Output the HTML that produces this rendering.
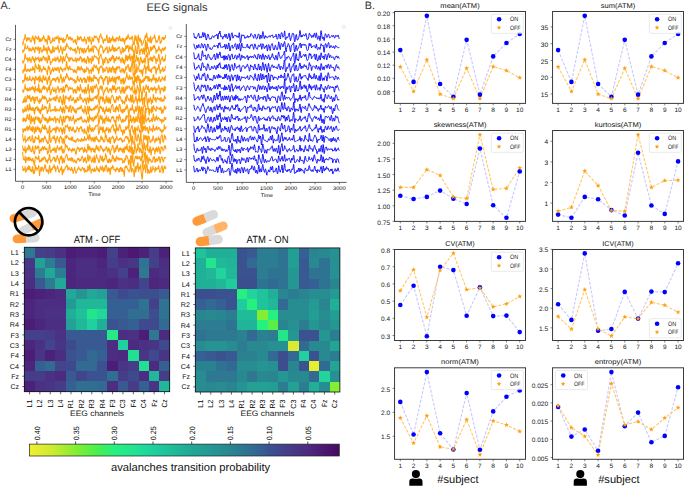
<!DOCTYPE html>
<html><head><meta charset="utf-8"><style>
html,body{margin:0;padding:0;background:#fff;width:685px;height:487px;overflow:hidden}
svg{display:block} text{font-family:"Liberation Sans",sans-serif;text-rendering:geometricPrecision}
</style></head><body>
<svg width="685" height="487" viewBox="0 0 685 487" font-family="Liberation Sans, sans-serif">
<rect width="685" height="487" fill="#fff"/>
<text x="0.6" y="8.9" font-size="10.8" text-anchor="start" fill="#333" >A.</text>
<text x="364.8" y="8.8" font-size="10.8" text-anchor="start" fill="#333" >B.</text>
<text x="177" y="10.9" font-size="11.1" text-anchor="middle" fill="#333" >EEG signals</text>
<line x1="15.5" y1="24.9" x2="15.5" y2="181.3" stroke="#333" stroke-width="0.8"/>
<line x1="15.5" y1="181.3" x2="172.9" y2="181.3" stroke="#333" stroke-width="0.8"/>
<line x1="13.5" y1="39.3" x2="15.5" y2="39.3" stroke="#333" stroke-width="0.6"/>
<text x="11.5" y="41.2" font-size="5.2" text-anchor="end" fill="#000"  textLength="6.11" lengthAdjust="spacingAndGlyphs">Cz</text>
<line x1="13.5" y1="49.3" x2="15.5" y2="49.3" stroke="#333" stroke-width="0.6"/>
<text x="11.5" y="51.2" font-size="5.2" text-anchor="end" fill="#000"  textLength="5.49" lengthAdjust="spacingAndGlyphs">Fz</text>
<line x1="13.5" y1="59.3" x2="15.5" y2="59.3" stroke="#333" stroke-width="0.6"/>
<text x="11.5" y="61.2" font-size="5.2" text-anchor="end" fill="#000"  textLength="6.67" lengthAdjust="spacingAndGlyphs">C4</text>
<line x1="13.5" y1="69.3" x2="15.5" y2="69.3" stroke="#333" stroke-width="0.6"/>
<text x="11.5" y="71.2" font-size="5.2" text-anchor="end" fill="#000"  textLength="6.06" lengthAdjust="spacingAndGlyphs">F4</text>
<line x1="13.5" y1="79.3" x2="15.5" y2="79.3" stroke="#333" stroke-width="0.6"/>
<text x="11.5" y="81.2" font-size="5.2" text-anchor="end" fill="#000"  textLength="6.67" lengthAdjust="spacingAndGlyphs">C3</text>
<line x1="13.5" y1="89.3" x2="15.5" y2="89.3" stroke="#333" stroke-width="0.6"/>
<text x="11.5" y="91.2" font-size="5.2" text-anchor="end" fill="#000"  textLength="6.06" lengthAdjust="spacingAndGlyphs">F3</text>
<line x1="13.5" y1="99.3" x2="15.5" y2="99.3" stroke="#333" stroke-width="0.6"/>
<text x="11.5" y="101.2" font-size="5.2" text-anchor="end" fill="#000"  textLength="6.66" lengthAdjust="spacingAndGlyphs">R4</text>
<line x1="13.5" y1="109.3" x2="15.5" y2="109.3" stroke="#333" stroke-width="0.6"/>
<text x="11.5" y="111.2" font-size="5.2" text-anchor="end" fill="#000"  textLength="6.66" lengthAdjust="spacingAndGlyphs">R3</text>
<line x1="13.5" y1="119.3" x2="15.5" y2="119.3" stroke="#333" stroke-width="0.6"/>
<text x="11.5" y="121.2" font-size="5.2" text-anchor="end" fill="#000"  textLength="6.66" lengthAdjust="spacingAndGlyphs">R2</text>
<line x1="13.5" y1="129.3" x2="15.5" y2="129.3" stroke="#333" stroke-width="0.6"/>
<text x="11.5" y="131.2" font-size="5.2" text-anchor="end" fill="#000"  textLength="6.66" lengthAdjust="spacingAndGlyphs">R1</text>
<line x1="13.5" y1="139.3" x2="15.5" y2="139.3" stroke="#333" stroke-width="0.6"/>
<text x="11.5" y="141.2" font-size="5.2" text-anchor="end" fill="#000"  textLength="5.97" lengthAdjust="spacingAndGlyphs">L4</text>
<line x1="13.5" y1="149.3" x2="15.5" y2="149.3" stroke="#333" stroke-width="0.6"/>
<text x="11.5" y="151.2" font-size="5.2" text-anchor="end" fill="#000"  textLength="5.97" lengthAdjust="spacingAndGlyphs">L3</text>
<line x1="13.5" y1="159.3" x2="15.5" y2="159.3" stroke="#333" stroke-width="0.6"/>
<text x="11.5" y="161.2" font-size="5.2" text-anchor="end" fill="#000"  textLength="5.97" lengthAdjust="spacingAndGlyphs">L2</text>
<line x1="13.5" y1="169.3" x2="15.5" y2="169.3" stroke="#333" stroke-width="0.6"/>
<text x="11.5" y="171.2" font-size="5.2" text-anchor="end" fill="#000"  textLength="5.97" lengthAdjust="spacingAndGlyphs">L1</text>
<line x1="22.6" y1="181.3" x2="22.6" y2="183.3" stroke="#333" stroke-width="0.6"/>
<text x="22.6" y="188.9" font-size="5.2" text-anchor="middle" fill="#000"  textLength="3.18" lengthAdjust="spacingAndGlyphs">0</text>
<line x1="46.5" y1="181.3" x2="46.5" y2="183.3" stroke="#333" stroke-width="0.6"/>
<text x="46.5" y="188.9" font-size="5.2" text-anchor="middle" fill="#000"  textLength="9.54" lengthAdjust="spacingAndGlyphs">500</text>
<line x1="70.4" y1="181.3" x2="70.4" y2="183.3" stroke="#333" stroke-width="0.6"/>
<text x="70.4" y="188.9" font-size="5.2" text-anchor="middle" fill="#000"  textLength="12.72" lengthAdjust="spacingAndGlyphs">1000</text>
<line x1="94.3" y1="181.3" x2="94.3" y2="183.3" stroke="#333" stroke-width="0.6"/>
<text x="94.3" y="188.9" font-size="5.2" text-anchor="middle" fill="#000"  textLength="12.72" lengthAdjust="spacingAndGlyphs">1500</text>
<line x1="118.2" y1="181.3" x2="118.2" y2="183.3" stroke="#333" stroke-width="0.6"/>
<text x="118.2" y="188.9" font-size="5.2" text-anchor="middle" fill="#000"  textLength="12.72" lengthAdjust="spacingAndGlyphs">2000</text>
<line x1="142.1" y1="181.3" x2="142.1" y2="183.3" stroke="#333" stroke-width="0.6"/>
<text x="142.1" y="188.9" font-size="5.2" text-anchor="middle" fill="#000"  textLength="12.72" lengthAdjust="spacingAndGlyphs">2500</text>
<line x1="166" y1="181.3" x2="166" y2="183.3" stroke="#333" stroke-width="0.6"/>
<text x="166" y="188.9" font-size="5.2" text-anchor="middle" fill="#000"  textLength="12.72" lengthAdjust="spacingAndGlyphs">3000</text>
<text x="94.5" y="195.7" font-size="5.1" text-anchor="middle" fill="#000"  textLength="11.99" lengthAdjust="spacingAndGlyphs">Time</text>
<polyline points="22.6,42.3 22.9,45.1 23.2,43.3 23.4,42.1 23.7,40.7 24.0,38.9 24.3,39.5 24.5,38.8 24.8,37.1 25.1,34.2 25.4,35.9 25.6,37.4 25.9,38.2 26.2,38.4 26.5,40.6 26.7,41.4 27.0,39.4 27.3,37.9 27.6,37.6 27.8,40.1 28.1,39.0 28.4,37.9 28.7,38.0 29.0,39.0 29.2,39.7 29.5,38.5 29.8,38.1 30.1,41.1 30.3,41.1 30.6,41.2 30.9,42.2 31.2,41.5 31.4,40.2 31.7,40.2 32.0,38.0 32.3,37.1 32.5,37.7 32.8,35.8 33.1,38.2 33.4,40.1 33.7,38.8 33.9,38.0 34.2,40.2 34.5,43.2 34.8,43.9 35.0,39.8 35.3,36.1 35.6,36.1 35.9,37.0 36.1,37.2 36.4,38.3 36.7,37.4 37.0,37.3 37.2,37.9 37.5,39.5 37.8,39.0 38.1,38.9 38.3,38.5 38.6,36.1 38.9,38.9 39.2,41.8 39.5,41.2 39.7,40.0 40.0,38.4 40.3,40.3 40.6,41.4 40.8,39.2 41.1,38.8 41.4,41.0 41.7,40.2 41.9,40.7 42.2,40.4 42.5,37.6 42.8,38.0 43.0,37.5 43.3,38.6 43.6,35.5 43.9,36.4 44.2,37.9 44.4,39.1 44.7,39.2 45.0,41.3 45.3,41.6 45.5,40.1 45.8,39.3 46.1,39.0 46.4,40.1 46.6,41.3 46.9,41.9 47.2,44.5 47.5,42.7 47.7,39.6 48.0,36.4 48.3,35.4 48.6,37.4 48.8,39.5 49.1,39.6 49.4,36.7 49.7,36.8 50.0,39.6 50.2,41.8 50.5,43.2 50.8,43.3 51.1,42.1 51.3,42.6 51.6,41.5 51.9,40.6 52.2,41.6 52.4,40.9 52.7,37.7 53.0,38.5 53.3,38.7 53.5,40.5 53.8,40.4 54.1,41.2 54.4,41.1 54.7,40.6 54.9,37.2 55.2,38.1 55.5,38.0 55.8,38.1 56.0,38.9 56.3,36.8 56.6,37.3 56.9,37.3 57.1,38.9 57.4,37.2 57.7,37.1 58.0,35.9 58.2,37.8 58.5,39.0 58.8,42.4 59.1,43.3 59.3,40.1 59.6,37.6 59.9,39.0 60.2,39.7 60.5,38.6 60.7,38.4 61.0,39.4 61.3,39.4 61.6,38.1 61.8,38.6 62.1,40.6 62.4,41.1 62.7,42.0 62.9,40.9 63.2,37.8 63.5,39.3 63.8,42.2 64.0,42.7 64.3,40.5 64.6,39.5 64.9,40.7 65.2,40.8 65.4,39.2 65.7,39.3 66.0,39.1 66.3,37.5 66.5,36.7 66.8,35.5 67.1,34.5 67.4,34.6 67.6,36.3 67.9,37.1 68.2,37.0 68.5,38.7 68.7,39.4 69.0,39.1 69.3,38.7 69.6,37.9 69.8,36.7 70.1,38.0 70.4,39.1 70.7,37.2 71.0,38.7 71.2,40.1 71.5,39.7 71.8,39.4 72.1,38.2 72.3,38.8 72.6,38.8 72.9,39.7 73.2,42.0 73.4,42.5 73.7,42.0 74.0,41.1 74.3,40.7 74.5,41.5 74.8,39.9 75.1,39.6 75.4,39.6 75.6,42.7 75.9,43.4 76.2,43.4 76.5,44.5 76.8,42.5 77.0,40.0 77.3,38.7 77.6,36.1 77.9,36.4 78.1,40.0 78.4,39.2 78.7,38.3 79.0,38.9 79.2,37.6 79.5,39.7 79.8,38.9 80.1,38.7 80.3,36.5 80.6,36.9 80.9,37.8 81.2,37.2 81.5,38.9 81.7,40.3 82.0,40.8 82.3,41.1 82.6,39.9 82.8,39.5 83.1,39.5 83.4,39.5 83.7,40.8 83.9,41.7 84.2,38.4 84.5,36.7 84.8,40.0 85.0,39.2 85.3,39.1 85.6,40.3 85.9,41.2 86.1,44.1 86.4,43.0 86.7,40.6 87.0,38.9 87.3,38.4 87.5,37.7 87.8,37.0 88.1,37.4 88.4,38.3 88.6,40.1 88.9,41.8 89.2,41.4 89.5,36.7 89.7,36.6 90.0,38.3 90.3,40.4 90.6,40.6 90.8,40.8 91.1,43.4 91.4,44.3 91.7,42.8 92.0,39.9 92.2,37.3 92.5,39.3 92.8,39.8 93.1,41.0 93.3,41.2 93.6,41.1 93.9,37.8 94.2,37.3 94.4,36.1 94.7,35.7 95.0,37.5 95.3,37.7 95.5,36.4 95.8,36.8 96.1,37.0 96.4,36.2 96.6,37.1 96.9,37.8 97.2,38.0 97.5,39.8 97.8,39.5 98.0,38.6 98.3,41.0 98.6,42.7 98.9,42.6 99.1,40.2 99.4,37.5 99.7,36.0 100.0,35.7 100.2,35.3 100.5,35.3 100.8,33.6 101.1,35.6 101.3,37.9 101.6,37.7 101.9,36.9 102.2,37.8 102.5,39.7 102.7,40.3 103.0,42.8 103.3,42.9 103.6,43.2 103.8,40.7 104.1,39.1 104.4,39.0 104.7,39.3 104.9,40.5 105.2,40.2 105.5,40.0 105.8,40.5 106.0,40.3 106.3,37.8 106.6,35.4 106.9,34.9 107.1,36.7 107.4,38.7 107.7,42.4 108.0,42.2 108.3,41.8 108.5,42.7 108.8,41.3 109.1,38.5 109.4,37.2 109.6,39.3 109.9,42.7 110.2,42.8 110.5,41.3 110.7,41.0 111.0,38.3 111.3,38.8 111.6,40.7 111.8,40.9 112.1,38.8 112.4,38.2 112.7,36.1 113.0,38.2 113.2,40.5 113.5,38.6 113.8,40.1 114.1,42.0 114.3,41.0 114.6,39.4 114.9,39.2 115.2,38.6 115.4,40.5 115.7,41.5 116.0,40.7 116.3,40.1 116.5,37.5 116.8,38.1 117.1,38.3 117.4,37.5 117.6,38.5 117.9,38.9 118.2,39.6 118.5,40.8 118.8,39.2 119.0,37.6 119.3,36.3 119.6,36.1 119.9,38.4 120.1,40.5 120.4,38.9 120.7,40.7 121.0,41.2 121.2,39.3 121.5,40.0 121.8,40.6 122.1,39.1 122.3,38.5 122.6,38.3 122.9,40.6 123.2,41.5 123.4,39.9 123.7,38.5 124.0,39.8 124.3,41.7 124.6,44.2 124.8,42.1 125.1,41.0 125.4,40.0 125.7,38.1 125.9,38.6 126.2,39.8 126.5,39.6 126.8,36.8 127.0,36.5 127.3,38.7 127.6,38.3 127.9,36.5 128.1,34.3 128.4,35.7 128.7,36.8 129.0,37.9 129.3,38.3 129.5,39.1 129.8,39.1 130.1,38.9 130.4,38.2 130.6,38.9 130.9,38.2 131.2,37.1 131.5,39.1 131.7,37.1 132.0,37.5 132.3,36.3 132.6,37.0 132.8,38.7 133.1,43.1 133.4,44.5 133.7,42.4 133.9,42.4 134.2,44.9 134.5,42.2 134.8,36.4 135.1,35.2 135.3,37.5 135.6,39.4 135.9,40.3 136.2,36.6 136.4,38.7 136.7,42.0 137.0,44.1 137.3,44.2 137.5,43.5 137.8,38.7 138.1,35.0 138.4,35.7 138.6,38.0 138.9,40.1 139.2,41.4 139.5,41.2 139.8,38.4 140.0,38.1 140.3,38.4 140.6,40.9 140.9,42.8 141.1,42.8 141.4,40.6 141.7,43.2 142.0,45.7 142.2,43.8 142.5,43.6 142.8,43.2 143.1,43.4 143.3,42.2 143.6,41.6 143.9,40.6 144.2,40.1 144.4,39.5 144.7,38.8 145.0,36.8 145.3,35.6 145.6,36.9 145.8,38.0 146.1,36.8 146.4,33.6 146.7,33.1 146.9,34.6 147.2,36.6 147.5,39.3 147.8,41.1 148.0,41.4 148.3,41.0 148.6,40.9 148.9,38.8 149.1,37.9 149.4,38.6 149.7,41.1 150.0,42.9 150.3,39.1 150.5,36.2 150.8,37.2 151.1,39.6 151.4,42.9 151.6,41.9 151.9,39.9 152.2,39.9 152.5,38.6 152.7,38.8 153.0,37.7 153.3,37.4 153.6,37.4 153.8,37.1 154.1,38.1 154.4,35.8 154.7,34.9 154.9,36.5 155.2,38.0 155.5,38.3 155.8,41.7 156.1,42.6 156.3,41.3 156.6,40.7 156.9,41.6 157.2,42.1 157.4,41.9 157.7,41.0 158.0,39.8 158.3,39.8 158.5,38.1 158.8,36.0 159.1,35.5 159.4,36.9 159.6,37.8 159.9,40.7 160.2,43.6 160.5,43.0 160.8,41.3 161.0,41.3 161.3,42.3 161.6,40.3 161.9,40.0 162.1,37.3 162.4,38.6 162.7,38.2 163.0,37.2 163.2,38.7 163.5,39.5 163.8,39.6 164.1,39.6 164.3,37.3 164.6,37.6 164.9,38.4 165.2,38.3 165.4,36.3 165.7,35.3 166.0,35.4" fill="none" stroke="#ff9d0a" stroke-width="1.05" stroke-linejoin="round"/>
<polyline points="22.6,49.7 22.9,52.7 23.2,51.6 23.4,50.9 23.7,51.5 24.0,49.6 24.3,50.4 24.5,48.9 24.8,46.5 25.1,43.6 25.4,46.5 25.6,48.0 25.9,48.6 26.2,48.7 26.5,48.8 26.7,48.8 27.0,48.4 27.3,46.6 27.6,45.8 27.8,47.6 28.1,48.1 28.4,49.1 28.7,49.1 29.0,50.5 29.2,51.2 29.5,49.3 29.8,47.9 30.1,49.9 30.3,49.4 30.6,48.7 30.9,50.5 31.2,50.9 31.4,50.8 31.7,51.0 32.0,49.1 32.3,48.5 32.5,49.4 32.8,47.1 33.1,47.7 33.4,49.3 33.7,48.3 33.9,48.9 34.2,50.4 34.5,51.4 34.8,52.6 35.0,50.9 35.3,47.1 35.6,47.4 35.9,48.8 36.1,48.3 36.4,48.7 36.7,47.9 37.0,47.3 37.2,49.2 37.5,50.3 37.8,48.8 38.1,48.9 38.3,48.6 38.6,46.7 38.9,49.1 39.2,53.5 39.5,52.2 39.7,49.9 40.0,47.7 40.3,48.7 40.6,48.7 40.8,47.5 41.1,49.8 41.4,52.3 41.7,50.7 41.9,51.6 42.2,51.9 42.5,50.3 42.8,49.6 43.0,49.4 43.3,50.8 43.6,45.8 43.9,45.4 44.2,48.0 44.4,50.0 44.7,49.0 45.0,50.5 45.3,50.7 45.5,49.1 45.8,47.8 46.1,47.5 46.4,49.1 46.6,50.7 46.9,51.9 47.2,54.1 47.5,51.8 47.7,49.4 48.0,47.7 48.3,46.3 48.6,47.9 48.8,50.0 49.1,50.3 49.4,47.9 49.7,49.7 50.0,51.6 50.2,51.7 50.5,52.9 50.8,52.5 51.1,50.0 51.3,51.3 51.6,52.7 51.9,53.2 52.2,52.9 52.4,50.7 52.7,46.2 53.0,46.2 53.3,48.2 53.5,51.8 53.8,51.2 54.1,52.0 54.4,51.5 54.7,50.5 54.9,47.5 55.2,48.0 55.5,48.8 55.8,48.4 56.0,49.2 56.3,48.0 56.6,48.5 56.9,47.6 57.1,49.4 57.4,47.2 57.7,46.4 58.0,45.4 58.2,47.5 58.5,48.5 58.8,50.7 59.1,52.6 59.3,52.5 59.6,50.3 59.9,50.2 60.2,50.1 60.5,47.9 60.7,45.9 61.0,47.5 61.3,48.3 61.6,48.9 61.8,50.3 62.1,52.9 62.4,54.2 62.7,53.3 62.9,49.8 63.2,47.4 63.5,49.6 63.8,50.1 64.0,49.9 64.3,49.4 64.6,50.0 64.9,50.7 65.2,49.3 65.4,46.1 65.7,47.1 66.0,48.6 66.3,46.5 66.5,44.9 66.8,43.3 67.1,44.6 67.4,45.1 67.6,46.3 67.9,46.0 68.2,46.5 68.5,48.0 68.7,47.8 69.0,48.2 69.3,48.1 69.6,48.8 69.8,48.2 70.1,49.6 70.4,50.1 70.7,47.3 71.0,47.6 71.2,48.0 71.5,48.6 71.8,49.3 72.1,48.8 72.3,50.2 72.6,50.3 72.9,49.9 73.2,50.3 73.4,49.9 73.7,50.3 74.0,49.4 74.3,49.2 74.5,51.1 74.8,50.3 75.1,49.8 75.4,48.2 75.6,51.5 75.9,53.6 76.2,52.6 76.5,52.2 76.8,51.7 77.0,50.3 77.3,49.8 77.6,46.9 77.9,46.2 78.1,48.6 78.4,48.6 78.7,47.9 79.0,48.8 79.2,50.3 79.5,53.4 79.8,49.9 80.1,49.3 80.3,47.8 80.6,48.3 80.9,48.8 81.2,48.6 81.5,49.2 81.7,50.9 82.0,52.7 82.3,51.6 82.6,48.9 82.8,48.2 83.1,49.8 83.4,51.7 83.7,53.4 83.9,53.2 84.2,50.8 84.5,48.2 84.8,50.2 85.0,50.1 85.3,50.9 85.6,52.6 85.9,50.5 86.1,51.2 86.4,51.1 86.7,48.7 87.0,48.4 87.3,48.7 87.5,48.9 87.8,48.0 88.1,46.4 88.4,45.6 88.6,48.5 88.9,52.2 89.2,52.2 89.5,49.2 89.7,49.3 90.0,49.9 90.3,51.2 90.6,49.7 90.8,48.3 91.1,50.3 91.4,51.2 91.7,49.0 92.0,47.4 92.2,46.1 92.5,49.7 92.8,50.5 93.1,51.3 93.3,52.4 93.6,50.0 93.9,45.6 94.2,45.8 94.4,45.7 94.7,46.1 95.0,47.1 95.3,46.6 95.5,47.0 95.8,47.8 96.1,47.9 96.4,47.2 96.6,48.5 96.9,49.7 97.2,49.7 97.5,50.0 97.8,49.7 98.0,50.4 98.3,52.9 98.6,55.2 98.9,53.2 99.1,51.1 99.4,48.5 99.7,47.8 100.0,47.7 100.2,46.2 100.5,46.1 100.8,45.0 101.1,45.8 101.3,47.1 101.6,46.7 101.9,46.5 102.2,46.9 102.5,46.9 102.7,49.3 103.0,52.3 103.3,51.3 103.6,53.1 103.8,50.9 104.1,50.3 104.4,50.5 104.7,51.0 104.9,51.0 105.2,49.4 105.5,48.0 105.8,49.5 106.0,49.2 106.3,48.1 106.6,47.1 106.9,46.9 107.1,47.0 107.4,49.3 107.7,52.9 108.0,53.0 108.3,52.6 108.5,52.4 108.8,51.2 109.1,47.6 109.4,46.9 109.6,48.0 109.9,50.1 110.2,51.5 110.5,51.0 110.7,50.9 111.0,49.4 111.3,50.2 111.6,50.2 111.8,49.1 112.1,46.5 112.4,45.8 112.7,45.0 113.0,49.4 113.2,50.5 113.5,47.5 113.8,48.9 114.1,51.8 114.3,50.8 114.6,48.1 114.9,47.7 115.2,47.8 115.4,49.8 115.7,51.1 116.0,50.7 116.3,50.3 116.5,49.1 116.8,49.2 117.1,50.4 117.4,48.1 117.6,48.6 117.9,48.3 118.2,48.2 118.5,48.5 118.8,47.2 119.0,46.6 119.3,47.0 119.6,47.9 119.9,48.5 120.1,50.2 120.4,51.4 120.7,52.9 121.0,54.2 121.2,52.7 121.5,52.4 121.8,51.8 122.1,48.9 122.3,47.4 122.6,48.3 122.9,51.4 123.2,52.8 123.4,50.3 123.7,48.4 124.0,49.4 124.3,49.7 124.6,51.3 124.8,50.2 125.1,50.9 125.4,49.9 125.7,46.2 125.9,45.5 126.2,47.6 126.5,48.5 126.8,46.0 127.0,45.8 127.3,47.6 127.6,47.3 127.9,45.1 128.1,45.2 128.4,50.0 128.7,52.1 129.0,50.6 129.3,49.0 129.5,47.6 129.8,45.9 130.1,46.3 130.4,47.9 130.6,49.0 130.9,48.9 131.2,47.9 131.5,49.9 131.7,48.7 132.0,47.3 132.3,44.3 132.6,48.4 132.8,51.1 133.1,51.6 133.4,50.1 133.7,50.5 133.9,54.2 134.2,59.3 134.5,57.0 134.8,52.2 135.1,50.0 135.3,47.2 135.6,45.7 135.9,48.3 136.2,50.0 136.4,53.8 136.7,53.1 137.0,51.4 137.3,51.9 137.5,53.6 137.8,46.8 138.1,42.3 138.4,43.6 138.6,44.6 138.9,46.6 139.2,50.0 139.5,52.4 139.8,54.8 140.0,54.4 140.3,51.1 140.6,49.9 140.9,50.5 141.1,50.6 141.4,48.7 141.7,49.0 142.0,49.0 142.2,51.0 142.5,54.0 142.8,53.2 143.1,51.4 143.3,49.7 143.6,47.9 143.9,48.4 144.2,52.7 144.4,54.4 144.7,53.6 145.0,48.9 145.3,42.9 145.6,40.3 145.8,44.4 146.1,50.6 146.4,52.0 146.7,47.9 146.9,42.0 147.2,42.7 147.5,46.4 147.8,48.7 148.0,47.4 148.3,47.2 148.6,50.9 148.9,54.3 149.1,55.0 149.4,52.8 149.7,51.7 150.0,51.7 150.3,49.0 150.5,46.8 150.8,47.7 151.1,49.3 151.4,50.8 151.6,48.7 151.9,47.3 152.2,48.7 152.5,49.3 152.7,49.3 153.0,46.6 153.3,46.1 153.6,46.0 153.8,45.4 154.1,48.0 154.4,46.3 154.7,45.6 154.9,47.5 155.2,48.1 155.5,48.1 155.8,50.5 156.1,53.4 156.3,51.8 156.6,50.9 156.9,50.1 157.2,49.8 157.4,50.5 157.7,51.4 158.0,50.1 158.3,49.6 158.5,47.6 158.8,46.4 159.1,47.9 159.4,49.7 159.6,49.8 159.9,49.4 160.2,50.6 160.5,50.7 160.8,49.7 161.0,51.1 161.3,53.5 161.6,51.6 161.9,51.0 162.1,48.9 162.4,48.9 162.7,48.0 163.0,48.5 163.2,49.9 163.5,49.9 163.8,50.7 164.1,49.6 164.3,47.7 164.6,49.1 164.9,49.5 165.2,48.5 165.4,47.1 165.7,48.1 166.0,48.6" fill="none" stroke="#ff9d0a" stroke-width="1.05" stroke-linejoin="round"/>
<polyline points="22.6,60.2 22.9,63.3 23.2,62.0 23.4,61.6 23.7,62.4 24.0,61.0 24.3,60.1 24.5,58.6 24.8,56.3 25.1,53.8 25.4,55.0 25.6,56.7 25.9,58.0 26.2,58.7 26.5,59.3 26.7,58.6 27.0,58.7 27.3,58.2 27.6,57.8 27.8,62.0 28.1,61.3 28.4,58.6 28.7,59.1 29.0,60.2 29.2,60.4 29.5,58.9 29.8,57.3 30.1,59.6 30.3,60.6 30.6,61.0 30.9,62.5 31.2,61.7 31.4,59.3 31.7,59.7 32.0,58.0 32.3,57.1 32.5,58.8 32.8,56.4 33.1,58.3 33.4,60.6 33.7,60.1 33.9,58.8 34.2,60.2 34.5,62.5 34.8,62.8 35.0,60.4 35.3,58.1 35.6,57.2 35.9,58.4 36.1,59.8 36.4,59.9 36.7,59.0 37.0,58.1 37.2,58.1 37.5,58.0 37.8,57.9 38.1,59.5 38.3,59.2 38.6,57.1 38.9,58.6 39.2,62.0 39.5,61.7 39.7,60.0 40.0,59.0 40.3,60.4 40.6,60.3 40.8,57.8 41.1,58.0 41.4,61.3 41.7,59.7 41.9,58.8 42.2,60.1 42.5,59.5 42.8,58.7 43.0,56.5 43.3,57.7 43.6,56.1 43.9,56.5 44.2,57.7 44.4,58.7 44.7,57.8 45.0,60.4 45.3,60.7 45.5,58.8 45.8,58.4 46.1,57.5 46.4,58.2 46.6,59.3 46.9,60.4 47.2,63.1 47.5,62.3 47.7,60.8 48.0,57.5 48.3,55.0 48.6,58.3 48.8,59.7 49.1,57.7 49.4,56.0 49.7,58.2 50.0,61.6 50.2,62.7 50.5,64.7 50.8,64.4 51.1,61.8 51.3,61.9 51.6,61.8 51.9,61.9 52.2,61.4 52.4,61.0 52.7,58.8 53.0,58.9 53.3,59.0 53.5,60.2 53.8,59.3 54.1,60.2 54.4,60.5 54.7,59.3 54.9,57.1 55.2,58.2 55.5,61.1 55.8,61.3 56.0,61.3 56.3,59.0 56.6,58.8 56.9,57.9 57.1,59.9 57.4,57.3 57.7,57.3 58.0,56.7 58.2,58.7 58.5,59.3 58.8,61.4 59.1,62.2 59.3,61.4 59.6,59.6 59.9,60.3 60.2,61.1 60.5,58.4 60.7,55.7 61.0,56.7 61.3,58.2 61.6,58.1 61.8,58.3 62.1,61.2 62.4,62.2 62.7,63.2 62.9,60.2 63.2,56.6 63.5,56.8 63.8,58.8 64.0,60.1 64.3,59.3 64.6,60.7 64.9,61.4 65.2,58.9 65.4,57.3 65.7,56.7 66.0,56.5 66.3,53.4 66.5,53.4 66.8,54.3 67.1,56.4 67.4,56.9 67.6,57.9 67.9,58.0 68.2,57.4 68.5,59.3 68.7,59.4 69.0,61.5 69.3,61.6 69.6,58.6 69.8,57.4 70.1,59.0 70.4,60.0 70.7,58.4 71.0,58.6 71.2,57.9 71.5,57.9 71.8,57.7 72.1,58.0 72.3,60.1 72.6,60.4 72.9,59.3 73.2,60.8 73.4,61.3 73.7,60.7 74.0,60.7 74.3,60.0 74.5,60.6 74.8,60.2 75.1,59.4 75.4,57.7 75.6,59.1 75.9,61.3 76.2,62.0 76.5,62.1 76.8,60.3 77.0,58.0 77.3,59.4 77.6,58.8 77.9,58.5 78.1,60.8 78.4,60.3 78.7,60.1 79.0,59.8 79.2,57.9 79.5,60.3 79.8,58.4 80.1,58.0 80.3,56.2 80.6,57.8 80.9,58.1 81.2,57.4 81.5,59.1 81.7,61.0 82.0,61.8 82.3,62.2 82.6,60.9 82.8,59.0 83.1,58.6 83.4,59.8 83.7,60.9 83.9,61.2 84.2,58.6 84.5,58.3 84.8,62.6 85.0,62.1 85.3,61.6 85.6,61.3 85.9,59.9 86.1,62.1 86.4,63.6 86.7,61.8 87.0,59.6 87.3,58.0 87.5,56.6 87.8,56.7 88.1,57.2 88.4,58.9 88.6,61.4 88.9,62.9 89.2,62.4 89.5,58.6 89.7,58.6 90.0,58.3 90.3,58.6 90.6,59.1 90.8,59.7 91.1,62.8 91.4,63.4 91.7,60.6 92.0,57.9 92.2,56.1 92.5,59.6 92.8,60.9 93.1,60.4 93.3,59.9 93.6,59.1 93.9,56.2 94.2,56.7 94.4,55.4 94.7,55.9 95.0,56.9 95.3,56.6 95.5,56.9 95.8,57.3 96.1,57.3 96.4,56.8 96.6,57.7 96.9,58.4 97.2,58.2 97.5,59.1 97.8,58.3 98.0,57.7 98.3,60.1 98.6,63.4 98.9,63.9 99.1,60.3 99.4,57.3 99.7,56.1 100.0,56.1 100.2,55.5 100.5,55.6 100.8,54.1 101.1,54.3 101.3,57.9 101.6,58.0 101.9,58.1 102.2,59.5 102.5,60.3 102.7,62.1 103.0,65.3 103.3,64.9 103.6,63.8 103.8,59.4 104.1,59.0 104.4,61.8 104.7,62.7 104.9,62.8 105.2,59.5 105.5,57.2 105.8,57.5 106.0,58.0 106.3,58.3 106.6,58.5 106.9,59.9 107.1,59.4 107.4,59.7 107.7,63.1 108.0,63.3 108.3,61.9 108.5,62.7 108.8,62.2 109.1,59.3 109.4,58.2 109.6,58.8 109.9,59.7 110.2,60.6 110.5,61.2 110.7,59.8 111.0,57.2 111.3,58.0 111.6,59.9 111.8,59.2 112.1,56.9 112.4,55.8 112.7,55.2 113.0,57.6 113.2,58.9 113.5,56.2 113.8,58.4 114.1,62.7 114.3,62.6 114.6,60.0 114.9,58.7 115.2,58.2 115.4,60.5 115.7,60.7 116.0,58.8 116.3,58.3 116.5,56.6 116.8,56.7 117.1,58.6 117.4,57.9 117.6,58.1 117.9,58.7 118.2,59.4 118.5,58.5 118.8,57.2 119.0,57.8 119.3,56.7 119.6,57.6 119.9,59.5 120.1,60.7 120.4,59.0 120.7,61.0 121.0,63.0 121.2,61.5 121.5,61.1 121.8,59.8 122.1,57.2 122.3,57.9 122.6,60.0 122.9,61.6 123.2,62.9 123.4,60.9 123.7,59.1 124.0,60.9 124.3,63.0 124.6,64.3 124.8,62.1 125.1,61.9 125.4,59.0 125.7,55.0 125.9,56.9 126.2,59.7 126.5,59.2 126.8,55.7 127.0,57.4 127.3,60.9 127.6,60.5 127.9,59.1 128.1,56.0 128.4,56.3 128.7,56.7 129.0,59.0 129.3,57.5 129.5,54.7 129.8,53.9 130.1,58.1 130.4,60.4 130.6,60.7 130.9,59.6 131.2,56.9 131.5,58.1 131.7,56.1 132.0,56.2 132.3,56.3 132.6,61.0 132.8,63.1 133.1,59.9 133.4,54.3 133.7,54.4 133.9,62.7 134.2,69.2 134.5,66.9 134.8,63.0 135.1,61.6 135.3,60.0 135.6,60.3 135.9,61.4 136.2,55.3 136.4,55.8 136.7,58.2 137.0,58.6 137.3,58.1 137.5,60.9 137.8,59.0 138.1,57.2 138.4,58.0 138.6,58.3 138.9,62.8 139.2,66.3 139.5,64.9 139.8,64.0 140.0,62.4 140.3,59.3 140.6,57.4 140.9,57.0 141.1,58.7 141.4,59.3 141.7,61.9 142.0,61.6 142.2,63.0 142.5,63.1 142.8,60.2 143.1,60.6 143.3,61.2 143.6,62.4 143.9,61.4 144.2,58.3 144.4,58.5 144.7,61.8 145.0,63.4 145.3,62.3 145.6,59.9 145.8,57.1 146.1,54.9 146.4,55.6 146.7,56.8 146.9,54.4 147.2,52.4 147.5,53.8 147.8,58.0 148.0,63.6 148.3,65.7 148.6,63.7 148.9,59.5 149.1,58.8 149.4,59.6 149.7,59.0 150.0,59.2 150.3,57.0 150.5,57.5 150.8,60.1 151.1,60.8 151.4,60.3 151.6,58.1 151.9,57.2 152.2,59.8 152.5,60.9 152.7,61.5 153.0,58.1 153.3,57.1 153.6,57.4 153.8,55.7 154.1,56.7 154.4,56.3 154.7,56.5 154.9,58.7 155.2,58.7 155.5,58.2 155.8,61.8 156.1,63.8 156.3,60.3 156.6,58.8 156.9,59.7 157.2,60.8 157.4,61.2 157.7,61.1 158.0,58.8 158.3,56.7 158.5,54.6 158.8,54.4 159.1,55.3 159.4,58.1 159.6,59.6 159.9,61.9 160.2,64.5 160.5,63.6 160.8,60.7 161.0,59.1 161.3,59.3 161.6,58.6 161.9,59.2 162.1,56.6 162.4,57.1 162.7,58.5 163.0,59.0 163.2,61.0 163.5,61.0 163.8,61.2 164.1,61.0 164.3,58.9 164.6,60.0 164.9,60.8 165.2,60.0 165.4,56.6 165.7,54.8 166.0,54.7" fill="none" stroke="#ff9d0a" stroke-width="1.05" stroke-linejoin="round"/>
<polyline points="22.6,70.2 22.9,73.2 23.2,72.0 23.4,70.2 23.7,70.5 24.0,68.9 24.3,70.6 24.5,71.1 24.8,67.9 25.1,63.7 25.4,65.5 25.6,68.4 25.9,70.3 26.2,71.3 26.5,71.6 26.7,70.7 27.0,70.0 27.3,69.5 27.6,69.1 27.8,70.9 28.1,70.3 28.4,69.6 28.7,69.4 29.0,70.6 29.2,71.7 29.5,71.1 29.8,69.8 30.1,71.1 30.3,70.2 30.6,68.6 30.9,69.3 31.2,69.6 31.4,69.4 31.7,70.4 32.0,69.8 32.3,69.6 32.5,70.2 32.8,66.4 33.1,67.3 33.4,69.4 33.7,69.0 33.9,68.4 34.2,69.0 34.5,72.4 34.8,72.7 35.0,67.2 35.3,63.6 35.6,65.0 35.9,65.4 36.1,65.9 36.4,67.9 36.7,67.5 37.0,68.1 37.2,68.7 37.5,69.2 37.8,68.1 38.1,68.3 38.3,67.1 38.6,64.0 38.9,66.4 39.2,70.9 39.5,71.5 39.7,69.2 40.0,65.6 40.3,67.8 40.6,69.7 40.8,68.3 41.1,69.3 41.4,72.2 41.7,70.8 41.9,70.8 42.2,70.9 42.5,69.2 42.8,69.5 43.0,68.4 43.3,69.0 43.6,66.5 43.9,67.2 44.2,68.3 44.4,69.6 44.7,68.2 45.0,69.2 45.3,69.1 45.5,68.2 45.8,69.8 46.1,70.7 46.4,70.8 46.6,70.8 46.9,71.6 47.2,75.0 47.5,73.8 47.7,71.8 48.0,68.3 48.3,65.7 48.6,67.7 48.8,69.3 49.1,69.0 49.4,67.1 49.7,67.4 50.0,71.5 50.2,73.2 50.5,74.4 50.8,74.0 51.1,71.7 51.3,72.2 51.6,69.9 51.9,69.9 52.2,70.7 52.4,69.4 52.7,67.4 53.0,69.4 53.3,70.2 53.5,71.8 53.8,69.2 54.1,69.7 54.4,69.9 54.7,69.7 54.9,67.4 55.2,68.4 55.5,69.5 55.8,69.9 56.0,70.5 56.3,68.3 56.6,68.0 56.9,68.4 57.1,70.8 57.4,68.4 57.7,68.3 58.0,66.9 58.2,68.3 58.5,68.1 58.8,69.7 59.1,72.3 59.3,72.7 59.6,70.1 59.9,69.2 60.2,68.2 60.5,67.0 60.7,68.2 61.0,69.1 61.3,69.5 61.6,68.1 61.8,68.9 62.1,70.8 62.4,70.4 62.7,71.7 62.9,70.7 63.2,69.1 63.5,68.9 63.8,68.8 64.0,68.8 64.3,68.1 64.6,68.5 64.9,70.2 65.2,69.6 65.4,68.4 65.7,69.6 66.0,68.2 66.3,63.4 66.5,61.4 66.8,62.5 67.1,65.2 67.4,67.3 67.6,69.0 67.9,67.9 68.2,67.3 68.5,70.3 68.7,69.7 69.0,68.4 69.3,67.6 69.6,66.5 69.8,65.9 70.1,68.6 70.4,69.7 70.7,68.6 71.0,69.6 71.2,69.3 71.5,69.3 71.8,69.5 72.1,69.4 72.3,69.7 72.6,69.6 72.9,70.1 73.2,70.7 73.4,71.9 73.7,72.5 74.0,70.8 74.3,69.6 74.5,71.5 74.8,71.4 75.1,71.8 75.4,70.3 75.6,72.0 75.9,72.7 76.2,72.6 76.5,73.0 76.8,71.0 77.0,68.9 77.3,69.1 77.6,67.7 77.9,66.4 78.1,70.0 78.4,69.3 78.7,67.1 79.0,68.0 79.2,66.9 79.5,69.5 79.8,69.1 80.1,70.7 80.3,68.2 80.6,68.6 80.9,68.4 81.2,66.2 81.5,67.3 81.7,68.9 82.0,69.7 82.3,69.6 82.6,68.5 82.8,69.2 83.1,71.0 83.4,71.7 83.7,72.1 83.9,71.9 84.2,69.4 84.5,69.2 84.8,73.1 85.0,71.4 85.3,70.1 85.6,71.4 85.9,70.2 86.1,71.4 86.4,69.9 86.7,66.9 87.0,68.1 87.3,69.3 87.5,69.3 87.8,68.7 88.1,68.2 88.4,68.7 88.6,70.1 88.9,72.4 89.2,73.6 89.5,70.9 89.7,70.5 90.0,70.4 90.3,70.1 90.6,69.6 90.8,69.5 91.1,72.6 91.4,73.4 91.7,71.4 92.0,69.1 92.2,67.3 92.5,69.0 92.8,70.2 93.1,71.2 93.3,70.8 93.6,68.8 93.9,64.8 94.2,65.6 94.4,66.0 94.7,65.3 95.0,67.1 95.3,67.8 95.5,67.7 95.8,67.6 96.1,66.2 96.4,65.4 96.6,66.4 96.9,68.1 97.2,69.0 97.5,70.1 97.8,69.3 98.0,68.1 98.3,70.6 98.6,73.5 98.9,72.8 99.1,71.5 99.4,68.3 99.7,67.2 100.0,68.2 100.2,66.8 100.5,67.1 100.8,66.0 101.1,65.7 101.3,67.3 101.6,66.7 101.9,66.3 102.2,67.0 102.5,67.5 102.7,70.0 103.0,72.8 103.3,71.5 103.6,71.1 103.8,68.4 104.1,68.6 104.4,70.1 104.7,71.0 104.9,71.5 105.2,70.6 105.5,70.1 105.8,70.1 106.0,68.4 106.3,67.1 106.6,67.4 106.9,67.7 107.1,68.0 107.4,69.0 107.7,71.5 108.0,72.7 108.3,72.8 108.5,72.1 108.8,70.6 109.1,68.1 109.4,67.2 109.6,67.9 109.9,70.4 110.2,72.1 110.5,70.7 110.7,70.5 111.0,67.9 111.3,69.2 111.6,72.1 111.8,72.1 112.1,68.7 112.4,67.3 112.7,66.1 113.0,68.5 113.2,69.1 113.5,67.7 113.8,70.2 114.1,72.8 114.3,72.3 114.6,68.6 114.9,69.3 115.2,68.4 115.4,71.9 115.7,73.4 116.0,70.4 116.3,68.2 116.5,66.8 116.8,67.7 117.1,70.0 117.4,67.6 117.6,66.8 117.9,67.1 118.2,66.9 118.5,68.1 118.8,67.2 119.0,67.4 119.3,66.7 119.6,66.7 119.9,69.7 120.1,71.6 120.4,70.2 120.7,71.4 121.0,72.6 121.2,71.3 121.5,70.2 121.8,69.8 122.1,68.4 122.3,68.7 122.6,70.3 122.9,71.8 123.2,72.1 123.4,69.4 123.7,69.0 124.0,71.7 124.3,73.2 124.6,72.7 124.8,70.2 125.1,70.5 125.4,70.9 125.7,67.4 125.9,66.3 126.2,68.0 126.5,69.4 126.8,67.4 127.0,67.2 127.3,67.0 127.6,65.6 127.9,65.0 128.1,64.2 128.4,66.2 128.7,67.3 129.0,70.1 129.3,71.5 129.5,71.5 129.8,69.7 130.1,67.3 130.4,67.0 130.6,71.5 130.9,71.9 131.2,67.0 131.5,66.2 131.7,64.3 132.0,62.7 132.3,59.8 132.6,63.8 132.8,68.3 133.1,73.2 133.4,75.7 133.7,73.3 133.9,73.9 134.2,78.3 134.5,74.8 134.8,69.8 135.1,72.4 135.3,74.2 135.6,71.6 135.9,68.1 136.2,64.2 136.4,69.4 136.7,72.8 137.0,71.8 137.3,69.2 137.5,69.4 137.8,66.8 138.1,66.6 138.4,67.8 138.6,68.1 138.9,68.8 139.2,70.8 139.5,71.8 139.8,71.2 140.0,70.4 140.3,70.1 140.6,70.3 140.9,71.5 141.1,73.5 141.4,71.3 141.7,70.3 142.0,69.9 142.2,72.7 142.5,76.3 142.8,73.7 143.1,71.0 143.3,69.3 143.6,69.2 143.9,68.5 144.2,68.2 144.4,65.5 144.7,64.7 145.0,65.7 145.3,67.5 145.6,70.8 145.8,74.0 146.1,72.2 146.4,67.6 146.7,67.4 146.9,68.7 147.2,67.5 147.5,66.1 147.8,66.4 148.0,69.0 148.3,70.5 148.6,68.6 148.9,65.6 149.1,67.8 149.4,70.8 149.7,69.9 150.0,71.6 150.3,70.5 150.5,69.6 150.8,69.5 151.1,69.5 151.4,72.5 151.6,72.0 151.9,68.2 152.2,67.7 152.5,68.3 152.7,68.2 153.0,67.7 153.3,68.0 153.6,67.6 153.8,66.8 154.1,68.7 154.4,67.3 154.7,66.2 154.9,66.9 155.2,67.0 155.5,67.9 155.8,73.2 156.1,74.2 156.3,72.5 156.6,70.5 156.9,68.5 157.2,68.0 157.4,69.5 157.7,69.9 158.0,68.3 158.3,68.0 158.5,65.7 158.8,64.4 159.1,65.3 159.4,68.2 159.6,69.2 159.9,70.6 160.2,73.3 160.5,72.4 160.8,70.5 161.0,70.1 161.3,71.0 161.6,70.4 161.9,70.4 162.1,68.6 162.4,68.5 162.7,67.5 163.0,68.4 163.2,71.6 163.5,71.3 163.8,71.1 164.1,70.4 164.3,69.0 164.6,70.5 164.9,69.9 165.2,67.7 165.4,66.2 165.7,66.2 166.0,66.2" fill="none" stroke="#ff9d0a" stroke-width="1.05" stroke-linejoin="round"/>
<polyline points="22.6,80.0 22.9,82.9 23.2,81.9 23.4,80.3 23.7,81.2 24.0,81.0 24.3,81.3 24.5,79.7 24.8,76.9 25.1,73.8 25.4,75.1 25.6,77.6 25.9,80.0 26.2,80.3 26.5,79.7 26.7,78.3 27.0,77.6 27.3,77.2 27.6,77.8 27.8,80.7 28.1,80.0 28.4,79.5 28.7,79.2 29.0,80.3 29.2,80.0 29.5,77.5 29.8,76.1 30.1,78.1 30.3,79.6 30.6,79.6 30.9,80.2 31.2,80.8 31.4,80.4 31.7,80.9 32.0,79.3 32.3,78.7 32.5,79.5 32.8,77.0 33.1,78.0 33.4,79.3 33.7,78.7 33.9,78.3 34.2,80.4 34.5,82.9 34.8,84.3 35.0,81.5 35.3,77.0 35.6,76.2 35.9,77.3 36.1,76.5 36.4,78.5 36.7,80.0 37.0,79.1 37.2,78.8 37.5,80.0 37.8,78.3 38.1,78.1 38.3,79.0 38.6,76.7 38.9,78.9 39.2,82.3 39.5,80.6 39.7,77.9 40.0,75.5 40.3,78.8 40.6,80.9 40.8,78.7 41.1,78.0 41.4,80.8 41.7,80.4 41.9,81.7 42.2,82.8 42.5,81.0 42.8,78.7 43.0,75.6 43.3,76.1 43.6,76.3 43.9,79.2 44.2,80.0 44.4,80.1 44.7,78.3 45.0,79.9 45.3,79.4 45.5,78.4 45.8,76.6 46.1,78.3 46.4,80.6 46.6,81.1 46.9,80.7 47.2,84.4 47.5,83.5 47.7,82.0 48.0,79.1 48.3,77.1 48.6,78.5 48.8,79.9 49.1,77.8 49.4,75.8 49.7,77.8 50.0,80.7 50.2,82.8 50.5,85.3 50.8,85.1 51.1,82.3 51.3,81.8 51.6,80.5 51.9,80.2 52.2,80.5 52.4,80.5 52.7,78.5 53.0,78.7 53.3,78.6 53.5,80.0 53.8,78.4 54.1,79.6 54.4,79.6 54.7,80.3 54.9,78.6 55.2,80.0 55.5,81.7 55.8,81.2 56.0,80.8 56.3,79.0 56.6,78.8 56.9,77.5 57.1,79.5 57.4,77.0 57.7,77.9 58.0,77.3 58.2,78.1 58.5,79.7 58.8,82.4 59.1,82.4 59.3,81.6 59.6,79.7 59.9,79.0 60.2,78.6 60.5,76.3 60.7,74.1 61.0,75.4 61.3,77.7 61.6,78.3 61.8,80.3 62.1,83.0 62.4,82.0 62.7,81.3 62.9,79.0 63.2,77.0 63.5,78.8 63.8,80.2 64.0,81.9 64.3,81.5 64.6,80.5 64.9,79.5 65.2,77.6 65.4,76.6 65.7,77.2 66.0,78.1 66.3,75.6 66.5,73.7 66.8,73.6 67.1,74.5 67.4,75.2 67.6,77.2 67.9,77.2 68.2,76.7 68.5,79.1 68.7,79.6 69.0,79.7 69.3,80.5 69.6,79.2 69.8,78.1 70.1,78.4 70.4,79.5 70.7,77.5 71.0,78.1 71.2,79.3 71.5,79.5 71.8,78.5 72.1,78.1 72.3,78.8 72.6,79.4 72.9,79.8 73.2,80.8 73.4,80.6 73.7,79.9 74.0,79.7 74.3,79.3 74.5,81.3 74.8,82.6 75.1,83.4 75.4,80.6 75.6,81.3 75.9,81.5 76.2,81.8 76.5,82.3 76.8,80.8 77.0,78.6 77.3,77.1 77.6,76.0 77.9,77.1 78.1,80.0 78.4,80.4 78.7,79.6 79.0,80.0 79.2,80.2 79.5,81.6 79.8,79.6 80.1,79.6 80.3,77.5 80.6,78.8 80.9,79.2 81.2,78.5 81.5,79.7 81.7,81.9 82.0,82.6 82.3,81.9 82.6,80.1 82.8,79.3 83.1,79.5 83.4,78.5 83.7,78.3 83.9,79.1 84.2,77.7 84.5,78.1 84.8,82.5 85.0,81.0 85.3,79.3 85.6,78.7 85.9,79.2 86.1,82.6 86.4,82.7 86.7,80.4 87.0,80.2 87.3,79.6 87.5,77.4 87.8,76.2 88.1,76.9 88.4,78.1 88.6,79.9 88.9,81.7 89.2,81.9 89.5,77.0 89.7,75.7 90.0,78.4 90.3,80.0 90.6,78.7 90.8,77.5 91.1,80.9 91.4,82.3 91.7,80.2 92.0,78.3 92.2,77.8 92.5,80.7 92.8,80.7 93.1,80.6 93.3,81.3 93.6,79.9 93.9,75.0 94.2,75.3 94.4,75.6 94.7,77.6 95.0,78.5 95.3,76.9 95.5,78.2 95.8,78.4 96.1,77.9 96.4,77.5 96.6,77.8 96.9,78.5 97.2,79.9 97.5,80.8 97.8,79.7 98.0,79.2 98.3,81.6 98.6,84.2 98.9,81.8 99.1,79.0 99.4,77.9 99.7,77.3 100.0,77.3 100.2,77.2 100.5,77.3 100.8,75.8 101.1,75.6 101.3,78.6 101.6,78.8 101.9,77.8 102.2,78.3 102.5,77.7 102.7,79.1 103.0,82.4 103.3,82.9 103.6,84.6 103.8,81.4 104.1,79.1 104.4,78.8 104.7,78.5 104.9,80.2 105.2,78.3 105.5,76.3 105.8,78.2 106.0,77.1 106.3,76.5 106.6,77.6 106.9,77.5 107.1,76.8 107.4,79.1 107.7,84.0 108.0,84.7 108.3,83.3 108.5,82.6 108.8,80.6 109.1,77.7 109.4,76.9 109.6,78.5 109.9,81.0 110.2,82.2 110.5,81.1 110.7,81.3 111.0,78.4 111.3,78.0 111.6,80.6 111.8,80.8 112.1,78.1 112.4,77.2 112.7,76.5 113.0,79.1 113.2,81.4 113.5,79.1 113.8,81.0 114.1,82.5 114.3,80.0 114.6,77.3 114.9,77.0 115.2,77.5 115.4,82.1 115.7,84.2 116.0,81.4 116.3,79.1 116.5,77.4 116.8,77.9 117.1,78.7 117.4,77.2 117.6,76.6 117.9,77.0 118.2,78.0 118.5,79.9 118.8,78.5 119.0,76.3 119.3,76.2 119.6,77.7 119.9,78.5 120.1,80.1 120.4,79.8 120.7,81.4 121.0,84.0 121.2,82.7 121.5,80.9 121.8,79.3 122.1,78.3 122.3,79.4 122.6,81.1 122.9,82.5 123.2,84.3 123.4,80.8 123.7,78.1 124.0,80.0 124.3,82.6 124.6,83.5 124.8,81.2 125.1,81.6 125.4,80.3 125.7,77.5 125.9,77.3 126.2,77.7 126.5,76.9 126.8,72.5 127.0,74.2 127.3,76.6 127.6,77.0 127.9,78.6 128.1,79.4 128.4,79.6 128.7,78.7 129.0,77.1 129.3,75.3 129.5,76.0 129.8,79.0 130.1,79.3 130.4,77.0 130.6,78.0 130.9,79.2 131.2,78.8 131.5,78.7 131.7,76.9 132.0,77.6 132.3,77.2 132.6,79.1 132.8,82.6 133.1,84.8 133.4,83.0 133.7,81.1 133.9,83.2 134.2,86.9 134.5,81.4 134.8,75.8 135.1,76.7 135.3,80.6 135.6,81.5 135.9,79.8 136.2,76.8 136.4,81.1 136.7,83.1 137.0,80.1 137.3,76.6 137.5,75.7 137.8,75.2 138.1,78.0 138.4,80.6 138.6,77.8 138.9,76.2 139.2,79.2 139.5,83.3 139.8,85.6 140.0,82.1 140.3,79.0 140.6,80.9 140.9,82.6 141.1,82.4 141.4,80.9 141.7,83.1 142.0,81.9 142.2,80.4 142.5,80.3 142.8,79.8 143.1,82.2 143.3,82.2 143.6,80.4 143.9,78.1 144.2,79.8 144.4,80.6 144.7,80.3 145.0,78.2 145.3,76.6 145.6,76.4 145.8,77.4 146.1,78.5 146.4,78.2 146.7,77.2 146.9,76.0 147.2,76.1 147.5,77.2 147.8,78.8 148.0,81.1 148.3,80.5 148.6,77.1 148.9,76.6 149.1,80.1 149.4,81.5 149.7,78.4 150.0,79.2 150.3,79.8 150.5,79.5 150.8,80.3 151.1,79.2 151.4,81.9 151.6,81.4 151.9,78.9 152.2,79.0 152.5,79.4 152.7,80.0 153.0,76.4 153.3,74.6 153.6,75.0 153.8,76.0 154.1,80.3 154.4,79.5 154.7,78.6 154.9,79.1 155.2,78.3 155.5,78.9 155.8,82.7 156.1,82.6 156.3,79.2 156.6,78.1 156.9,80.0 157.2,80.1 157.4,80.4 157.7,81.8 158.0,81.2 158.3,80.4 158.5,79.1 158.8,77.3 159.1,76.8 159.4,78.5 159.6,79.1 159.9,79.6 160.2,81.6 160.5,81.7 160.8,81.2 161.0,79.5 161.3,80.5 161.6,79.4 161.9,79.1 162.1,76.8 162.4,77.4 162.7,78.7 163.0,79.0 163.2,78.9 163.5,78.9 163.8,80.1 164.1,79.9 164.3,77.4 164.6,79.0 164.9,80.8 165.2,79.3 165.4,75.8 165.7,76.8 166.0,76.8" fill="none" stroke="#ff9d0a" stroke-width="1.05" stroke-linejoin="round"/>
<polyline points="22.6,89.5 22.9,92.2 23.2,92.0 23.4,92.3 23.7,91.8 24.0,89.9 24.3,88.5 24.5,88.2 24.8,87.3 25.1,84.3 25.4,86.4 25.6,89.1 25.9,89.3 26.2,88.7 26.5,89.9 26.7,90.3 27.0,89.5 27.3,88.4 27.6,88.1 27.8,91.1 28.1,89.8 28.4,89.1 28.7,89.8 29.0,90.9 29.2,89.5 29.5,88.0 29.8,87.5 30.1,89.8 30.3,90.3 30.6,89.2 30.9,90.0 31.2,89.7 31.4,87.6 31.7,89.0 32.0,89.1 32.3,86.6 32.5,89.0 32.8,86.7 33.1,87.7 33.4,90.2 33.7,89.4 33.9,88.1 34.2,90.7 34.5,91.5 34.8,92.5 35.0,89.8 35.3,86.2 35.6,87.3 35.9,89.7 36.1,90.5 36.4,89.7 36.7,89.2 37.0,89.4 37.2,88.5 37.5,90.7 37.8,91.4 38.1,90.9 38.3,88.1 38.6,83.9 38.9,86.4 39.2,91.5 39.5,92.6 39.7,90.6 40.0,88.8 40.3,90.9 40.6,92.3 40.8,90.7 41.1,91.5 41.4,92.7 41.7,89.7 41.9,89.1 42.2,90.0 42.5,87.7 42.8,87.3 43.0,87.8 43.3,88.6 43.6,85.8 43.9,87.1 44.2,87.7 44.4,89.7 44.7,86.3 45.0,87.3 45.3,88.3 45.5,87.9 45.8,88.1 46.1,87.9 46.4,88.3 46.6,90.2 46.9,90.3 47.2,92.1 47.5,90.4 47.7,89.6 48.0,87.6 48.3,86.9 48.6,88.0 48.8,89.9 49.1,88.1 49.4,85.0 49.7,87.3 50.0,91.0 50.2,92.6 50.5,94.4 50.8,94.7 51.1,92.5 51.3,92.4 51.6,90.0 51.9,89.5 52.2,89.7 52.4,89.1 52.7,87.5 53.0,88.9 53.3,89.5 53.5,91.8 53.8,90.9 54.1,91.3 54.4,90.5 54.7,90.4 54.9,87.7 55.2,90.2 55.5,92.0 55.8,92.3 56.0,93.4 56.3,89.5 56.6,89.1 56.9,89.0 57.1,89.3 57.4,87.1 57.7,88.0 58.0,86.2 58.2,87.4 58.5,88.1 58.8,90.7 59.1,92.7 59.3,91.2 59.6,89.2 59.9,89.2 60.2,90.0 60.5,89.3 60.7,88.2 61.0,88.3 61.3,89.3 61.6,88.3 61.8,88.7 62.1,92.2 62.4,92.6 62.7,91.9 62.9,89.2 63.2,86.5 63.5,87.4 63.8,89.7 64.0,91.8 64.3,92.0 64.6,91.9 64.9,89.6 65.2,86.8 65.4,85.2 65.7,85.4 66.0,87.4 66.3,85.8 66.5,84.4 66.8,84.7 67.1,85.7 67.4,85.3 67.6,86.8 67.9,87.0 68.2,87.6 68.5,91.0 68.7,89.6 69.0,88.9 69.3,88.5 69.6,88.2 69.8,87.1 70.1,87.7 70.4,89.1 70.7,88.0 71.0,89.0 71.2,89.3 71.5,88.6 71.8,88.3 72.1,87.8 72.3,88.0 72.6,88.8 72.9,90.4 73.2,92.2 73.4,93.0 73.7,92.4 74.0,90.2 74.3,89.3 74.5,90.6 74.8,90.9 75.1,91.0 75.4,89.4 75.6,92.7 75.9,93.1 76.2,92.0 76.5,92.9 76.8,91.3 77.0,88.0 77.3,87.1 77.6,86.3 77.9,87.1 78.1,90.3 78.4,90.2 78.7,87.6 79.0,88.0 79.2,88.1 79.5,91.0 79.8,90.4 80.1,88.7 80.3,84.4 80.6,86.8 80.9,87.3 81.2,88.0 81.5,90.0 81.7,90.1 82.0,90.8 82.3,92.4 82.6,91.1 82.8,89.6 83.1,89.8 83.4,91.8 83.7,92.3 83.9,92.2 84.2,89.8 84.5,89.6 84.8,93.9 85.0,91.4 85.3,87.6 85.6,87.3 85.9,88.4 86.1,92.0 86.4,93.3 86.7,91.5 87.0,90.1 87.3,90.4 87.5,89.4 87.8,86.6 88.1,84.3 88.4,85.0 88.6,88.0 88.9,92.1 89.2,93.9 89.5,89.7 89.7,89.4 90.0,89.1 90.3,88.9 90.6,88.1 90.8,86.6 91.1,90.6 91.4,92.1 91.7,90.2 92.0,87.5 92.2,86.1 92.5,90.6 92.8,93.1 93.1,92.2 93.3,91.2 93.6,89.7 93.9,86.1 94.2,86.5 94.4,86.0 94.7,86.5 95.0,88.3 95.3,88.4 95.5,86.8 95.8,86.1 96.1,85.1 96.4,84.4 96.6,85.1 96.9,87.1 97.2,87.9 97.5,88.3 97.8,88.6 98.0,90.5 98.3,93.6 98.6,95.2 98.9,92.8 99.1,89.3 99.4,88.0 99.7,88.3 100.0,88.3 100.2,86.3 100.5,86.6 100.8,86.1 101.1,87.9 101.3,90.0 101.6,87.8 101.9,85.7 102.2,86.6 102.5,87.8 102.7,89.2 103.0,92.4 103.3,93.7 103.6,95.4 103.8,94.1 104.1,92.9 104.4,91.4 104.7,90.3 104.9,91.3 105.2,90.4 105.5,89.2 105.8,89.9 106.0,87.7 106.3,87.9 106.6,88.4 106.9,88.7 107.1,87.3 107.4,88.2 107.7,91.5 108.0,91.7 108.3,91.8 108.5,92.7 108.8,91.7 109.1,89.9 109.4,88.8 109.6,89.0 109.9,90.4 110.2,90.6 110.5,88.7 110.7,89.6 111.0,89.4 111.3,90.3 111.6,92.7 111.8,91.3 112.1,88.4 112.4,87.3 112.7,85.3 113.0,88.1 113.2,89.5 113.5,86.3 113.8,88.1 114.1,89.6 114.3,87.8 114.6,85.8 114.9,87.4 115.2,88.3 115.4,91.1 115.7,92.5 116.0,91.2 116.3,89.4 116.5,88.8 116.8,89.4 117.1,89.8 117.4,87.2 117.6,87.6 117.9,88.2 118.2,88.6 118.5,88.4 118.8,87.9 119.0,87.2 119.3,86.7 119.6,87.3 119.9,90.2 120.1,91.7 120.4,90.7 120.7,92.6 121.0,93.7 121.2,92.0 121.5,91.3 121.8,88.5 122.1,86.7 122.3,87.9 122.6,89.3 122.9,92.1 123.2,92.9 123.4,89.6 123.7,87.1 124.0,88.1 124.3,91.2 124.6,93.4 124.8,91.4 125.1,91.6 125.4,90.2 125.7,87.0 125.9,88.8 126.2,90.0 126.5,89.1 126.8,85.9 127.0,86.0 127.3,88.5 127.6,88.1 127.9,88.1 128.1,86.4 128.4,86.8 128.7,86.7 129.0,86.9 129.3,86.2 129.5,88.0 129.8,88.3 130.1,88.4 130.4,88.2 130.6,89.3 130.9,90.7 131.2,89.5 131.5,89.6 131.7,87.1 132.0,86.8 132.3,86.1 132.6,88.1 132.8,90.1 133.1,92.0 133.4,92.2 133.7,91.6 133.9,91.6 134.2,94.0 134.5,90.7 134.8,87.5 135.1,88.7 135.3,90.7 135.6,93.6 135.9,94.8 136.2,90.0 136.4,91.7 136.7,93.1 137.0,89.0 137.3,85.0 137.5,87.8 137.8,86.7 138.1,87.4 138.4,89.2 138.6,89.7 138.9,91.1 139.2,93.3 139.5,93.6 139.8,89.9 140.0,86.6 140.3,84.8 140.6,87.5 140.9,90.6 141.1,92.0 141.4,92.1 141.7,95.8 142.0,95.7 142.2,94.6 142.5,92.9 142.8,89.6 143.1,88.8 143.3,87.2 143.6,86.3 143.9,88.6 144.2,92.5 144.4,90.6 144.7,89.4 145.0,89.5 145.3,89.3 145.6,88.1 145.8,86.5 146.1,84.9 146.4,85.0 146.7,86.9 146.9,87.2 147.2,89.3 147.5,89.7 147.8,88.0 148.0,86.3 148.3,86.0 148.6,89.6 148.9,91.4 149.1,92.6 149.4,91.3 149.7,89.5 150.0,90.4 150.3,88.5 150.5,87.9 150.8,88.9 151.1,88.9 151.4,89.5 151.6,88.3 151.9,87.3 152.2,89.2 152.5,90.3 152.7,90.9 153.0,88.7 153.3,88.0 153.6,89.3 153.8,89.0 154.1,89.7 154.4,88.5 154.7,86.5 154.9,87.6 155.2,87.9 155.5,89.0 155.8,93.3 156.1,92.8 156.3,90.2 156.6,88.6 156.9,89.0 157.2,89.2 157.4,90.0 157.7,89.4 158.0,89.3 158.3,87.8 158.5,85.4 158.8,85.7 159.1,86.8 159.4,87.9 159.6,89.0 159.9,91.0 160.2,94.0 160.5,92.5 160.8,90.0 161.0,88.3 161.3,89.0 161.6,88.3 161.9,89.1 162.1,87.7 162.4,89.3 162.7,89.2 163.0,88.6 163.2,90.4 163.5,91.5 163.8,90.7 164.1,88.8 164.3,86.2 164.6,89.7 164.9,91.0 165.2,89.6 165.4,87.0 165.7,87.6 166.0,88.0" fill="none" stroke="#ff9d0a" stroke-width="1.05" stroke-linejoin="round"/>
<polyline points="22.6,100.8 22.9,102.8 23.2,102.5 23.4,101.8 23.7,99.1 24.0,99.2 24.3,102.1 24.5,101.3 24.8,99.1 25.1,96.4 25.4,99.4 25.6,102.2 25.9,101.8 26.2,101.8 26.5,101.7 26.7,99.2 27.0,97.0 27.3,95.1 27.6,95.4 27.8,98.1 28.1,96.7 28.4,96.1 28.7,98.3 29.0,98.7 29.2,97.4 29.5,95.9 29.8,95.4 30.1,98.7 30.3,100.0 30.6,100.1 30.9,101.6 31.2,101.5 31.4,97.7 31.7,97.9 32.0,98.6 32.3,98.8 32.5,98.7 32.8,96.4 33.1,100.4 33.4,100.2 33.7,97.1 33.9,98.6 34.2,102.9 34.5,103.4 34.8,102.6 35.0,100.9 35.3,97.2 35.6,97.4 35.9,100.1 36.1,98.7 36.4,97.5 36.7,97.4 37.0,97.8 37.2,96.7 37.5,98.5 37.8,100.6 38.1,101.5 38.3,101.5 38.6,100.9 38.9,101.8 39.2,103.7 39.5,101.2 39.7,99.1 40.0,98.7 40.3,102.0 40.6,102.1 40.8,100.8 41.1,99.6 41.4,100.3 41.7,99.2 41.9,97.9 42.2,98.3 42.5,95.4 42.8,98.1 43.0,98.8 43.3,97.7 43.6,96.6 43.9,97.5 44.2,98.5 44.4,99.1 44.7,96.4 45.0,96.2 45.3,97.5 45.5,98.7 45.8,98.5 46.1,97.9 46.4,98.6 46.6,99.8 46.9,100.7 47.2,103.2 47.5,103.2 47.7,100.8 48.0,100.5 48.3,100.8 48.6,101.4 48.8,100.8 49.1,100.1 49.4,98.5 49.7,97.7 50.0,99.4 50.2,101.2 50.5,99.6 50.8,99.8 51.1,99.0 51.3,99.7 51.6,100.1 51.9,99.2 52.2,99.2 52.4,98.5 52.7,98.8 53.0,98.8 53.3,97.4 53.5,98.8 53.8,99.0 54.1,100.4 54.4,99.2 54.7,98.9 54.9,96.8 55.2,96.8 55.5,100.6 55.8,101.0 56.0,99.8 56.3,98.8 56.6,96.5 56.9,95.2 57.1,97.3 57.4,97.9 57.7,97.4 58.0,97.4 58.2,99.8 58.5,101.3 58.8,101.7 59.1,101.8 59.3,102.5 59.6,99.5 59.9,97.4 60.2,96.2 60.5,96.9 60.7,97.5 61.0,98.4 61.3,101.2 61.6,102.8 61.8,100.4 62.1,103.0 62.4,105.0 62.7,103.9 62.9,100.7 63.2,95.9 63.5,94.7 63.8,97.0 64.0,101.5 64.3,104.5 64.6,103.9 64.9,103.3 65.2,99.2 65.4,96.4 65.7,96.0 66.0,96.2 66.3,97.3 66.5,98.0 66.8,98.3 67.1,98.9 67.4,98.4 67.6,98.2 67.9,97.9 68.2,97.7 68.5,99.1 68.7,98.0 69.0,101.3 69.3,100.8 69.6,98.0 69.8,96.6 70.1,98.0 70.4,98.0 70.7,95.3 71.0,97.9 71.2,100.3 71.5,100.7 71.8,100.0 72.1,99.9 72.3,100.5 72.6,100.2 72.9,98.2 73.2,97.3 73.4,98.5 73.7,99.2 74.0,100.5 74.3,101.4 74.5,103.1 74.8,102.2 75.1,102.0 75.4,100.0 75.6,99.8 75.9,101.3 76.2,102.6 76.5,101.1 76.8,99.6 77.0,98.2 77.3,97.4 77.6,99.4 77.9,100.3 78.1,99.2 78.4,99.8 78.7,100.7 79.0,99.9 79.2,96.9 79.5,97.2 79.8,96.4 80.1,94.7 80.3,94.1 80.6,97.8 80.9,99.4 81.2,98.4 81.5,98.3 81.7,97.5 82.0,98.9 82.3,99.8 82.6,100.9 82.8,101.2 83.1,102.2 83.4,102.2 83.7,100.7 83.9,100.3 84.2,99.0 84.5,98.9 84.8,100.2 85.0,97.9 85.3,98.9 85.6,101.2 85.9,101.5 86.1,103.7 86.4,104.4 86.7,100.2 87.0,98.4 87.3,99.7 87.5,99.3 87.8,97.5 88.1,98.8 88.4,103.0 88.6,102.9 88.9,102.3 89.2,98.8 89.5,94.9 89.7,97.4 90.0,100.5 90.3,100.6 90.6,99.9 90.8,98.4 91.1,100.5 91.4,101.1 91.7,99.7 92.0,99.1 92.2,98.0 92.5,99.9 92.8,100.5 93.1,100.7 93.3,100.1 93.6,99.4 93.9,97.8 94.2,97.0 94.4,97.1 94.7,97.8 95.0,98.2 95.3,97.1 95.5,96.2 95.8,96.2 96.1,97.9 96.4,99.1 96.6,98.7 96.9,96.3 97.2,94.8 97.5,94.8 97.8,94.9 98.0,96.8 98.3,100.1 98.6,102.1 98.9,102.2 99.1,103.2 99.4,104.7 99.7,100.9 100.0,97.1 100.2,96.1 100.5,99.9 100.8,98.5 101.1,97.5 101.3,98.6 101.6,97.4 101.9,96.7 102.2,96.9 102.5,98.4 102.7,101.7 103.0,100.5 103.3,96.9 103.6,99.6 103.8,98.6 104.1,99.4 104.4,101.8 104.7,103.7 104.9,103.7 105.2,100.8 105.5,100.7 105.8,100.0 106.0,97.9 106.3,95.7 106.6,98.4 106.9,102.2 107.1,102.5 107.4,100.5 107.7,99.7 108.0,97.1 108.3,98.5 108.5,102.2 108.8,103.0 109.1,101.5 109.4,99.5 109.6,98.1 109.9,99.6 110.2,103.0 110.5,103.7 110.7,99.8 111.0,98.8 111.3,96.9 111.6,96.5 111.8,95.8 112.1,95.6 112.4,95.2 112.7,96.5 113.0,96.4 113.2,97.5 113.5,97.7 113.8,100.2 114.1,100.5 114.3,102.4 114.6,101.8 114.9,101.3 115.2,99.7 115.4,101.9 115.7,102.5 116.0,100.5 116.3,99.0 116.5,96.4 116.8,97.9 117.1,99.3 117.4,97.6 117.6,97.0 117.9,97.4 118.2,98.9 118.5,100.5 118.8,98.7 119.0,96.5 119.3,95.7 119.6,97.5 119.9,96.3 120.1,97.5 120.4,96.8 120.7,98.9 121.0,99.2 121.2,100.2 121.5,101.5 121.8,100.2 122.1,99.8 122.3,100.4 122.6,103.7 122.9,102.3 123.2,102.4 123.4,102.4 123.7,101.2 124.0,101.9 124.3,103.3 124.6,104.1 124.8,103.4 125.1,100.1 125.4,98.7 125.7,96.9 125.9,98.5 126.2,101.3 126.5,100.8 126.8,95.0 127.0,94.8 127.3,95.8 127.6,97.3 127.9,97.8 128.1,97.9 128.4,99.3 128.7,100.1 129.0,100.5 129.3,99.1 129.5,99.8 129.8,100.3 130.1,102.0 130.4,98.0 130.6,95.1 130.9,95.0 131.2,98.1 131.5,101.5 131.7,102.4 132.0,101.9 132.3,96.3 132.6,94.7 132.8,95.5 133.1,99.7 133.4,102.4 133.7,103.2 133.9,103.0 134.2,101.6 134.5,100.1 134.8,99.7 135.1,100.8 135.3,98.8 135.6,97.1 135.9,95.8 136.2,97.3 136.4,98.8 136.7,100.0 137.0,102.2 137.3,103.2 137.5,104.2 137.8,99.6 138.1,98.6 138.4,100.7 138.6,99.8 138.9,95.1 139.2,93.5 139.5,99.6 139.8,102.2 140.0,100.4 140.3,99.2 140.6,101.1 140.9,100.7 141.1,100.3 141.4,98.0 141.7,95.7 142.0,95.4 142.2,98.3 142.5,103.0 142.8,104.8 143.1,99.9 143.3,98.2 143.6,99.9 143.9,98.5 144.2,97.5 144.4,97.2 144.7,102.3 145.0,100.5 145.3,95.6 145.6,94.4 145.8,93.6 146.1,91.4 146.4,92.0 146.7,97.1 146.9,100.5 147.2,103.1 147.5,106.4 147.8,104.3 148.0,101.1 148.3,98.5 148.6,99.8 148.9,102.1 149.1,102.1 149.4,101.3 149.7,99.4 150.0,98.4 150.3,97.1 150.5,97.9 150.8,100.0 151.1,101.6 151.4,104.1 151.6,101.7 151.9,99.7 152.2,100.8 152.5,101.6 152.7,102.6 153.0,98.3 153.3,94.4 153.6,96.1 153.8,97.0 154.1,98.5 154.4,98.8 154.7,98.8 154.9,100.4 155.2,98.5 155.5,97.6 155.8,100.8 156.1,102.3 156.3,100.1 156.6,98.9 156.9,99.5 157.2,98.2 157.4,97.4 157.7,98.9 158.0,98.8 158.3,99.3 158.5,98.0 158.8,98.8 159.1,98.7 159.4,98.5 159.6,99.7 159.9,100.3 160.2,101.1 160.5,98.9 160.8,98.0 161.0,97.6 161.3,98.4 161.6,99.9 161.9,101.5 162.1,100.3 162.4,101.4 162.7,101.2 163.0,99.2 163.2,101.0 163.5,100.3 163.8,101.0 164.1,100.5 164.3,95.8 164.6,95.9 164.9,98.0 165.2,97.7 165.4,97.5 165.7,98.6 166.0,97.8" fill="none" stroke="#ff9d0a" stroke-width="1.05" stroke-linejoin="round"/>
<polyline points="22.6,108.5 22.9,112.1 23.2,112.9 23.4,111.5 23.7,109.8 24.0,110.0 24.3,111.6 24.5,111.6 24.8,109.6 25.1,106.9 25.4,109.0 25.6,110.9 25.9,110.9 26.2,111.1 26.5,111.2 26.7,108.7 27.0,107.4 27.3,105.0 27.6,105.0 27.8,109.7 28.1,109.4 28.4,109.0 28.7,111.0 29.0,109.1 29.2,105.4 29.5,103.7 29.8,105.2 30.1,109.6 30.3,109.1 30.6,107.3 30.9,109.7 31.2,110.5 31.4,108.2 31.7,109.1 32.0,110.0 32.3,109.5 32.5,110.3 32.8,107.3 33.1,110.3 33.4,110.6 33.7,108.1 33.9,109.5 34.2,112.9 34.5,114.1 34.8,112.4 35.0,110.7 35.3,107.6 35.6,107.6 35.9,109.3 36.1,108.1 36.4,107.7 36.7,107.3 37.0,106.4 37.2,106.4 37.5,109.9 37.8,110.5 38.1,110.1 38.3,110.4 38.6,107.8 38.9,109.3 39.2,112.4 39.5,111.4 39.7,109.6 40.0,109.9 40.3,114.0 40.6,113.2 40.8,110.1 41.1,109.0 41.4,111.1 41.7,110.3 41.9,107.3 42.2,106.9 42.5,104.6 42.8,107.0 43.0,109.8 43.3,109.3 43.6,108.6 43.9,109.2 44.2,108.6 44.4,108.5 44.7,106.4 45.0,107.1 45.3,106.5 45.5,108.2 45.8,108.1 46.1,107.8 46.4,107.0 46.6,107.3 46.9,110.0 47.2,113.5 47.5,112.6 47.7,110.6 48.0,111.0 48.3,110.5 48.6,111.3 48.8,109.0 49.1,107.2 49.4,105.1 49.7,103.3 50.0,104.7 50.2,109.6 50.5,111.0 50.8,111.8 51.1,110.7 51.3,110.5 51.6,110.1 51.9,110.4 52.2,110.6 52.4,110.5 52.7,109.5 53.0,109.6 53.3,109.7 53.5,110.1 53.8,109.5 54.1,111.0 54.4,109.8 54.7,109.1 54.9,106.7 55.2,106.2 55.5,109.8 55.8,111.6 56.0,110.7 56.3,110.8 56.6,110.2 56.9,108.4 57.1,109.4 57.4,110.7 57.7,110.7 58.0,109.7 58.2,110.5 58.5,110.5 58.8,110.4 59.1,111.0 59.3,111.1 59.6,109.1 59.9,109.1 60.2,107.5 60.5,106.5 60.7,106.9 61.0,109.3 61.3,110.3 61.6,111.5 61.8,108.4 62.1,111.4 62.4,113.1 62.7,111.5 62.9,109.9 63.2,107.0 63.5,107.7 63.8,109.2 64.0,111.5 64.3,112.9 64.6,113.0 64.9,111.4 65.2,107.1 65.4,105.3 65.7,106.7 66.0,105.6 66.3,106.0 66.5,107.5 66.8,108.7 67.1,108.4 67.4,107.7 67.6,107.9 67.9,107.0 68.2,107.8 68.5,112.0 68.7,110.6 69.0,111.1 69.3,111.8 69.6,108.0 69.8,106.1 70.1,107.3 70.4,107.2 70.7,105.2 71.0,108.4 71.2,112.4 71.5,111.9 71.8,110.3 72.1,110.0 72.3,108.8 72.6,106.8 72.9,106.9 73.2,107.2 73.4,107.9 73.7,109.1 74.0,111.1 74.3,111.5 74.5,111.9 74.8,108.8 75.1,109.5 75.4,110.6 75.6,112.9 75.9,112.7 76.2,113.1 76.5,111.9 76.8,110.1 77.0,108.3 77.3,108.4 77.6,109.1 77.9,109.4 78.1,107.8 78.4,108.5 78.7,108.8 79.0,109.0 79.2,107.5 79.5,108.0 79.8,108.9 80.1,107.1 80.3,107.4 80.6,108.1 80.9,108.1 81.2,105.4 81.5,106.9 81.7,107.7 82.0,108.4 82.3,110.9 82.6,111.6 82.8,109.8 83.1,109.3 83.4,111.4 83.7,112.1 83.9,113.5 84.2,111.7 84.5,109.9 84.8,109.5 85.0,105.8 85.3,107.9 85.6,111.7 85.9,112.0 86.1,113.5 86.4,115.0 86.7,113.5 87.0,110.3 87.3,108.4 87.5,107.3 87.8,105.8 88.1,108.1 88.4,114.1 88.6,113.2 88.9,111.1 89.2,109.4 89.5,106.3 89.7,107.9 90.0,110.3 90.3,109.5 90.6,108.9 90.8,108.4 91.1,109.7 91.4,110.6 91.7,110.0 92.0,109.9 92.2,109.2 92.5,109.4 92.8,110.1 93.1,109.3 93.3,108.9 93.6,109.7 93.9,107.6 94.2,107.4 94.4,108.3 94.7,109.9 95.0,109.1 95.3,107.9 95.5,105.9 95.8,106.7 96.1,108.2 96.4,108.2 96.6,107.3 96.9,106.0 97.2,104.9 97.5,104.9 97.8,105.3 98.0,106.7 98.3,110.2 98.6,113.3 98.9,113.1 99.1,111.5 99.4,110.8 99.7,107.7 100.0,106.4 100.2,105.7 100.5,107.8 100.8,107.4 101.1,106.9 101.3,108.5 101.6,107.1 101.9,108.5 102.2,109.8 102.5,109.9 102.7,111.8 103.0,110.1 103.3,107.6 103.6,111.0 103.8,110.8 104.1,111.3 104.4,113.0 104.7,114.1 104.9,113.2 105.2,109.5 105.5,109.8 105.8,111.2 106.0,109.7 106.3,106.8 106.6,108.0 106.9,110.1 107.1,110.8 107.4,111.5 107.7,111.4 108.0,109.2 108.3,109.0 108.5,111.4 108.8,110.7 109.1,108.1 109.4,108.4 109.6,109.3 109.9,111.4 110.2,112.7 110.5,112.5 110.7,109.3 111.0,109.2 111.3,107.0 111.6,106.1 111.8,105.3 112.1,105.4 112.4,104.3 112.7,105.0 113.0,106.7 113.2,109.6 113.5,111.0 113.8,111.5 114.1,110.7 114.3,111.1 114.6,111.2 114.9,110.6 115.2,107.4 115.4,109.9 115.7,112.2 116.0,109.8 116.3,108.2 116.5,105.9 116.8,108.6 117.1,109.6 117.4,107.2 117.6,107.5 117.9,109.1 118.2,110.1 118.5,111.8 118.8,110.4 119.0,107.2 119.3,104.6 119.6,105.5 119.9,104.5 120.1,106.1 120.4,107.1 120.7,110.2 121.0,111.3 121.2,112.1 121.5,111.8 121.8,110.0 122.1,109.2 122.3,109.6 122.6,113.2 122.9,112.9 123.2,112.4 123.4,111.5 123.7,109.2 124.0,109.3 124.3,111.2 124.6,111.5 124.8,109.8 125.1,108.7 125.4,109.9 125.7,108.0 125.9,106.5 126.2,107.7 126.5,108.8 126.8,104.5 127.0,105.0 127.3,105.8 127.6,107.5 127.9,108.8 128.1,110.0 128.4,113.4 128.7,116.7 129.0,117.4 129.3,112.2 129.5,109.6 129.8,109.4 130.1,110.3 130.4,108.1 130.6,109.1 130.9,109.9 131.2,108.7 131.5,108.7 131.7,110.0 132.0,108.6 132.3,104.6 132.6,107.1 132.8,108.7 133.1,110.6 133.4,110.0 133.7,110.1 133.9,112.4 134.2,113.6 134.5,111.7 134.8,110.2 135.1,111.5 135.3,110.4 135.6,107.5 135.9,106.3 136.2,109.1 136.4,111.0 136.7,111.1 137.0,109.2 137.3,107.5 137.5,107.4 137.8,105.0 138.1,106.5 138.4,110.8 138.6,114.0 138.9,113.2 139.2,110.1 139.5,107.5 139.8,106.4 140.0,109.7 140.3,112.8 140.6,114.5 140.9,113.1 141.1,110.2 141.4,107.1 141.7,106.7 142.0,107.4 142.2,109.9 142.5,113.7 142.8,114.8 143.1,111.4 143.3,107.8 143.6,107.0 143.9,106.2 144.2,103.1 144.4,100.4 144.7,104.6 145.0,106.4 145.3,106.1 145.6,109.8 145.8,112.9 146.1,111.8 146.4,108.3 146.7,108.3 146.9,109.6 147.2,109.0 147.5,108.6 147.8,108.1 148.0,108.5 148.3,106.7 148.6,109.7 148.9,113.4 149.1,115.1 149.4,113.9 149.7,108.7 150.0,109.3 150.3,109.8 150.5,109.9 150.8,110.6 151.1,112.7 151.4,113.0 151.6,107.9 151.9,106.5 152.2,109.3 152.5,111.2 152.7,112.0 153.0,108.4 153.3,105.5 153.6,106.9 153.8,106.5 154.1,107.9 154.4,108.9 154.7,108.6 154.9,109.5 155.2,109.8 155.5,109.5 155.8,111.1 156.1,111.2 156.3,108.0 156.6,106.5 156.9,107.3 157.2,107.2 157.4,108.2 157.7,108.8 158.0,108.7 158.3,109.1 158.5,109.0 158.8,108.4 159.1,107.7 159.4,108.7 159.6,109.4 159.9,109.1 160.2,109.9 160.5,107.8 160.8,107.3 161.0,107.2 161.3,110.0 161.6,112.5 161.9,113.8 162.1,111.2 162.4,110.1 162.7,109.8 163.0,110.4 163.2,112.7 163.5,109.9 163.8,110.1 164.1,109.8 164.3,105.9 164.6,107.1 164.9,108.1 165.2,108.7 165.4,109.1 165.7,108.7 166.0,106.5" fill="none" stroke="#ff9d0a" stroke-width="1.05" stroke-linejoin="round"/>
<polyline points="22.6,118.4 22.9,121.4 23.2,121.5 23.4,120.6 23.7,117.8 24.0,118.4 24.3,120.6 24.5,120.5 24.8,119.3 25.1,118.3 25.4,121.4 25.6,121.7 25.9,120.5 26.2,120.4 26.5,120.4 26.7,118.1 27.0,116.1 27.3,114.7 27.6,114.6 27.8,118.3 28.1,118.2 28.4,118.3 28.7,119.8 29.0,119.0 29.2,115.8 29.5,114.0 29.8,114.9 30.1,119.6 30.3,121.9 30.6,122.9 30.9,123.9 31.2,121.5 31.4,116.1 31.7,117.3 32.0,119.4 32.3,120.6 32.5,121.4 32.8,118.7 33.1,120.6 33.4,120.4 33.7,117.6 33.9,119.1 34.2,122.6 34.5,124.0 34.8,122.9 35.0,119.6 35.3,116.6 35.6,118.0 35.9,119.4 36.1,118.8 36.4,118.6 36.7,118.3 37.0,116.8 37.2,116.9 37.5,119.3 37.8,119.6 38.1,120.6 38.3,120.4 38.6,117.4 38.9,120.0 39.2,122.5 39.5,119.8 39.7,117.9 40.0,119.6 40.3,123.8 40.6,123.2 40.8,121.2 41.1,120.8 41.4,122.2 41.7,120.9 41.9,118.7 42.2,117.4 42.5,114.3 42.8,115.0 43.0,116.5 43.3,117.2 43.6,117.9 43.9,118.7 44.2,118.6 44.4,120.1 44.7,117.7 45.0,118.4 45.3,117.7 45.5,120.2 45.8,120.6 46.1,119.6 46.4,118.2 46.6,118.5 46.9,121.0 47.2,123.1 47.5,121.7 47.7,121.0 48.0,119.1 48.3,118.9 48.6,122.3 48.8,121.9 49.1,119.9 49.4,117.3 49.7,116.4 50.0,118.2 50.2,120.7 50.5,119.4 50.8,119.7 51.1,118.3 51.3,118.9 51.6,120.3 51.9,119.7 52.2,119.8 52.4,119.5 52.7,118.2 53.0,119.4 53.3,119.9 53.5,121.2 53.8,119.5 54.1,119.3 54.4,117.0 54.7,117.3 54.9,116.7 55.2,116.9 55.5,121.1 55.8,122.9 56.0,121.9 56.3,120.6 56.6,119.0 56.9,118.7 57.1,119.8 57.4,119.1 57.7,118.3 58.0,118.4 58.2,120.3 58.5,120.3 58.8,120.9 59.1,121.5 59.3,123.3 59.6,120.0 59.9,118.1 60.2,116.1 60.5,116.6 60.7,116.0 61.0,117.1 61.3,119.2 61.6,121.2 61.8,119.5 62.1,123.4 62.4,125.3 62.7,123.9 62.9,121.0 63.2,117.2 63.5,116.3 63.8,117.6 64.0,120.9 64.3,122.3 64.6,121.5 64.9,121.7 65.2,118.6 65.4,116.1 65.7,117.3 66.0,118.7 66.3,118.2 66.5,116.9 66.8,116.3 67.1,117.4 67.4,116.6 67.6,116.0 67.9,116.5 68.2,116.4 68.5,118.1 68.7,116.7 69.0,119.9 69.3,121.2 69.6,118.7 69.8,117.4 70.1,118.9 70.4,118.5 70.7,116.2 71.0,119.0 71.2,120.6 71.5,120.4 71.8,120.6 72.1,120.6 72.3,119.0 72.6,117.9 72.9,118.4 73.2,117.1 73.4,115.5 73.7,118.2 74.0,120.4 74.3,121.0 74.5,123.9 74.8,121.9 75.1,120.1 75.4,119.6 75.6,120.9 75.9,120.7 76.2,122.0 76.5,120.7 76.8,119.8 77.0,118.9 77.3,118.4 77.6,119.2 77.9,120.1 78.1,118.5 78.4,119.3 78.7,119.9 79.0,120.0 79.2,118.2 79.5,118.1 79.8,119.2 80.1,118.4 80.3,116.9 80.6,117.5 80.9,118.9 81.2,117.0 81.5,116.8 81.7,117.5 82.0,119.7 82.3,121.5 82.6,121.8 82.8,121.1 83.1,121.1 83.4,122.0 83.7,121.2 83.9,121.8 84.2,120.8 84.5,119.5 84.8,121.3 85.0,119.9 85.3,120.7 85.6,122.0 85.9,120.6 86.1,121.5 86.4,122.7 86.7,121.5 87.0,121.1 87.3,120.2 87.5,118.8 87.8,116.6 88.1,118.0 88.4,122.4 88.6,122.2 88.9,121.9 89.2,120.0 89.5,114.8 89.7,116.5 90.0,118.8 90.3,119.0 90.6,118.6 90.8,117.5 91.1,118.9 91.4,120.1 91.7,120.2 92.0,119.2 92.2,117.3 92.5,119.2 92.8,120.9 93.1,121.0 93.3,121.6 93.6,120.7 93.9,117.8 94.2,116.9 94.4,118.2 94.7,119.5 95.0,119.1 95.3,117.2 95.5,115.8 95.8,116.1 96.1,118.2 96.4,117.6 96.6,116.5 96.9,115.7 97.2,114.9 97.5,113.1 97.8,113.2 98.0,115.1 98.3,119.6 98.6,124.6 98.9,124.2 99.1,122.7 99.4,121.7 99.7,119.0 100.0,115.9 100.2,115.0 100.5,117.8 100.8,118.5 101.1,118.9 101.3,119.4 101.6,116.7 101.9,116.0 102.2,117.6 102.5,119.4 102.7,123.6 103.0,122.5 103.3,119.8 103.6,122.0 103.8,119.3 104.1,118.7 104.4,119.9 104.7,122.5 104.9,123.7 105.2,119.7 105.5,118.1 105.8,118.8 106.0,117.7 106.3,115.5 106.6,118.4 106.9,121.2 107.1,119.8 107.4,119.5 107.7,120.4 108.0,117.9 108.3,117.1 108.5,119.7 108.8,121.8 109.1,121.1 109.4,120.5 109.6,119.4 109.9,121.2 110.2,121.3 110.5,122.1 110.7,120.3 111.0,119.9 111.3,118.9 111.6,118.5 111.8,117.1 112.1,116.6 112.4,116.4 112.7,117.5 113.0,118.2 113.2,118.2 113.5,116.8 113.8,119.3 114.1,120.3 114.3,121.3 114.6,122.0 114.9,121.4 115.2,120.2 115.4,124.5 115.7,125.9 116.0,123.5 116.3,120.4 116.5,116.6 116.8,118.2 117.1,118.2 117.4,116.7 117.6,117.2 117.9,118.0 118.2,119.0 118.5,120.8 118.8,119.4 119.0,116.3 119.3,114.5 119.6,116.5 119.9,116.6 120.1,118.3 120.4,117.6 120.7,120.0 121.0,120.5 121.2,120.6 121.5,122.5 121.8,121.7 122.1,120.8 122.3,119.1 122.6,121.7 122.9,122.0 123.2,122.1 123.4,122.0 123.7,119.6 124.0,119.9 124.3,121.1 124.6,120.2 124.8,120.3 125.1,121.2 125.4,121.0 125.7,117.3 125.9,116.6 126.2,117.8 126.5,119.2 126.8,115.3 127.0,116.1 127.3,116.6 127.6,116.8 127.9,116.0 128.1,116.4 128.4,119.7 128.7,124.5 129.0,127.5 129.3,124.5 129.5,120.7 129.8,119.1 130.1,120.8 130.4,116.4 130.6,115.2 130.9,117.5 131.2,121.2 131.5,121.9 131.7,122.5 132.0,121.8 132.3,118.9 132.6,120.4 132.8,120.2 133.1,118.2 133.4,116.9 133.7,117.1 133.9,121.0 134.2,123.0 134.5,119.9 134.8,118.6 135.1,120.5 135.3,122.3 135.6,120.2 135.9,117.0 136.2,116.6 136.4,119.1 136.7,120.3 137.0,121.5 137.3,121.5 137.5,121.7 137.8,114.9 138.1,113.3 138.4,117.3 138.6,118.2 138.9,118.7 139.2,119.9 139.5,122.8 139.8,120.3 140.0,114.4 140.3,115.6 140.6,123.1 140.9,127.5 141.1,122.7 141.4,117.0 141.7,115.3 142.0,113.4 142.2,115.8 142.5,122.3 142.8,124.5 143.1,119.3 143.3,114.9 143.6,117.6 143.9,121.7 144.2,124.2 144.4,119.8 144.7,116.5 145.0,111.5 145.3,109.2 145.6,114.1 145.8,120.8 146.1,122.5 146.4,120.5 146.7,120.3 146.9,120.1 147.2,119.1 147.5,119.1 147.8,118.6 148.0,120.1 148.3,118.6 148.6,117.4 148.9,119.3 149.1,121.1 149.4,121.9 149.7,121.4 150.0,121.8 150.3,120.3 150.5,120.6 150.8,120.8 151.1,120.3 151.4,120.3 151.6,118.2 151.9,119.3 152.2,121.7 152.5,121.3 152.7,120.4 153.0,117.0 153.3,113.9 153.6,115.4 153.8,116.3 154.1,118.9 154.4,120.4 154.7,120.9 154.9,121.2 155.2,119.0 155.5,117.0 155.8,118.0 156.1,119.5 156.3,117.2 156.6,115.6 156.9,118.1 157.2,118.9 157.4,119.4 157.7,120.2 158.0,118.7 158.3,117.6 158.5,117.5 158.8,118.0 159.1,118.6 159.4,118.6 159.6,118.9 159.9,119.7 160.2,120.9 160.5,119.6 160.8,120.3 161.0,119.6 161.3,120.0 161.6,122.4 161.9,123.2 162.1,120.3 162.4,119.6 162.7,120.0 163.0,120.2 163.2,121.5 163.5,121.0 163.8,121.2 164.1,120.5 164.3,117.3 164.6,117.7 164.9,118.0 165.2,119.1 165.4,119.5 165.7,119.5 166.0,117.3" fill="none" stroke="#ff9d0a" stroke-width="1.05" stroke-linejoin="round"/>
<polyline points="22.6,128.6 22.9,131.5 23.2,132.3 23.4,132.7 23.7,130.3 24.0,128.9 24.3,129.9 24.5,130.4 24.8,130.6 25.1,128.2 25.4,129.7 25.6,130.9 25.9,129.4 26.2,129.7 26.5,129.4 26.7,126.9 27.0,126.7 27.3,126.2 27.6,127.6 27.8,130.9 28.1,128.0 28.4,127.3 28.7,129.4 29.0,128.7 29.2,127.1 29.5,125.4 29.8,125.9 30.1,128.4 30.3,129.7 30.6,130.1 30.9,130.4 31.2,130.3 31.4,127.4 31.7,128.1 32.0,130.2 32.3,131.1 32.5,131.6 32.8,126.2 33.1,126.6 33.4,128.6 33.7,127.7 33.9,128.8 34.2,132.1 34.5,133.5 34.8,131.2 35.0,130.3 35.3,126.9 35.6,128.3 35.9,131.9 36.1,131.7 36.4,130.2 36.7,128.9 37.0,127.5 37.2,126.2 37.5,128.6 37.8,129.8 38.1,129.5 38.3,129.2 38.6,127.4 38.9,128.7 39.2,131.6 39.5,129.8 39.7,128.2 40.0,129.0 40.3,133.0 40.6,133.1 40.8,131.6 41.1,130.5 41.4,131.5 41.7,129.6 41.9,127.3 42.2,127.7 42.5,124.7 42.8,126.4 43.0,128.0 43.3,128.4 43.6,127.5 43.9,128.7 44.2,129.1 44.4,129.4 44.7,125.0 45.0,125.5 45.3,125.6 45.5,128.3 45.8,128.9 46.1,129.2 46.4,128.5 46.6,128.0 46.9,129.9 47.2,132.8 47.5,133.2 47.7,132.7 48.0,131.1 48.3,131.2 48.6,133.0 48.8,131.1 49.1,128.4 49.4,126.5 49.7,125.9 50.0,128.6 50.2,132.1 50.5,132.1 50.8,132.2 51.1,130.9 51.3,131.4 51.6,131.9 51.9,130.5 52.2,130.3 52.4,130.1 52.7,128.9 53.0,129.3 53.3,129.1 53.5,129.1 53.8,128.3 54.1,130.3 54.4,128.5 54.7,129.4 54.9,128.1 55.2,127.5 55.5,131.1 55.8,132.8 56.0,132.0 56.3,130.2 56.6,127.9 56.9,126.3 57.1,127.9 57.4,129.0 57.7,128.4 58.0,127.6 58.2,128.8 58.5,129.6 58.8,130.3 59.1,130.5 59.3,131.8 59.6,130.7 59.9,129.3 60.2,127.7 60.5,127.9 60.7,128.4 61.0,128.0 61.3,130.3 61.6,131.8 61.8,129.2 62.1,133.2 62.4,134.2 62.7,132.1 62.9,130.7 63.2,128.3 63.5,127.6 63.8,128.4 64.0,130.6 64.3,132.5 64.6,133.7 64.9,131.1 65.2,126.8 65.4,125.5 65.7,127.0 66.0,126.2 66.3,126.5 66.5,126.7 66.8,126.7 67.1,125.8 67.4,124.7 67.6,125.8 67.9,127.8 68.2,127.3 68.5,129.3 68.7,127.4 69.0,129.5 69.3,131.5 69.6,129.0 69.8,126.8 70.1,127.5 70.4,128.1 70.7,126.9 71.0,129.5 71.2,130.7 71.5,129.5 71.8,130.2 72.1,130.9 72.3,130.7 72.6,128.7 72.9,127.1 73.2,127.1 73.4,127.8 73.7,129.3 74.0,130.8 74.3,131.4 74.5,132.3 74.8,130.5 75.1,130.6 75.4,130.7 75.6,132.2 75.9,131.4 76.2,130.9 76.5,129.4 76.8,129.0 77.0,126.9 77.3,127.0 77.6,128.5 77.9,128.5 78.1,128.3 78.4,129.1 78.7,131.4 79.0,131.7 79.2,128.6 79.5,128.5 79.8,128.5 80.1,128.1 80.3,127.2 80.6,126.8 80.9,128.1 81.2,127.1 81.5,126.7 81.7,128.2 82.0,130.7 82.3,131.6 82.6,130.7 82.8,129.4 83.1,129.9 83.4,131.0 83.7,131.3 83.9,133.7 84.2,131.7 84.5,128.8 84.8,129.9 85.0,130.3 85.3,132.1 85.6,132.6 85.9,132.3 86.1,134.0 86.4,134.2 86.7,133.2 87.0,131.0 87.3,129.4 87.5,127.7 87.8,126.3 88.1,128.2 88.4,132.4 88.6,132.4 88.9,130.9 89.2,128.2 89.5,124.7 89.7,125.1 90.0,127.7 90.3,128.6 90.6,129.6 90.8,128.7 91.1,130.7 91.4,131.6 91.7,130.3 92.0,128.0 92.2,127.5 92.5,129.9 92.8,130.7 93.1,131.6 93.3,131.3 93.6,130.7 93.9,128.1 94.2,127.9 94.4,129.6 94.7,129.2 95.0,128.3 95.3,126.9 95.5,126.2 95.8,125.5 96.1,126.2 96.4,126.1 96.6,125.9 96.9,125.5 97.2,125.0 97.5,125.0 97.8,125.2 98.0,125.9 98.3,130.2 98.6,134.2 98.9,133.8 99.1,132.8 99.4,132.2 99.7,128.8 100.0,126.8 100.2,126.5 100.5,129.4 100.8,128.0 101.1,129.0 101.3,129.9 101.6,127.6 101.9,127.3 102.2,129.0 102.5,129.6 102.7,132.5 103.0,129.9 103.3,126.7 103.6,131.4 103.8,130.6 104.1,130.5 104.4,132.2 104.7,132.9 104.9,133.6 105.2,130.4 105.5,129.8 105.8,130.8 106.0,129.6 106.3,127.5 106.6,128.7 106.9,130.6 107.1,129.3 107.4,128.8 107.7,128.5 108.0,127.8 108.3,129.1 108.5,132.2 108.8,132.8 109.1,131.2 109.4,130.5 109.6,128.8 109.9,130.0 110.2,131.1 110.5,132.1 110.7,129.3 111.0,128.9 111.3,127.7 111.6,127.8 111.8,126.6 112.1,126.1 112.4,126.1 112.7,125.8 113.0,124.4 113.2,126.0 113.5,127.1 113.8,130.1 114.1,131.2 114.3,131.3 114.6,129.1 114.9,128.9 115.2,128.9 115.4,132.4 115.7,134.1 116.0,132.1 116.3,129.1 116.5,125.1 116.8,127.8 117.1,130.4 117.4,128.3 117.6,128.0 117.9,128.2 118.2,129.3 118.5,130.8 118.8,128.9 119.0,127.0 119.3,125.4 119.6,124.8 119.9,124.6 120.1,127.2 120.4,126.6 120.7,128.5 121.0,130.0 121.2,131.5 121.5,131.5 121.8,129.6 122.1,130.5 122.3,131.0 122.6,135.1 122.9,134.2 123.2,132.3 123.4,130.7 123.7,129.7 124.0,130.9 124.3,133.2 124.6,132.9 124.8,130.9 125.1,129.7 125.4,129.5 125.7,126.9 125.9,126.4 126.2,127.4 126.5,129.7 126.8,128.2 127.0,128.2 127.3,127.3 127.6,128.0 127.9,126.4 128.1,125.3 128.4,126.4 128.7,128.2 129.0,130.6 129.3,129.9 129.5,131.6 129.8,134.4 130.1,136.0 130.4,132.6 130.6,129.1 130.9,128.9 131.2,128.2 131.5,126.6 131.7,126.8 132.0,126.9 132.3,125.4 132.6,128.5 132.8,131.0 133.1,132.0 133.4,130.1 133.7,131.6 133.9,134.6 134.2,133.9 134.5,128.8 134.8,126.9 135.1,129.8 135.3,132.3 135.6,131.2 135.9,127.9 136.2,127.8 136.4,129.8 136.7,129.6 137.0,129.8 137.3,129.8 137.5,130.8 137.8,127.9 138.1,125.7 138.4,127.4 138.6,127.8 138.9,128.2 139.2,129.8 139.5,132.2 139.8,132.1 140.0,130.1 140.3,131.3 140.6,135.2 140.9,136.9 141.1,133.3 141.4,126.1 141.7,122.6 142.0,122.2 142.2,127.1 142.5,132.0 142.8,131.1 143.1,126.2 143.3,126.3 143.6,129.4 143.9,129.6 144.2,130.1 144.4,126.7 144.7,128.0 145.0,126.9 145.3,125.8 145.6,128.8 145.8,130.8 146.1,130.0 146.4,128.1 146.7,128.1 146.9,127.5 147.2,127.2 147.5,129.1 147.8,131.1 148.0,132.4 148.3,132.4 148.6,133.7 148.9,131.7 149.1,128.5 149.4,127.6 149.7,126.3 150.0,128.7 150.3,129.8 150.5,130.2 150.8,130.2 151.1,129.2 151.4,129.5 151.6,128.7 151.9,128.8 152.2,131.5 152.5,131.8 152.7,131.8 153.0,127.8 153.3,124.7 153.6,127.8 153.8,128.5 154.1,128.8 154.4,130.1 154.7,130.1 154.9,130.5 155.2,128.7 155.5,127.9 155.8,128.2 156.1,129.7 156.3,127.5 156.6,126.2 156.9,128.2 157.2,128.6 157.4,129.1 157.7,129.9 158.0,129.3 158.3,128.3 158.5,127.4 158.8,127.6 159.1,127.8 159.4,128.7 159.6,128.1 159.9,129.0 160.2,130.9 160.5,129.5 160.8,129.7 161.0,130.0 161.3,131.6 161.6,132.4 161.9,133.1 162.1,130.9 162.4,129.8 162.7,130.4 163.0,130.6 163.2,131.5 163.5,130.5 163.8,130.1 164.1,128.3 164.3,124.9 164.6,127.2 164.9,128.7 165.2,129.1 165.4,128.8 165.7,128.1 166.0,126.4" fill="none" stroke="#ff9d0a" stroke-width="1.05" stroke-linejoin="round"/>
<polyline points="22.6,133.8 22.9,137.5 23.2,138.4 23.4,141.1 23.7,140.5 24.0,140.2 24.3,139.9 24.5,138.7 24.8,138.8 25.1,135.8 25.4,140.7 25.6,142.8 25.9,142.1 26.2,140.3 26.5,140.3 26.7,140.2 27.0,140.1 27.3,139.0 27.6,138.0 27.8,140.4 28.1,140.6 28.4,137.5 28.7,137.9 29.0,138.1 29.2,138.1 29.5,136.6 29.8,136.3 30.1,139.6 30.3,140.0 30.6,139.9 30.9,141.5 31.2,139.8 31.4,139.2 31.7,139.1 32.0,136.8 32.3,135.4 32.5,138.0 32.8,137.9 33.1,142.4 33.4,142.8 33.7,139.6 33.9,140.1 34.2,142.5 34.5,142.2 34.8,140.9 35.0,138.6 35.3,136.3 35.6,137.3 35.9,138.1 36.1,138.0 36.4,137.8 36.7,138.3 37.0,138.6 37.2,138.1 37.5,138.7 37.8,139.4 38.1,138.9 38.3,138.3 38.6,135.4 38.9,136.4 39.2,141.7 39.5,143.0 39.7,141.6 40.0,139.8 40.3,141.9 40.6,141.6 40.8,139.7 41.1,139.7 41.4,141.7 41.7,138.4 41.9,138.3 42.2,140.0 42.5,138.5 42.8,138.8 43.0,139.9 43.3,142.2 43.6,140.1 43.9,137.7 44.2,138.7 44.4,137.5 44.7,136.0 45.0,138.3 45.3,137.9 45.5,137.2 45.8,139.8 46.1,139.5 46.4,141.1 46.6,142.2 46.9,140.4 47.2,141.6 47.5,142.8 47.7,143.8 48.0,142.7 48.3,142.3 48.6,143.3 48.8,142.3 49.1,137.5 49.4,133.1 49.7,133.1 50.0,137.1 50.2,140.3 50.5,141.1 50.8,142.7 51.1,141.1 51.3,140.6 51.6,140.4 51.9,138.6 52.2,137.9 52.4,137.9 52.7,136.9 53.0,137.1 53.3,137.8 53.5,138.7 53.8,137.5 54.1,135.5 54.4,137.2 54.7,140.3 54.9,138.1 55.2,138.5 55.5,142.7 55.8,143.1 56.0,141.7 56.3,140.6 56.6,139.4 56.9,137.2 57.1,136.8 57.4,136.4 57.7,137.8 58.0,138.7 58.2,140.3 58.5,140.4 58.8,141.6 59.1,141.8 59.3,143.0 59.6,140.0 59.9,137.2 60.2,136.9 60.5,136.1 60.7,136.3 61.0,138.0 61.3,138.2 61.6,137.4 61.8,139.0 62.1,142.1 62.4,143.2 62.7,140.4 62.9,139.3 63.2,138.4 63.5,139.5 63.8,142.4 64.0,144.1 64.3,144.0 64.6,142.4 64.9,138.8 65.2,135.9 65.4,136.0 65.7,137.1 66.0,137.8 66.3,138.4 66.5,137.2 66.8,135.2 67.1,136.1 67.4,136.5 67.6,136.5 67.9,137.2 68.2,137.1 68.5,138.6 68.7,139.2 69.0,138.4 69.3,139.4 69.6,138.3 69.8,138.2 70.1,139.5 70.4,140.1 70.7,138.4 71.0,139.6 71.2,139.4 71.5,137.1 71.8,140.7 72.1,139.6 72.3,138.7 72.6,137.0 72.9,140.1 73.2,141.2 73.4,140.6 73.7,140.8 74.0,140.9 74.3,141.6 74.5,141.2 74.8,140.3 75.1,142.0 75.4,140.8 75.6,140.7 75.9,142.4 76.2,141.7 76.5,139.9 76.8,139.5 77.0,139.6 77.3,139.6 77.6,138.4 77.9,138.7 78.1,139.8 78.4,141.5 78.7,140.5 79.0,140.8 79.2,139.8 79.5,140.3 79.8,140.2 80.1,140.4 80.3,140.0 80.6,140.8 80.9,141.7 81.2,141.0 81.5,138.4 81.7,138.6 82.0,139.7 82.3,140.3 82.6,141.0 82.8,140.5 83.1,139.3 83.4,140.4 83.7,140.0 83.9,141.0 84.2,138.9 84.5,136.6 84.8,138.8 85.0,139.7 85.3,139.4 85.6,139.0 85.9,139.8 86.1,140.5 86.4,139.5 86.7,139.4 87.0,138.2 87.3,138.1 87.5,138.5 87.8,134.3 88.1,135.0 88.4,138.1 88.6,140.0 88.9,140.1 89.2,138.2 89.5,136.2 89.7,134.0 90.0,136.0 90.3,138.3 90.6,138.5 90.8,137.5 91.1,141.1 91.4,140.0 91.7,139.7 92.0,140.2 92.2,137.5 92.5,138.1 92.8,139.2 93.1,139.5 93.3,141.5 93.6,141.4 93.9,137.9 94.2,137.1 94.4,138.0 94.7,140.2 95.0,141.9 95.3,139.4 95.5,137.2 95.8,138.8 96.1,137.8 96.4,136.3 96.6,137.0 96.9,139.4 97.2,138.5 97.5,139.3 97.8,140.6 98.0,139.8 98.3,139.7 98.6,141.7 98.9,141.8 99.1,141.0 99.4,140.7 99.7,141.4 100.0,141.7 100.2,139.4 100.5,139.2 100.8,136.0 101.1,136.1 101.3,137.5 101.6,138.1 101.9,139.7 102.2,138.7 102.5,137.4 102.7,139.7 103.0,140.7 103.3,139.5 103.6,142.0 103.8,140.8 104.1,141.3 104.4,141.7 104.7,141.7 104.9,140.3 105.2,136.3 105.5,134.0 105.8,137.1 106.0,137.0 106.3,135.4 106.6,137.4 106.9,139.9 107.1,139.4 107.4,140.3 107.7,141.9 108.0,140.4 108.3,139.2 108.5,140.3 108.8,142.0 109.1,141.1 109.4,137.2 109.6,138.3 109.9,141.9 110.2,143.6 110.5,143.1 110.7,140.7 111.0,138.5 111.3,137.8 111.6,138.1 111.8,138.2 112.1,137.2 112.4,136.2 112.7,136.1 113.0,137.1 113.2,138.4 113.5,138.0 113.8,140.2 114.1,142.7 114.3,143.1 114.6,141.8 114.9,140.3 115.2,138.5 115.4,141.2 115.7,141.1 116.0,138.9 116.3,138.4 116.5,135.9 116.8,136.2 117.1,138.2 117.4,138.5 117.6,139.5 117.9,139.6 118.2,139.5 118.5,140.6 118.8,139.7 119.0,139.9 119.3,138.9 119.6,138.3 119.9,139.4 120.1,139.0 120.4,137.8 120.7,138.8 121.0,139.0 121.2,138.3 121.5,140.3 121.8,141.2 122.1,140.2 122.3,139.9 122.6,142.5 122.9,140.6 123.2,141.0 123.4,140.8 123.7,140.6 124.0,141.3 124.3,141.2 124.6,139.5 124.8,138.5 125.1,138.1 125.4,137.1 125.7,136.6 125.9,136.9 126.2,136.2 126.5,137.7 126.8,136.6 127.0,137.1 127.3,139.1 127.6,137.6 127.9,136.9 128.1,137.2 128.4,139.6 128.7,142.2 129.0,143.5 129.3,141.1 129.5,140.1 129.8,141.3 130.1,141.3 130.4,136.4 130.6,133.4 130.9,134.6 131.2,135.7 131.5,141.0 131.7,144.9 132.0,144.0 132.3,138.5 132.6,136.0 132.8,138.9 133.1,142.2 133.4,142.1 133.7,142.6 133.9,143.8 134.2,144.6 134.5,143.1 134.8,140.2 135.1,135.5 135.3,132.3 135.6,131.8 135.9,135.8 136.2,139.0 136.4,139.5 136.7,140.2 137.0,141.4 137.3,139.5 137.5,138.4 137.8,136.0 138.1,134.1 138.4,135.2 138.6,136.4 138.9,137.0 139.2,139.8 139.5,142.4 139.8,145.0 140.0,142.8 140.3,139.1 140.6,135.8 140.9,136.3 141.1,139.6 141.4,139.5 141.7,141.8 142.0,145.8 142.2,147.5 142.5,148.9 142.8,147.6 143.1,144.3 143.3,140.6 143.6,137.8 143.9,134.7 144.2,135.6 144.4,136.7 144.7,139.2 145.0,139.6 145.3,136.9 145.6,135.8 145.8,135.6 146.1,136.6 146.4,139.8 146.7,139.8 146.9,136.0 147.2,136.9 147.5,144.6 147.8,147.2 148.0,143.4 148.3,137.9 148.6,135.9 148.9,136.1 149.1,136.7 149.4,137.7 149.7,139.3 150.0,141.9 150.3,142.3 150.5,141.9 150.8,142.6 151.1,140.8 151.4,140.4 151.6,139.9 151.9,139.6 152.2,140.7 152.5,140.5 152.7,138.6 153.0,135.9 153.3,137.0 153.6,138.7 153.8,138.9 154.1,140.4 154.4,140.9 154.7,141.2 154.9,142.9 155.2,141.1 155.5,138.7 155.8,139.7 156.1,141.1 156.3,138.1 156.6,137.8 156.9,139.3 157.2,140.1 157.4,139.9 157.7,140.1 158.0,140.0 158.3,138.7 158.5,136.8 158.8,138.1 159.1,139.8 159.4,138.5 159.6,140.2 159.9,143.1 160.2,144.0 160.5,141.6 160.8,139.1 161.0,136.5 161.3,136.2 161.6,135.7 161.9,134.7 162.1,134.9 162.4,136.6 162.7,139.6 163.0,142.4 163.2,142.3 163.5,140.9 163.8,140.8 164.1,138.5 164.3,134.8 164.6,135.4 164.9,137.4 165.2,137.4 165.4,136.6 165.7,138.5 166.0,139.9" fill="none" stroke="#ff9d0a" stroke-width="1.05" stroke-linejoin="round"/>
<polyline points="22.6,145.5 22.9,148.6 23.2,150.4 23.4,149.7 23.7,148.9 24.0,149.8 24.3,150.9 24.5,150.2 24.8,149.6 25.1,146.2 25.4,150.8 25.6,152.8 25.9,152.9 26.2,151.7 26.5,149.9 26.7,148.8 27.0,148.6 27.3,148.0 27.6,147.9 27.8,150.3 28.1,149.8 28.4,146.0 28.7,145.1 29.0,146.7 29.2,148.6 29.5,147.0 29.8,146.3 30.1,149.9 30.3,150.3 30.6,149.0 30.9,151.5 31.2,151.5 31.4,151.7 31.7,151.7 32.0,150.6 32.3,148.0 32.5,147.2 32.8,146.0 33.1,149.2 33.4,152.0 33.7,151.8 33.9,152.8 34.2,154.1 34.5,153.6 34.8,152.5 35.0,149.3 35.3,145.6 35.6,146.4 35.9,148.4 36.1,148.5 36.4,148.3 36.7,149.1 37.0,148.8 37.2,146.6 37.5,146.5 37.8,147.8 38.1,147.5 38.3,147.6 38.6,146.1 38.9,148.2 39.2,153.3 39.5,153.4 39.7,152.5 40.0,150.0 40.3,150.6 40.6,150.3 40.8,148.9 41.1,149.2 41.4,150.7 41.7,148.0 41.9,148.2 42.2,148.8 42.5,146.5 42.8,147.5 43.0,147.7 43.3,150.1 43.6,148.3 43.9,147.3 44.2,147.8 44.4,147.0 44.7,146.4 45.0,149.8 45.3,148.8 45.5,148.0 45.8,149.1 46.1,148.5 46.4,149.2 46.6,149.6 46.9,148.3 47.2,151.0 47.5,153.8 47.7,153.9 48.0,152.1 48.3,151.2 48.6,152.7 48.8,150.5 49.1,147.3 49.4,145.1 49.7,144.5 50.0,147.5 50.2,150.1 50.5,152.1 50.8,152.7 51.1,151.5 51.3,151.8 51.6,151.1 51.9,149.5 52.2,149.9 52.4,150.4 52.7,148.9 53.0,149.0 53.3,149.5 53.5,150.4 53.8,149.2 54.1,147.6 54.4,148.6 54.7,151.3 54.9,148.1 55.2,148.4 55.5,151.0 55.8,152.6 56.0,152.8 56.3,151.1 56.6,148.5 56.9,147.9 57.1,147.6 57.4,145.6 57.7,146.7 58.0,148.3 58.2,149.2 58.5,148.7 58.8,150.1 59.1,149.4 59.3,150.1 59.6,147.4 59.9,147.4 60.2,148.4 60.5,147.0 60.7,147.3 61.0,149.8 61.3,148.8 61.6,145.7 61.8,146.4 62.1,150.7 62.4,152.9 62.7,150.3 62.9,149.5 63.2,149.2 63.5,151.8 63.8,153.1 64.0,152.6 64.3,152.0 64.6,151.1 64.9,149.7 65.2,146.9 65.4,144.0 65.7,145.3 66.0,146.3 66.3,147.2 66.5,146.4 66.8,145.5 67.1,146.1 67.4,147.2 67.6,147.6 67.9,148.8 68.2,149.5 68.5,150.9 68.7,150.3 69.0,148.8 69.3,148.6 69.6,148.0 69.8,148.8 70.1,149.7 70.4,150.3 70.7,150.6 71.0,150.5 71.2,149.7 71.5,149.7 71.8,152.2 72.1,150.0 72.3,149.3 72.6,148.4 72.9,150.0 73.2,150.7 73.4,150.0 73.7,149.1 74.0,150.3 74.3,149.6 74.5,148.9 74.8,148.7 75.1,151.5 75.4,152.2 75.6,153.7 75.9,154.3 76.2,154.3 76.5,151.6 76.8,149.6 77.0,148.6 77.3,148.1 77.6,147.0 77.9,147.3 78.1,148.9 78.4,148.8 78.7,148.0 79.0,148.4 79.2,149.4 79.5,151.4 79.8,149.5 80.1,149.9 80.3,148.3 80.6,148.5 80.9,150.0 81.2,148.6 81.5,148.1 81.7,148.3 82.0,147.6 82.3,147.7 82.6,149.1 82.8,149.5 83.1,149.8 83.4,152.0 83.7,152.4 83.9,152.1 84.2,148.5 84.5,147.3 84.8,151.5 85.0,151.2 85.3,149.1 85.6,149.4 85.9,149.5 86.1,150.6 86.4,151.5 86.7,152.7 87.0,151.5 87.3,148.7 87.5,148.4 87.8,144.2 88.1,144.3 88.4,147.6 88.6,149.4 88.9,150.2 89.2,149.1 89.5,147.1 89.7,146.2 90.0,148.1 90.3,149.7 90.6,148.3 90.8,148.2 91.1,152.2 91.4,150.7 91.7,149.6 92.0,149.6 92.2,148.1 92.5,148.3 92.8,148.6 93.1,148.3 93.3,150.5 93.6,151.6 93.9,149.6 94.2,148.9 94.4,149.3 94.7,151.9 95.0,152.7 95.3,150.3 95.5,148.0 95.8,148.3 96.1,146.6 96.4,145.2 96.6,145.8 96.9,148.9 97.2,149.6 97.5,149.3 97.8,148.1 98.0,146.5 98.3,148.4 98.6,150.4 98.9,151.1 99.1,151.0 99.4,150.9 99.7,150.8 100.0,148.6 100.2,145.6 100.5,147.1 100.8,146.0 101.1,146.0 101.3,148.1 101.6,147.7 101.9,148.5 102.2,149.0 102.5,148.9 102.7,151.0 103.0,150.6 103.3,149.4 103.6,152.0 103.8,150.0 104.1,149.5 104.4,149.7 104.7,149.8 104.9,150.6 105.2,149.2 105.5,148.1 105.8,148.5 106.0,147.7 106.3,146.4 106.6,147.4 106.9,148.7 107.1,149.9 107.4,151.8 107.7,152.3 108.0,150.2 108.3,148.0 108.5,147.7 108.8,150.7 109.1,150.5 109.4,149.1 109.6,151.4 109.9,153.6 110.2,154.9 110.5,154.2 110.7,151.1 111.0,149.6 111.3,149.8 111.6,149.8 111.8,149.4 112.1,146.9 112.4,145.5 112.7,145.3 113.0,146.6 113.2,147.4 113.5,147.6 113.8,150.0 114.1,152.9 114.3,152.7 114.6,151.2 114.9,150.4 115.2,147.8 115.4,150.0 115.7,151.4 116.0,149.8 116.3,149.0 116.5,146.0 116.8,147.2 117.1,148.1 117.4,145.1 117.6,147.2 117.9,149.0 118.2,149.0 118.5,150.9 118.8,151.8 119.0,151.1 119.3,149.1 119.6,148.1 119.9,150.0 120.1,149.9 120.4,147.7 120.7,148.6 121.0,149.2 121.2,148.5 121.5,150.9 121.8,151.1 122.1,149.1 122.3,149.2 122.6,152.5 122.9,150.1 123.2,148.9 123.4,147.9 123.7,150.3 124.0,152.9 124.3,152.6 124.6,149.5 124.8,146.7 125.1,146.9 125.4,149.2 125.7,149.2 125.9,146.6 126.2,147.4 126.5,149.2 126.8,146.2 127.0,144.1 127.3,146.7 127.6,149.3 127.9,150.5 128.1,150.2 128.4,150.7 128.7,151.7 129.0,151.1 129.3,146.0 129.5,145.8 129.8,150.6 130.1,152.8 130.4,149.7 130.6,147.6 130.9,147.4 131.2,145.5 131.5,148.9 131.7,153.7 132.0,153.9 132.3,150.3 132.6,147.4 132.8,150.4 133.1,154.9 133.4,153.0 133.7,150.2 133.9,153.4 134.2,153.6 134.5,146.5 134.8,143.4 135.1,144.5 135.3,146.4 135.6,147.0 135.9,149.7 136.2,153.1 136.4,152.2 136.7,149.2 137.0,149.2 137.3,150.4 137.5,149.1 137.8,144.6 138.1,143.5 138.4,146.9 138.6,147.4 138.9,148.5 139.2,151.5 139.5,152.2 139.8,149.8 140.0,147.9 140.3,147.9 140.6,149.1 140.9,150.6 141.1,152.6 141.4,150.1 141.7,149.9 142.0,152.0 142.2,154.4 142.5,157.3 142.8,156.3 143.1,152.4 143.3,149.5 143.6,148.8 143.9,145.9 144.2,144.6 144.4,143.1 144.7,145.6 145.0,149.7 145.3,149.9 145.6,150.6 145.8,148.6 146.1,146.0 146.4,145.2 146.7,145.4 146.9,144.7 147.2,146.0 147.5,149.1 147.8,150.3 148.0,150.9 148.3,149.1 148.6,149.4 148.9,150.8 149.1,152.6 149.4,152.2 149.7,148.9 150.0,146.4 150.3,146.7 150.5,149.4 150.8,153.9 151.1,155.1 151.4,153.1 151.6,150.9 151.9,149.1 152.2,149.5 152.5,150.0 152.7,150.3 153.0,147.6 153.3,147.7 153.6,149.5 153.8,149.2 154.1,149.8 154.4,150.3 154.7,152.1 154.9,154.2 155.2,151.9 155.5,148.2 155.8,150.2 156.1,151.3 156.3,148.6 156.6,147.5 156.9,148.2 157.2,149.2 157.4,150.8 157.7,151.9 158.0,150.9 158.3,148.4 158.5,146.8 158.8,147.3 159.1,149.1 159.4,148.6 159.6,150.7 159.9,153.3 160.2,153.9 160.5,152.4 160.8,151.0 161.0,147.0 161.3,146.6 161.6,147.1 161.9,148.0 162.1,147.5 162.4,147.5 162.7,149.1 163.0,150.9 163.2,149.5 163.5,149.3 163.8,149.7 164.1,148.4 164.3,145.9 164.6,145.7 164.9,146.9 165.2,146.6 165.4,145.9 165.7,147.9 166.0,149.3" fill="none" stroke="#ff9d0a" stroke-width="1.05" stroke-linejoin="round"/>
<polyline points="22.6,151.7 22.9,155.2 23.2,158.0 23.4,159.4 23.7,158.9 24.0,159.3 24.3,160.3 24.5,159.2 24.8,158.9 25.1,156.0 25.4,159.2 25.6,162.8 25.9,162.5 26.2,160.5 26.5,159.3 26.7,157.3 27.0,157.4 27.3,158.2 27.6,158.9 27.8,160.5 28.1,160.1 28.4,157.3 28.7,157.1 29.0,158.9 29.2,160.5 29.5,159.3 29.8,157.5 30.1,159.9 30.3,159.3 30.6,158.4 30.9,159.3 31.2,160.1 31.4,160.3 31.7,161.0 32.0,160.5 32.3,158.5 32.5,159.4 32.8,158.2 33.1,160.8 33.4,162.0 33.7,160.6 33.9,162.8 34.2,165.4 34.5,164.4 34.8,162.5 35.0,159.6 35.3,156.4 35.6,157.3 35.9,157.8 36.1,157.1 36.4,157.4 36.7,157.8 37.0,159.1 37.2,158.8 37.5,158.4 37.8,159.4 38.1,158.3 38.3,157.8 38.6,155.8 38.9,156.7 39.2,160.6 39.5,161.5 39.7,162.1 40.0,160.1 40.3,160.8 40.6,161.7 40.8,160.9 41.1,160.4 41.4,161.3 41.7,158.2 41.9,158.9 42.2,160.4 42.5,158.0 42.8,159.5 43.0,159.0 43.3,159.9 43.6,159.1 43.9,156.8 44.2,158.0 44.4,158.0 44.7,156.9 45.0,158.9 45.3,158.0 45.5,158.2 45.8,161.5 46.1,161.7 46.4,161.5 46.6,160.9 46.9,159.9 47.2,161.9 47.5,163.2 47.7,162.0 48.0,160.2 48.3,159.0 48.6,159.5 48.8,160.1 49.1,157.4 49.4,154.6 49.7,154.3 50.0,157.6 50.2,159.7 50.5,160.9 50.8,162.7 51.1,160.8 51.3,160.3 51.6,160.5 51.9,160.0 52.2,160.3 52.4,160.2 52.7,159.1 53.0,158.5 53.3,157.3 53.5,158.1 53.8,157.8 54.1,156.9 54.4,158.1 54.7,161.0 54.9,158.0 55.2,158.3 55.5,161.7 55.8,161.6 56.0,160.6 56.3,160.1 56.6,158.8 56.9,157.6 57.1,155.9 57.4,155.4 57.7,157.9 58.0,157.9 58.2,158.3 58.5,159.4 58.8,160.8 59.1,161.5 59.3,163.9 59.6,161.2 59.9,159.2 60.2,158.3 60.5,156.6 60.7,156.6 61.0,158.9 61.3,158.3 61.6,155.8 61.8,156.1 62.1,160.3 62.4,163.3 62.7,162.2 62.9,160.5 63.2,158.0 63.5,159.8 63.8,161.2 64.0,162.4 64.3,162.8 64.6,161.2 64.9,158.7 65.2,157.8 65.4,156.2 65.7,155.8 66.0,155.8 66.3,155.6 66.5,155.3 66.8,154.1 67.1,155.9 67.4,157.3 67.6,158.1 67.9,160.2 68.2,159.4 68.5,160.0 68.7,160.3 69.0,158.6 69.3,159.0 69.6,158.5 69.8,158.9 70.1,159.9 70.4,160.8 70.7,158.3 71.0,158.4 71.2,157.8 71.5,157.6 71.8,161.1 72.1,160.7 72.3,161.0 72.6,158.0 72.9,159.1 73.2,161.2 73.4,161.2 73.7,162.0 74.0,162.0 74.3,161.0 74.5,160.4 74.8,159.7 75.1,161.2 75.4,161.1 75.6,162.4 75.9,163.0 76.2,163.2 76.5,161.5 76.8,161.3 77.0,160.4 77.3,159.9 77.6,158.5 77.9,158.4 78.1,159.7 78.4,159.2 78.7,158.3 79.0,158.9 79.2,159.3 79.5,161.4 79.8,160.5 80.1,160.6 80.3,159.6 80.6,159.8 80.9,160.4 81.2,158.9 81.5,158.0 81.7,157.7 82.0,156.3 82.3,156.0 82.6,157.6 82.8,157.9 83.1,159.0 83.4,162.3 83.7,161.8 83.9,161.1 84.2,158.9 84.5,159.2 84.8,160.4 85.0,157.8 85.3,157.6 85.6,159.3 85.9,161.6 86.1,163.0 86.4,162.2 86.7,162.0 87.0,161.2 87.3,158.8 87.5,157.4 87.8,154.5 88.1,155.4 88.4,159.0 88.6,161.1 88.9,160.3 89.2,159.6 89.5,157.3 89.7,155.7 90.0,157.1 90.3,157.0 90.6,157.6 90.8,158.0 91.1,160.8 91.4,161.4 91.7,162.3 92.0,161.9 92.2,160.2 92.5,159.4 92.8,157.9 93.1,158.6 93.3,161.0 93.6,162.4 93.9,158.9 94.2,155.7 94.4,156.9 94.7,161.0 95.0,162.9 95.3,161.4 95.5,159.2 95.8,158.3 96.1,156.9 96.4,154.8 96.6,154.7 96.9,156.9 97.2,157.7 97.5,158.8 97.8,158.8 98.0,158.7 98.3,160.1 98.6,161.7 98.9,162.6 99.1,162.7 99.4,161.6 99.7,160.0 100.0,157.7 100.2,155.4 100.5,156.8 100.8,156.2 101.1,157.4 101.3,160.1 101.6,160.0 101.9,160.5 102.2,159.2 102.5,156.4 102.7,159.7 103.0,161.6 103.3,160.3 103.6,161.6 103.8,159.3 104.1,158.6 104.4,158.4 104.7,159.5 104.9,159.9 105.2,156.4 105.5,153.6 105.8,156.0 106.0,156.2 106.3,155.5 106.6,157.5 106.9,159.9 107.1,160.2 107.4,160.6 107.7,162.7 108.0,160.9 108.3,159.6 108.5,160.4 108.8,162.8 109.1,161.5 109.4,158.5 109.6,159.5 109.9,160.6 110.2,161.8 110.5,162.4 110.7,160.5 111.0,159.9 111.3,160.8 111.6,161.3 111.8,161.1 112.1,157.9 112.4,155.2 112.7,155.1 113.0,156.3 113.2,158.6 113.5,157.2 113.8,158.5 114.1,161.1 114.3,161.2 114.6,159.7 114.9,159.5 115.2,158.3 115.4,160.4 115.7,161.5 116.0,160.2 116.3,159.2 116.5,156.1 116.8,157.0 117.1,158.2 117.4,157.6 117.6,159.3 117.9,159.0 118.2,157.8 118.5,158.3 118.8,158.9 119.0,160.2 119.3,159.1 119.6,158.3 119.9,158.9 120.1,159.9 120.4,158.9 120.7,159.0 121.0,158.5 121.2,158.9 121.5,159.6 121.8,159.8 122.1,158.6 122.3,160.0 122.6,163.0 122.9,160.9 123.2,160.9 123.4,160.7 123.7,162.2 124.0,162.6 124.3,162.4 124.6,161.5 124.8,158.4 125.1,158.8 125.4,160.2 125.7,159.0 125.9,156.3 126.2,155.3 126.5,156.3 126.8,155.8 127.0,155.8 127.3,157.5 127.6,158.6 127.9,158.7 128.1,159.2 128.4,162.7 128.7,164.8 129.0,164.7 129.3,160.0 129.5,160.0 129.8,162.1 130.1,162.8 130.4,158.7 130.6,156.0 130.9,156.0 131.2,155.3 131.5,159.3 131.7,162.8 132.0,161.8 132.3,158.4 132.6,154.9 132.8,155.8 133.1,161.5 133.4,165.6 133.7,166.2 133.9,165.0 134.2,162.8 134.5,159.9 134.8,158.6 135.1,157.8 135.3,156.1 135.6,156.9 135.9,158.0 136.2,158.0 136.4,158.7 136.7,156.7 137.0,156.1 137.3,156.8 137.5,158.9 137.8,157.5 138.1,156.4 138.4,158.1 138.6,158.4 138.9,158.6 139.2,158.7 139.5,157.8 139.8,156.6 140.0,157.8 140.3,159.7 140.6,160.2 140.9,160.6 141.1,160.5 141.4,156.8 141.7,156.3 142.0,158.6 142.2,161.5 142.5,166.1 142.8,168.1 143.1,164.6 143.3,161.1 143.6,162.5 143.9,161.3 144.2,159.3 144.4,154.6 144.7,152.3 145.0,151.9 145.3,152.2 145.6,160.7 145.8,165.6 146.1,162.0 146.4,157.9 146.7,155.5 146.9,154.9 147.2,155.3 147.5,158.5 147.8,162.2 148.0,164.0 148.3,162.9 148.6,160.1 148.9,157.6 149.1,157.9 149.4,159.9 149.7,160.2 150.0,161.1 150.3,160.2 150.5,159.2 150.8,160.3 151.1,160.7 151.4,161.5 151.6,162.3 151.9,162.3 152.2,161.6 152.5,161.0 152.7,161.8 153.0,157.7 153.3,158.0 153.6,158.7 153.8,156.6 154.1,156.7 154.4,156.7 154.7,159.2 154.9,162.5 155.2,161.6 155.5,159.0 155.8,160.7 156.1,161.8 156.3,159.4 156.6,158.8 156.9,159.2 157.2,159.6 157.4,160.2 157.7,161.0 158.0,160.4 158.3,158.1 158.5,156.9 158.8,158.0 159.1,158.6 159.4,157.1 159.6,159.0 159.9,161.7 160.2,162.9 160.5,161.0 160.8,159.8 161.0,157.8 161.3,157.1 161.6,157.3 161.9,156.8 162.1,156.8 162.4,158.4 162.7,159.9 163.0,160.8 163.2,162.1 163.5,161.5 163.8,160.6 164.1,158.4 164.3,157.6 164.6,157.7 164.9,157.8 165.2,158.3 165.4,157.7 165.7,157.4 166.0,157.1" fill="none" stroke="#ff9d0a" stroke-width="1.05" stroke-linejoin="round"/>
<polyline points="22.6,166.0 22.9,169.9 23.2,170.8 23.4,170.5 23.7,168.8 24.0,168.8 24.3,170.1 24.5,169.7 24.8,169.7 25.1,166.4 25.4,170.5 25.6,172.3 25.9,172.0 26.2,170.6 26.5,171.0 26.7,169.1 27.0,168.3 27.3,167.6 27.6,168.2 27.8,169.8 28.1,169.8 28.4,167.1 28.7,165.8 29.0,168.0 29.2,169.6 29.5,168.4 29.8,166.4 30.1,170.0 30.3,170.2 30.6,169.5 30.9,171.2 31.2,171.5 31.4,171.8 31.7,171.6 32.0,169.7 32.3,166.8 32.5,167.4 32.8,166.6 33.1,172.5 33.4,173.7 33.7,170.1 33.9,171.8 34.2,173.6 34.5,172.3 34.8,171.6 35.0,168.7 35.3,164.9 35.6,166.6 35.9,169.1 36.1,168.1 36.4,167.5 36.7,168.8 37.0,170.5 37.2,169.2 37.5,168.2 37.8,168.7 38.1,167.7 38.3,167.3 38.6,165.3 38.9,166.3 39.2,172.4 39.5,175.7 39.7,174.5 40.0,170.5 40.3,171.3 40.6,170.2 40.8,167.5 41.1,167.9 41.4,170.9 41.7,167.4 41.9,166.9 42.2,169.0 42.5,167.5 42.8,168.8 43.0,170.0 43.3,171.5 43.6,169.7 43.9,169.1 44.2,169.0 44.4,167.6 44.7,164.8 45.0,167.1 45.3,166.1 45.5,165.2 45.8,169.0 46.1,170.5 46.4,171.2 46.6,170.3 46.9,169.4 47.2,171.3 47.5,171.9 47.7,171.8 48.0,170.3 48.3,170.5 48.6,173.8 48.8,172.3 49.1,168.6 49.4,166.6 49.7,165.4 50.0,168.4 50.2,171.4 50.5,172.2 50.8,172.7 51.1,170.8 51.3,168.5 51.6,169.8 51.9,169.6 52.2,169.6 52.4,169.0 52.7,167.1 53.0,166.9 53.3,167.1 53.5,167.3 53.8,166.0 54.1,164.7 54.4,165.8 54.7,168.6 54.9,166.4 55.2,166.8 55.5,170.5 55.8,171.9 56.0,169.8 56.3,169.2 56.6,168.9 56.9,168.8 57.1,168.4 57.4,165.9 57.7,166.9 58.0,167.3 58.2,168.5 58.5,169.9 58.8,171.9 59.1,172.1 59.3,172.5 59.6,170.4 59.9,170.2 60.2,170.3 60.5,169.2 60.7,168.1 61.0,170.0 61.3,168.6 61.6,166.3 61.8,168.2 62.1,173.6 62.4,174.8 62.7,172.8 62.9,172.4 63.2,169.4 63.5,170.7 63.8,172.0 64.0,169.9 64.3,169.2 64.6,169.8 64.9,169.6 65.2,167.4 65.4,166.7 65.7,166.9 66.0,167.0 66.3,166.4 66.5,166.8 66.8,164.7 67.1,165.6 67.4,166.2 67.6,168.1 67.9,170.3 68.2,169.3 68.5,169.4 68.7,167.8 69.0,167.2 69.3,168.8 69.6,168.6 69.8,168.8 70.1,169.6 70.4,170.6 70.7,169.5 71.0,169.7 71.2,168.8 71.5,167.3 71.8,169.9 72.1,168.0 72.3,170.0 72.6,169.4 72.9,172.6 73.2,173.4 73.4,171.4 73.7,170.7 74.0,170.4 74.3,169.4 74.5,167.7 74.8,167.1 75.1,170.3 75.4,170.5 75.6,171.5 75.9,173.5 76.2,172.6 76.5,171.5 76.8,171.3 77.0,171.0 77.3,170.1 77.6,168.7 77.9,168.8 78.1,168.0 78.4,167.5 78.7,166.8 79.0,168.8 79.2,168.7 79.5,169.7 79.8,169.0 80.1,169.7 80.3,169.1 80.6,170.4 80.9,171.1 81.2,169.7 81.5,169.4 81.7,169.8 82.0,168.4 82.3,167.2 82.6,167.3 82.8,167.9 83.1,168.4 83.4,168.9 83.7,169.6 83.9,170.7 84.2,168.3 84.5,168.4 84.8,172.6 85.0,172.0 85.3,170.4 85.6,170.1 85.9,170.8 86.1,171.1 86.4,170.4 86.7,170.9 87.0,171.8 87.3,170.6 87.5,170.3 87.8,166.4 88.1,166.0 88.4,167.2 88.6,168.6 88.9,170.8 89.2,170.8 89.5,166.5 89.7,164.6 90.0,165.9 90.3,168.0 90.6,168.9 90.8,169.3 91.1,173.1 91.4,171.4 91.7,170.2 92.0,170.2 92.2,168.9 92.5,169.2 92.8,170.2 93.1,169.8 93.3,170.8 93.6,171.6 93.9,169.8 94.2,168.6 94.4,168.0 94.7,169.8 95.0,171.4 95.3,170.6 95.5,170.1 95.8,170.9 96.1,170.0 96.4,167.1 96.6,166.1 96.9,168.2 97.2,167.6 97.5,168.8 97.8,170.3 98.0,168.6 98.3,168.9 98.6,171.3 98.9,170.1 99.1,169.9 99.4,171.9 99.7,170.3 100.0,168.4 100.2,166.1 100.5,168.3 100.8,167.8 101.1,167.8 101.3,170.2 101.6,168.4 101.9,167.3 102.2,167.6 102.5,166.1 102.7,169.3 103.0,170.8 103.3,171.3 103.6,171.8 103.8,168.0 104.1,167.8 104.4,168.6 104.7,170.0 104.9,171.0 105.2,167.2 105.5,165.4 105.8,166.8 106.0,166.5 106.3,165.2 106.6,166.8 106.9,169.2 107.1,170.5 107.4,171.2 107.7,171.8 108.0,169.6 108.3,167.7 108.5,167.9 108.8,170.9 109.1,169.7 109.4,168.4 109.6,169.0 109.9,172.5 110.2,174.7 110.5,172.6 110.7,168.5 111.0,167.7 111.3,167.3 111.6,168.4 111.8,169.1 112.1,168.7 112.4,166.8 112.7,165.4 113.0,166.5 113.2,167.7 113.5,167.3 113.8,168.3 114.1,170.1 114.3,169.5 114.6,169.4 114.9,170.0 115.2,169.5 115.4,171.1 115.7,171.8 116.0,169.1 116.3,169.6 116.5,168.0 116.8,169.6 117.1,169.6 117.4,167.7 117.6,168.7 117.9,169.4 118.2,169.1 118.5,170.8 118.8,171.5 119.0,172.2 119.3,170.1 119.6,168.5 119.9,171.5 120.1,170.6 120.4,167.4 120.7,167.8 121.0,167.9 121.2,167.7 121.5,170.3 121.8,171.5 122.1,169.0 122.3,168.1 122.6,170.7 122.9,170.0 123.2,171.8 123.4,170.3 123.7,172.3 124.0,174.5 124.3,176.5 124.6,172.5 124.8,167.7 125.1,166.8 125.4,166.2 125.7,166.4 125.9,167.7 126.2,167.5 126.5,167.6 126.8,165.8 127.0,167.4 127.3,168.0 127.6,168.3 127.9,170.1 128.1,170.5 128.4,170.3 128.7,170.0 129.0,172.0 129.3,171.3 129.5,171.3 129.8,170.9 130.1,169.1 130.4,164.7 130.6,162.0 130.9,164.6 131.2,167.2 131.5,172.0 131.7,172.3 132.0,169.4 132.3,168.5 132.6,169.8 132.8,169.1 133.1,169.6 133.4,171.0 133.7,171.9 133.9,174.4 134.2,176.8 134.5,173.6 134.8,169.4 135.1,166.2 135.3,166.7 135.6,169.6 135.9,172.2 136.2,170.5 136.4,168.0 136.7,166.0 137.0,168.5 137.3,166.8 137.5,164.3 137.8,162.5 138.1,164.5 138.4,169.7 138.6,171.6 138.9,168.4 139.2,166.9 139.5,167.8 139.8,169.0 140.0,167.7 140.3,166.3 140.6,164.8 140.9,166.6 141.1,171.8 141.4,174.0 141.7,176.7 142.0,179.3 142.2,179.3 142.5,176.1 142.8,171.6 143.1,168.3 143.3,168.5 143.6,170.1 143.9,167.8 144.2,166.5 144.4,164.7 144.7,166.2 145.0,168.4 145.3,168.2 145.6,172.8 145.8,172.1 146.1,166.7 146.4,164.5 146.7,167.1 146.9,166.2 147.2,165.1 147.5,169.5 147.8,173.5 148.0,172.8 148.3,169.6 148.6,169.8 148.9,171.2 149.1,172.1 149.4,173.1 149.7,173.0 150.0,172.7 150.3,170.8 150.5,167.2 150.8,166.8 151.1,168.4 151.4,171.7 151.6,172.2 151.9,171.7 152.2,170.4 152.5,170.0 152.7,168.9 153.0,166.1 153.3,167.6 153.6,169.3 153.8,168.4 154.1,168.8 154.4,169.1 154.7,169.7 154.9,172.2 155.2,170.6 155.5,167.2 155.8,168.0 156.1,170.2 156.3,169.9 156.6,168.6 156.9,168.9 157.2,168.9 157.4,167.9 157.7,167.9 158.0,168.8 158.3,167.4 158.5,165.7 158.8,166.5 159.1,169.5 159.4,170.6 159.6,172.3 159.9,172.1 160.2,172.1 160.5,172.0 160.8,172.0 161.0,168.5 161.3,167.8 161.6,167.6 161.9,166.0 162.1,165.6 162.4,167.7 162.7,170.3 163.0,173.1 163.2,172.6 163.5,170.3 163.8,168.7 164.1,167.4 164.3,165.9 164.6,167.1 164.9,168.2 165.2,168.8 165.4,166.7 165.7,167.4 166.0,168.6" fill="none" stroke="#ff9d0a" stroke-width="1.05" stroke-linejoin="round"/>
<line x1="186.3" y1="24" x2="186.3" y2="182.4" stroke="#333" stroke-width="0.8"/>
<line x1="186.3" y1="182.4" x2="346.7" y2="182.4" stroke="#333" stroke-width="0.8"/>
<line x1="184.3" y1="36.3" x2="186.3" y2="36.3" stroke="#333" stroke-width="0.6"/>
<text x="182.3" y="38.2" font-size="5.2" text-anchor="end" fill="#000"  textLength="6.11" lengthAdjust="spacingAndGlyphs">Cz</text>
<line x1="184.3" y1="46.58" x2="186.3" y2="46.58" stroke="#333" stroke-width="0.6"/>
<text x="182.3" y="48.48" font-size="5.2" text-anchor="end" fill="#000"  textLength="5.49" lengthAdjust="spacingAndGlyphs">Fz</text>
<line x1="184.3" y1="56.86" x2="186.3" y2="56.86" stroke="#333" stroke-width="0.6"/>
<text x="182.3" y="58.76" font-size="5.2" text-anchor="end" fill="#000"  textLength="6.67" lengthAdjust="spacingAndGlyphs">C4</text>
<line x1="184.3" y1="67.14" x2="186.3" y2="67.14" stroke="#333" stroke-width="0.6"/>
<text x="182.3" y="69.04" font-size="5.2" text-anchor="end" fill="#000"  textLength="6.06" lengthAdjust="spacingAndGlyphs">F4</text>
<line x1="184.3" y1="77.42" x2="186.3" y2="77.42" stroke="#333" stroke-width="0.6"/>
<text x="182.3" y="79.32" font-size="5.2" text-anchor="end" fill="#000"  textLength="6.67" lengthAdjust="spacingAndGlyphs">C3</text>
<line x1="184.3" y1="87.7" x2="186.3" y2="87.7" stroke="#333" stroke-width="0.6"/>
<text x="182.3" y="89.6" font-size="5.2" text-anchor="end" fill="#000"  textLength="6.06" lengthAdjust="spacingAndGlyphs">F3</text>
<line x1="184.3" y1="97.98" x2="186.3" y2="97.98" stroke="#333" stroke-width="0.6"/>
<text x="182.3" y="99.88" font-size="5.2" text-anchor="end" fill="#000"  textLength="6.66" lengthAdjust="spacingAndGlyphs">R4</text>
<line x1="184.3" y1="108.26" x2="186.3" y2="108.26" stroke="#333" stroke-width="0.6"/>
<text x="182.3" y="110.16" font-size="5.2" text-anchor="end" fill="#000"  textLength="6.66" lengthAdjust="spacingAndGlyphs">R3</text>
<line x1="184.3" y1="118.54" x2="186.3" y2="118.54" stroke="#333" stroke-width="0.6"/>
<text x="182.3" y="120.44" font-size="5.2" text-anchor="end" fill="#000"  textLength="6.66" lengthAdjust="spacingAndGlyphs">R2</text>
<line x1="184.3" y1="128.82" x2="186.3" y2="128.82" stroke="#333" stroke-width="0.6"/>
<text x="182.3" y="130.72" font-size="5.2" text-anchor="end" fill="#000"  textLength="6.66" lengthAdjust="spacingAndGlyphs">R1</text>
<line x1="184.3" y1="139.1" x2="186.3" y2="139.1" stroke="#333" stroke-width="0.6"/>
<text x="182.3" y="141" font-size="5.2" text-anchor="end" fill="#000"  textLength="5.97" lengthAdjust="spacingAndGlyphs">L4</text>
<line x1="184.3" y1="149.38" x2="186.3" y2="149.38" stroke="#333" stroke-width="0.6"/>
<text x="182.3" y="151.28" font-size="5.2" text-anchor="end" fill="#000"  textLength="5.97" lengthAdjust="spacingAndGlyphs">L3</text>
<line x1="184.3" y1="159.66" x2="186.3" y2="159.66" stroke="#333" stroke-width="0.6"/>
<text x="182.3" y="161.56" font-size="5.2" text-anchor="end" fill="#000"  textLength="5.97" lengthAdjust="spacingAndGlyphs">L2</text>
<line x1="184.3" y1="169.94" x2="186.3" y2="169.94" stroke="#333" stroke-width="0.6"/>
<text x="182.3" y="171.84" font-size="5.2" text-anchor="end" fill="#000"  textLength="5.97" lengthAdjust="spacingAndGlyphs">L1</text>
<line x1="193.5" y1="182.4" x2="193.5" y2="184.4" stroke="#333" stroke-width="0.6"/>
<text x="193.5" y="190" font-size="5.2" text-anchor="middle" fill="#000"  textLength="3.18" lengthAdjust="spacingAndGlyphs">0</text>
<line x1="217.81" y1="182.4" x2="217.81" y2="184.4" stroke="#333" stroke-width="0.6"/>
<text x="217.81" y="190" font-size="5.2" text-anchor="middle" fill="#000"  textLength="9.54" lengthAdjust="spacingAndGlyphs">500</text>
<line x1="242.13" y1="182.4" x2="242.13" y2="184.4" stroke="#333" stroke-width="0.6"/>
<text x="242.13" y="190" font-size="5.2" text-anchor="middle" fill="#000"  textLength="12.72" lengthAdjust="spacingAndGlyphs">1000</text>
<line x1="266.44" y1="182.4" x2="266.44" y2="184.4" stroke="#333" stroke-width="0.6"/>
<text x="266.44" y="190" font-size="5.2" text-anchor="middle" fill="#000"  textLength="12.72" lengthAdjust="spacingAndGlyphs">1500</text>
<line x1="290.76" y1="182.4" x2="290.76" y2="184.4" stroke="#333" stroke-width="0.6"/>
<text x="290.76" y="190" font-size="5.2" text-anchor="middle" fill="#000"  textLength="12.72" lengthAdjust="spacingAndGlyphs">2000</text>
<line x1="315.07" y1="182.4" x2="315.07" y2="184.4" stroke="#333" stroke-width="0.6"/>
<text x="315.07" y="190" font-size="5.2" text-anchor="middle" fill="#000"  textLength="12.72" lengthAdjust="spacingAndGlyphs">2500</text>
<line x1="339.39" y1="182.4" x2="339.39" y2="184.4" stroke="#333" stroke-width="0.6"/>
<text x="339.39" y="190" font-size="5.2" text-anchor="middle" fill="#000"  textLength="12.72" lengthAdjust="spacingAndGlyphs">3000</text>
<text x="266.8" y="196.8" font-size="5.1" text-anchor="middle" fill="#000"  textLength="11.99" lengthAdjust="spacingAndGlyphs">Time</text>
<polyline points="193.5,32.9 193.8,33.5 194.1,35.3 194.3,37.1 194.6,38.0 194.9,37.7 195.2,37.1 195.5,37.2 195.7,38.1 196.0,38.8 196.3,38.6 196.6,37.7 196.9,36.9 197.2,36.6 197.4,36.3 197.7,35.8 198.0,34.9 198.3,33.8 198.6,33.1 198.8,33.6 199.1,35.3 199.4,37.0 199.7,37.9 200.0,38.1 200.2,37.7 200.5,36.9 200.8,36.4 201.1,36.8 201.4,37.5 201.7,37.7 201.9,37.1 202.2,35.7 202.5,33.7 202.8,32.3 203.1,32.7 203.3,34.8 203.6,36.9 203.9,37.1 204.2,35.5 204.5,33.6 204.7,32.8 205.0,33.3 205.3,34.9 205.6,36.9 205.9,38.7 206.1,39.9 206.4,40.0 206.7,39.0 207.0,37.4 207.3,35.7 207.6,34.6 207.8,34.1 208.1,34.3 208.4,35.0 208.7,36.4 209.0,37.6 209.2,38.4 209.5,39.0 209.8,39.4 210.1,39.0 210.4,38.4 210.6,38.6 210.9,39.1 211.2,38.9 211.5,37.8 211.8,37.0 212.1,36.4 212.3,35.9 212.6,35.7 212.9,36.0 213.2,36.5 213.5,37.2 213.7,37.7 214.0,37.3 214.3,36.5 214.6,36.0 214.9,35.6 215.1,35.2 215.4,35.5 215.7,36.0 216.0,35.9 216.3,35.2 216.6,34.4 216.8,34.0 217.1,34.4 217.4,36.2 217.7,38.5 218.0,39.1 218.2,37.1 218.5,34.2 218.8,33.0 219.1,33.6 219.4,33.5 219.6,32.0 219.9,31.0 220.2,32.3 220.5,34.9 220.8,36.7 221.0,36.8 221.3,36.2 221.6,35.9 221.9,36.1 222.2,37.2 222.5,38.6 222.7,39.2 223.0,38.4 223.3,36.9 223.6,36.2 223.9,36.6 224.1,36.8 224.4,35.7 224.7,34.3 225.0,34.7 225.3,36.4 225.5,37.4 225.8,36.5 226.1,34.6 226.4,34.1 226.7,35.7 227.0,37.8 227.2,38.8 227.5,38.6 227.8,37.9 228.1,36.9 228.4,35.7 228.6,34.2 228.9,33.3 229.2,33.8 229.5,36.0 229.8,38.9 230.0,40.6 230.3,40.0 230.6,38.1 230.9,36.2 231.2,34.8 231.4,33.8 231.7,33.0 232.0,32.7 232.3,33.8 232.6,36.2 232.9,38.1 233.1,38.2 233.4,37.3 233.7,36.5 234.0,36.0 234.3,35.6 234.5,35.2 234.8,35.2 235.1,35.5 235.4,35.7 235.7,35.3 235.9,35.1 236.2,35.8 236.5,36.9 236.8,37.2 237.1,36.5 237.4,35.9 237.6,36.0 237.9,36.9 238.2,37.6 238.5,37.4 238.8,35.8 239.0,33.6 239.3,32.7 239.6,34.4 239.9,37.9 240.2,41.0 240.4,42.6 240.7,42.7 241.0,41.1 241.3,38.5 241.6,36.1 241.8,34.8 242.1,34.7 242.4,35.1 242.7,35.7 243.0,36.0 243.3,35.7 243.5,35.1 243.8,34.9 244.1,35.6 244.4,36.9 244.7,38.0 244.9,38.4 245.2,38.4 245.5,37.9 245.8,37.2 246.1,36.9 246.3,37.3 246.6,37.6 246.9,37.2 247.2,36.1 247.5,35.6 247.8,36.5 248.0,37.6 248.3,37.5 248.6,36.6 248.9,36.1 249.2,36.4 249.4,36.8 249.7,37.1 250.0,37.0 250.3,36.2 250.6,34.8 250.8,33.7 251.1,33.5 251.4,34.0 251.7,34.6 252.0,34.9 252.2,35.5 252.5,36.1 252.8,36.2 253.1,36.4 253.4,37.5 253.7,38.3 253.9,37.4 254.2,35.6 254.5,34.7 254.8,34.3 255.1,34.2 255.3,34.8 255.6,36.1 255.9,37.6 256.2,38.6 256.5,38.9 256.7,38.9 257.0,38.8 257.3,38.3 257.6,36.9 257.9,35.4 258.2,34.4 258.4,34.0 258.7,33.9 259.0,34.6 259.3,36.3 259.6,38.3 259.8,39.2 260.1,38.5 260.4,36.8 260.7,35.2 261.0,34.9 261.2,36.2 261.5,37.8 261.8,38.3 262.1,37.0 262.4,34.6 262.7,32.2 262.9,31.5 263.2,32.4 263.5,34.3 263.8,36.4 264.1,38.1 264.3,38.7 264.6,38.1 264.9,36.6 265.2,35.6 265.5,35.9 265.7,37.0 266.0,37.4 266.3,37.0 266.6,36.6 266.9,36.9 267.1,37.5 267.4,37.9 267.7,37.7 268.0,37.2 268.3,36.6 268.6,36.2 268.8,35.9 269.1,35.8 269.4,35.8 269.7,36.5 270.0,37.2 270.2,37.1 270.5,36.3 270.8,35.6 271.1,35.5 271.4,35.8 271.6,35.9 271.9,35.3 272.2,34.8 272.5,35.1 272.8,36.0 273.1,37.1 273.3,37.8 273.6,37.6 273.9,37.0 274.2,36.5 274.5,36.4 274.7,36.7 275.0,36.9 275.3,36.5 275.6,35.5 275.9,34.5 276.1,34.2 276.4,35.3 276.7,37.4 277.0,39.0 277.3,39.3 277.5,39.1 277.8,38.6 278.1,37.2 278.4,35.2 278.7,34.0 279.0,34.1 279.2,34.4 279.5,35.0 279.8,36.6 280.1,38.6 280.4,39.0 280.6,37.5 280.9,34.9 281.2,33.2 281.5,32.7 281.8,32.6 282.0,33.0 282.3,34.4 282.6,36.4 282.9,37.3 283.2,37.0 283.5,36.5 283.7,36.3 284.0,35.2 284.3,32.7 284.6,30.9 284.9,32.6 285.1,36.6 285.4,39.4 285.7,39.8 286.0,39.1 286.3,38.2 286.5,37.3 286.8,36.8 287.1,37.3 287.4,37.8 287.7,37.7 287.9,37.0 288.2,36.2 288.5,35.3 288.8,34.1 289.1,33.0 289.4,33.2 289.6,34.9 289.9,37.5 290.2,39.7 290.5,40.7 290.8,39.9 291.0,38.1 291.3,37.1 291.6,37.0 291.9,36.1 292.2,34.3 292.4,33.2 292.7,33.5 293.0,33.9 293.3,33.8 293.6,33.8 293.9,35.2 294.1,38.1 294.4,40.8 294.7,41.9 295.0,41.2 295.3,39.5 295.5,37.7 295.8,36.1 296.1,34.7 296.4,34.5 296.7,36.0 296.9,38.5 297.2,40.0 297.5,40.0 297.8,39.8 298.1,39.6 298.3,38.9 298.6,38.0 298.9,37.2 299.2,35.9 299.5,33.4 299.8,31.0 300.0,30.4 300.3,31.7 300.6,34.3 300.9,36.7 301.2,37.2 301.4,36.0 301.7,35.3 302.0,35.9 302.3,36.7 302.6,36.3 302.8,35.1 303.1,34.6 303.4,34.8 303.7,34.8 304.0,34.7 304.3,35.2 304.5,36.0 304.8,36.1 305.1,35.5 305.4,34.6 305.7,33.7 305.9,33.4 306.2,34.3 306.5,35.9 306.8,37.7 307.1,39.1 307.3,39.8 307.6,39.7 307.9,39.3 308.2,38.8 308.5,38.0 308.8,36.6 309.0,34.6 309.3,33.2 309.6,33.3 309.9,34.5 310.2,35.2 310.4,35.0 310.7,34.8 311.0,35.5 311.3,36.8 311.6,37.5 311.8,36.7 312.1,35.5 312.4,35.6 312.7,36.5 313.0,37.3 313.2,37.2 313.5,36.1 313.8,34.5 314.1,33.4 314.4,33.2 314.7,33.8 314.9,35.1 315.2,36.7 315.5,37.5 315.8,36.4 316.1,34.1 316.3,32.8 316.6,33.7 316.9,36.1 317.2,38.2 317.5,39.2 317.7,39.4 318.0,38.9 318.3,37.7 318.6,36.4 318.9,35.8 319.2,36.2 319.4,37.8 319.7,39.8 320.0,40.7 320.3,39.0 320.6,35.4 320.8,31.7 321.1,30.6 321.4,32.2 321.7,34.8 322.0,36.9 322.2,38.3 322.5,38.7 322.8,37.9 323.1,36.9 323.4,37.1 323.6,38.7 323.9,40.4 324.2,40.6 324.5,39.0 324.8,36.6 325.1,34.7 325.3,33.7 325.6,33.9 325.9,34.6 326.2,35.4 326.5,36.4 326.7,37.3 327.0,37.6 327.3,37.1 327.6,36.2 327.9,35.3 328.1,34.7 328.4,34.2 328.7,34.2 329.0,35.4 329.3,36.9 329.6,37.7 329.8,37.8 330.1,37.7 330.4,37.5 330.7,37.1 331.0,36.7 331.2,36.3 331.5,35.7 331.8,35.4 332.1,35.5 332.4,36.1 332.6,36.8 332.9,36.6 333.2,35.7 333.5,35.3 333.8,35.8 334.0,36.6 334.3,37.4 334.6,38.1 334.9,37.9 335.2,36.7 335.5,35.5 335.7,35.4 336.0,36.0 336.3,36.3 336.6,35.8 336.9,35.5 337.1,36.1 337.4,36.5 337.7,36.0 338.0,35.3 338.3,35.3 338.5,36.1 338.8,37.3 339.1,38.5 339.4,39.0" fill="none" stroke="#0000ff" stroke-width="0.9" stroke-linejoin="round"/>
<polyline points="193.5,43.8 193.8,44.0 194.1,44.9 194.3,46.3 194.6,47.4 194.9,48.1 195.2,48.6 195.5,49.0 195.7,49.3 196.0,48.7 196.3,47.2 196.6,45.6 196.9,45.0 197.2,45.6 197.4,46.9 197.7,47.9 198.0,48.0 198.3,46.7 198.6,45.0 198.8,44.5 199.1,45.4 199.4,46.5 199.7,47.1 200.0,47.5 200.2,48.0 200.5,48.1 200.8,47.4 201.1,45.8 201.4,44.1 201.7,43.5 201.9,44.0 202.2,44.3 202.5,44.5 202.8,45.9 203.1,47.8 203.3,48.1 203.6,47.0 203.9,46.1 204.2,45.2 204.5,44.2 204.7,43.9 205.0,44.6 205.3,45.6 205.6,46.8 205.9,48.5 206.1,50.2 206.4,50.8 206.7,49.8 207.0,47.8 207.3,45.6 207.6,44.2 207.8,43.9 208.1,44.3 208.4,45.3 208.7,46.5 209.0,47.6 209.2,48.3 209.5,48.6 209.8,48.4 210.1,47.9 210.4,47.8 210.6,48.7 210.9,49.7 211.2,49.7 211.5,49.3 211.8,49.2 212.1,49.1 212.3,48.5 212.6,47.7 212.9,47.0 213.2,46.5 213.5,46.3 213.7,46.1 214.0,45.4 214.3,45.2 214.6,46.1 214.9,46.9 215.1,46.7 215.4,46.3 215.7,46.2 216.0,46.0 216.3,45.9 216.6,45.8 216.8,45.5 217.1,45.1 217.4,45.6 217.7,47.2 218.0,48.2 218.2,46.8 218.5,44.2 218.8,43.1 219.1,44.1 219.4,44.5 219.6,43.4 219.9,42.7 220.2,44.2 220.5,46.3 220.8,47.4 221.0,47.6 221.3,47.4 221.6,47.0 221.9,46.7 222.2,46.9 222.5,47.4 222.7,47.4 223.0,46.8 223.3,46.3 223.6,46.5 223.9,47.2 224.1,47.0 224.4,45.5 224.7,44.2 225.0,44.9 225.3,47.2 225.5,49.1 225.8,48.5 226.1,46.2 226.4,44.5 226.7,44.9 227.0,46.4 227.2,47.9 227.5,48.8 227.8,48.7 228.1,46.9 228.4,44.4 228.6,42.9 228.9,43.2 229.2,44.9 229.5,47.4 229.8,49.9 230.0,51.0 230.3,50.1 230.6,48.3 230.9,47.0 231.2,46.4 231.4,46.1 231.7,45.8 232.0,45.1 232.3,45.2 232.6,46.7 232.9,48.3 233.1,48.4 233.4,47.6 233.7,47.1 234.0,47.1 234.3,46.7 234.5,45.6 234.8,44.4 235.1,43.6 235.4,43.4 235.7,43.7 235.9,45.3 236.2,47.9 236.5,49.7 236.8,49.3 237.1,47.2 237.4,45.2 237.6,44.4 237.9,45.4 238.2,47.5 238.5,48.8 238.8,48.0 239.0,45.8 239.3,43.6 239.6,43.4 239.9,45.7 240.2,49.0 240.4,51.1 240.7,51.0 241.0,49.0 241.3,46.1 241.6,43.7 241.8,43.1 242.1,44.2 242.4,45.7 242.7,46.9 243.0,47.8 243.3,47.9 243.5,47.4 243.8,47.0 244.1,47.1 244.4,47.3 244.7,47.3 244.9,47.5 245.2,47.9 245.5,47.9 245.8,47.6 246.1,47.4 246.3,47.2 246.6,46.4 246.9,45.2 247.2,44.1 247.5,44.3 247.8,46.0 248.0,47.7 248.3,48.0 248.6,47.2 248.9,46.6 249.2,47.3 249.4,48.5 249.7,48.8 250.0,47.7 250.3,46.1 250.6,45.0 250.8,44.8 251.1,45.2 251.4,45.4 251.7,44.8 252.0,44.2 252.2,44.5 252.5,45.6 252.8,46.4 253.1,47.1 253.4,48.3 253.7,49.4 253.9,48.7 254.2,46.6 254.5,44.7 254.8,43.9 255.1,43.9 255.3,44.7 255.6,46.2 255.9,47.6 256.2,48.4 256.5,48.3 256.7,48.3 257.0,49.0 257.3,49.4 257.6,48.6 257.9,47.1 258.2,46.0 258.4,45.3 258.7,45.1 259.0,45.3 259.3,46.2 259.6,46.8 259.8,46.5 260.1,45.7 260.4,44.8 260.7,43.8 261.0,43.6 261.2,45.6 261.5,48.3 261.8,49.3 262.1,47.9 262.4,45.6 262.7,44.1 262.9,43.7 263.2,44.2 263.5,45.2 263.8,46.6 264.1,48.0 264.3,48.7 264.6,48.4 264.9,47.3 265.2,46.3 265.5,46.5 265.7,47.3 266.0,46.8 266.3,45.2 266.6,44.8 266.9,46.7 267.1,49.6 267.4,51.1 267.7,50.1 268.0,47.7 268.3,45.6 268.6,44.6 268.8,44.7 269.1,45.5 269.4,46.8 269.7,48.7 270.0,50.4 270.2,50.4 270.5,48.7 270.8,46.6 271.1,45.5 271.4,45.2 271.6,44.7 271.9,43.7 272.2,43.5 272.5,44.6 272.8,46.3 273.1,47.8 273.3,49.0 273.6,49.7 273.9,50.0 274.2,49.9 274.5,49.1 274.7,47.7 275.0,46.2 275.3,45.2 275.6,45.3 275.9,46.6 276.1,47.8 276.4,48.5 276.7,49.2 277.0,49.9 277.3,49.8 277.5,49.1 277.8,48.0 278.1,46.3 278.4,43.8 278.7,41.9 279.0,42.2 279.2,44.1 279.5,46.1 279.8,48.1 280.1,49.6 280.4,49.4 280.6,47.2 280.9,44.6 281.2,43.3 281.5,43.5 281.8,43.8 282.0,44.1 282.3,45.2 282.6,46.5 282.9,47.0 283.2,46.5 283.5,45.2 283.7,44.0 284.0,43.2 284.3,42.2 284.6,41.5 284.9,42.6 285.1,45.0 285.4,47.6 285.7,50.0 286.0,51.7 286.3,51.5 286.5,49.4 286.8,47.3 287.1,46.7 287.4,47.0 287.7,46.2 287.9,44.5 288.2,43.4 288.5,43.7 288.8,44.5 289.1,45.1 289.4,45.9 289.6,47.2 289.9,49.0 290.2,50.9 290.5,51.9 290.8,50.8 291.0,48.0 291.3,45.8 291.6,45.1 291.9,45.0 292.2,44.7 292.4,44.7 292.7,44.8 293.0,44.0 293.3,42.8 293.6,42.8 293.9,45.1 294.1,48.6 294.4,51.3 294.7,52.0 295.0,51.2 295.3,49.7 295.5,47.9 295.8,46.3 296.1,45.2 296.4,45.4 296.7,47.3 296.9,49.8 297.2,50.6 297.5,49.6 297.8,48.7 298.1,48.7 298.3,48.6 298.6,47.8 298.9,46.7 299.2,45.7 299.5,44.6 299.8,43.6 300.0,43.0 300.3,43.0 300.6,44.6 300.9,47.0 301.2,48.0 301.4,46.5 301.7,44.5 302.0,44.1 302.3,45.0 302.6,45.3 302.8,44.9 303.1,44.9 303.4,45.1 303.7,44.5 304.0,43.9 304.3,44.2 304.5,45.1 304.8,45.5 305.1,45.2 305.4,44.8 305.7,44.6 305.9,45.1 306.2,46.5 306.5,48.2 306.8,49.5 307.1,50.3 307.3,50.5 307.6,50.4 307.9,50.3 308.2,49.9 308.5,48.3 308.8,45.8 309.0,43.6 309.3,43.3 309.6,44.7 309.9,45.9 310.2,45.5 310.4,44.2 310.7,43.7 311.0,44.9 311.3,46.9 311.6,48.0 311.8,47.4 312.1,46.4 312.4,46.4 312.7,46.6 313.0,46.2 313.2,45.9 313.5,45.9 313.8,45.7 314.1,45.5 314.4,45.6 314.7,46.0 314.9,46.9 315.2,47.8 315.5,48.1 315.8,47.0 316.1,45.1 316.3,44.1 316.6,45.0 316.9,47.1 317.2,48.8 317.5,49.5 317.7,49.7 318.0,49.4 318.3,48.5 318.6,47.5 318.9,47.1 319.2,47.5 319.4,48.3 319.7,49.2 320.0,49.5 320.3,48.5 320.6,46.4 320.8,44.3 321.1,43.7 321.4,44.2 321.7,45.1 322.0,45.7 322.2,46.1 322.5,46.0 322.8,45.5 323.1,45.2 323.4,46.3 323.6,49.1 323.9,51.9 324.2,52.3 324.5,50.0 324.8,46.9 325.1,44.9 325.3,43.9 325.6,43.5 325.9,43.9 326.2,44.9 326.5,46.4 326.7,47.5 327.0,47.4 327.3,46.3 327.6,45.3 327.9,44.4 328.1,43.5 328.4,42.7 328.7,42.6 329.0,44.4 329.3,46.8 329.6,48.0 329.8,47.9 330.1,47.6 330.4,47.0 330.7,46.0 331.0,45.4 331.2,45.6 331.5,46.4 331.8,47.1 332.1,47.4 332.4,47.7 332.6,48.0 332.9,47.7 333.2,46.7 333.5,45.9 333.8,46.2 334.0,47.1 334.3,48.1 334.6,48.6 334.9,48.1 335.2,46.8 335.5,45.6 335.7,45.4 336.0,46.0 336.3,46.5 336.6,46.5 336.9,46.6 337.1,47.2 337.4,47.4 337.7,47.1 338.0,47.0 338.3,47.4 338.5,47.8 338.8,47.8 339.1,47.6 339.4,47.4" fill="none" stroke="#0000ff" stroke-width="0.9" stroke-linejoin="round"/>
<polyline points="193.5,52.5 193.8,53.0 194.1,54.8 194.3,57.3 194.6,58.9 194.9,59.0 195.2,58.5 195.5,58.5 195.7,59.1 196.0,59.3 196.3,58.5 196.6,57.8 196.9,57.7 197.2,57.9 197.4,57.6 197.7,57.0 198.0,56.0 198.3,54.6 198.6,53.7 198.8,54.8 199.1,57.7 199.4,59.8 199.7,59.8 200.0,59.1 200.2,59.3 200.5,60.1 200.8,60.5 201.1,60.0 201.4,58.5 201.7,56.5 201.9,53.9 202.2,51.5 202.5,50.7 202.8,52.3 203.1,55.0 203.3,56.4 203.6,56.3 203.9,55.9 204.2,55.9 204.5,55.8 204.7,55.3 205.0,54.9 205.3,55.0 205.6,56.1 205.9,57.8 206.1,59.4 206.4,60.0 206.7,59.6 207.0,58.2 207.3,56.6 207.6,55.4 207.8,54.8 208.1,54.3 208.4,54.2 208.7,54.8 209.0,56.1 209.2,57.1 209.5,57.9 209.8,58.2 210.1,57.9 210.4,57.8 210.6,58.6 210.9,59.8 211.2,59.9 211.5,59.2 211.8,59.0 212.1,59.0 212.3,58.6 212.6,57.8 212.9,57.0 213.2,56.5 213.5,56.3 213.7,55.8 214.0,54.7 214.3,54.1 214.6,55.2 214.9,57.4 215.1,59.2 215.4,60.0 215.7,59.4 216.0,57.6 216.3,55.6 216.6,54.2 216.8,53.3 217.1,53.5 217.4,55.1 217.7,57.3 218.0,58.5 218.2,57.5 218.5,55.3 218.8,54.2 219.1,54.8 219.4,54.8 219.6,53.3 219.9,51.9 220.2,52.6 220.5,54.9 220.8,56.9 221.0,57.6 221.3,57.7 221.6,57.2 221.9,56.8 222.2,56.9 222.5,57.7 222.7,57.8 223.0,56.7 223.3,55.7 223.6,56.9 223.9,59.4 224.1,60.3 224.4,58.3 224.7,55.7 225.0,55.4 225.3,57.4 225.5,59.3 225.8,59.0 226.1,57.2 226.4,56.1 226.7,57.2 227.0,59.1 227.2,59.8 227.5,59.1 227.8,57.4 228.1,55.6 228.4,54.5 228.6,54.5 228.9,55.1 229.2,55.6 229.5,56.7 229.8,58.8 230.0,60.3 230.3,59.6 230.6,57.5 230.9,55.8 231.2,55.0 231.4,54.7 231.7,54.3 232.0,53.9 232.3,54.9 232.6,57.2 232.9,58.9 233.1,58.8 233.4,58.5 233.7,58.7 234.0,58.7 234.3,58.1 234.5,56.9 234.8,55.8 235.1,55.2 235.4,55.0 235.7,55.2 235.9,55.9 236.2,57.3 236.5,58.9 236.8,59.4 237.1,58.3 237.4,56.6 237.6,55.6 237.9,55.9 238.2,56.7 238.5,57.4 238.8,57.0 239.0,55.4 239.3,53.6 239.6,53.9 239.9,56.4 240.2,59.2 240.4,60.4 240.7,60.1 241.0,59.1 241.3,57.7 241.6,56.1 241.8,55.1 242.1,55.3 242.4,56.5 242.7,57.6 243.0,57.9 243.3,57.2 243.5,56.3 243.8,56.0 244.1,56.4 244.4,57.3 244.7,58.2 244.9,58.6 245.2,58.5 245.5,57.9 245.8,57.3 246.1,57.2 246.3,57.2 246.6,56.8 246.9,55.9 247.2,55.4 247.5,55.8 247.8,57.7 248.0,59.8 248.3,60.0 248.6,58.2 248.9,56.7 249.2,56.8 249.4,57.6 249.7,57.7 250.0,57.0 250.3,56.2 250.6,56.0 250.8,56.4 251.1,57.2 251.4,57.8 251.7,57.4 252.0,56.4 252.2,56.0 252.5,56.6 252.8,57.1 253.1,57.4 253.4,57.8 253.7,57.8 253.9,56.5 254.2,55.0 254.5,54.6 254.8,54.8 255.1,55.1 255.3,55.9 255.6,57.1 255.9,58.1 256.2,58.1 256.5,57.8 256.7,58.3 257.0,59.3 257.3,59.2 257.6,57.5 257.9,55.2 258.2,54.0 258.4,53.9 258.7,54.2 259.0,55.2 259.3,57.2 259.6,58.6 259.8,58.1 260.1,56.6 260.4,55.5 260.7,55.0 261.0,55.1 261.2,56.5 261.5,58.7 261.8,59.6 262.1,58.2 262.4,55.8 262.7,54.1 262.9,53.7 263.2,54.5 263.5,56.0 263.8,57.8 264.1,59.2 264.3,59.6 264.6,58.8 264.9,57.0 265.2,55.4 265.5,55.2 265.7,56.3 266.0,56.8 266.3,56.4 266.6,56.5 266.9,57.5 267.1,58.7 267.4,59.0 267.7,58.3 268.0,56.8 268.3,55.4 268.6,54.8 268.8,55.2 269.1,56.5 269.4,57.9 269.7,59.2 270.0,60.0 270.2,59.7 270.5,58.3 270.8,57.2 271.1,57.1 271.4,57.4 271.6,57.0 271.9,55.3 272.2,53.8 272.5,53.7 272.8,55.0 273.1,56.7 273.3,57.9 273.6,57.9 273.9,57.7 274.2,58.3 274.5,59.3 274.7,59.8 275.0,59.1 275.3,57.4 275.6,55.7 275.9,55.2 276.1,55.6 276.4,56.4 276.7,58.0 277.0,59.6 277.3,60.1 277.5,59.2 277.8,57.2 278.1,54.7 278.4,52.6 278.7,51.9 279.0,53.1 279.2,54.7 279.5,55.5 279.8,56.2 280.1,57.5 280.4,58.5 280.6,58.3 280.9,57.7 281.2,57.8 281.5,58.1 281.8,57.5 282.0,56.2 282.3,55.5 282.6,55.4 282.9,55.4 283.2,55.2 283.5,54.7 283.7,53.9 284.0,52.5 284.3,51.0 284.6,51.5 284.9,55.0 285.1,58.9 285.4,60.4 285.7,60.0 286.0,59.4 286.3,58.7 286.5,57.6 286.8,57.0 287.1,57.6 287.4,58.3 287.7,57.9 287.9,56.8 288.2,56.1 288.5,56.2 288.8,56.6 289.1,56.9 289.4,57.3 289.6,57.7 289.9,58.3 290.2,59.4 290.5,60.6 290.8,60.7 291.0,59.3 291.3,57.9 291.6,57.2 291.9,56.7 292.2,56.3 292.4,56.1 292.7,55.7 293.0,54.5 293.3,53.0 293.6,52.9 293.9,55.0 294.1,58.8 294.4,62.2 294.7,63.5 295.0,62.7 295.3,60.6 295.5,57.9 295.8,55.1 296.1,53.5 296.4,54.1 296.7,56.7 296.9,59.4 297.2,60.1 297.5,59.3 297.8,59.2 298.1,60.2 298.3,61.0 298.6,60.4 298.9,58.6 299.2,56.1 299.5,53.2 299.8,51.2 300.0,51.1 300.3,52.6 300.6,54.9 300.9,57.1 301.2,58.0 301.4,57.3 301.7,56.4 302.0,56.1 302.3,56.4 302.6,56.2 302.8,55.7 303.1,55.3 303.4,55.1 303.7,54.5 304.0,54.3 304.3,55.0 304.5,56.2 304.8,56.6 305.1,56.0 305.4,55.0 305.7,54.2 305.9,54.5 306.2,56.2 306.5,58.4 306.8,59.8 307.1,60.5 307.3,60.6 307.6,60.2 307.9,59.6 308.2,59.3 308.5,58.6 308.8,57.0 309.0,54.8 309.3,53.4 309.6,53.9 309.9,55.2 310.2,55.5 310.4,54.5 310.7,53.8 311.0,55.0 311.3,57.4 311.6,58.7 311.8,58.0 312.1,56.9 312.4,56.7 312.7,56.8 313.0,56.6 313.2,56.2 313.5,56.0 313.8,55.5 314.1,54.6 314.4,53.9 314.7,54.5 314.9,57.0 315.2,59.5 315.5,59.6 315.8,57.3 316.1,54.7 316.3,54.1 316.6,55.7 316.9,58.2 317.2,60.1 317.5,61.0 317.7,61.0 318.0,60.5 318.3,59.2 318.6,57.7 318.9,56.3 319.2,55.5 319.4,56.1 319.7,58.1 320.0,60.0 320.3,59.9 320.6,57.3 320.8,54.1 321.1,52.8 321.4,53.5 321.7,55.3 322.0,56.8 322.2,57.7 322.5,57.6 322.8,56.8 323.1,56.0 323.4,56.0 323.6,57.4 323.9,59.1 324.2,59.4 324.5,57.8 324.8,55.7 325.1,54.4 325.3,54.0 325.6,54.3 325.9,55.2 326.2,56.8 326.5,58.7 326.7,59.9 327.0,59.3 327.3,57.5 327.6,55.9 327.9,54.8 328.1,54.1 328.4,53.4 328.7,53.4 329.0,55.0 329.3,57.2 329.6,57.9 329.8,56.9 330.1,55.6 330.4,55.1 330.7,55.3 331.0,55.8 331.2,56.6 331.5,57.5 331.8,57.9 332.1,57.5 332.4,57.1 332.6,56.9 332.9,56.8 333.2,56.8 333.5,57.3 333.8,58.2 334.0,59.0 334.3,59.6 334.6,59.7 334.9,58.9 335.2,57.5 335.5,56.7 335.7,56.8 336.0,57.1 336.3,56.8 336.6,56.0 336.9,55.8 337.1,56.8 337.4,58.0 337.7,58.1 338.0,57.1 338.3,56.5 338.5,56.9 338.8,57.8 339.1,58.5 339.4,58.7" fill="none" stroke="#0000ff" stroke-width="0.9" stroke-linejoin="round"/>
<polyline points="193.5,62.6 193.8,62.8 194.1,63.9 194.3,66.0 194.6,68.2 194.9,69.3 195.2,69.6 195.5,69.7 195.7,69.8 196.0,69.2 196.3,68.0 196.6,67.3 196.9,67.6 197.2,68.2 197.4,68.0 197.7,67.4 198.0,66.6 198.3,65.7 198.6,65.0 198.8,65.2 199.1,66.5 199.4,67.7 199.7,67.9 200.0,67.7 200.2,68.2 200.5,69.5 200.8,70.8 201.1,70.5 201.4,68.4 201.7,65.9 201.9,64.2 202.2,63.1 202.5,62.6 202.8,63.0 203.1,64.4 203.3,66.3 203.6,67.5 203.9,67.4 204.2,66.5 204.5,66.1 204.7,66.3 205.0,66.8 205.3,67.4 205.6,68.0 205.9,68.9 206.1,70.0 206.4,70.5 206.7,69.8 207.0,67.9 207.3,65.6 207.6,64.1 207.8,63.7 208.1,64.0 208.4,64.7 208.7,66.1 209.0,67.6 209.2,68.7 209.5,69.5 209.8,70.1 210.1,70.0 210.4,69.5 210.6,69.3 210.9,69.1 211.2,68.0 211.5,66.6 211.8,66.1 212.1,66.6 212.3,67.4 212.6,68.2 212.9,68.6 213.2,68.6 213.5,68.6 213.7,68.3 214.0,67.1 214.3,65.8 214.6,65.6 214.9,66.3 215.1,67.1 215.4,68.2 215.7,69.2 216.0,69.6 216.3,69.1 216.6,67.8 216.8,66.2 217.1,65.1 217.4,65.8 217.7,67.4 218.0,68.1 218.2,66.5 218.5,64.2 218.8,63.9 219.1,64.9 219.4,64.7 219.6,63.1 219.9,62.7 220.2,64.7 220.5,67.1 220.8,68.0 221.0,68.0 221.3,68.0 221.6,68.0 221.9,67.7 222.2,67.9 222.5,68.6 222.7,69.0 223.0,68.4 223.3,67.2 223.6,67.1 223.9,68.5 224.1,69.2 224.4,67.5 224.7,65.1 225.0,64.7 225.3,66.3 225.5,67.7 225.8,67.0 226.1,65.1 226.4,64.5 226.7,66.3 227.0,68.8 227.2,69.8 227.5,69.1 227.8,67.6 228.1,66.1 228.4,64.8 228.6,64.2 228.9,64.3 229.2,65.2 229.5,67.3 229.8,70.0 230.0,71.5 230.3,70.5 230.6,68.4 230.9,66.6 231.2,65.7 231.4,65.4 231.7,64.9 232.0,64.5 232.3,65.3 232.6,67.3 232.9,69.1 233.1,70.0 233.4,70.3 233.7,70.3 234.0,69.0 234.3,66.3 234.5,63.7 234.8,63.2 235.1,64.5 235.4,65.9 235.7,66.4 235.9,66.7 236.2,67.5 236.5,68.4 236.8,68.4 237.1,67.4 237.4,66.6 237.6,66.3 237.9,66.6 238.2,67.0 238.5,67.1 238.8,66.6 239.0,65.6 239.3,64.8 239.6,65.3 239.9,67.3 240.2,69.6 240.4,71.1 240.7,71.8 241.0,71.4 241.3,70.0 241.6,68.3 241.8,67.2 242.1,66.7 242.4,66.1 242.7,65.6 243.0,65.6 243.3,65.7 243.5,65.7 243.8,65.9 244.1,66.5 244.4,67.5 244.7,68.4 244.9,68.7 245.2,68.4 245.5,67.4 245.8,66.7 246.1,66.7 246.3,67.1 246.6,66.9 246.9,65.7 247.2,64.4 247.5,64.2 247.8,65.2 248.0,66.4 248.3,66.8 248.6,67.0 248.9,68.0 249.2,69.9 249.4,71.2 249.7,70.8 250.0,69.0 250.3,66.6 250.6,64.9 250.8,64.8 251.1,65.9 251.4,66.9 251.7,66.8 252.0,66.2 252.2,66.0 252.5,66.4 252.8,66.9 253.1,67.7 253.4,69.2 253.7,70.0 253.9,68.6 254.2,66.3 254.5,64.7 254.8,64.1 255.1,64.4 255.3,65.6 255.6,67.4 255.9,68.9 256.2,69.2 256.5,68.5 256.7,68.2 257.0,69.2 257.3,70.2 257.6,69.7 257.9,67.7 258.2,65.4 258.4,64.0 258.7,64.0 259.0,65.6 259.3,68.3 259.6,70.0 259.8,69.0 260.1,67.1 260.4,66.1 260.7,66.5 261.0,67.9 261.2,69.8 261.5,70.8 261.8,69.9 262.1,67.2 262.4,64.3 262.7,62.5 262.9,62.3 263.2,63.5 263.5,65.7 263.8,68.4 264.1,70.0 264.3,70.3 264.6,69.2 264.9,67.0 265.2,64.6 265.5,63.9 265.7,64.9 266.0,66.1 266.3,67.2 266.6,69.1 266.9,71.3 267.1,72.4 267.4,71.5 267.7,69.0 268.0,66.2 268.3,64.0 268.6,63.4 268.8,64.6 269.1,66.8 269.4,68.7 269.7,70.3 270.0,71.3 270.2,70.9 270.5,69.5 270.8,67.9 271.1,67.0 271.4,66.5 271.6,65.9 271.9,65.1 272.2,64.7 272.5,65.3 272.8,66.3 273.1,67.3 273.3,67.9 273.6,67.3 273.9,66.2 274.2,65.9 274.5,66.5 274.7,67.3 275.0,67.7 275.3,67.7 275.6,67.6 275.9,67.3 276.1,66.9 276.4,66.9 276.7,67.6 277.0,68.6 277.3,69.0 277.5,68.7 277.8,67.6 278.1,66.1 278.4,64.5 278.7,63.9 279.0,64.4 279.2,65.4 279.5,66.3 279.8,67.9 280.1,69.5 280.4,69.8 280.6,68.2 280.9,66.4 281.2,66.0 281.5,66.5 281.8,66.9 282.0,67.1 282.3,67.7 282.6,68.8 282.9,69.3 283.2,68.4 283.5,66.5 283.7,64.4 284.0,62.4 284.3,60.4 284.6,60.0 284.9,63.0 285.1,67.7 285.4,70.9 285.7,71.9 286.0,71.7 286.3,70.4 286.5,68.5 286.8,67.2 287.1,67.5 287.4,68.4 287.7,68.5 287.9,67.6 288.2,66.7 288.5,65.8 288.8,64.6 289.1,63.4 289.4,63.4 289.6,65.0 289.9,67.7 290.2,70.5 290.5,72.3 290.8,72.0 291.0,70.3 291.3,68.8 291.6,68.1 291.9,67.2 292.2,66.1 292.4,65.9 292.7,66.2 293.0,65.5 293.3,63.9 293.6,63.4 293.9,65.0 294.1,67.9 294.4,70.3 294.7,71.1 295.0,70.4 295.3,68.9 295.5,67.2 295.8,65.7 296.1,64.9 296.4,65.4 296.7,67.4 296.9,69.7 297.2,70.8 297.5,70.6 297.8,70.3 298.1,70.3 298.3,69.9 298.6,68.8 298.9,67.4 299.2,65.7 299.5,64.0 299.8,63.0 300.0,63.1 300.3,64.2 300.6,66.2 300.9,68.2 301.2,68.8 301.4,67.5 301.7,66.1 302.0,65.9 302.3,67.0 302.6,67.9 302.8,68.1 303.1,67.9 303.4,67.4 303.7,66.2 304.0,64.9 304.3,64.5 304.5,65.3 304.8,66.2 305.1,66.9 305.4,66.9 305.7,66.2 305.9,65.5 306.2,65.7 306.5,66.8 306.8,68.2 307.1,69.2 307.3,69.5 307.6,69.4 307.9,69.6 308.2,69.7 308.5,68.8 308.8,66.5 309.0,63.8 309.3,62.6 309.6,63.4 309.9,65.0 310.2,65.5 310.4,64.9 310.7,64.9 311.0,66.5 311.3,69.1 311.6,70.6 311.8,69.9 312.1,68.0 312.4,66.7 312.7,66.4 313.0,66.4 313.2,66.4 313.5,66.2 313.8,66.0 314.1,66.1 314.4,66.4 314.7,66.7 314.9,67.4 315.2,68.3 315.5,68.6 315.8,67.6 316.1,65.9 316.3,65.1 316.6,65.9 316.9,67.4 317.2,68.5 317.5,69.0 317.7,69.4 318.0,69.1 318.3,67.8 318.6,66.6 318.9,66.5 319.2,67.0 319.4,67.8 319.7,69.1 320.0,70.4 320.3,70.3 320.6,68.1 320.8,65.2 321.1,63.5 321.4,63.8 321.7,65.3 322.0,67.3 322.2,69.1 322.5,69.6 322.8,68.5 323.1,67.0 323.4,66.8 323.6,68.1 323.9,69.6 324.2,69.8 324.5,68.5 324.8,66.9 325.1,66.0 325.3,65.7 325.6,65.5 325.9,65.1 326.2,65.2 326.5,66.4 326.7,67.9 327.0,68.3 327.3,67.3 327.6,66.0 327.9,64.9 328.1,64.2 328.4,64.1 328.7,64.8 329.0,66.3 329.3,68.1 329.6,68.8 329.8,68.2 330.1,66.7 330.4,65.2 330.7,64.7 331.0,65.5 331.2,66.8 331.5,67.4 331.8,67.4 332.1,67.1 332.4,67.2 332.6,67.7 332.9,68.0 333.2,67.6 333.5,67.3 333.8,68.0 334.0,69.5 334.3,70.9 334.6,71.2 334.9,70.3 335.2,68.7 335.5,67.3 335.7,66.4 336.0,65.6 336.3,64.8 336.6,64.5 336.9,65.4 337.1,67.1 337.4,68.0 337.7,67.9 338.0,67.3 338.3,66.7 338.5,66.8 338.8,67.6 339.1,68.8 339.4,69.4" fill="none" stroke="#0000ff" stroke-width="0.9" stroke-linejoin="round"/>
<polyline points="193.5,74.9 193.8,75.0 194.1,75.7 194.3,76.7 194.6,77.6 194.9,78.2 195.2,79.0 195.5,80.0 195.7,80.7 196.0,80.1 196.3,78.0 196.6,76.3 196.9,76.6 197.2,78.0 197.4,78.7 197.7,78.2 198.0,76.8 198.3,75.0 198.6,73.6 198.8,74.2 199.1,76.6 199.4,78.7 199.7,79.4 200.0,79.5 200.2,79.2 200.5,78.7 200.8,78.7 201.1,79.4 201.4,79.6 201.7,78.4 201.9,76.7 202.2,75.3 202.5,74.5 202.8,75.0 203.1,76.1 203.3,76.2 203.6,74.9 203.9,73.8 204.2,73.3 204.5,72.9 204.7,73.6 205.0,75.7 205.3,78.2 205.6,80.0 205.9,80.9 206.1,80.9 206.4,80.7 206.7,80.0 207.0,78.3 207.3,76.0 207.6,74.4 207.8,74.4 208.1,75.5 208.4,76.7 208.7,77.7 209.0,78.2 209.2,78.6 209.5,79.5 209.8,80.2 210.1,79.6 210.4,78.7 210.6,79.0 210.9,80.0 211.2,80.0 211.5,79.4 211.8,79.3 212.1,80.1 212.3,80.7 212.6,80.6 212.9,79.7 213.2,78.0 213.5,76.5 213.7,75.5 214.0,75.0 214.3,75.3 214.6,76.8 214.9,78.4 215.1,79.0 215.4,78.8 215.7,78.0 216.0,76.8 216.3,76.0 216.6,75.8 216.8,75.5 217.1,75.4 217.4,76.4 217.7,78.1 218.0,78.4 218.2,76.4 218.5,74.1 218.8,74.4 219.1,76.7 219.4,77.6 219.6,76.3 219.9,75.3 220.2,76.1 220.5,77.3 220.8,77.5 221.0,77.1 221.3,76.8 221.6,76.7 221.9,76.8 222.2,77.4 222.5,78.3 222.7,79.0 223.0,78.7 223.3,77.5 223.6,77.2 223.9,78.2 224.1,78.7 224.4,76.9 224.7,74.5 225.0,74.1 225.3,76.1 225.5,77.9 225.8,77.2 226.1,74.8 226.4,73.9 226.7,75.2 227.0,77.3 227.2,78.9 227.5,79.7 227.8,79.3 228.1,77.8 228.4,76.2 228.6,75.6 228.9,75.6 229.2,75.9 229.5,77.2 229.8,79.6 230.0,81.4 230.3,81.1 230.6,79.2 230.9,77.3 231.2,75.6 231.4,74.7 231.7,74.8 232.0,75.5 232.3,76.9 232.6,79.0 232.9,80.4 233.1,80.1 233.4,78.9 233.7,77.8 234.0,76.9 234.3,76.0 234.5,75.4 234.8,75.5 235.1,75.9 235.4,75.5 235.7,74.9 235.9,75.8 236.2,78.5 236.5,81.1 236.8,81.2 237.1,78.8 237.4,75.9 237.6,74.7 237.9,76.0 238.2,78.4 238.5,79.8 238.8,79.2 239.0,77.4 239.3,75.9 239.6,76.5 239.9,78.9 240.2,80.8 240.4,81.1 240.7,80.2 241.0,79.3 241.3,78.4 241.6,77.2 241.8,76.6 242.1,76.9 242.4,77.5 242.7,78.0 243.0,78.2 243.3,78.0 243.5,77.4 243.8,77.0 244.1,76.9 244.4,77.1 244.7,77.6 244.9,78.2 245.2,78.7 245.5,78.5 245.8,77.7 246.1,77.3 246.3,77.6 246.6,77.7 246.9,77.1 247.2,75.9 247.5,75.7 247.8,77.0 248.0,78.6 248.3,79.4 248.6,79.3 248.9,79.2 249.2,79.5 249.4,79.3 249.7,78.1 250.0,76.5 250.3,75.4 250.6,75.0 250.8,75.3 251.1,76.0 251.4,76.5 251.7,76.6 252.0,76.5 252.2,77.0 252.5,77.8 252.8,78.1 253.1,78.4 253.4,79.5 253.7,80.3 253.9,79.3 254.2,77.3 254.5,75.7 254.8,74.4 255.1,73.6 255.3,74.3 255.6,76.5 255.9,78.5 256.2,79.1 256.5,78.7 256.7,79.0 257.0,80.2 257.3,80.9 257.6,79.8 257.9,77.3 258.2,74.9 258.4,74.1 258.7,74.8 259.0,76.6 259.3,79.0 259.6,80.5 259.8,79.5 260.1,77.0 260.4,74.7 260.7,73.5 261.0,73.9 261.2,76.1 261.5,78.8 261.8,80.0 262.1,78.8 262.4,76.3 262.7,74.4 262.9,74.1 263.2,75.5 263.5,77.5 263.8,79.0 264.1,79.2 264.3,78.7 264.6,77.7 264.9,76.3 265.2,75.6 265.5,76.4 265.7,77.2 266.0,76.3 266.3,75.0 266.6,76.0 266.9,79.2 267.1,82.1 267.4,82.7 267.7,80.7 268.0,77.3 268.3,74.2 268.6,73.1 268.8,74.5 269.1,77.4 269.4,79.9 269.7,81.4 270.0,81.8 270.2,80.8 270.5,78.4 270.8,75.9 271.1,74.8 271.4,75.4 271.6,75.9 271.9,75.5 272.2,75.1 272.5,75.6 272.8,77.1 273.1,78.9 273.3,80.0 273.6,79.5 273.9,77.8 274.2,76.8 274.5,76.9 274.7,77.4 275.0,77.5 275.3,77.0 275.6,77.1 275.9,77.8 276.1,78.1 276.4,77.8 276.7,77.8 277.0,78.4 277.3,79.2 277.5,79.7 277.8,79.6 278.1,78.5 278.4,76.9 278.7,76.0 279.0,76.0 279.2,76.4 279.5,76.9 279.8,77.5 280.1,78.0 280.4,77.7 280.6,76.3 280.9,74.9 281.2,74.8 281.5,76.2 281.8,77.5 282.0,77.6 282.3,77.0 282.6,76.4 282.9,76.3 283.2,76.9 283.5,77.8 283.7,78.2 284.0,77.1 284.3,74.6 284.6,73.1 284.9,74.6 285.1,77.9 285.4,80.0 285.7,80.5 286.0,80.3 286.3,79.9 286.5,79.3 286.8,78.4 287.1,77.5 287.4,76.3 287.7,74.7 287.9,73.3 288.2,73.5 288.5,75.1 288.8,76.8 289.1,77.4 289.4,77.7 289.6,78.6 289.9,80.1 290.2,81.9 290.5,82.7 290.8,81.6 291.0,79.2 291.3,77.4 291.6,76.9 291.9,76.3 292.2,75.2 292.4,74.7 292.7,74.9 293.0,74.8 293.3,74.1 293.6,73.7 293.9,75.0 294.1,77.8 294.4,80.6 294.7,81.8 295.0,81.5 295.3,80.5 295.5,79.1 295.8,77.5 296.1,76.6 296.4,77.2 296.7,79.3 296.9,81.4 297.2,82.1 297.5,81.7 297.8,81.2 298.1,81.0 298.3,80.3 298.6,78.8 298.9,77.3 299.2,76.2 299.5,74.9 299.8,73.8 300.0,73.4 300.3,74.1 300.6,76.1 300.9,78.5 301.2,79.3 301.4,78.0 301.7,76.8 302.0,77.2 302.3,78.1 302.6,77.9 302.8,76.7 303.1,76.0 303.4,76.1 303.7,76.0 304.0,75.7 304.3,75.7 304.5,76.1 304.8,76.1 305.1,75.7 305.4,75.4 305.7,75.5 305.9,76.3 306.2,77.5 306.5,78.2 306.8,78.3 307.1,78.1 307.3,78.2 307.6,79.1 307.9,80.3 308.2,80.4 308.5,78.7 308.8,76.2 309.0,74.1 309.3,73.5 309.6,74.9 309.9,76.9 310.2,77.6 310.4,76.6 310.7,75.5 311.0,76.1 311.3,77.9 311.6,79.1 311.8,78.5 312.1,77.4 312.4,77.3 312.7,77.9 313.0,78.5 313.2,78.4 313.5,77.2 313.8,75.2 314.1,73.7 314.4,73.6 314.7,74.9 314.9,77.0 315.2,78.8 315.5,79.0 315.8,77.6 316.1,75.7 316.3,75.3 316.6,76.8 316.9,78.4 317.2,78.8 317.5,78.7 317.7,79.4 318.0,80.3 318.3,79.9 318.6,78.5 318.9,76.7 319.2,75.6 319.4,76.5 319.7,79.0 320.0,81.0 320.3,80.3 320.6,77.1 320.8,73.8 321.1,72.8 321.4,74.1 321.7,76.1 322.0,78.1 322.2,79.8 322.5,80.4 322.8,79.3 323.1,78.0 323.4,77.9 323.6,79.1 323.9,80.3 324.2,80.3 324.5,78.9 324.8,77.3 325.1,76.5 325.3,76.0 325.6,75.7 325.9,75.6 326.2,76.3 326.5,78.3 326.7,80.5 327.0,81.1 327.3,79.3 327.6,76.4 327.9,73.8 328.1,72.7 328.4,72.8 328.7,73.8 329.0,75.6 329.3,77.4 329.6,78.3 329.8,78.2 330.1,77.8 330.4,77.3 330.7,77.0 331.0,77.0 331.2,77.0 331.5,77.1 331.8,77.3 332.1,77.2 332.4,77.1 332.6,77.0 332.9,76.9 333.2,76.9 333.5,77.5 333.8,78.5 334.0,79.4 334.3,79.9 334.6,79.9 334.9,79.0 335.2,77.3 335.5,75.9 335.7,75.8 336.0,76.5 336.3,76.8 336.6,76.6 336.9,77.3 337.1,78.8 337.4,79.4 337.7,78.5 338.0,77.4 338.3,77.2 338.5,77.7 338.8,78.5 339.1,79.1 339.4,79.3" fill="none" stroke="#0000ff" stroke-width="0.9" stroke-linejoin="round"/>
<polyline points="193.5,82.4 193.8,82.9 194.1,84.5 194.3,86.8 194.6,88.7 194.9,89.6 195.2,89.9 195.5,90.4 195.7,91.1 196.0,90.9 196.3,89.6 196.6,88.3 196.9,88.2 197.2,88.5 197.4,88.0 197.7,86.7 198.0,85.6 198.3,85.3 198.6,86.1 198.8,87.6 199.1,89.1 199.4,89.8 199.7,89.9 200.0,90.5 200.2,91.5 200.5,91.8 200.8,90.5 201.1,88.0 201.4,85.6 201.7,84.8 201.9,85.7 202.2,86.4 202.5,86.0 202.8,85.2 203.1,85.6 203.3,86.8 203.6,87.5 203.9,87.4 204.2,86.8 204.5,85.9 204.7,85.1 205.0,84.8 205.3,85.8 205.6,87.8 205.9,89.9 206.1,91.1 206.4,91.1 206.7,90.3 207.0,88.7 207.3,86.8 207.6,85.3 207.8,84.9 208.1,85.7 208.4,86.8 208.7,87.8 209.0,88.8 209.2,89.7 209.5,90.3 209.8,89.8 210.1,88.3 210.4,87.3 210.6,88.1 210.9,89.8 211.2,90.5 211.5,89.9 211.8,88.9 212.1,88.5 212.3,88.5 212.6,88.7 212.9,88.6 213.2,88.4 213.5,88.1 213.7,87.2 214.0,85.8 214.3,85.3 214.6,86.4 214.9,88.1 215.1,88.9 215.4,88.3 215.7,86.9 216.0,85.4 216.3,84.7 216.6,84.7 216.8,84.9 217.1,85.8 217.4,87.5 217.7,89.1 218.0,89.0 218.2,86.7 218.5,84.3 218.8,84.2 219.1,86.1 219.4,86.7 219.6,85.2 219.9,84.0 220.2,84.8 220.5,86.5 220.8,87.5 221.0,88.1 221.3,88.6 221.6,88.7 221.9,88.2 222.2,87.8 222.5,88.1 222.7,88.4 223.0,88.0 223.3,87.7 223.6,88.7 223.9,90.3 224.1,90.2 224.4,87.6 224.7,85.4 225.0,86.0 225.3,88.4 225.5,89.8 225.8,88.8 226.1,87.0 226.4,86.9 226.7,88.4 227.0,89.8 227.2,90.0 227.5,89.6 227.8,88.9 228.1,87.7 228.4,86.3 228.6,85.2 228.9,85.2 229.2,86.2 229.5,88.3 229.8,90.7 230.0,91.8 230.3,90.9 230.6,88.9 230.9,86.8 231.2,85.1 231.4,84.1 231.7,83.7 232.0,84.1 232.3,85.9 232.6,88.8 232.9,91.1 233.1,91.2 233.4,90.0 233.7,89.1 234.0,88.7 234.3,88.2 234.5,87.7 234.8,87.6 235.1,87.4 235.4,86.5 235.7,85.4 235.9,85.5 236.2,87.0 236.5,88.7 236.8,89.1 237.1,88.0 237.4,86.9 237.6,86.6 237.9,87.4 238.2,88.3 238.5,88.2 238.8,87.1 239.0,86.0 239.3,85.9 239.6,87.3 239.9,89.4 240.2,90.4 240.4,90.5 240.7,90.3 241.0,90.0 241.3,89.2 241.6,88.1 241.8,87.4 242.1,87.5 242.4,87.7 242.7,87.3 243.0,86.5 243.3,86.0 243.5,85.7 243.8,85.9 244.1,86.4 244.4,87.0 244.7,87.5 244.9,88.5 245.2,90.0 245.5,91.0 245.8,90.5 246.1,89.4 246.3,88.4 246.6,87.6 246.9,86.8 247.2,86.0 247.5,85.6 247.8,86.2 248.0,87.2 248.3,87.8 248.6,87.8 248.9,88.3 249.2,89.5 249.4,90.1 249.7,89.2 250.0,87.7 250.3,86.6 250.6,86.3 250.8,86.2 251.1,86.4 251.4,86.7 251.7,86.8 252.0,86.6 252.2,86.6 252.5,86.6 252.8,86.5 253.1,86.5 253.4,87.8 253.7,89.2 253.9,89.0 254.2,87.9 254.5,87.0 254.8,86.7 255.1,87.0 255.3,87.8 255.6,88.7 255.9,89.5 256.2,90.4 256.5,91.1 256.7,91.7 257.0,91.8 257.3,91.0 257.6,89.2 257.9,87.1 258.2,85.6 258.4,84.8 258.7,84.7 259.0,85.8 259.3,88.0 259.6,89.7 259.8,89.5 260.1,88.2 260.4,86.9 260.7,86.1 261.0,86.3 261.2,87.6 261.5,89.1 261.8,89.6 262.1,89.1 262.4,87.8 262.7,86.4 262.9,85.7 263.2,85.8 263.5,85.9 263.8,86.3 264.1,87.7 264.3,89.5 264.6,89.9 264.9,88.3 265.2,86.5 265.5,86.4 265.7,87.4 266.0,87.7 266.3,87.8 266.6,89.1 266.9,91.0 267.1,92.0 267.4,91.4 267.7,89.6 268.0,87.3 268.3,84.9 268.6,83.1 268.8,83.3 269.1,85.3 269.4,87.9 269.7,89.8 270.0,90.1 270.2,89.0 270.5,87.3 270.8,86.5 271.1,86.9 271.4,88.0 271.6,88.5 271.9,87.6 272.2,86.4 272.5,86.2 272.8,87.1 273.1,88.3 273.3,89.0 273.6,88.4 273.9,87.3 274.2,87.2 274.5,87.9 274.7,88.7 275.0,89.2 275.3,89.0 275.6,88.3 275.9,87.2 276.1,86.3 276.4,86.7 276.7,88.6 277.0,90.4 277.3,90.9 277.5,90.1 277.8,88.4 278.1,86.5 278.4,85.3 278.7,85.5 279.0,86.7 279.2,87.3 279.5,87.4 279.8,87.8 280.1,88.8 280.4,89.1 280.6,87.9 280.9,86.5 281.2,86.6 281.5,87.6 281.8,87.8 282.0,86.9 282.3,86.2 282.6,86.0 282.9,86.5 283.2,87.4 283.5,88.5 283.7,88.6 284.0,86.2 284.3,81.7 284.6,79.0 284.9,81.5 285.1,87.4 285.4,92.0 285.7,93.6 286.0,92.9 286.3,90.7 286.5,88.1 286.8,86.8 287.1,87.4 287.4,88.9 287.7,89.4 287.9,88.5 288.2,87.6 288.5,87.2 288.8,86.8 289.1,86.0 289.4,85.7 289.6,86.3 289.9,87.9 290.2,90.3 290.5,92.1 290.8,91.4 291.0,88.5 291.3,86.3 291.6,86.3 291.9,87.1 292.2,87.4 292.4,87.6 292.7,87.7 293.0,86.8 293.3,84.9 293.6,83.5 293.9,84.2 294.1,86.9 294.4,89.9 294.7,91.7 295.0,92.0 295.3,91.4 295.5,90.0 295.8,88.0 296.1,85.9 296.4,85.2 296.7,86.7 296.9,89.4 297.2,91.0 297.5,91.0 297.8,90.7 298.1,91.0 298.3,90.9 298.6,90.0 298.9,88.9 299.2,87.7 299.5,85.7 299.8,83.1 300.0,81.1 300.3,81.1 300.6,83.8 300.9,87.6 301.2,89.5 301.4,88.4 301.7,86.5 302.0,86.6 302.3,88.0 302.6,88.6 302.8,87.9 303.1,86.9 303.4,86.3 303.7,85.5 304.0,84.8 304.3,84.9 304.5,86.0 304.8,87.5 305.1,88.5 305.4,88.3 305.7,86.8 305.9,85.6 306.2,86.0 306.5,87.8 306.8,90.0 307.1,91.5 307.3,91.8 307.6,90.9 307.9,89.7 308.2,88.7 308.5,87.5 308.8,85.7 309.0,84.1 309.3,84.1 309.6,86.0 309.9,88.1 310.2,88.4 310.4,86.8 310.7,85.6 311.0,86.7 311.3,89.1 311.6,90.1 311.8,88.8 312.1,87.0 312.4,86.7 312.7,87.3 313.0,87.8 313.2,87.7 313.5,87.0 313.8,86.0 314.1,85.4 314.4,85.3 314.7,85.5 314.9,86.9 315.2,89.1 315.5,90.2 315.8,88.8 316.1,86.2 316.3,84.7 316.6,85.4 316.9,87.0 317.2,88.5 317.5,89.4 317.7,89.8 318.0,89.6 318.3,88.9 318.6,88.3 318.9,87.8 319.2,87.4 319.4,88.0 319.7,89.5 320.0,90.5 320.3,89.6 320.6,87.1 320.8,84.9 321.1,84.1 321.4,85.0 321.7,86.5 322.0,87.7 322.2,88.5 322.5,88.8 322.8,88.7 323.1,88.3 323.4,88.8 323.6,90.4 323.9,92.0 324.2,92.3 324.5,90.7 324.8,88.6 325.1,87.2 325.3,86.4 325.6,86.4 325.9,87.2 326.2,88.2 326.5,89.1 326.7,89.6 327.0,89.1 327.3,87.8 327.6,86.5 327.9,85.7 328.1,85.3 328.4,85.1 328.7,85.3 329.0,86.7 329.3,88.4 329.6,88.9 329.8,88.3 330.1,87.3 330.4,86.6 330.7,86.5 331.0,87.0 331.2,87.5 331.5,87.6 331.8,87.2 332.1,86.6 332.4,86.8 332.6,87.6 332.9,88.0 333.2,87.3 333.5,87.1 333.8,88.4 334.0,90.5 334.3,92.1 334.6,92.1 334.9,90.4 335.2,87.8 335.5,86.1 335.7,86.3 336.0,87.5 336.3,87.8 336.6,86.9 336.9,85.8 337.1,85.2 337.4,85.5 337.7,86.4 338.0,87.4 338.3,88.2 338.5,88.7 338.8,89.5 339.1,90.4 339.4,90.8" fill="none" stroke="#0000ff" stroke-width="0.9" stroke-linejoin="round"/>
<polyline points="193.5,94.0 193.8,94.5 194.1,96.3 194.3,98.8 194.6,100.2 194.9,100.3 195.2,100.0 195.5,99.6 195.7,98.9 196.0,98.4 196.3,98.1 196.6,98.2 196.9,98.3 197.2,98.1 197.4,97.5 197.7,96.7 198.0,96.3 198.3,96.5 198.6,97.2 198.8,98.2 199.1,99.4 199.4,100.2 199.7,99.8 200.0,98.5 200.2,97.4 200.5,96.9 200.8,96.9 201.1,97.0 201.4,96.5 201.7,95.4 201.9,95.1 202.2,96.6 202.5,98.5 202.8,99.2 203.1,98.4 203.3,96.7 203.6,95.1 203.9,94.7 204.2,95.4 204.5,96.6 204.7,97.3 205.0,97.8 205.3,99.0 205.6,100.7 205.9,101.6 206.1,101.2 206.4,100.5 206.7,100.0 207.0,99.5 207.3,98.5 207.6,97.0 207.8,96.0 208.1,96.3 208.4,97.5 208.7,98.8 209.0,99.3 209.2,99.4 209.5,100.1 209.8,100.7 210.1,100.1 210.4,98.6 210.6,97.4 210.9,97.3 211.2,97.8 211.5,98.7 211.8,100.2 212.1,101.7 212.3,102.5 212.6,102.8 212.9,102.3 213.2,101.0 213.5,99.1 213.7,97.3 214.0,95.7 214.3,95.0 214.6,96.2 214.9,98.7 215.1,100.2 215.4,100.0 215.7,98.8 216.0,97.5 216.3,95.9 216.6,94.1 216.8,93.1 217.1,93.8 217.4,96.4 217.7,99.0 218.0,99.5 218.2,97.6 218.5,95.2 218.8,95.0 219.1,96.3 219.4,95.8 219.6,93.0 219.9,91.0 220.2,92.1 220.5,95.1 220.8,97.7 221.0,99.7 221.3,100.8 221.6,100.4 221.9,98.4 222.2,96.5 222.5,96.2 222.7,97.4 223.0,99.0 223.3,100.2 223.6,100.4 223.9,99.5 224.1,97.9 224.4,96.4 224.7,95.8 225.0,96.6 225.3,98.4 225.5,99.5 225.8,98.6 226.1,96.7 226.4,96.0 226.7,97.0 227.0,98.8 227.2,99.9 227.5,99.7 227.8,98.6 228.1,97.0 228.4,95.8 228.6,95.8 228.9,97.1 229.2,99.1 229.5,101.1 229.8,102.1 230.0,101.8 230.3,100.2 230.6,98.1 230.9,96.5 231.2,96.0 231.4,95.8 231.7,95.5 232.0,95.5 232.3,96.4 232.6,97.9 232.9,99.3 233.1,100.1 233.4,100.0 233.7,98.8 234.0,97.1 234.3,96.5 234.5,97.5 234.8,99.5 235.1,100.4 235.4,98.8 235.7,96.0 235.9,94.9 236.2,96.4 236.5,98.4 236.8,98.8 237.1,97.6 237.4,96.3 237.6,96.0 237.9,97.2 238.2,99.2 238.5,100.4 238.8,99.9 239.0,98.8 239.3,98.4 239.6,99.2 239.9,100.4 240.2,100.7 240.4,99.9 240.7,99.0 241.0,98.6 241.3,98.8 241.6,99.2 241.8,99.7 242.1,99.9 242.4,99.9 242.7,99.6 243.0,99.4 243.3,99.1 243.5,98.7 243.8,98.2 244.1,97.7 244.4,97.4 244.7,96.8 244.9,96.2 245.2,96.2 245.5,97.0 245.8,98.3 246.1,100.0 246.3,102.0 246.6,102.8 246.9,101.4 247.2,98.4 247.5,95.9 247.8,95.0 248.0,95.3 248.3,95.9 248.6,96.7 248.9,97.4 249.2,98.0 249.4,97.9 249.7,97.2 250.0,96.5 250.3,96.0 250.6,95.7 250.8,95.2 251.1,95.0 251.4,95.6 251.7,96.8 252.0,97.7 252.2,97.8 252.5,97.7 252.8,98.2 253.1,99.1 253.4,99.5 253.7,98.7 253.9,96.9 254.2,95.2 254.5,94.9 254.8,95.1 255.1,95.6 255.3,96.8 255.6,98.6 255.9,100.3 256.2,101.2 256.5,101.1 256.7,100.6 257.0,100.8 257.3,101.3 257.6,101.0 257.9,98.9 258.2,96.3 258.4,95.2 258.7,95.9 259.0,97.6 259.3,99.1 259.6,99.6 259.8,99.1 260.1,98.6 260.4,98.1 260.7,97.5 261.0,97.1 261.2,97.5 261.5,98.0 261.8,97.9 262.1,97.3 262.4,97.0 262.7,97.7 262.9,99.0 263.2,99.7 263.5,98.8 263.8,97.0 264.1,96.1 264.3,96.7 264.6,97.3 264.9,96.9 265.2,96.4 265.5,97.2 265.7,99.3 266.0,101.1 266.3,101.5 266.6,100.7 266.9,99.2 267.1,97.1 267.4,95.1 267.7,94.3 268.0,95.2 268.3,97.1 268.6,98.5 268.8,98.8 269.1,98.1 269.4,97.7 269.7,98.7 270.0,100.6 270.2,100.9 270.5,99.4 270.8,98.1 271.1,97.9 271.4,97.8 271.6,97.2 271.9,96.7 272.2,96.8 272.5,96.8 272.8,96.4 273.1,96.6 273.3,97.4 273.6,98.0 273.9,97.7 274.2,97.5 274.5,97.4 274.7,97.0 275.0,96.8 275.3,97.5 275.6,99.1 275.9,100.5 276.1,101.0 276.4,101.0 276.7,101.8 277.0,102.9 277.3,102.7 277.5,100.6 277.8,98.0 278.1,96.5 278.4,95.9 278.7,95.9 279.0,96.6 279.2,97.4 279.5,98.3 279.8,99.4 280.1,100.6 280.4,100.9 280.6,99.4 280.9,96.9 281.2,94.5 281.5,92.9 281.8,91.9 282.0,91.7 282.3,92.8 282.6,95.0 282.9,97.5 283.2,99.5 283.5,100.4 283.7,99.7 284.0,97.6 284.3,95.2 284.6,95.0 284.9,97.0 285.1,99.0 285.4,99.4 285.7,98.7 286.0,97.8 286.3,97.2 286.5,97.1 286.8,97.7 287.1,98.2 287.4,98.4 287.7,98.2 287.9,97.6 288.2,97.2 288.5,97.3 288.8,97.6 289.1,97.6 289.4,97.7 289.6,98.4 289.9,99.3 290.2,100.1 290.5,100.5 290.8,100.2 291.0,99.3 291.3,98.6 291.6,98.3 291.9,98.0 292.2,97.9 292.4,98.0 292.7,97.5 293.0,96.2 293.3,94.4 293.6,93.0 293.9,93.6 294.1,96.6 294.4,100.7 294.7,102.9 295.0,102.4 295.3,100.5 295.5,98.9 295.8,98.5 296.1,99.4 296.4,100.1 296.7,99.7 296.9,98.8 297.2,99.1 297.5,100.5 297.8,101.4 298.1,100.9 298.3,99.3 298.6,98.2 298.9,98.6 299.2,99.2 299.5,98.1 299.8,95.8 300.0,94.8 300.3,96.0 300.6,98.1 300.9,99.9 301.2,100.5 301.4,100.0 301.7,98.4 302.0,97.1 302.3,97.1 302.6,98.0 302.8,98.3 303.1,97.8 303.4,97.2 303.7,96.8 304.0,97.1 304.3,97.8 304.5,97.8 304.8,96.6 305.1,95.3 305.4,95.5 305.7,97.2 305.9,99.0 306.2,100.0 306.5,100.3 306.8,100.2 307.1,100.1 307.3,99.9 307.6,99.6 307.9,98.7 308.2,97.0 308.5,94.8 308.8,92.9 309.0,92.0 309.3,92.5 309.6,94.4 309.9,96.5 310.2,97.6 310.4,97.6 310.7,97.4 311.0,97.6 311.3,97.9 311.6,98.2 311.8,98.7 312.1,99.5 312.4,99.7 312.7,99.2 313.0,98.5 313.2,98.1 313.5,97.8 313.8,97.1 314.1,96.5 314.4,96.3 314.7,96.5 314.9,97.0 315.2,97.6 315.5,98.0 315.8,97.7 316.1,97.4 316.3,97.8 316.6,98.5 316.9,98.6 317.2,98.1 317.5,97.9 317.7,98.3 318.0,98.9 318.3,98.8 318.6,98.1 318.9,97.7 319.2,98.1 319.4,98.7 319.7,99.0 320.0,99.3 320.3,98.7 320.6,96.8 320.8,94.6 321.1,94.3 321.4,96.3 321.7,98.8 322.0,100.5 322.2,101.1 322.5,100.8 322.8,99.9 323.1,98.8 323.4,98.7 323.6,100.2 323.9,102.2 324.2,102.2 324.5,99.9 324.8,96.9 325.1,94.9 325.3,94.0 325.6,94.8 325.9,96.7 326.2,97.9 326.5,98.2 326.7,98.4 327.0,98.8 327.3,98.7 327.6,97.8 327.9,96.5 328.1,95.3 328.4,94.8 328.7,95.2 329.0,96.2 329.3,96.9 329.6,97.2 329.8,97.6 330.1,98.4 330.4,99.0 330.7,98.5 331.0,97.4 331.2,96.4 331.5,96.3 331.8,97.3 332.1,99.0 332.4,100.9 332.6,101.9 332.9,101.4 333.2,99.6 333.5,98.1 333.8,97.6 334.0,98.5 334.3,100.0 334.6,100.9 334.9,99.8 335.2,97.5 335.5,95.6 335.7,94.8 336.0,94.5 336.3,94.8 336.6,95.6 336.9,96.5 337.1,97.5 337.4,98.7 337.7,99.8 338.0,100.3 338.3,100.0 338.5,99.5 338.8,99.3 339.1,99.8 339.4,100.2" fill="none" stroke="#0000ff" stroke-width="0.9" stroke-linejoin="round"/>
<polyline points="193.5,105.0 193.8,105.0 194.1,105.9 194.3,107.8 194.6,109.4 194.9,110.0 195.2,110.2 195.5,110.3 195.7,110.2 196.0,109.9 196.3,109.4 196.6,108.8 196.9,108.2 197.2,107.6 197.4,106.9 197.7,106.3 198.0,106.5 198.3,107.3 198.6,108.0 198.8,108.3 199.1,108.5 199.4,108.9 199.7,109.5 200.0,110.6 200.2,111.5 200.5,111.1 200.8,109.4 201.1,108.0 201.4,107.2 201.7,106.4 201.9,105.8 202.2,105.7 202.5,105.0 202.8,103.6 203.1,103.4 203.3,104.7 203.6,106.0 203.9,106.7 204.2,107.3 204.5,108.0 204.7,108.9 205.0,110.2 205.3,111.6 205.6,112.5 205.9,112.7 206.1,112.0 206.4,110.6 206.7,109.2 207.0,108.6 207.3,108.5 207.6,108.0 207.8,107.2 208.1,106.5 208.4,106.5 208.7,107.5 209.0,108.7 209.2,109.5 209.5,110.3 209.8,111.0 210.1,110.7 210.4,109.2 210.6,107.6 210.9,107.0 211.2,107.6 211.5,109.1 211.8,111.0 212.1,112.2 212.3,112.3 212.6,111.6 212.9,110.3 213.2,108.8 213.5,107.8 213.7,107.4 214.0,106.8 214.3,106.6 214.6,107.9 214.9,109.8 215.1,110.5 215.4,109.7 215.7,108.5 216.0,107.4 216.3,106.3 216.6,105.3 216.8,104.7 217.1,105.6 217.4,107.8 217.7,109.8 218.0,110.0 218.2,108.3 218.5,106.2 218.8,105.9 219.1,107.2 219.4,107.2 219.6,105.3 219.9,103.9 220.2,104.8 220.5,106.8 220.8,108.4 221.0,109.2 221.3,109.6 221.6,109.0 221.9,107.8 222.2,107.0 222.5,107.1 222.7,107.6 223.0,108.5 223.3,109.9 223.6,111.5 223.9,112.2 224.1,111.0 224.4,108.5 224.7,106.3 225.0,105.8 225.3,107.1 225.5,108.7 225.8,108.8 226.1,107.7 226.4,107.2 226.7,107.9 227.0,109.0 227.2,109.3 227.5,108.8 227.8,107.9 228.1,107.2 228.4,107.1 228.6,107.7 228.9,108.9 229.2,110.1 229.5,110.7 229.8,110.9 230.0,110.8 230.3,110.2 230.6,109.1 230.9,108.0 231.2,107.2 231.4,106.6 231.7,105.9 232.0,105.4 232.3,105.8 232.6,107.0 232.9,108.0 233.1,108.8 233.4,109.3 233.7,109.4 234.0,108.7 234.3,108.1 234.5,108.4 234.8,109.5 235.1,109.9 235.4,108.4 235.7,106.0 235.9,104.8 236.2,105.6 236.5,106.8 236.8,106.5 237.1,105.2 237.4,104.4 237.6,104.7 237.9,106.6 238.2,109.3 238.5,111.0 238.8,110.5 239.0,108.9 239.3,108.1 239.6,109.0 239.9,110.8 240.2,112.0 240.4,111.8 240.7,110.9 241.0,110.1 241.3,109.5 241.6,109.4 241.8,109.4 242.1,109.4 242.4,109.2 242.7,108.9 243.0,108.4 243.3,107.9 243.5,107.5 243.8,107.3 244.1,107.2 244.4,107.0 244.7,106.3 244.9,105.9 245.2,106.2 245.5,107.0 245.8,108.3 246.1,110.2 246.3,112.2 246.6,112.8 246.9,111.3 247.2,108.8 247.5,107.1 247.8,106.9 248.0,107.7 248.3,108.2 248.6,108.0 248.9,107.6 249.2,107.1 249.4,106.5 249.7,106.3 250.0,106.8 250.3,107.3 250.6,106.8 250.8,105.5 251.1,104.7 251.4,105.2 251.7,106.7 252.0,108.0 252.2,108.4 252.5,108.8 252.8,109.5 253.1,110.4 253.4,111.0 253.7,110.4 253.9,108.4 254.2,106.9 254.5,107.3 254.8,108.4 255.1,108.4 255.3,107.7 255.6,107.8 255.9,109.3 256.2,111.0 256.5,111.8 256.7,111.7 257.0,111.6 257.3,111.6 257.6,111.1 257.9,109.1 258.2,106.1 258.4,104.1 258.7,104.1 259.0,105.7 259.3,108.0 259.6,109.8 259.8,109.9 260.1,109.2 260.4,108.4 260.7,107.8 261.0,108.0 261.2,109.3 261.5,110.6 261.8,111.0 262.1,110.6 262.4,108.9 262.7,106.7 262.9,105.8 263.2,105.8 263.5,105.9 263.8,106.5 264.1,108.0 264.3,109.1 264.6,108.9 264.9,108.3 265.2,108.3 265.5,109.0 265.7,109.4 266.0,109.1 266.3,108.6 266.6,108.9 266.9,109.2 267.1,108.4 267.4,107.1 267.7,106.7 268.0,107.2 268.3,107.5 268.6,107.1 268.8,106.7 269.1,106.7 269.4,107.8 269.7,110.1 270.0,112.1 270.2,111.8 270.5,109.7 270.8,108.4 271.1,108.7 271.4,109.2 271.6,108.6 271.9,107.3 272.2,106.6 272.5,106.5 272.8,106.8 273.1,107.5 273.3,108.1 273.6,107.9 273.9,107.2 274.2,107.0 274.5,107.3 274.7,107.1 275.0,106.5 275.3,106.5 275.6,107.7 275.9,109.2 276.1,109.8 276.4,109.9 276.7,110.6 277.0,111.7 277.3,111.7 277.5,110.0 277.8,108.0 278.1,106.8 278.4,106.1 278.7,106.0 279.0,106.6 279.2,107.5 279.5,108.4 279.8,109.5 280.1,111.0 280.4,112.1 280.6,111.5 280.9,109.2 281.2,106.3 281.5,103.9 281.8,102.4 282.0,102.8 282.3,105.3 282.6,108.1 282.9,109.4 283.2,109.4 283.5,109.4 283.7,109.1 284.0,107.1 284.3,103.9 284.6,102.6 284.9,104.7 285.1,107.8 285.4,109.1 285.7,108.4 286.0,107.7 286.3,108.4 286.5,109.8 286.8,110.8 287.1,110.8 287.4,109.9 287.7,108.5 287.9,107.1 288.2,106.4 288.5,106.5 288.8,107.0 289.1,107.9 289.4,109.5 289.6,111.1 289.9,111.9 290.2,111.7 290.5,110.9 290.8,109.4 291.0,108.1 291.3,107.9 291.6,108.5 291.9,109.1 292.2,109.5 292.4,110.1 292.7,110.1 293.0,108.3 293.3,105.0 293.6,102.4 293.9,102.3 294.1,105.1 294.4,108.9 294.7,111.5 295.0,111.9 295.3,110.8 295.5,109.4 295.8,108.7 296.1,109.3 296.4,110.2 296.7,110.2 296.9,109.4 297.2,109.0 297.5,109.6 297.8,110.6 298.1,111.2 298.3,110.9 298.6,110.1 298.9,109.2 299.2,108.1 299.5,106.3 299.8,104.4 300.0,104.0 300.3,105.9 300.6,109.0 300.9,111.6 301.2,112.5 301.4,111.4 301.7,109.1 302.0,107.3 302.3,106.7 302.6,106.8 302.8,106.7 303.1,106.8 303.4,107.4 303.7,108.1 304.0,108.5 304.3,108.6 304.5,108.4 304.8,107.4 305.1,106.3 305.4,106.2 305.7,107.4 305.9,109.1 306.2,110.0 306.5,110.4 306.8,110.8 307.1,110.9 307.3,110.4 307.6,109.3 307.9,107.9 308.2,106.5 308.5,105.1 308.8,103.9 309.0,103.5 309.3,104.0 309.6,104.9 309.9,106.0 310.2,107.1 310.4,107.6 310.7,107.7 311.0,107.6 311.3,107.8 311.6,108.2 311.8,108.8 312.1,109.8 312.4,110.7 312.7,110.7 313.0,110.1 313.2,109.7 313.5,109.5 313.8,108.8 314.1,107.4 314.4,105.9 314.7,105.2 314.9,105.7 315.2,107.2 315.5,108.2 315.8,107.9 316.1,106.8 316.3,106.7 316.6,107.9 316.9,108.9 317.2,108.8 317.5,108.5 317.7,109.2 318.0,110.7 318.3,111.3 318.6,110.4 318.9,109.0 319.2,108.6 319.4,109.2 319.7,109.6 320.0,109.0 320.3,107.7 320.6,106.0 320.8,105.1 321.1,105.7 321.4,107.6 321.7,109.2 322.0,110.0 322.2,110.1 322.5,109.8 322.8,108.9 323.1,108.1 323.4,108.5 323.6,110.3 323.9,112.3 324.2,112.5 324.5,110.8 324.8,108.7 325.1,107.1 325.3,106.2 325.6,106.5 325.9,107.7 326.2,108.1 326.5,107.8 326.7,107.7 327.0,107.9 327.3,107.9 327.6,107.5 327.9,106.7 328.1,106.0 328.4,105.6 328.7,105.7 329.0,106.3 329.3,107.0 329.6,107.7 329.8,108.4 330.1,109.0 330.4,108.9 330.7,108.0 331.0,106.9 331.2,106.4 331.5,107.2 331.8,109.0 332.1,111.1 332.4,112.8 332.6,113.7 332.9,113.0 333.2,110.9 333.5,108.8 333.8,108.1 334.0,108.9 334.3,110.4 334.6,111.0 334.9,109.6 335.2,107.1 335.5,105.4 335.7,104.9 336.0,104.6 336.3,104.4 336.6,104.5 336.9,105.1 337.1,106.1 337.4,107.3 337.7,108.4 338.0,109.3 338.3,109.9 338.5,110.1 338.8,110.0 339.1,110.2 339.4,110.4" fill="none" stroke="#0000ff" stroke-width="0.9" stroke-linejoin="round"/>
<polyline points="193.5,117.2 193.8,117.1 194.1,117.9 194.3,119.8 194.6,121.1 194.9,120.7 195.2,120.0 195.5,120.0 195.7,120.2 196.0,119.9 196.3,119.2 196.6,118.9 196.9,119.0 197.2,118.8 197.4,117.9 197.7,116.8 198.0,116.4 198.3,116.7 198.6,117.4 198.8,118.4 199.1,119.4 199.4,120.1 199.7,120.2 200.0,120.0 200.2,119.9 200.5,119.3 200.8,118.2 201.1,117.6 201.4,117.7 201.7,117.5 201.9,116.9 202.2,116.3 202.5,115.5 202.8,115.0 203.1,115.1 203.3,115.1 203.6,114.6 203.9,114.1 204.2,114.7 204.5,116.5 204.7,118.6 205.0,120.2 205.3,121.3 205.6,122.2 205.9,122.8 206.1,123.0 206.4,122.5 206.7,121.5 207.0,120.2 207.3,118.8 207.6,117.7 207.8,117.2 208.1,117.0 208.4,116.9 208.7,117.6 209.0,118.6 209.2,119.7 209.5,120.9 209.8,121.7 210.1,120.9 210.4,119.0 210.6,117.5 210.9,116.9 211.2,117.3 211.5,118.5 211.8,120.1 212.1,121.4 212.3,122.0 212.6,122.3 212.9,122.2 213.2,121.4 213.5,119.9 213.7,118.5 214.0,117.4 214.3,117.0 214.6,118.0 214.9,119.8 215.1,120.8 215.4,120.7 215.7,120.0 216.0,118.8 216.3,117.2 216.6,115.5 216.8,114.7 217.1,115.7 217.4,118.1 217.7,120.0 218.0,119.9 218.2,117.8 218.5,115.5 218.8,115.4 219.1,116.7 219.4,116.6 219.6,114.4 219.9,112.8 220.2,114.0 220.5,116.9 220.8,119.6 221.0,121.4 221.3,122.0 221.6,121.1 221.9,119.2 222.2,117.7 222.5,117.6 222.7,118.1 223.0,118.7 223.3,119.3 223.6,119.8 223.9,119.8 224.1,118.9 224.4,117.5 224.7,116.7 225.0,117.3 225.3,118.8 225.5,119.7 225.8,118.8 226.1,117.4 226.4,117.6 226.7,119.8 227.0,121.9 227.2,121.9 227.5,120.0 227.8,117.9 228.1,116.9 228.4,116.6 228.6,116.6 228.9,117.1 229.2,118.3 229.5,119.9 229.8,121.3 230.0,122.1 230.3,122.0 230.6,120.9 230.9,119.0 231.2,116.7 231.4,114.8 231.7,114.2 232.0,115.0 232.3,116.7 232.6,118.2 232.9,118.7 233.1,118.6 233.4,118.7 233.7,119.2 234.0,119.0 234.3,118.3 234.5,118.1 234.8,118.9 235.1,119.8 235.4,119.4 235.7,117.9 235.9,116.6 236.2,116.5 236.5,117.3 236.8,117.7 237.1,117.3 237.4,116.4 237.6,116.0 237.9,117.1 238.2,119.4 238.5,120.9 238.8,120.4 239.0,119.0 239.3,118.1 239.6,118.4 239.9,119.6 240.2,120.4 240.4,120.4 240.7,119.9 241.0,119.6 241.3,119.5 241.6,119.4 241.8,119.4 242.1,119.5 242.4,119.4 242.7,119.0 243.0,118.4 243.3,118.1 243.5,118.0 243.8,118.0 244.1,118.2 244.4,118.6 244.7,118.1 244.9,117.0 245.2,116.4 245.5,117.2 245.8,119.0 246.1,121.1 246.3,122.6 246.6,122.4 246.9,120.3 247.2,117.9 247.5,116.7 247.8,116.8 248.0,117.5 248.3,118.1 248.6,118.4 248.9,118.5 249.2,118.6 249.4,118.5 249.7,118.1 250.0,117.9 250.3,117.7 250.6,117.2 250.8,116.2 251.1,114.8 251.4,114.4 251.7,115.3 252.0,116.7 252.2,117.6 252.5,118.5 252.8,119.5 253.1,120.4 253.4,120.6 253.7,119.6 253.9,117.6 254.2,116.3 254.5,116.7 254.8,117.3 255.1,117.0 255.3,116.2 255.6,116.4 255.9,117.9 256.2,119.9 256.5,121.3 256.7,122.1 257.0,122.8 257.3,123.5 257.6,123.4 257.9,121.6 258.2,118.9 258.4,116.8 258.7,116.3 259.0,117.4 259.3,119.3 259.6,120.6 259.8,120.5 260.1,119.7 260.4,118.8 260.7,118.4 261.0,118.5 261.2,119.1 261.5,119.4 261.8,119.2 262.1,119.1 262.4,118.8 262.7,118.1 262.9,117.8 263.2,117.7 263.5,117.4 263.8,117.1 264.1,117.8 264.3,119.3 264.6,119.9 264.9,119.3 265.2,118.8 265.5,119.6 265.7,120.4 266.0,120.0 266.3,118.9 266.6,119.0 266.9,120.2 267.1,120.8 267.4,120.0 267.7,118.2 268.0,117.0 268.3,116.7 268.6,116.9 268.8,116.8 269.1,116.7 269.4,117.4 269.7,119.4 270.0,121.2 270.2,121.1 270.5,119.4 270.8,117.9 271.1,117.8 271.4,118.0 271.6,117.5 271.9,116.8 272.2,116.3 272.5,115.8 272.8,115.7 273.1,116.9 273.3,118.7 273.6,119.2 273.9,118.5 274.2,118.0 274.5,118.1 274.7,118.0 275.0,118.0 275.3,118.6 275.6,119.9 275.9,120.7 276.1,120.5 276.4,119.8 276.7,120.0 277.0,121.0 277.3,121.0 277.5,119.5 277.8,117.6 278.1,116.7 278.4,116.5 278.7,116.8 279.0,117.7 279.2,119.0 279.5,120.0 279.8,120.5 280.1,120.6 280.4,120.4 280.6,120.0 280.9,119.1 281.2,117.6 281.5,116.0 281.8,115.3 282.0,115.9 282.3,117.0 282.6,116.8 282.9,115.7 283.2,115.4 283.5,116.7 283.7,118.2 284.0,117.9 284.3,116.4 284.6,115.8 284.9,117.4 285.1,120.0 285.4,121.3 285.7,120.4 286.0,118.2 286.3,117.0 286.5,118.0 286.8,119.6 287.1,120.4 287.4,120.0 287.7,118.6 287.9,116.7 288.2,115.3 288.5,115.2 288.8,116.2 289.1,117.8 289.4,119.7 289.6,121.3 289.9,121.8 290.2,121.3 290.5,120.7 290.8,119.9 291.0,119.3 291.3,119.5 291.6,120.3 291.9,120.7 292.2,120.7 292.4,120.6 292.7,119.5 293.0,117.0 293.3,113.9 293.6,112.2 293.9,113.3 294.1,117.0 294.4,121.0 294.7,122.8 295.0,122.0 295.3,120.1 295.5,118.8 295.8,118.6 296.1,119.0 296.4,119.4 296.7,119.5 296.9,119.6 297.2,119.8 297.5,120.3 297.8,120.9 298.1,121.1 298.3,120.3 298.6,119.3 298.9,119.3 299.2,119.7 299.5,119.0 299.8,117.0 300.0,115.8 300.3,116.5 300.6,118.4 300.9,120.3 301.2,121.2 301.4,120.8 301.7,119.8 302.0,119.3 302.3,119.5 302.6,119.4 302.8,118.5 303.1,117.8 303.4,117.8 303.7,118.1 304.0,118.4 304.3,118.5 304.5,117.9 304.8,116.9 305.1,116.4 305.4,117.1 305.7,118.5 305.9,119.7 306.2,120.3 306.5,121.0 306.8,121.9 307.1,122.1 307.3,121.0 307.6,119.2 307.9,117.4 308.2,116.0 308.5,114.8 308.8,113.6 309.0,113.0 309.3,113.4 309.6,114.5 309.9,116.1 310.2,117.5 310.4,118.1 310.7,117.9 311.0,117.9 311.3,118.5 311.6,119.2 311.8,120.3 312.1,121.3 312.4,121.6 312.7,120.7 313.0,119.3 313.2,118.4 313.5,118.2 313.8,117.8 314.1,117.3 314.4,116.6 314.7,116.0 314.9,116.2 315.2,117.4 315.5,118.5 315.8,118.1 316.1,116.9 316.3,116.9 316.6,118.0 316.9,118.8 317.2,118.9 317.5,119.0 317.7,119.4 318.0,119.5 318.3,118.8 318.6,117.9 318.9,117.8 319.2,119.0 319.4,120.4 319.7,120.9 320.0,120.1 320.3,118.2 320.6,115.8 320.8,114.4 321.1,115.5 321.4,118.5 321.7,121.5 322.0,122.9 322.2,122.7 322.5,121.2 322.8,119.6 323.1,118.9 323.4,119.7 323.6,121.8 323.9,123.8 324.2,123.8 324.5,121.8 324.8,119.4 325.1,117.6 325.3,116.3 325.6,116.0 325.9,116.5 326.2,116.6 326.5,116.5 326.7,116.9 327.0,117.6 327.3,117.8 327.6,117.3 327.9,116.8 328.1,116.5 328.4,116.4 328.7,116.4 329.0,116.8 329.3,117.6 329.6,118.7 329.8,119.9 330.1,120.5 330.4,119.9 330.7,118.4 331.0,116.5 331.2,115.3 331.5,115.4 331.8,117.1 332.1,119.4 332.4,120.9 332.6,121.3 332.9,120.6 333.2,119.3 333.5,118.2 333.8,118.1 334.0,119.1 334.3,120.6 334.6,121.2 334.9,120.1 335.2,117.7 335.5,116.0 335.7,115.7 336.0,116.2 336.3,116.9 336.6,117.6 336.9,117.9 337.1,117.3 337.4,116.7 337.7,116.9 338.0,118.1 338.3,119.5 338.5,120.5 338.8,121.5 339.1,122.7 339.4,123.3" fill="none" stroke="#0000ff" stroke-width="0.9" stroke-linejoin="round"/>
<polyline points="193.5,125.8 193.8,126.4 194.1,128.1 194.3,130.4 194.6,131.9 194.9,132.5 195.2,132.6 195.5,132.2 195.7,131.0 196.0,129.4 196.3,128.5 196.6,128.6 196.9,129.0 197.2,128.9 197.4,128.1 197.7,126.9 198.0,126.2 198.3,126.4 198.6,127.8 198.8,130.1 199.1,132.0 199.4,131.9 199.7,130.3 200.0,129.1 200.2,128.9 200.5,129.0 200.8,128.9 201.1,128.6 201.4,127.7 201.7,126.2 201.9,125.5 202.2,126.0 202.5,126.5 202.8,126.7 203.1,127.1 203.3,128.0 203.6,128.4 203.9,128.1 204.2,127.7 204.5,127.7 204.7,128.2 205.0,128.9 205.3,129.9 205.6,131.1 205.9,132.1 206.1,132.6 206.4,132.4 206.7,131.4 207.0,129.5 207.3,126.9 207.6,124.6 207.8,123.6 208.1,124.2 208.4,126.0 208.7,128.4 209.0,130.4 209.2,131.5 209.5,132.1 209.8,132.1 210.1,130.7 210.4,128.4 210.6,126.8 210.9,126.4 211.2,126.5 211.5,126.9 211.8,128.1 212.1,130.1 212.3,131.9 212.6,132.6 212.9,132.1 213.2,130.8 213.5,129.6 213.7,128.7 214.0,127.9 214.3,127.5 214.6,128.9 214.9,131.1 215.1,131.9 215.4,130.8 215.7,129.7 216.0,129.2 216.3,128.5 216.6,126.9 216.8,125.3 217.1,125.4 217.4,127.3 217.7,129.3 218.0,129.4 218.2,127.5 218.5,125.9 218.8,126.8 219.1,128.6 219.4,127.8 219.6,124.6 219.9,122.6 220.2,123.5 220.5,126.0 220.8,128.5 221.0,130.9 221.3,132.4 221.6,132.0 221.9,129.9 222.2,128.4 222.5,128.4 222.7,129.3 223.0,130.1 223.3,130.3 223.6,130.5 223.9,130.5 224.1,129.8 224.4,128.0 224.7,126.4 225.0,126.4 225.3,128.0 225.5,129.4 225.8,129.1 226.1,128.0 226.4,128.0 226.7,129.4 227.0,130.8 227.2,131.5 227.5,131.7 227.8,131.0 228.1,129.2 228.4,127.3 228.6,126.9 228.9,128.6 229.2,131.1 229.5,132.8 229.8,132.7 230.0,131.4 230.3,129.8 230.6,128.3 230.9,126.9 231.2,125.7 231.4,125.2 231.7,125.6 232.0,126.6 232.3,128.1 232.6,129.3 232.9,129.8 233.1,129.6 233.4,129.4 233.7,129.2 234.0,129.0 234.3,128.9 234.5,129.4 234.8,130.4 235.1,131.0 235.4,130.5 235.7,128.8 235.9,127.7 236.2,127.8 236.5,128.4 236.8,128.3 237.1,127.5 237.4,126.8 237.6,126.9 237.9,128.0 238.2,129.6 238.5,130.1 238.8,129.2 239.0,128.0 239.3,128.0 239.6,129.4 239.9,131.2 240.2,131.9 240.4,130.5 240.7,128.2 241.0,126.3 241.3,125.8 241.6,127.0 241.8,129.2 242.1,131.0 242.4,131.7 242.7,131.4 243.0,130.4 243.3,129.7 243.5,129.5 243.8,129.4 244.1,129.1 244.4,128.7 244.7,128.5 244.9,128.1 245.2,127.7 245.5,127.4 245.8,127.2 246.1,127.9 246.3,129.7 246.6,131.5 246.9,131.8 247.2,130.6 247.5,129.0 247.8,128.0 248.0,127.9 248.3,127.9 248.6,127.6 248.9,127.1 249.2,126.8 249.4,126.9 249.7,127.3 250.0,127.6 250.3,127.3 250.6,126.7 250.8,126.2 251.1,126.0 251.4,126.6 251.7,127.8 252.0,129.2 252.2,130.3 252.5,130.9 252.8,131.2 253.1,131.1 253.4,130.7 253.7,129.8 253.9,128.1 254.2,126.6 254.5,126.7 254.8,127.6 255.1,127.8 255.3,127.4 255.6,127.4 255.9,128.9 256.2,131.1 256.5,132.5 256.7,132.8 257.0,132.9 257.3,133.3 257.6,133.3 257.9,131.4 258.2,127.7 258.4,124.8 258.7,124.4 259.0,126.1 259.3,128.5 259.6,130.0 259.8,130.3 260.1,129.9 260.4,129.3 260.7,128.6 261.0,128.5 261.2,129.2 261.5,129.3 261.8,128.6 262.1,128.2 262.4,128.7 262.7,129.3 262.9,129.5 263.2,128.6 263.5,126.4 263.8,124.5 264.1,124.9 264.3,127.0 264.6,129.3 264.9,130.8 265.2,131.3 265.5,130.9 265.7,129.8 266.0,128.5 266.3,128.2 266.6,129.3 266.9,130.7 267.1,131.3 267.4,130.8 267.7,129.6 268.0,128.5 268.3,128.2 268.6,128.2 268.8,127.6 269.1,126.6 269.4,126.8 269.7,129.2 270.0,132.3 270.2,133.1 270.5,131.5 270.8,129.8 271.1,129.1 271.4,128.5 271.6,127.3 271.9,126.5 272.2,126.6 272.5,127.1 272.8,127.5 273.1,128.4 273.3,129.1 273.6,128.6 273.9,127.5 274.2,127.4 274.5,128.4 274.7,129.2 275.0,129.0 275.3,128.4 275.6,128.3 275.9,129.4 276.1,130.9 276.4,132.1 276.7,133.3 277.0,133.9 277.3,132.7 277.5,129.8 277.8,127.2 278.1,126.6 278.4,126.9 278.7,127.3 279.0,127.8 279.2,128.5 279.5,129.2 279.8,129.8 280.1,130.8 280.4,131.1 280.6,129.6 280.9,127.1 281.2,125.1 281.5,123.9 281.8,123.2 282.0,123.8 282.3,125.9 282.6,128.1 282.9,129.1 283.2,129.1 283.5,128.8 283.7,128.5 284.0,127.3 284.3,125.7 284.6,125.0 284.9,126.2 285.1,128.7 285.4,130.9 285.7,131.9 286.0,131.7 286.3,131.1 286.5,130.6 286.8,130.6 287.1,130.8 287.4,130.5 287.7,129.2 287.9,127.5 288.2,126.1 288.5,125.7 288.8,125.9 289.1,126.8 289.4,128.5 289.6,130.5 289.9,132.1 290.2,132.5 290.5,131.5 290.8,129.5 291.0,128.0 291.3,128.0 291.6,129.1 291.9,129.9 292.2,130.2 292.4,130.2 292.7,129.7 293.0,128.0 293.3,125.6 293.6,123.8 293.9,124.4 294.1,127.6 294.4,131.4 294.7,132.9 295.0,131.7 295.3,130.0 295.5,129.2 295.8,129.3 296.1,130.2 296.4,131.1 296.7,131.2 296.9,130.5 297.2,129.7 297.5,129.7 297.8,130.3 298.1,130.4 298.3,129.5 298.6,128.7 298.9,128.7 299.2,128.9 299.5,128.1 299.8,126.9 300.0,126.3 300.3,126.8 300.6,128.5 300.9,130.4 301.2,131.2 301.4,130.8 301.7,129.9 302.0,129.4 302.3,129.6 302.6,129.6 302.8,128.9 303.1,128.0 303.4,127.6 303.7,127.7 304.0,128.0 304.3,128.2 304.5,127.8 304.8,126.6 305.1,125.7 305.4,126.0 305.7,127.6 305.9,129.5 306.2,130.9 306.5,131.4 306.8,131.4 307.1,130.9 307.3,130.1 307.6,129.4 307.9,128.8 308.2,127.7 308.5,126.3 308.8,125.2 309.0,124.6 309.3,124.5 309.6,125.3 309.9,127.1 310.2,128.5 310.4,128.9 310.7,128.6 311.0,128.7 311.3,129.2 311.6,129.8 311.8,130.6 312.1,131.2 312.4,131.0 312.7,130.2 313.0,129.7 313.2,130.0 313.5,130.1 313.8,129.7 314.1,129.0 314.4,128.3 314.7,127.7 314.9,127.8 315.2,128.5 315.5,128.2 315.8,126.2 316.1,124.5 316.3,124.8 316.6,126.7 316.9,128.1 317.2,128.6 317.5,129.2 317.7,130.6 318.0,132.2 318.3,132.4 318.6,130.9 318.9,128.9 319.2,127.9 319.4,128.4 319.7,129.3 320.0,129.8 320.3,129.5 320.6,127.9 320.8,126.1 321.1,126.3 321.4,128.6 321.7,131.2 322.0,132.6 322.2,132.5 322.5,131.5 322.8,130.1 323.1,129.2 323.4,129.5 323.6,130.9 323.9,132.1 324.2,132.0 324.5,130.5 324.8,128.5 325.1,127.1 325.3,126.2 325.6,126.3 325.9,127.3 326.2,128.4 326.5,129.1 326.7,129.8 327.0,130.0 327.3,129.4 327.6,128.0 327.9,126.6 328.1,125.9 328.4,126.3 328.7,127.3 329.0,128.4 329.3,129.2 329.6,129.3 329.8,129.1 330.1,128.7 330.4,128.1 330.7,127.2 331.0,126.3 331.2,126.2 331.5,127.2 331.8,128.9 332.1,130.4 332.4,131.6 332.6,132.0 332.9,131.2 333.2,129.2 333.5,127.4 333.8,127.3 334.0,128.7 334.3,130.2 334.6,130.4 334.9,129.4 335.2,128.2 335.5,127.6 335.7,126.9 336.0,126.1 336.3,126.0 336.6,127.1 336.9,128.5 337.1,129.5 337.4,130.0 337.7,130.3 338.0,130.3 338.3,130.3 338.5,130.3 338.8,130.0 339.1,129.4 339.4,129.2" fill="none" stroke="#0000ff" stroke-width="0.9" stroke-linejoin="round"/>
<polyline points="193.5,132.8 193.8,134.0 194.1,137.1 194.3,140.4 194.6,142.0 194.9,141.5 195.2,140.6 195.5,140.8 195.7,141.7 196.0,141.8 196.3,140.6 196.6,138.6 196.9,137.1 197.2,136.9 197.4,138.2 197.7,140.0 198.0,141.0 198.3,140.8 198.6,140.1 198.8,139.7 199.1,139.6 199.4,139.0 199.7,138.1 200.0,138.0 200.2,138.0 200.5,137.7 200.8,137.7 201.1,138.3 201.4,139.0 201.7,139.3 201.9,139.8 202.2,140.5 202.5,140.7 202.8,140.1 203.1,139.7 203.3,139.2 203.6,138.4 203.9,138.2 204.2,138.5 204.5,138.6 204.7,137.6 205.0,136.6 205.3,137.0 205.6,139.0 205.9,141.1 206.1,141.9 206.4,141.2 206.7,139.8 207.0,138.6 207.3,137.6 207.6,136.7 207.8,136.4 208.1,136.9 208.4,138.5 208.7,140.6 209.0,141.8 209.2,141.2 209.5,139.5 209.8,138.1 210.1,137.9 210.4,138.6 210.6,139.2 210.9,139.3 211.2,139.2 211.5,139.4 211.8,139.8 212.1,139.9 212.3,139.7 212.6,139.4 212.9,139.3 213.2,139.5 213.5,139.6 213.7,139.6 214.0,139.7 214.3,139.8 214.6,140.0 214.9,140.2 215.1,140.0 215.4,139.6 215.7,139.4 216.0,139.1 216.3,138.4 216.6,137.4 216.8,136.7 217.1,136.9 217.4,138.0 217.7,139.0 218.0,139.2 218.2,138.2 218.5,136.9 218.8,136.8 219.1,137.5 219.4,137.4 219.6,136.1 219.9,135.2 220.2,135.2 220.5,135.5 220.8,136.4 221.0,138.5 221.3,140.7 221.6,141.5 221.9,141.2 222.2,140.7 222.5,140.6 222.7,140.8 223.0,140.9 223.3,140.8 223.6,140.6 223.9,139.8 224.1,138.6 224.4,137.5 224.7,137.0 225.0,137.5 225.3,139.0 225.5,140.7 225.8,141.6 226.1,141.4 226.4,141.1 226.7,141.4 227.0,141.5 227.2,140.9 227.5,139.7 227.8,138.4 228.1,137.7 228.4,137.4 228.6,137.3 228.9,137.6 229.2,138.5 229.5,140.3 229.8,142.2 230.0,143.0 230.3,142.1 230.6,140.6 230.9,139.5 231.2,138.5 231.4,136.8 231.7,134.7 232.0,133.2 232.3,133.3 232.6,134.9 232.9,137.0 233.1,138.9 233.4,140.3 233.7,141.0 234.0,140.8 234.3,140.1 234.5,139.9 234.8,140.8 235.1,141.5 235.4,140.9 235.7,139.5 235.9,139.0 236.2,140.5 236.5,142.8 236.8,143.4 237.1,141.4 237.4,138.2 237.6,136.1 237.9,136.4 238.2,138.6 238.5,140.8 238.8,141.5 239.0,140.8 239.3,140.0 239.6,140.3 239.9,141.8 240.2,143.1 240.4,142.8 240.7,141.2 241.0,139.1 241.3,137.1 241.6,135.7 241.8,135.6 242.1,136.8 242.4,138.7 242.7,140.5 243.0,141.4 243.3,141.2 243.5,140.1 243.8,138.7 244.1,137.5 244.4,137.2 244.7,137.9 244.9,139.0 245.2,140.1 245.5,140.9 245.8,141.1 246.1,140.5 246.3,139.5 246.6,138.8 246.9,138.6 247.2,138.4 247.5,138.3 247.8,139.2 248.0,140.8 248.3,141.6 248.6,140.8 248.9,139.2 249.2,137.8 249.4,137.2 249.7,137.1 250.0,136.9 250.3,136.1 250.6,135.8 250.8,137.0 251.1,138.8 251.4,140.0 251.7,140.1 252.0,139.2 252.2,138.0 252.5,137.1 252.8,137.1 253.1,138.2 253.4,139.8 253.7,140.1 253.9,138.7 254.2,137.0 254.5,136.7 254.8,137.5 255.1,138.1 255.3,138.5 255.6,138.8 255.9,139.4 256.2,139.8 256.5,140.1 256.7,140.9 257.0,141.9 257.3,142.0 257.6,141.4 257.9,140.4 258.2,138.7 258.4,136.5 258.7,135.0 259.0,135.3 259.3,137.3 259.6,138.8 259.8,138.2 260.1,136.5 260.4,136.0 260.7,137.4 261.0,140.1 261.2,143.3 261.5,145.0 261.8,143.7 262.1,140.2 262.4,136.6 262.7,134.5 262.9,134.5 263.2,136.3 263.5,138.4 263.8,139.5 264.1,139.7 264.3,140.0 264.6,140.4 264.9,140.3 265.2,140.2 265.5,140.6 265.7,140.9 266.0,140.8 266.3,141.0 266.6,141.5 266.9,141.9 267.1,142.0 267.4,141.8 267.7,141.3 268.0,140.5 268.3,139.5 268.6,138.7 268.8,138.9 269.1,139.8 269.4,140.3 269.7,139.9 270.0,138.6 270.2,137.0 270.5,136.1 270.8,136.7 271.1,138.6 271.4,140.1 271.6,139.7 271.9,137.3 272.2,135.1 272.5,135.2 272.8,138.0 273.1,141.6 273.3,143.2 273.6,142.1 273.9,140.1 274.2,139.1 274.5,139.1 274.7,139.5 275.0,140.1 275.3,140.5 275.6,140.8 275.9,141.1 276.1,140.9 276.4,140.2 276.7,139.7 277.0,139.6 277.3,140.0 277.5,140.4 277.8,139.5 278.1,137.0 278.4,134.5 278.7,135.2 279.0,139.1 279.2,142.3 279.5,142.8 279.8,142.3 280.1,142.2 280.4,141.3 280.6,139.0 280.9,136.8 281.2,135.5 281.5,134.2 281.8,132.7 282.0,132.9 282.3,135.7 282.6,139.1 282.9,141.2 283.2,141.1 283.5,140.0 283.7,139.1 284.0,138.4 284.3,137.4 284.6,137.3 284.9,138.4 285.1,139.5 285.4,139.0 285.7,137.9 286.0,137.4 286.3,137.8 286.5,138.5 286.8,139.4 287.1,140.4 287.4,140.9 287.7,140.3 287.9,139.6 288.2,139.6 288.5,139.9 288.8,139.3 289.1,138.0 289.4,137.3 289.6,137.9 289.9,139.2 290.2,140.1 290.5,140.4 290.8,140.3 291.0,140.1 291.3,139.6 291.6,138.8 291.9,138.4 292.2,139.0 292.4,140.1 292.7,140.1 293.0,138.5 293.3,136.2 293.6,134.9 293.9,135.6 294.1,137.9 294.4,140.3 294.7,141.5 295.0,141.5 295.3,141.3 295.5,141.4 295.8,141.6 296.1,141.4 296.4,141.1 296.7,140.9 296.9,140.6 297.2,140.4 297.5,140.4 297.8,140.6 298.1,140.6 298.3,140.2 298.6,139.7 298.9,139.9 299.2,140.0 299.5,139.0 299.8,137.2 300.0,136.5 300.3,137.7 300.6,140.0 300.9,141.4 301.2,140.8 301.4,139.3 301.7,138.3 302.0,138.3 302.3,138.8 302.6,139.3 302.8,139.6 303.1,140.1 303.4,140.9 303.7,141.4 304.0,141.3 304.3,140.5 304.5,138.8 304.8,136.6 305.1,135.2 305.4,135.5 305.7,137.2 305.9,138.8 306.2,139.4 306.5,139.4 306.8,139.7 307.1,140.1 307.3,140.0 307.6,139.9 307.9,140.7 308.2,141.8 308.5,141.3 308.8,138.5 309.0,135.1 309.3,133.3 309.6,134.2 309.9,137.2 310.2,140.0 310.4,140.7 310.7,139.7 311.0,139.3 311.3,140.0 311.6,140.8 311.8,140.9 312.1,141.0 312.4,141.3 312.7,141.3 313.0,140.5 313.2,139.5 313.5,138.6 313.8,137.9 314.1,137.2 314.4,136.2 314.7,135.2 314.9,135.0 315.2,135.6 315.5,136.4 315.8,136.8 316.1,137.0 316.3,138.1 316.6,140.3 316.9,142.5 317.2,142.9 317.5,141.3 317.7,139.7 318.0,139.8 318.3,140.4 318.6,140.0 318.9,139.2 319.2,139.3 319.4,139.9 319.7,139.7 320.0,139.1 320.3,138.8 320.6,138.2 320.8,136.5 321.1,135.2 321.4,135.5 321.7,137.3 322.0,139.7 322.2,141.0 322.5,139.6 322.8,136.8 323.1,135.2 323.4,136.6 323.6,139.8 323.9,142.3 324.2,142.5 324.5,140.5 324.8,138.0 325.1,136.5 325.3,136.2 325.6,136.7 325.9,137.1 326.2,137.0 326.5,137.1 326.7,137.7 327.0,138.0 327.3,137.8 327.6,137.8 327.9,138.2 328.1,138.8 328.4,139.5 328.7,140.1 329.0,140.6 329.3,140.5 329.6,139.7 329.8,139.0 330.1,138.5 330.4,138.6 330.7,139.8 331.0,141.6 331.2,142.1 331.5,140.5 331.8,138.6 332.1,138.2 332.4,139.7 332.6,141.1 332.9,140.4 333.2,138.3 333.5,137.3 333.8,138.2 334.0,139.9 334.3,140.9 334.6,140.7 334.9,139.5 335.2,138.6 335.5,139.1 335.7,140.6 336.0,141.9 336.3,142.2 336.6,141.3 336.9,140.1 337.1,139.5 337.4,139.1 337.7,138.1 338.0,137.2 338.3,137.4 338.5,138.4 338.8,139.5 339.1,140.1 339.4,140.3" fill="none" stroke="#0000ff" stroke-width="0.9" stroke-linejoin="round"/>
<polyline points="193.5,143.7 193.8,144.5 194.1,146.7 194.3,149.0 194.6,150.3 194.9,150.8 195.2,151.4 195.5,152.4 195.7,153.0 196.0,152.6 196.3,151.5 196.6,150.2 196.9,149.1 197.2,148.3 197.4,148.3 197.7,149.4 198.0,150.8 198.3,151.2 198.6,150.4 198.8,149.7 199.1,149.7 199.4,149.9 199.7,150.3 200.0,150.8 200.2,150.5 200.5,149.6 200.8,149.2 201.1,149.0 201.4,148.0 201.7,147.4 201.9,149.0 202.2,152.1 202.5,153.4 202.8,151.3 203.1,148.2 203.3,146.5 203.6,146.4 203.9,147.2 204.2,148.6 204.5,149.7 204.7,149.3 205.0,148.2 205.3,148.4 205.6,150.4 205.9,152.3 206.1,152.8 206.4,151.9 206.7,150.3 207.0,148.9 207.3,147.5 207.6,146.4 207.8,146.0 208.1,146.3 208.4,147.3 208.7,148.8 209.0,150.0 209.2,150.1 209.5,149.4 209.8,148.7 210.1,148.6 210.4,149.4 210.6,150.5 210.9,150.8 211.2,149.7 211.5,148.4 211.8,147.9 212.1,148.2 212.3,148.9 212.6,149.6 212.9,149.9 213.2,149.7 213.5,149.2 213.7,149.1 214.0,149.5 214.3,150.2 214.6,151.1 214.9,151.4 215.1,150.8 215.4,149.9 215.7,149.7 216.0,149.7 216.3,149.3 216.6,148.5 216.8,147.6 217.1,147.5 217.4,148.5 217.7,149.6 218.0,149.7 218.2,148.3 218.5,146.5 218.8,146.6 219.1,148.1 219.4,148.6 219.6,147.4 219.9,146.5 220.2,146.6 220.5,147.0 220.8,147.6 221.0,149.0 221.3,150.4 221.6,150.3 221.9,149.1 222.2,148.6 222.5,149.5 222.7,150.7 223.0,151.1 223.3,150.5 223.6,149.6 223.9,149.0 224.1,148.9 224.4,149.1 224.7,149.6 225.0,150.3 225.3,151.2 225.5,151.7 225.8,151.0 226.1,149.8 226.4,149.7 226.7,150.9 227.0,151.5 227.2,151.1 227.5,150.6 227.8,150.5 228.1,150.0 228.4,148.5 228.6,146.4 228.9,145.2 229.2,145.9 229.5,148.2 229.8,151.5 230.0,154.7 230.3,155.6 230.6,154.1 230.9,151.5 231.2,148.9 231.4,146.5 231.7,144.4 232.0,143.2 232.3,143.8 232.6,145.7 232.9,148.0 233.1,149.7 233.4,150.6 233.7,150.4 234.0,150.0 234.3,150.0 234.5,150.8 234.8,151.7 235.1,152.0 235.4,151.0 235.7,149.5 235.9,149.2 236.2,150.6 236.5,152.5 236.8,152.9 237.1,151.8 237.4,150.3 237.6,149.3 237.9,149.1 238.2,149.8 238.5,150.7 238.8,151.2 239.0,150.9 239.3,149.8 239.6,149.3 239.9,150.6 240.2,152.5 240.4,152.9 240.7,151.3 241.0,149.3 241.3,147.8 241.6,147.2 241.8,147.1 242.1,147.7 242.4,148.8 242.7,150.2 243.0,150.9 243.3,150.6 243.5,149.3 243.8,148.2 244.1,148.0 244.4,148.4 244.7,148.9 244.9,149.0 245.2,149.2 245.5,149.5 245.8,149.7 246.1,149.6 246.3,149.6 246.6,149.7 246.9,149.3 247.2,148.1 247.5,147.4 247.8,148.7 248.0,151.2 248.3,152.2 248.6,151.1 248.9,149.5 249.2,148.6 249.4,148.9 249.7,149.8 250.0,149.6 250.3,147.9 250.6,146.7 250.8,147.2 251.1,148.3 251.4,148.3 251.7,147.4 252.0,146.8 252.2,146.8 252.5,147.1 252.8,147.7 253.1,148.7 253.4,149.6 253.7,149.1 253.9,146.8 254.2,144.8 254.5,144.7 254.8,146.2 255.1,148.4 255.3,150.5 255.6,151.9 255.9,152.2 256.2,151.9 256.5,151.5 256.7,151.5 257.0,151.8 257.3,152.0 257.6,152.3 257.9,152.3 258.2,151.0 258.4,148.3 258.7,146.0 259.0,145.8 259.3,147.3 259.6,148.8 259.8,149.3 260.1,149.2 260.4,149.1 260.7,149.2 261.0,149.9 261.2,151.5 261.5,152.5 261.8,151.7 262.1,149.1 262.4,146.2 262.7,144.1 262.9,144.0 263.2,145.7 263.5,147.6 263.8,148.8 264.1,149.9 264.3,151.7 264.6,153.2 264.9,152.9 265.2,151.4 265.5,150.1 265.7,149.8 266.0,150.5 266.3,152.0 266.6,153.3 266.9,152.8 267.1,150.8 267.4,149.2 267.7,149.4 268.0,150.2 268.3,150.1 268.6,149.7 268.8,149.7 269.1,149.9 269.4,150.0 269.7,149.9 270.0,149.5 270.2,148.7 270.5,147.9 270.8,147.8 271.1,148.1 271.4,148.1 271.6,147.5 271.9,146.4 272.2,145.7 272.5,146.6 272.8,148.9 273.1,150.9 273.3,151.4 273.6,150.4 273.9,149.1 274.2,148.5 274.5,149.1 274.7,150.5 275.0,151.6 275.3,151.4 275.6,150.3 275.9,148.9 276.1,148.2 276.4,148.4 276.7,149.4 277.0,150.7 277.3,152.1 277.5,153.2 277.8,152.8 278.1,150.1 278.4,146.7 278.7,145.3 279.0,147.1 279.2,150.4 279.5,153.1 279.8,154.7 280.1,154.5 280.4,152.1 280.6,149.1 280.9,147.4 281.2,146.8 281.5,145.8 281.8,144.1 282.0,143.6 282.3,145.7 282.6,149.0 282.9,151.1 283.2,150.7 283.5,149.8 283.7,149.9 284.0,149.5 284.3,147.5 284.6,145.7 284.9,146.1 285.1,147.6 285.4,148.2 285.7,148.3 286.0,148.8 286.3,149.6 286.5,150.3 286.8,151.2 287.1,151.9 287.4,152.1 287.7,151.3 287.9,150.0 288.2,149.6 288.5,150.1 288.8,150.2 289.1,149.2 289.4,148.5 289.6,148.8 289.9,149.6 290.2,150.5 290.5,151.1 290.8,151.2 291.0,150.8 291.3,150.4 291.6,150.2 291.9,149.8 292.2,149.6 292.4,149.8 292.7,149.8 293.0,148.5 293.3,146.5 293.6,145.4 293.9,145.9 294.1,147.6 294.4,149.9 294.7,151.7 295.0,152.2 295.3,151.8 295.5,151.4 295.8,151.0 296.1,150.5 296.4,149.7 296.7,149.1 296.9,149.2 297.2,149.8 297.5,150.6 297.8,151.3 298.1,151.6 298.3,151.1 298.6,150.2 298.9,150.1 299.2,150.3 299.5,149.0 299.8,146.4 300.0,145.0 300.3,146.6 300.6,149.6 300.9,151.2 301.2,150.5 301.4,148.9 301.7,148.3 302.0,148.9 302.3,149.8 302.6,149.8 302.8,149.4 303.1,149.6 303.4,150.9 303.7,151.9 304.0,152.1 304.3,151.6 304.5,150.4 304.8,148.3 305.1,146.3 305.4,145.5 305.7,146.6 305.9,148.6 306.2,149.9 306.5,150.4 306.8,150.8 307.1,151.0 307.3,150.3 307.6,149.3 307.9,149.5 308.2,150.8 308.5,151.3 308.8,149.5 309.0,146.7 309.3,145.0 309.6,145.1 309.9,146.5 310.2,148.1 310.4,148.8 310.7,148.8 311.0,149.0 311.3,149.3 311.6,149.0 311.8,148.4 312.1,148.6 312.4,150.2 312.7,151.5 313.0,151.2 313.2,149.9 313.5,148.6 313.8,147.6 314.1,146.7 314.4,145.8 314.7,145.3 314.9,146.2 315.2,148.0 315.5,149.3 315.8,149.4 316.1,149.0 316.3,149.6 316.6,151.6 316.9,153.6 317.2,153.7 317.5,152.3 317.7,151.2 318.0,151.5 318.3,151.6 318.6,150.3 318.9,148.7 319.2,148.6 319.4,150.1 319.7,151.4 320.0,151.7 320.3,151.2 320.6,149.8 320.8,147.5 321.1,145.6 321.4,145.6 321.7,147.4 322.0,150.3 322.2,152.3 322.5,151.3 322.8,147.6 323.1,144.5 323.4,144.8 323.6,148.2 323.9,152.0 324.2,153.6 324.5,152.5 324.8,150.2 325.1,148.3 325.3,147.5 325.6,147.5 325.9,147.4 326.2,146.9 326.5,147.0 326.7,148.4 327.0,150.0 327.3,150.4 327.6,149.7 327.9,148.7 328.1,148.5 328.4,148.9 328.7,149.5 329.0,149.8 329.3,149.8 329.6,149.3 329.8,148.9 330.1,148.9 330.4,148.9 330.7,148.9 331.0,149.5 331.2,149.9 331.5,149.5 331.8,148.7 332.1,148.8 332.4,149.9 332.6,151.1 332.9,151.2 333.2,150.6 333.5,150.4 333.8,150.8 334.0,150.8 334.3,150.0 334.6,148.9 334.9,147.8 335.2,147.6 335.5,148.8 335.7,150.4 336.0,151.4 336.3,151.1 336.6,150.0 336.9,149.3 337.1,149.6 337.4,150.1 337.7,149.5 338.0,148.3 338.3,147.8 338.5,148.4 338.8,149.6 339.1,150.5 339.4,150.7" fill="none" stroke="#0000ff" stroke-width="0.9" stroke-linejoin="round"/>
<polyline points="193.5,155.2 193.8,155.9 194.1,157.7 194.3,159.9 194.6,160.9 194.9,160.7 195.2,160.4 195.5,160.8 195.7,161.6 196.0,161.5 196.3,160.6 196.6,159.5 196.9,158.8 197.2,158.8 197.4,159.6 197.7,160.5 198.0,160.5 198.3,159.4 198.6,158.1 198.8,157.9 199.1,158.5 199.4,159.0 199.7,159.5 200.0,160.5 200.2,161.2 200.5,161.6 200.8,162.1 201.1,162.0 201.4,160.0 201.7,157.3 201.9,156.3 202.2,157.4 202.5,159.0 202.8,159.3 203.1,158.3 203.3,156.7 203.6,155.8 203.9,156.7 204.2,159.0 204.5,160.5 204.7,160.2 205.0,159.5 205.3,160.2 205.6,162.2 205.9,163.6 206.1,163.4 206.4,161.9 206.7,160.1 207.0,158.8 207.3,157.7 207.6,156.8 207.8,156.7 208.1,157.8 208.4,159.8 208.7,161.6 209.0,162.1 209.2,161.3 209.5,160.1 209.8,159.0 210.1,158.3 210.4,158.1 210.6,158.5 210.9,159.0 211.2,159.4 211.5,159.8 211.8,160.4 212.1,160.9 212.3,161.1 212.6,160.8 212.9,160.1 213.2,159.5 213.5,159.4 213.7,159.9 214.0,160.3 214.3,160.2 214.6,160.2 214.9,160.9 215.1,161.5 215.4,161.7 215.7,161.7 216.0,161.4 216.3,160.5 216.6,159.1 216.8,157.5 217.1,157.0 217.4,158.2 217.7,160.0 218.0,161.3 218.2,161.0 218.5,159.1 218.8,157.5 219.1,156.9 219.4,156.2 219.6,155.2 219.9,155.0 220.2,155.2 220.5,155.2 220.8,155.9 221.0,158.1 221.3,160.1 221.6,160.3 221.9,159.2 222.2,158.4 222.5,159.1 222.7,161.0 223.0,162.8 223.3,163.2 223.6,162.5 223.9,161.6 224.1,160.9 224.4,160.2 224.7,159.6 225.0,159.6 225.3,160.6 225.5,161.9 225.8,162.1 226.1,161.2 226.4,161.3 226.7,162.9 227.0,163.6 227.2,162.1 227.5,159.7 227.8,157.9 228.1,157.1 228.4,156.5 228.6,155.9 228.9,156.3 229.2,158.1 229.5,160.5 229.8,162.7 230.0,163.9 230.3,163.6 230.6,162.4 230.9,161.3 231.2,160.0 231.4,158.1 231.7,156.1 232.0,154.6 232.3,154.2 232.6,154.9 232.9,156.5 233.1,159.1 233.4,161.5 233.7,162.2 234.0,160.8 234.3,159.0 234.5,158.6 234.8,160.0 235.1,161.5 235.4,161.2 235.7,159.7 235.9,159.0 236.2,160.3 236.5,162.5 236.8,163.8 237.1,163.0 237.4,161.5 237.6,160.3 237.9,159.8 238.2,159.9 238.5,160.2 238.8,160.3 239.0,159.6 239.3,159.0 239.6,159.6 239.9,161.7 240.2,163.6 240.4,163.9 240.7,162.8 241.0,161.5 241.3,159.9 241.6,158.4 241.8,157.5 242.1,157.8 242.4,158.8 242.7,159.9 243.0,160.5 243.3,160.3 243.5,159.4 243.8,158.6 244.1,158.5 244.4,158.9 244.7,159.4 244.9,159.8 245.2,160.8 245.5,162.2 245.8,162.9 246.1,161.8 246.3,159.8 246.6,158.2 246.9,157.6 247.2,157.5 247.5,157.9 247.8,159.4 248.0,161.4 248.3,162.1 248.6,160.8 248.9,158.8 249.2,157.5 249.4,157.2 249.7,157.7 250.0,158.4 250.3,158.4 250.6,158.5 250.8,159.2 251.1,159.5 251.4,158.9 251.7,158.0 252.0,157.8 252.2,157.9 252.5,157.9 252.8,157.9 253.1,158.6 253.4,159.5 253.7,159.4 253.9,157.6 254.2,155.8 254.5,155.8 254.8,157.4 255.1,159.3 255.3,160.6 255.6,160.8 255.9,160.0 256.2,159.4 256.5,159.8 256.7,161.5 257.0,163.5 257.3,164.7 257.6,164.6 257.9,163.1 258.2,160.4 258.4,157.0 258.7,154.7 259.0,155.1 259.3,157.2 259.6,158.6 259.8,158.5 260.1,158.8 260.4,160.3 260.7,161.6 261.0,162.3 261.2,163.2 261.5,163.6 261.8,162.5 262.1,159.6 262.4,156.4 262.7,154.3 262.9,154.1 263.2,155.7 263.5,158.0 263.8,160.1 264.1,161.7 264.3,162.7 264.6,162.5 264.9,161.1 265.2,159.5 265.5,159.2 265.7,160.1 266.0,161.3 266.3,162.2 266.6,162.6 266.9,162.2 267.1,161.2 267.4,160.7 267.7,160.9 268.0,161.1 268.3,160.9 268.6,161.0 268.8,161.6 269.1,161.8 269.4,161.1 269.7,160.7 270.0,160.8 270.2,160.3 270.5,159.1 270.8,158.3 271.1,157.9 271.4,157.5 271.6,156.8 271.9,156.4 272.2,157.2 272.5,159.0 272.8,160.6 273.1,161.2 273.3,160.9 273.6,160.3 273.9,159.8 274.2,159.8 274.5,159.8 274.7,159.8 275.0,159.6 275.3,159.2 275.6,159.0 275.9,158.9 276.1,159.2 276.4,159.9 276.7,161.0 277.0,162.0 277.3,162.6 277.5,163.0 277.8,162.4 278.1,160.0 278.4,157.0 278.7,155.8 279.0,157.1 279.2,158.8 279.5,159.4 279.8,160.2 280.1,161.4 280.4,161.2 280.6,159.6 280.9,158.5 281.2,158.9 281.5,159.2 281.8,157.8 282.0,156.2 282.3,156.7 282.6,158.9 282.9,161.0 283.2,161.2 283.5,160.3 283.7,159.5 284.0,158.4 284.3,156.1 284.6,154.7 284.9,156.4 285.1,159.7 285.4,161.5 285.7,161.3 286.0,160.4 286.3,159.5 286.5,158.8 286.8,158.8 287.1,159.8 287.4,160.5 287.7,160.1 287.9,159.1 288.2,158.7 288.5,159.0 288.8,158.8 289.1,158.1 289.4,158.1 289.6,158.7 289.9,159.7 290.2,161.0 290.5,162.2 290.8,162.7 291.0,161.9 291.3,160.5 291.6,159.0 291.9,158.0 292.2,158.4 292.4,159.7 292.7,160.2 293.0,158.8 293.3,156.6 293.6,155.4 293.9,155.7 294.1,157.5 294.4,160.3 294.7,162.3 295.0,162.9 295.3,162.4 295.5,162.0 295.8,162.0 296.1,162.0 296.4,161.7 296.7,161.0 296.9,160.1 297.2,159.4 297.5,159.5 297.8,160.1 298.1,160.5 298.3,160.5 298.6,160.8 298.9,161.7 299.2,162.2 299.5,160.6 299.8,157.8 300.0,156.4 300.3,157.6 300.6,159.7 300.9,160.8 301.2,160.7 301.4,160.3 301.7,160.3 302.0,160.4 302.3,160.3 302.6,160.0 302.8,160.0 303.1,161.1 303.4,162.6 303.7,163.5 304.0,163.5 304.3,162.4 304.5,160.1 304.8,157.6 305.1,156.2 305.4,156.5 305.7,157.8 305.9,159.2 306.2,160.2 306.5,160.7 306.8,161.1 307.1,161.5 307.3,161.5 307.6,161.2 307.9,160.9 308.2,160.5 308.5,159.5 308.8,157.7 309.0,156.7 309.3,157.3 309.6,158.7 309.9,159.7 310.2,160.1 310.4,159.8 310.7,159.4 311.0,159.3 311.3,159.2 311.6,158.4 311.8,157.7 312.1,158.4 312.4,160.0 312.7,161.3 313.0,161.3 313.2,160.5 313.5,158.9 313.8,156.8 314.1,155.2 314.4,154.8 314.7,155.6 314.9,157.2 315.2,158.6 315.5,159.4 315.8,159.8 316.1,160.4 316.3,161.5 316.6,162.7 316.9,163.3 317.2,162.4 317.5,160.4 317.7,159.0 318.0,159.4 318.3,160.3 318.6,160.4 318.9,159.8 319.2,159.9 319.4,160.6 319.7,161.1 320.0,161.0 320.3,160.4 320.6,158.8 320.8,156.4 321.1,154.7 321.4,155.0 321.7,157.1 322.0,160.1 322.2,162.1 322.5,161.4 322.8,158.6 323.1,156.7 323.4,157.3 323.6,159.6 323.9,162.0 324.2,162.9 324.5,161.9 324.8,160.0 325.1,158.9 325.3,159.0 325.6,159.6 325.9,159.7 326.2,158.9 326.5,158.4 326.7,158.9 327.0,159.6 327.3,159.7 327.6,159.5 327.9,159.5 328.1,159.8 328.4,160.2 328.7,159.8 329.0,158.7 329.3,157.6 329.6,157.0 329.8,157.3 330.1,157.9 330.4,158.2 330.7,158.2 331.0,158.7 331.2,159.2 331.5,158.8 331.8,158.1 332.1,158.3 332.4,160.2 332.6,162.5 332.9,162.9 333.2,161.2 333.5,159.7 333.8,159.3 334.0,159.3 334.3,159.3 334.6,159.4 334.9,159.4 335.2,159.7 335.5,160.6 335.7,162.1 336.0,162.9 336.3,162.4 336.6,160.6 336.9,159.0 337.1,158.7 337.4,159.0 337.7,159.0 338.0,158.9 338.3,159.6 338.5,161.0 338.8,162.3 339.1,162.8 339.4,162.9" fill="none" stroke="#0000ff" stroke-width="0.9" stroke-linejoin="round"/>
<polyline points="193.5,165.9 193.8,166.8 194.1,169.0 194.3,171.3 194.6,172.2 194.9,171.8 195.2,171.3 195.5,171.3 195.7,171.4 196.0,170.8 196.3,169.5 196.6,168.5 196.9,168.0 197.2,168.4 197.4,169.9 197.7,171.4 198.0,172.1 198.3,171.9 198.6,171.0 198.8,170.1 199.1,169.7 199.4,169.7 199.7,170.0 200.0,170.7 200.2,171.1 200.5,170.5 200.8,169.8 201.1,169.5 201.4,168.9 201.7,167.6 201.9,166.8 202.2,167.9 202.5,170.0 202.8,171.1 203.1,170.5 203.3,168.8 203.6,167.3 203.9,167.3 204.2,168.3 204.5,168.9 204.7,168.4 205.0,168.3 205.3,169.5 205.6,171.7 205.9,173.5 206.1,173.7 206.4,172.4 206.7,171.1 207.0,170.4 207.3,169.1 207.6,167.3 207.8,166.5 208.1,166.8 208.4,167.5 208.7,168.5 209.0,169.4 209.2,170.0 209.5,170.4 209.8,170.6 210.1,170.6 210.4,170.1 210.6,169.7 210.9,169.7 211.2,170.0 211.5,170.4 211.8,170.5 212.1,170.5 212.3,170.3 212.6,169.9 212.9,169.7 213.2,169.9 213.5,170.6 213.7,171.3 214.0,171.6 214.3,171.5 214.6,171.5 214.9,171.4 215.1,171.2 215.4,171.4 215.7,171.5 216.0,170.6 216.3,168.8 216.6,167.3 216.8,166.9 217.1,168.1 217.4,170.5 217.7,172.4 218.0,172.4 218.2,170.3 218.5,167.6 218.8,166.8 219.1,167.6 219.4,167.6 219.6,166.1 219.9,164.9 220.2,165.3 220.5,166.9 220.8,169.2 221.0,171.6 221.3,172.8 221.6,171.8 221.9,169.6 222.2,168.2 222.5,168.4 222.7,169.8 223.0,171.6 223.3,172.8 223.6,172.8 223.9,172.1 224.1,171.4 224.4,171.1 224.7,171.0 225.0,170.9 225.3,171.2 225.5,171.6 225.8,171.4 226.1,170.9 226.4,171.0 226.7,171.4 227.0,171.2 227.2,170.2 227.5,169.4 227.8,169.1 228.1,169.1 228.4,168.7 228.6,168.1 228.9,168.5 229.2,170.2 229.5,172.4 229.8,174.4 230.0,175.5 230.3,174.9 230.6,173.2 230.9,171.3 231.2,169.5 231.4,167.2 231.7,164.6 232.0,163.2 232.3,164.2 232.6,166.6 232.9,168.9 233.1,170.2 233.4,171.0 233.7,171.4 234.0,171.2 234.3,170.7 234.5,170.8 234.8,172.0 235.1,172.8 235.4,171.8 235.7,169.9 235.9,169.0 236.2,170.4 236.5,172.7 236.8,173.6 237.1,172.0 237.4,169.4 237.6,167.9 237.9,168.4 238.2,170.2 238.5,171.4 238.8,171.1 239.0,169.7 239.3,168.6 239.6,169.1 239.9,171.1 240.2,173.0 240.4,173.2 240.7,171.8 241.0,169.7 241.3,168.0 241.6,167.3 241.8,167.3 242.1,167.6 242.4,168.3 242.7,170.0 243.0,172.1 243.3,173.0 243.5,172.0 243.8,169.8 244.1,167.9 244.4,167.4 244.7,168.2 244.9,169.4 245.2,170.4 245.5,171.2 245.8,171.5 246.1,171.0 246.3,170.0 246.6,169.7 246.9,169.8 247.2,169.4 247.5,168.7 247.8,169.6 248.0,172.0 248.3,173.8 248.6,174.0 248.9,172.7 249.2,170.9 249.4,169.5 249.7,169.2 250.0,169.6 250.3,169.1 250.6,168.6 250.8,169.0 251.1,169.2 251.4,168.0 251.7,166.2 252.0,165.6 252.2,166.3 252.5,167.1 252.8,167.6 253.1,168.5 253.4,170.0 253.7,170.2 253.9,168.5 254.2,166.5 254.5,166.3 254.8,167.8 255.1,169.9 255.3,171.9 255.6,172.8 255.9,172.4 256.2,171.1 256.5,170.1 256.7,170.7 257.0,172.4 257.3,173.8 257.6,173.6 257.9,171.9 258.2,169.4 258.4,166.8 258.7,165.0 259.0,165.7 259.3,168.7 259.6,171.6 259.8,172.2 260.1,170.9 260.4,169.4 260.7,168.7 261.0,169.4 261.2,171.0 261.5,172.0 261.8,170.7 262.1,167.9 262.4,165.6 262.7,164.4 262.9,164.8 263.2,166.5 263.5,168.8 263.8,170.3 264.1,171.0 264.3,171.9 264.6,172.4 264.9,171.3 265.2,169.5 265.5,168.8 265.7,169.3 266.0,170.8 266.3,172.9 266.6,174.9 266.9,175.2 267.1,173.8 267.4,172.5 267.7,172.3 268.0,172.1 268.3,171.0 268.6,169.8 268.8,170.0 269.1,171.0 269.4,171.8 269.7,172.0 270.0,171.1 270.2,168.9 270.5,167.1 270.8,166.7 271.1,167.6 271.4,169.0 271.6,169.9 271.9,169.1 272.2,167.1 272.5,166.3 272.8,168.1 273.1,170.9 273.3,172.4 273.6,172.2 273.9,171.2 274.2,170.8 274.5,171.0 274.7,171.5 275.0,171.7 275.3,171.4 275.6,170.3 275.9,168.8 276.1,167.9 276.4,168.4 276.7,170.3 277.0,172.2 277.3,173.4 277.5,173.9 277.8,173.3 278.1,170.9 278.4,167.5 278.7,165.7 279.0,166.7 279.2,168.6 279.5,169.7 279.8,170.9 280.1,172.2 280.4,172.1 280.6,170.6 280.9,169.6 281.2,169.5 281.5,168.7 281.8,166.3 282.0,165.0 282.3,167.1 282.6,170.8 282.9,172.9 283.2,172.2 283.5,170.4 283.7,169.0 284.0,167.4 284.3,165.0 284.6,163.8 284.9,165.4 285.1,168.5 285.4,170.3 285.7,170.3 286.0,170.1 286.3,170.2 286.5,170.8 286.8,171.7 287.1,172.0 287.4,171.0 287.7,169.8 287.9,169.6 288.2,170.4 288.5,170.9 288.8,170.4 289.1,169.3 289.4,169.0 289.6,169.7 289.9,170.8 290.2,171.9 290.5,172.6 290.8,172.7 291.0,171.9 291.3,170.7 291.6,169.7 291.9,168.9 292.2,168.8 292.4,169.4 292.7,169.7 293.0,168.4 293.3,166.0 293.6,164.4 293.9,165.5 294.1,168.9 294.4,172.3 294.7,173.6 295.0,173.1 295.3,172.3 295.5,172.3 295.8,172.7 296.1,172.7 296.4,171.9 296.7,170.8 296.9,170.2 297.2,170.7 297.5,171.7 297.8,171.9 298.1,170.6 298.3,168.7 298.6,168.0 298.9,169.6 299.2,171.5 299.5,171.3 299.8,169.3 300.0,168.1 300.3,169.0 300.6,170.8 300.9,171.2 301.2,170.1 301.4,169.0 301.7,168.9 302.0,169.8 302.3,170.4 302.6,170.3 302.8,170.0 303.1,170.5 303.4,171.6 303.7,172.5 304.0,173.1 304.3,173.4 304.5,172.6 304.8,170.4 305.1,168.3 305.4,167.9 305.7,168.8 305.9,169.6 306.2,169.8 306.5,170.1 306.8,170.7 307.1,170.9 307.3,170.2 307.6,169.7 307.9,170.1 308.2,170.3 308.5,169.3 308.8,167.3 309.0,165.8 309.3,165.6 309.6,166.6 309.9,168.3 310.2,169.8 310.4,170.3 310.7,170.2 311.0,170.6 311.3,171.3 311.6,171.2 311.8,170.3 312.1,169.6 312.4,170.1 312.7,171.2 313.0,171.7 313.2,171.4 313.5,170.7 313.8,169.7 314.1,168.5 314.4,167.1 314.7,166.1 314.9,166.6 315.2,168.3 315.5,170.1 315.8,170.9 316.1,170.6 316.3,170.0 316.6,170.5 316.9,172.1 317.2,172.9 317.5,171.4 317.7,169.6 318.0,169.6 318.3,170.7 318.6,171.0 318.9,170.7 319.2,171.1 319.4,171.9 319.7,171.5 320.0,170.1 320.3,169.1 320.6,168.1 320.8,166.9 321.1,166.4 321.4,167.3 321.7,169.5 322.0,172.0 322.2,173.2 322.5,171.9 322.8,168.8 323.1,166.3 323.4,166.0 323.6,167.6 323.9,169.9 324.2,171.1 324.5,170.4 324.8,169.1 325.1,168.4 325.3,168.9 325.6,169.8 325.9,169.6 326.2,168.0 326.5,166.7 326.7,167.1 327.0,168.4 327.3,169.2 327.6,168.9 327.9,168.3 328.1,168.2 328.4,169.0 328.7,170.0 329.0,170.7 329.3,171.2 329.6,171.5 329.8,171.5 330.1,170.7 330.4,169.5 330.7,169.0 331.0,170.0 331.2,170.9 331.5,170.3 331.8,169.0 332.1,168.9 332.4,170.7 332.6,173.1 332.9,174.0 333.2,173.0 333.5,171.8 333.8,171.3 334.0,171.2 334.3,171.0 334.6,170.3 334.9,169.2 335.2,168.6 335.5,169.2 335.7,170.6 336.0,171.5 336.3,171.2 336.6,170.1 336.9,169.7 337.1,170.5 337.4,170.6 337.7,169.1 338.0,167.8 338.3,168.3 338.5,169.8 338.8,170.9 339.1,171.5 339.4,171.7" fill="none" stroke="#0000ff" stroke-width="0.9" stroke-linejoin="round"/>
<circle cx="170.5" cy="28.0" r="1.4" fill="none" stroke="#d4d4d4" stroke-width="0.6"/>
<circle cx="343.8" cy="26.8" r="1.4" fill="none" stroke="#d4d4d4" stroke-width="0.6"/>
<g shape-rendering="crispEdges">
<rect x="24.3" y="247.25" width="10.69" height="10.62" fill="#2e7892"/>
<rect x="34.69" y="247.25" width="10.69" height="10.62" fill="#44408a"/>
<rect x="45.07" y="247.25" width="10.69" height="10.62" fill="#463c88"/>
<rect x="55.46" y="247.25" width="10.69" height="10.62" fill="#4a3183"/>
<rect x="65.84" y="247.25" width="10.69" height="10.62" fill="#4c1d76"/>
<rect x="76.23" y="247.25" width="10.69" height="10.62" fill="#4c2179"/>
<rect x="86.61" y="247.25" width="10.69" height="10.62" fill="#4c2179"/>
<rect x="97" y="247.25" width="10.69" height="10.62" fill="#4c1d76"/>
<rect x="107.39" y="247.25" width="10.69" height="10.62" fill="#44408a"/>
<rect x="117.77" y="247.25" width="10.69" height="10.62" fill="#4c2179"/>
<rect x="128.16" y="247.25" width="10.69" height="10.62" fill="#4c1872"/>
<rect x="138.54" y="247.25" width="10.69" height="10.62" fill="#4c2179"/>
<rect x="148.93" y="247.25" width="10.69" height="10.62" fill="#463c88"/>
<rect x="159.31" y="247.25" width="10.69" height="10.62" fill="#4c2179"/>
<rect x="24.3" y="257.57" width="10.69" height="10.62" fill="#473886"/>
<rect x="34.69" y="257.57" width="10.69" height="10.62" fill="#23a195"/>
<rect x="45.07" y="257.57" width="10.69" height="10.62" fill="#2c7d91"/>
<rect x="55.46" y="257.57" width="10.69" height="10.62" fill="#385992"/>
<rect x="65.84" y="257.57" width="10.69" height="10.62" fill="#4c267c"/>
<rect x="76.23" y="257.57" width="10.69" height="10.62" fill="#4b2e82"/>
<rect x="86.61" y="257.57" width="10.69" height="10.62" fill="#4b2e82"/>
<rect x="97" y="257.57" width="10.69" height="10.62" fill="#4c267c"/>
<rect x="107.39" y="257.57" width="10.69" height="10.62" fill="#463c88"/>
<rect x="117.77" y="257.57" width="10.69" height="10.62" fill="#4a3183"/>
<rect x="128.16" y="257.57" width="10.69" height="10.62" fill="#473886"/>
<rect x="138.54" y="257.57" width="10.69" height="10.62" fill="#2f7392"/>
<rect x="148.93" y="257.57" width="10.69" height="10.62" fill="#44408a"/>
<rect x="159.31" y="257.57" width="10.69" height="10.62" fill="#4b2e82"/>
<rect x="24.3" y="267.89" width="10.69" height="10.62" fill="#4a3183"/>
<rect x="34.69" y="267.89" width="10.69" height="10.62" fill="#2c7d91"/>
<rect x="45.07" y="267.89" width="10.69" height="10.62" fill="#21a896"/>
<rect x="55.46" y="267.89" width="10.69" height="10.62" fill="#2c7d91"/>
<rect x="65.84" y="267.89" width="10.69" height="10.62" fill="#4c267c"/>
<rect x="76.23" y="267.89" width="10.69" height="10.62" fill="#4b2e82"/>
<rect x="86.61" y="267.89" width="10.69" height="10.62" fill="#4b2e82"/>
<rect x="97" y="267.89" width="10.69" height="10.62" fill="#4c2a80"/>
<rect x="107.39" y="267.89" width="10.69" height="10.62" fill="#4a3183"/>
<rect x="117.77" y="267.89" width="10.69" height="10.62" fill="#44408a"/>
<rect x="128.16" y="267.89" width="10.69" height="10.62" fill="#4c2179"/>
<rect x="138.54" y="267.89" width="10.69" height="10.62" fill="#2e7892"/>
<rect x="148.93" y="267.89" width="10.69" height="10.62" fill="#4c2a80"/>
<rect x="159.31" y="267.89" width="10.69" height="10.62" fill="#4a3183"/>
<rect x="24.3" y="278.2" width="10.69" height="10.62" fill="#4b2e82"/>
<rect x="34.69" y="278.2" width="10.69" height="10.62" fill="#385992"/>
<rect x="45.07" y="278.2" width="10.69" height="10.62" fill="#2c7d91"/>
<rect x="55.46" y="278.2" width="10.69" height="10.62" fill="#21a896"/>
<rect x="65.84" y="278.2" width="10.69" height="10.62" fill="#4c267c"/>
<rect x="76.23" y="278.2" width="10.69" height="10.62" fill="#4c2a80"/>
<rect x="86.61" y="278.2" width="10.69" height="10.62" fill="#4c2a80"/>
<rect x="97" y="278.2" width="10.69" height="10.62" fill="#4c2a80"/>
<rect x="107.39" y="278.2" width="10.69" height="10.62" fill="#4c267c"/>
<rect x="117.77" y="278.2" width="10.69" height="10.62" fill="#4a3183"/>
<rect x="128.16" y="278.2" width="10.69" height="10.62" fill="#4b2e82"/>
<rect x="138.54" y="278.2" width="10.69" height="10.62" fill="#41458b"/>
<rect x="148.93" y="278.2" width="10.69" height="10.62" fill="#4c267c"/>
<rect x="159.31" y="278.2" width="10.69" height="10.62" fill="#4c2a80"/>
<rect x="24.3" y="288.52" width="10.69" height="10.62" fill="#4c1d76"/>
<rect x="34.69" y="288.52" width="10.69" height="10.62" fill="#4c2179"/>
<rect x="45.07" y="288.52" width="10.69" height="10.62" fill="#4c267c"/>
<rect x="55.46" y="288.52" width="10.69" height="10.62" fill="#4c2a80"/>
<rect x="65.84" y="288.52" width="10.69" height="10.62" fill="#21a896"/>
<rect x="76.23" y="288.52" width="10.69" height="10.62" fill="#269492"/>
<rect x="86.61" y="288.52" width="10.69" height="10.62" fill="#21a896"/>
<rect x="97" y="288.52" width="10.69" height="10.62" fill="#23a195"/>
<rect x="107.39" y="288.52" width="10.69" height="10.62" fill="#385992"/>
<rect x="117.77" y="288.52" width="10.69" height="10.62" fill="#3f498d"/>
<rect x="128.16" y="288.52" width="10.69" height="10.62" fill="#3a5290"/>
<rect x="138.54" y="288.52" width="10.69" height="10.62" fill="#3c4e8e"/>
<rect x="148.93" y="288.52" width="10.69" height="10.62" fill="#3c4e8e"/>
<rect x="159.31" y="288.52" width="10.69" height="10.62" fill="#385992"/>
<rect x="24.3" y="298.84" width="10.69" height="10.62" fill="#4c267c"/>
<rect x="34.69" y="298.84" width="10.69" height="10.62" fill="#4b2e82"/>
<rect x="45.07" y="298.84" width="10.69" height="10.62" fill="#4b2e82"/>
<rect x="55.46" y="298.84" width="10.69" height="10.62" fill="#4b2e82"/>
<rect x="65.84" y="298.84" width="10.69" height="10.62" fill="#249a94"/>
<rect x="76.23" y="298.84" width="10.69" height="10.62" fill="#20b898"/>
<rect x="86.61" y="298.84" width="10.69" height="10.62" fill="#20b898"/>
<rect x="97" y="298.84" width="10.69" height="10.62" fill="#20b898"/>
<rect x="107.39" y="298.84" width="10.69" height="10.62" fill="#356094"/>
<rect x="117.77" y="298.84" width="10.69" height="10.62" fill="#356094"/>
<rect x="128.16" y="298.84" width="10.69" height="10.62" fill="#356094"/>
<rect x="138.54" y="298.84" width="10.69" height="10.62" fill="#2f7392"/>
<rect x="148.93" y="298.84" width="10.69" height="10.62" fill="#44408a"/>
<rect x="159.31" y="298.84" width="10.69" height="10.62" fill="#2f7392"/>
<rect x="24.3" y="309.16" width="10.69" height="10.62" fill="#4c267c"/>
<rect x="34.69" y="309.16" width="10.69" height="10.62" fill="#4b2e82"/>
<rect x="45.07" y="309.16" width="10.69" height="10.62" fill="#4a3183"/>
<rect x="55.46" y="309.16" width="10.69" height="10.62" fill="#4a3183"/>
<rect x="65.84" y="309.16" width="10.69" height="10.62" fill="#20b097"/>
<rect x="76.23" y="309.16" width="10.69" height="10.62" fill="#20c09a"/>
<rect x="86.61" y="309.16" width="10.69" height="10.62" fill="#23e58c"/>
<rect x="97" y="309.16" width="10.69" height="10.62" fill="#21d898"/>
<rect x="107.39" y="309.16" width="10.69" height="10.62" fill="#356094"/>
<rect x="117.77" y="309.16" width="10.69" height="10.62" fill="#356094"/>
<rect x="128.16" y="309.16" width="10.69" height="10.62" fill="#306e92"/>
<rect x="138.54" y="309.16" width="10.69" height="10.62" fill="#306e92"/>
<rect x="148.93" y="309.16" width="10.69" height="10.62" fill="#3c4e8e"/>
<rect x="159.31" y="309.16" width="10.69" height="10.62" fill="#2f7392"/>
<rect x="24.3" y="319.48" width="10.69" height="10.62" fill="#4c1d76"/>
<rect x="34.69" y="319.48" width="10.69" height="10.62" fill="#4c267c"/>
<rect x="45.07" y="319.48" width="10.69" height="10.62" fill="#4b2e82"/>
<rect x="55.46" y="319.48" width="10.69" height="10.62" fill="#4b2e82"/>
<rect x="65.84" y="319.48" width="10.69" height="10.62" fill="#23a195"/>
<rect x="76.23" y="319.48" width="10.69" height="10.62" fill="#20b898"/>
<rect x="86.61" y="319.48" width="10.69" height="10.62" fill="#20d09e"/>
<rect x="97" y="319.48" width="10.69" height="10.62" fill="#20b097"/>
<rect x="107.39" y="319.48" width="10.69" height="10.62" fill="#3a5290"/>
<rect x="117.77" y="319.48" width="10.69" height="10.62" fill="#385992"/>
<rect x="128.16" y="319.48" width="10.69" height="10.62" fill="#356094"/>
<rect x="138.54" y="319.48" width="10.69" height="10.62" fill="#3f498d"/>
<rect x="148.93" y="319.48" width="10.69" height="10.62" fill="#3f498d"/>
<rect x="159.31" y="319.48" width="10.69" height="10.62" fill="#326a93"/>
<rect x="24.3" y="329.79" width="10.69" height="10.62" fill="#44408a"/>
<rect x="34.69" y="329.79" width="10.69" height="10.62" fill="#44408a"/>
<rect x="45.07" y="329.79" width="10.69" height="10.62" fill="#463c88"/>
<rect x="55.46" y="329.79" width="10.69" height="10.62" fill="#4a3183"/>
<rect x="65.84" y="329.79" width="10.69" height="10.62" fill="#385992"/>
<rect x="76.23" y="329.79" width="10.69" height="10.62" fill="#385992"/>
<rect x="86.61" y="329.79" width="10.69" height="10.62" fill="#385992"/>
<rect x="97" y="329.79" width="10.69" height="10.62" fill="#385992"/>
<rect x="107.39" y="329.79" width="10.69" height="10.62" fill="#25eb86"/>
<rect x="117.77" y="329.79" width="10.69" height="10.62" fill="#4b2e82"/>
<rect x="128.16" y="329.79" width="10.69" height="10.62" fill="#4a3183"/>
<rect x="138.54" y="329.79" width="10.69" height="10.62" fill="#4c1d76"/>
<rect x="148.93" y="329.79" width="10.69" height="10.62" fill="#2e7892"/>
<rect x="159.31" y="329.79" width="10.69" height="10.62" fill="#4c2a80"/>
<rect x="24.3" y="340.11" width="10.69" height="10.62" fill="#4c267c"/>
<rect x="34.69" y="340.11" width="10.69" height="10.62" fill="#4a3183"/>
<rect x="45.07" y="340.11" width="10.69" height="10.62" fill="#41458b"/>
<rect x="55.46" y="340.11" width="10.69" height="10.62" fill="#483585"/>
<rect x="65.84" y="340.11" width="10.69" height="10.62" fill="#3f498d"/>
<rect x="76.23" y="340.11" width="10.69" height="10.62" fill="#385992"/>
<rect x="86.61" y="340.11" width="10.69" height="10.62" fill="#385992"/>
<rect x="97" y="340.11" width="10.69" height="10.62" fill="#385992"/>
<rect x="107.39" y="340.11" width="10.69" height="10.62" fill="#4b2e82"/>
<rect x="117.77" y="340.11" width="10.69" height="10.62" fill="#20d09e"/>
<rect x="128.16" y="340.11" width="10.69" height="10.62" fill="#4c2a80"/>
<rect x="138.54" y="340.11" width="10.69" height="10.62" fill="#4a3183"/>
<rect x="148.93" y="340.11" width="10.69" height="10.62" fill="#483585"/>
<rect x="159.31" y="340.11" width="10.69" height="10.62" fill="#3f498d"/>
<rect x="24.3" y="350.43" width="10.69" height="10.62" fill="#4c1d76"/>
<rect x="34.69" y="350.43" width="10.69" height="10.62" fill="#483585"/>
<rect x="45.07" y="350.43" width="10.69" height="10.62" fill="#4c2179"/>
<rect x="55.46" y="350.43" width="10.69" height="10.62" fill="#4b2e82"/>
<rect x="65.84" y="350.43" width="10.69" height="10.62" fill="#3a5290"/>
<rect x="76.23" y="350.43" width="10.69" height="10.62" fill="#385992"/>
<rect x="86.61" y="350.43" width="10.69" height="10.62" fill="#326a93"/>
<rect x="97" y="350.43" width="10.69" height="10.62" fill="#356094"/>
<rect x="107.39" y="350.43" width="10.69" height="10.62" fill="#4b2e82"/>
<rect x="117.77" y="350.43" width="10.69" height="10.62" fill="#4c2a80"/>
<rect x="128.16" y="350.43" width="10.69" height="10.62" fill="#22e092"/>
<rect x="138.54" y="350.43" width="10.69" height="10.62" fill="#483585"/>
<rect x="148.93" y="350.43" width="10.69" height="10.62" fill="#3f498d"/>
<rect x="159.31" y="350.43" width="10.69" height="10.62" fill="#483585"/>
<rect x="24.3" y="360.75" width="10.69" height="10.62" fill="#4c267c"/>
<rect x="34.69" y="360.75" width="10.69" height="10.62" fill="#356094"/>
<rect x="45.07" y="360.75" width="10.69" height="10.62" fill="#326a93"/>
<rect x="55.46" y="360.75" width="10.69" height="10.62" fill="#41458b"/>
<rect x="65.84" y="360.75" width="10.69" height="10.62" fill="#3f498d"/>
<rect x="76.23" y="360.75" width="10.69" height="10.62" fill="#326a93"/>
<rect x="86.61" y="360.75" width="10.69" height="10.62" fill="#326a93"/>
<rect x="97" y="360.75" width="10.69" height="10.62" fill="#3a5290"/>
<rect x="107.39" y="360.75" width="10.69" height="10.62" fill="#4c1d76"/>
<rect x="117.77" y="360.75" width="10.69" height="10.62" fill="#483585"/>
<rect x="128.16" y="360.75" width="10.69" height="10.62" fill="#463c88"/>
<rect x="138.54" y="360.75" width="10.69" height="10.62" fill="#22e092"/>
<rect x="148.93" y="360.75" width="10.69" height="10.62" fill="#4c2a80"/>
<rect x="159.31" y="360.75" width="10.69" height="10.62" fill="#356094"/>
<rect x="24.3" y="371.06" width="10.69" height="10.62" fill="#463c88"/>
<rect x="34.69" y="371.06" width="10.69" height="10.62" fill="#463c88"/>
<rect x="45.07" y="371.06" width="10.69" height="10.62" fill="#4a3183"/>
<rect x="55.46" y="371.06" width="10.69" height="10.62" fill="#4c2a80"/>
<rect x="65.84" y="371.06" width="10.69" height="10.62" fill="#385992"/>
<rect x="76.23" y="371.06" width="10.69" height="10.62" fill="#41458b"/>
<rect x="86.61" y="371.06" width="10.69" height="10.62" fill="#3a5290"/>
<rect x="97" y="371.06" width="10.69" height="10.62" fill="#3a5290"/>
<rect x="107.39" y="371.06" width="10.69" height="10.62" fill="#306e92"/>
<rect x="117.77" y="371.06" width="10.69" height="10.62" fill="#463c88"/>
<rect x="128.16" y="371.06" width="10.69" height="10.62" fill="#3f498d"/>
<rect x="138.54" y="371.06" width="10.69" height="10.62" fill="#4b2e82"/>
<rect x="148.93" y="371.06" width="10.69" height="10.62" fill="#20b898"/>
<rect x="159.31" y="371.06" width="10.69" height="10.62" fill="#463c88"/>
<rect x="24.3" y="381.38" width="10.69" height="10.62" fill="#4c2179"/>
<rect x="34.69" y="381.38" width="10.69" height="10.62" fill="#4a3183"/>
<rect x="45.07" y="381.38" width="10.69" height="10.62" fill="#483585"/>
<rect x="55.46" y="381.38" width="10.69" height="10.62" fill="#463c88"/>
<rect x="65.84" y="381.38" width="10.69" height="10.62" fill="#356094"/>
<rect x="76.23" y="381.38" width="10.69" height="10.62" fill="#306e92"/>
<rect x="86.61" y="381.38" width="10.69" height="10.62" fill="#306e92"/>
<rect x="97" y="381.38" width="10.69" height="10.62" fill="#326a93"/>
<rect x="107.39" y="381.38" width="10.69" height="10.62" fill="#4b2e82"/>
<rect x="117.77" y="381.38" width="10.69" height="10.62" fill="#385992"/>
<rect x="128.16" y="381.38" width="10.69" height="10.62" fill="#463c88"/>
<rect x="138.54" y="381.38" width="10.69" height="10.62" fill="#356094"/>
<rect x="148.93" y="381.38" width="10.69" height="10.62" fill="#483585"/>
<rect x="159.31" y="381.38" width="10.69" height="10.62" fill="#20b898"/>
</g>
<rect x="24.3" y="247.25" width="145.4" height="144.45" fill="none" stroke="#111" stroke-width="0.8"/>
<line x1="22.3" y1="252.41" x2="24.3" y2="252.41" stroke="#222" stroke-width="0.7"/>
<text x="18.9" y="255.01" font-size="6.9" text-anchor="end" fill="#111"  textLength="8.24" lengthAdjust="spacingAndGlyphs">L1</text>
<line x1="22.3" y1="262.73" x2="24.3" y2="262.73" stroke="#222" stroke-width="0.7"/>
<text x="18.9" y="265.33" font-size="6.9" text-anchor="end" fill="#111"  textLength="8.24" lengthAdjust="spacingAndGlyphs">L2</text>
<line x1="22.3" y1="273.04" x2="24.3" y2="273.04" stroke="#222" stroke-width="0.7"/>
<text x="18.9" y="275.64" font-size="6.9" text-anchor="end" fill="#111"  textLength="8.24" lengthAdjust="spacingAndGlyphs">L3</text>
<line x1="22.3" y1="283.36" x2="24.3" y2="283.36" stroke="#222" stroke-width="0.7"/>
<text x="18.9" y="285.96" font-size="6.9" text-anchor="end" fill="#111"  textLength="8.24" lengthAdjust="spacingAndGlyphs">L4</text>
<line x1="22.3" y1="293.68" x2="24.3" y2="293.68" stroke="#222" stroke-width="0.7"/>
<text x="18.9" y="296.28" font-size="6.9" text-anchor="end" fill="#111"  textLength="9.19" lengthAdjust="spacingAndGlyphs">R1</text>
<line x1="22.3" y1="304" x2="24.3" y2="304" stroke="#222" stroke-width="0.7"/>
<text x="18.9" y="306.6" font-size="6.9" text-anchor="end" fill="#111"  textLength="9.19" lengthAdjust="spacingAndGlyphs">R2</text>
<line x1="22.3" y1="314.32" x2="24.3" y2="314.32" stroke="#222" stroke-width="0.7"/>
<text x="18.9" y="316.92" font-size="6.9" text-anchor="end" fill="#111"  textLength="9.19" lengthAdjust="spacingAndGlyphs">R3</text>
<line x1="22.3" y1="324.63" x2="24.3" y2="324.63" stroke="#222" stroke-width="0.7"/>
<text x="18.9" y="327.23" font-size="6.9" text-anchor="end" fill="#111"  textLength="9.19" lengthAdjust="spacingAndGlyphs">R4</text>
<line x1="22.3" y1="334.95" x2="24.3" y2="334.95" stroke="#222" stroke-width="0.7"/>
<text x="18.9" y="337.55" font-size="6.9" text-anchor="end" fill="#111"  textLength="8.36" lengthAdjust="spacingAndGlyphs">F3</text>
<line x1="22.3" y1="345.27" x2="24.3" y2="345.27" stroke="#222" stroke-width="0.7"/>
<text x="18.9" y="347.87" font-size="6.9" text-anchor="end" fill="#111"  textLength="9.21" lengthAdjust="spacingAndGlyphs">C3</text>
<line x1="22.3" y1="355.59" x2="24.3" y2="355.59" stroke="#222" stroke-width="0.7"/>
<text x="18.9" y="358.19" font-size="6.9" text-anchor="end" fill="#111"  textLength="8.36" lengthAdjust="spacingAndGlyphs">F4</text>
<line x1="22.3" y1="365.91" x2="24.3" y2="365.91" stroke="#222" stroke-width="0.7"/>
<text x="18.9" y="368.51" font-size="6.9" text-anchor="end" fill="#111"  textLength="9.21" lengthAdjust="spacingAndGlyphs">C4</text>
<line x1="22.3" y1="376.22" x2="24.3" y2="376.22" stroke="#222" stroke-width="0.7"/>
<text x="18.9" y="378.82" font-size="6.9" text-anchor="end" fill="#111"  textLength="7.58" lengthAdjust="spacingAndGlyphs">Fz</text>
<line x1="22.3" y1="386.54" x2="24.3" y2="386.54" stroke="#222" stroke-width="0.7"/>
<text x="18.9" y="389.14" font-size="6.9" text-anchor="end" fill="#111"  textLength="8.44" lengthAdjust="spacingAndGlyphs">Cz</text>
<line x1="29.49" y1="391.7" x2="29.49" y2="394.3" stroke="#222" stroke-width="0.7"/>
<text transform="translate(31.89,399.4) rotate(-90)" font-size="7.4" text-anchor="end" fill="#000" textLength="8.00" lengthAdjust="spacingAndGlyphs">L1</text>
<line x1="39.88" y1="391.7" x2="39.88" y2="394.3" stroke="#222" stroke-width="0.7"/>
<text transform="translate(42.28,399.4) rotate(-90)" font-size="7.4" text-anchor="end" fill="#000" textLength="8.00" lengthAdjust="spacingAndGlyphs">L2</text>
<line x1="50.26" y1="391.7" x2="50.26" y2="394.3" stroke="#222" stroke-width="0.7"/>
<text transform="translate(52.66,399.4) rotate(-90)" font-size="7.4" text-anchor="end" fill="#000" textLength="8.00" lengthAdjust="spacingAndGlyphs">L3</text>
<line x1="60.65" y1="391.7" x2="60.65" y2="394.3" stroke="#222" stroke-width="0.7"/>
<text transform="translate(63.05,399.4) rotate(-90)" font-size="7.4" text-anchor="end" fill="#000" textLength="8.00" lengthAdjust="spacingAndGlyphs">L4</text>
<line x1="71.04" y1="391.7" x2="71.04" y2="394.3" stroke="#222" stroke-width="0.7"/>
<text transform="translate(73.44,399.4) rotate(-90)" font-size="7.4" text-anchor="end" fill="#000" textLength="8.92" lengthAdjust="spacingAndGlyphs">R1</text>
<line x1="81.42" y1="391.7" x2="81.42" y2="394.3" stroke="#222" stroke-width="0.7"/>
<text transform="translate(83.82,399.4) rotate(-90)" font-size="7.4" text-anchor="end" fill="#000" textLength="8.92" lengthAdjust="spacingAndGlyphs">R2</text>
<line x1="91.81" y1="391.7" x2="91.81" y2="394.3" stroke="#222" stroke-width="0.7"/>
<text transform="translate(94.21,399.4) rotate(-90)" font-size="7.4" text-anchor="end" fill="#000" textLength="8.92" lengthAdjust="spacingAndGlyphs">R3</text>
<line x1="102.19" y1="391.7" x2="102.19" y2="394.3" stroke="#222" stroke-width="0.7"/>
<text transform="translate(104.59,399.4) rotate(-90)" font-size="7.4" text-anchor="end" fill="#000" textLength="8.92" lengthAdjust="spacingAndGlyphs">R4</text>
<line x1="112.58" y1="391.7" x2="112.58" y2="394.3" stroke="#222" stroke-width="0.7"/>
<text transform="translate(114.98,399.4) rotate(-90)" font-size="7.4" text-anchor="end" fill="#000" textLength="8.12" lengthAdjust="spacingAndGlyphs">F3</text>
<line x1="122.96" y1="391.7" x2="122.96" y2="394.3" stroke="#222" stroke-width="0.7"/>
<text transform="translate(125.36,399.4) rotate(-90)" font-size="7.4" text-anchor="end" fill="#000" textLength="8.94" lengthAdjust="spacingAndGlyphs">C3</text>
<line x1="133.35" y1="391.7" x2="133.35" y2="394.3" stroke="#222" stroke-width="0.7"/>
<text transform="translate(135.75,399.4) rotate(-90)" font-size="7.4" text-anchor="end" fill="#000" textLength="8.12" lengthAdjust="spacingAndGlyphs">F4</text>
<line x1="143.74" y1="391.7" x2="143.74" y2="394.3" stroke="#222" stroke-width="0.7"/>
<text transform="translate(146.14,399.4) rotate(-90)" font-size="7.4" text-anchor="end" fill="#000" textLength="8.94" lengthAdjust="spacingAndGlyphs">C4</text>
<line x1="154.12" y1="391.7" x2="154.12" y2="394.3" stroke="#222" stroke-width="0.7"/>
<text transform="translate(156.52,399.4) rotate(-90)" font-size="7.4" text-anchor="end" fill="#000" textLength="7.36" lengthAdjust="spacingAndGlyphs">Fz</text>
<line x1="164.51" y1="391.7" x2="164.51" y2="394.3" stroke="#222" stroke-width="0.7"/>
<text transform="translate(166.91,399.4) rotate(-90)" font-size="7.4" text-anchor="end" fill="#000" textLength="8.19" lengthAdjust="spacingAndGlyphs">Cz</text>
<text x="97" y="242.6" font-size="10.4" text-anchor="middle" fill="#111" textLength="46.5" lengthAdjust="spacingAndGlyphs">ATM - OFF</text>
<text x="97" y="415.7" font-size="7.9" text-anchor="middle" fill="#222"  textLength="54.00" lengthAdjust="spacingAndGlyphs">EEG channels</text>
<g shape-rendering="crispEdges">
<rect x="195.3" y="247.9" width="10.63" height="10.59" fill="#20c49b"/>
<rect x="205.63" y="247.9" width="10.63" height="10.59" fill="#20b097"/>
<rect x="215.96" y="247.9" width="10.63" height="10.59" fill="#20b097"/>
<rect x="226.29" y="247.9" width="10.63" height="10.59" fill="#20b097"/>
<rect x="236.61" y="247.9" width="10.63" height="10.59" fill="#3a5290"/>
<rect x="246.94" y="247.9" width="10.63" height="10.59" fill="#385992"/>
<rect x="257.27" y="247.9" width="10.63" height="10.59" fill="#2c7d91"/>
<rect x="267.6" y="247.9" width="10.63" height="10.59" fill="#2c7d91"/>
<rect x="277.93" y="247.9" width="10.63" height="10.59" fill="#2f7392"/>
<rect x="288.26" y="247.9" width="10.63" height="10.59" fill="#239e94"/>
<rect x="298.59" y="247.9" width="10.63" height="10.59" fill="#356094"/>
<rect x="308.91" y="247.9" width="10.63" height="10.59" fill="#298690"/>
<rect x="319.24" y="247.9" width="10.63" height="10.59" fill="#288991"/>
<rect x="329.57" y="247.9" width="10.63" height="10.59" fill="#279092"/>
<rect x="195.3" y="258.19" width="10.63" height="10.59" fill="#20b097"/>
<rect x="205.63" y="258.19" width="10.63" height="10.59" fill="#23e58c"/>
<rect x="215.96" y="258.19" width="10.63" height="10.59" fill="#20b898"/>
<rect x="226.29" y="258.19" width="10.63" height="10.59" fill="#20b498"/>
<rect x="236.61" y="258.19" width="10.63" height="10.59" fill="#3a5290"/>
<rect x="246.94" y="258.19" width="10.63" height="10.59" fill="#326a93"/>
<rect x="257.27" y="258.19" width="10.63" height="10.59" fill="#2c7d91"/>
<rect x="267.6" y="258.19" width="10.63" height="10.59" fill="#2c7d91"/>
<rect x="277.93" y="258.19" width="10.63" height="10.59" fill="#2f7392"/>
<rect x="288.26" y="258.19" width="10.63" height="10.59" fill="#239e94"/>
<rect x="298.59" y="258.19" width="10.63" height="10.59" fill="#385992"/>
<rect x="308.91" y="258.19" width="10.63" height="10.59" fill="#288991"/>
<rect x="319.24" y="258.19" width="10.63" height="10.59" fill="#2f7392"/>
<rect x="329.57" y="258.19" width="10.63" height="10.59" fill="#279092"/>
<rect x="195.3" y="268.49" width="10.63" height="10.59" fill="#20b097"/>
<rect x="205.63" y="268.49" width="10.63" height="10.59" fill="#20b898"/>
<rect x="215.96" y="268.49" width="10.63" height="10.59" fill="#20d49b"/>
<rect x="226.29" y="268.49" width="10.63" height="10.59" fill="#20b898"/>
<rect x="236.61" y="268.49" width="10.63" height="10.59" fill="#3a5290"/>
<rect x="246.94" y="268.49" width="10.63" height="10.59" fill="#3a5290"/>
<rect x="257.27" y="268.49" width="10.63" height="10.59" fill="#2c7d91"/>
<rect x="267.6" y="268.49" width="10.63" height="10.59" fill="#2f7392"/>
<rect x="277.93" y="268.49" width="10.63" height="10.59" fill="#2f7392"/>
<rect x="288.26" y="268.49" width="10.63" height="10.59" fill="#259793"/>
<rect x="298.59" y="268.49" width="10.63" height="10.59" fill="#385992"/>
<rect x="308.91" y="268.49" width="10.63" height="10.59" fill="#2f7392"/>
<rect x="319.24" y="268.49" width="10.63" height="10.59" fill="#2f7392"/>
<rect x="329.57" y="268.49" width="10.63" height="10.59" fill="#279092"/>
<rect x="195.3" y="278.78" width="10.63" height="10.59" fill="#20b097"/>
<rect x="205.63" y="278.78" width="10.63" height="10.59" fill="#20b097"/>
<rect x="215.96" y="278.78" width="10.63" height="10.59" fill="#20b898"/>
<rect x="226.29" y="278.78" width="10.63" height="10.59" fill="#20cc9d"/>
<rect x="236.61" y="278.78" width="10.63" height="10.59" fill="#3c4e8e"/>
<rect x="246.94" y="278.78" width="10.63" height="10.59" fill="#3c4e8e"/>
<rect x="257.27" y="278.78" width="10.63" height="10.59" fill="#2f7392"/>
<rect x="267.6" y="278.78" width="10.63" height="10.59" fill="#326a93"/>
<rect x="277.93" y="278.78" width="10.63" height="10.59" fill="#2f7392"/>
<rect x="288.26" y="278.78" width="10.63" height="10.59" fill="#259793"/>
<rect x="298.59" y="278.78" width="10.63" height="10.59" fill="#385992"/>
<rect x="308.91" y="278.78" width="10.63" height="10.59" fill="#356094"/>
<rect x="319.24" y="278.78" width="10.63" height="10.59" fill="#2f7392"/>
<rect x="329.57" y="278.78" width="10.63" height="10.59" fill="#298690"/>
<rect x="195.3" y="289.07" width="10.63" height="10.59" fill="#3c4e8e"/>
<rect x="205.63" y="289.07" width="10.63" height="10.59" fill="#3c4e8e"/>
<rect x="215.96" y="289.07" width="10.63" height="10.59" fill="#3a5290"/>
<rect x="226.29" y="289.07" width="10.63" height="10.59" fill="#3a5290"/>
<rect x="236.61" y="289.07" width="10.63" height="10.59" fill="#26f080"/>
<rect x="246.94" y="289.07" width="10.63" height="10.59" fill="#20d49b"/>
<rect x="257.27" y="289.07" width="10.63" height="10.59" fill="#20c49b"/>
<rect x="267.6" y="289.07" width="10.63" height="10.59" fill="#20b097"/>
<rect x="277.93" y="289.07" width="10.63" height="10.59" fill="#298690"/>
<rect x="288.26" y="289.07" width="10.63" height="10.59" fill="#2c7d91"/>
<rect x="298.59" y="289.07" width="10.63" height="10.59" fill="#298690"/>
<rect x="308.91" y="289.07" width="10.63" height="10.59" fill="#278d91"/>
<rect x="319.24" y="289.07" width="10.63" height="10.59" fill="#278d91"/>
<rect x="329.57" y="289.07" width="10.63" height="10.59" fill="#249a94"/>
<rect x="195.3" y="299.36" width="10.63" height="10.59" fill="#356094"/>
<rect x="205.63" y="299.36" width="10.63" height="10.59" fill="#326a93"/>
<rect x="215.96" y="299.36" width="10.63" height="10.59" fill="#356094"/>
<rect x="226.29" y="299.36" width="10.63" height="10.59" fill="#3a5290"/>
<rect x="236.61" y="299.36" width="10.63" height="10.59" fill="#20cc9d"/>
<rect x="246.94" y="299.36" width="10.63" height="10.59" fill="#26f080"/>
<rect x="257.27" y="299.36" width="10.63" height="10.59" fill="#20c49b"/>
<rect x="267.6" y="299.36" width="10.63" height="10.59" fill="#20b898"/>
<rect x="277.93" y="299.36" width="10.63" height="10.59" fill="#326a93"/>
<rect x="288.26" y="299.36" width="10.63" height="10.59" fill="#278d91"/>
<rect x="298.59" y="299.36" width="10.63" height="10.59" fill="#278d91"/>
<rect x="308.91" y="299.36" width="10.63" height="10.59" fill="#249a94"/>
<rect x="319.24" y="299.36" width="10.63" height="10.59" fill="#298690"/>
<rect x="329.57" y="299.36" width="10.63" height="10.59" fill="#20b097"/>
<rect x="195.3" y="309.66" width="10.63" height="10.59" fill="#298690"/>
<rect x="205.63" y="309.66" width="10.63" height="10.59" fill="#288991"/>
<rect x="215.96" y="309.66" width="10.63" height="10.59" fill="#298690"/>
<rect x="226.29" y="309.66" width="10.63" height="10.59" fill="#2c7d91"/>
<rect x="236.61" y="309.66" width="10.63" height="10.59" fill="#20bc99"/>
<rect x="246.94" y="309.66" width="10.63" height="10.59" fill="#20bc99"/>
<rect x="257.27" y="309.66" width="10.63" height="10.59" fill="#84ee32"/>
<rect x="267.6" y="309.66" width="10.63" height="10.59" fill="#26f080"/>
<rect x="277.93" y="309.66" width="10.63" height="10.59" fill="#278d91"/>
<rect x="288.26" y="309.66" width="10.63" height="10.59" fill="#278d91"/>
<rect x="298.59" y="309.66" width="10.63" height="10.59" fill="#278d91"/>
<rect x="308.91" y="309.66" width="10.63" height="10.59" fill="#239e94"/>
<rect x="319.24" y="309.66" width="10.63" height="10.59" fill="#278d91"/>
<rect x="329.57" y="309.66" width="10.63" height="10.59" fill="#239e94"/>
<rect x="195.3" y="319.95" width="10.63" height="10.59" fill="#2c7d91"/>
<rect x="205.63" y="319.95" width="10.63" height="10.59" fill="#2c7d91"/>
<rect x="215.96" y="319.95" width="10.63" height="10.59" fill="#2c7d91"/>
<rect x="226.29" y="319.95" width="10.63" height="10.59" fill="#2f7392"/>
<rect x="236.61" y="319.95" width="10.63" height="10.59" fill="#20b498"/>
<rect x="246.94" y="319.95" width="10.63" height="10.59" fill="#20b498"/>
<rect x="257.27" y="319.95" width="10.63" height="10.59" fill="#26f080"/>
<rect x="267.6" y="319.95" width="10.63" height="10.59" fill="#59ef47"/>
<rect x="277.93" y="319.95" width="10.63" height="10.59" fill="#298690"/>
<rect x="288.26" y="319.95" width="10.63" height="10.59" fill="#279092"/>
<rect x="298.59" y="319.95" width="10.63" height="10.59" fill="#2c7d91"/>
<rect x="308.91" y="319.95" width="10.63" height="10.59" fill="#259793"/>
<rect x="319.24" y="319.95" width="10.63" height="10.59" fill="#288991"/>
<rect x="329.57" y="319.95" width="10.63" height="10.59" fill="#259793"/>
<rect x="195.3" y="330.24" width="10.63" height="10.59" fill="#2f7392"/>
<rect x="205.63" y="330.24" width="10.63" height="10.59" fill="#2e7892"/>
<rect x="215.96" y="330.24" width="10.63" height="10.59" fill="#2e7892"/>
<rect x="226.29" y="330.24" width="10.63" height="10.59" fill="#2e7892"/>
<rect x="236.61" y="330.24" width="10.63" height="10.59" fill="#2a8190"/>
<rect x="246.94" y="330.24" width="10.63" height="10.59" fill="#326a93"/>
<rect x="257.27" y="330.24" width="10.63" height="10.59" fill="#2a8190"/>
<rect x="267.6" y="330.24" width="10.63" height="10.59" fill="#2c7d91"/>
<rect x="277.93" y="330.24" width="10.63" height="10.59" fill="#23e58c"/>
<rect x="288.26" y="330.24" width="10.63" height="10.59" fill="#259793"/>
<rect x="298.59" y="330.24" width="10.63" height="10.59" fill="#3a5290"/>
<rect x="308.91" y="330.24" width="10.63" height="10.59" fill="#3a5290"/>
<rect x="319.24" y="330.24" width="10.63" height="10.59" fill="#259793"/>
<rect x="329.57" y="330.24" width="10.63" height="10.59" fill="#2c7d91"/>
<rect x="195.3" y="340.54" width="10.63" height="10.59" fill="#278d91"/>
<rect x="205.63" y="340.54" width="10.63" height="10.59" fill="#269492"/>
<rect x="215.96" y="340.54" width="10.63" height="10.59" fill="#269492"/>
<rect x="226.29" y="340.54" width="10.63" height="10.59" fill="#278d91"/>
<rect x="236.61" y="340.54" width="10.63" height="10.59" fill="#2c7d91"/>
<rect x="246.94" y="340.54" width="10.63" height="10.59" fill="#288991"/>
<rect x="257.27" y="340.54" width="10.63" height="10.59" fill="#288991"/>
<rect x="267.6" y="340.54" width="10.63" height="10.59" fill="#279092"/>
<rect x="277.93" y="340.54" width="10.63" height="10.59" fill="#279092"/>
<rect x="288.26" y="340.54" width="10.63" height="10.59" fill="#d9ec30"/>
<rect x="298.59" y="340.54" width="10.63" height="10.59" fill="#326a93"/>
<rect x="308.91" y="340.54" width="10.63" height="10.59" fill="#288991"/>
<rect x="319.24" y="340.54" width="10.63" height="10.59" fill="#288991"/>
<rect x="329.57" y="340.54" width="10.63" height="10.59" fill="#22a595"/>
<rect x="195.3" y="350.83" width="10.63" height="10.59" fill="#356094"/>
<rect x="205.63" y="350.83" width="10.63" height="10.59" fill="#385992"/>
<rect x="215.96" y="350.83" width="10.63" height="10.59" fill="#3a5290"/>
<rect x="226.29" y="350.83" width="10.63" height="10.59" fill="#385992"/>
<rect x="236.61" y="350.83" width="10.63" height="10.59" fill="#2a8190"/>
<rect x="246.94" y="350.83" width="10.63" height="10.59" fill="#2a8190"/>
<rect x="257.27" y="350.83" width="10.63" height="10.59" fill="#288991"/>
<rect x="267.6" y="350.83" width="10.63" height="10.59" fill="#326a93"/>
<rect x="277.93" y="350.83" width="10.63" height="10.59" fill="#3c4e8e"/>
<rect x="288.26" y="350.83" width="10.63" height="10.59" fill="#326a93"/>
<rect x="298.59" y="350.83" width="10.63" height="10.59" fill="#20d09e"/>
<rect x="308.91" y="350.83" width="10.63" height="10.59" fill="#3a5290"/>
<rect x="319.24" y="350.83" width="10.63" height="10.59" fill="#288991"/>
<rect x="329.57" y="350.83" width="10.63" height="10.59" fill="#2c7d91"/>
<rect x="195.3" y="361.12" width="10.63" height="10.59" fill="#2a8190"/>
<rect x="205.63" y="361.12" width="10.63" height="10.59" fill="#2a8190"/>
<rect x="215.96" y="361.12" width="10.63" height="10.59" fill="#2f7392"/>
<rect x="226.29" y="361.12" width="10.63" height="10.59" fill="#326a93"/>
<rect x="236.61" y="361.12" width="10.63" height="10.59" fill="#278d91"/>
<rect x="246.94" y="361.12" width="10.63" height="10.59" fill="#278d91"/>
<rect x="257.27" y="361.12" width="10.63" height="10.59" fill="#269492"/>
<rect x="267.6" y="361.12" width="10.63" height="10.59" fill="#279092"/>
<rect x="277.93" y="361.12" width="10.63" height="10.59" fill="#3c4e8e"/>
<rect x="288.26" y="361.12" width="10.63" height="10.59" fill="#298690"/>
<rect x="298.59" y="361.12" width="10.63" height="10.59" fill="#3a5290"/>
<rect x="308.91" y="361.12" width="10.63" height="10.59" fill="#e5ee30"/>
<rect x="319.24" y="361.12" width="10.63" height="10.59" fill="#326a93"/>
<rect x="329.57" y="361.12" width="10.63" height="10.59" fill="#22a595"/>
<rect x="195.3" y="371.41" width="10.63" height="10.59" fill="#278d91"/>
<rect x="205.63" y="371.41" width="10.63" height="10.59" fill="#2e7892"/>
<rect x="215.96" y="371.41" width="10.63" height="10.59" fill="#2e7892"/>
<rect x="226.29" y="371.41" width="10.63" height="10.59" fill="#2e7892"/>
<rect x="236.61" y="371.41" width="10.63" height="10.59" fill="#288991"/>
<rect x="246.94" y="371.41" width="10.63" height="10.59" fill="#2e7892"/>
<rect x="257.27" y="371.41" width="10.63" height="10.59" fill="#288991"/>
<rect x="267.6" y="371.41" width="10.63" height="10.59" fill="#298690"/>
<rect x="277.93" y="371.41" width="10.63" height="10.59" fill="#259793"/>
<rect x="288.26" y="371.41" width="10.63" height="10.59" fill="#288991"/>
<rect x="298.59" y="371.41" width="10.63" height="10.59" fill="#288991"/>
<rect x="308.91" y="371.41" width="10.63" height="10.59" fill="#326a93"/>
<rect x="319.24" y="371.41" width="10.63" height="10.59" fill="#20d49b"/>
<rect x="329.57" y="371.41" width="10.63" height="10.59" fill="#279092"/>
<rect x="195.3" y="381.71" width="10.63" height="10.59" fill="#278d91"/>
<rect x="205.63" y="381.71" width="10.63" height="10.59" fill="#288991"/>
<rect x="215.96" y="381.71" width="10.63" height="10.59" fill="#278d91"/>
<rect x="226.29" y="381.71" width="10.63" height="10.59" fill="#298690"/>
<rect x="236.61" y="381.71" width="10.63" height="10.59" fill="#269492"/>
<rect x="246.94" y="381.71" width="10.63" height="10.59" fill="#23a195"/>
<rect x="257.27" y="381.71" width="10.63" height="10.59" fill="#23a195"/>
<rect x="267.6" y="381.71" width="10.63" height="10.59" fill="#239e94"/>
<rect x="277.93" y="381.71" width="10.63" height="10.59" fill="#2c7d91"/>
<rect x="288.26" y="381.71" width="10.63" height="10.59" fill="#23a195"/>
<rect x="298.59" y="381.71" width="10.63" height="10.59" fill="#2c7d91"/>
<rect x="308.91" y="381.71" width="10.63" height="10.59" fill="#20b097"/>
<rect x="319.24" y="381.71" width="10.63" height="10.59" fill="#278d91"/>
<rect x="329.57" y="381.71" width="10.63" height="10.59" fill="#84ee32"/>
</g>
<rect x="195.3" y="247.9" width="144.6" height="144.1" fill="none" stroke="#111" stroke-width="0.8"/>
<line x1="193.3" y1="253.05" x2="195.3" y2="253.05" stroke="#222" stroke-width="0.7"/>
<text x="189.9" y="255.65" font-size="6.9" text-anchor="end" fill="#111"  textLength="8.24" lengthAdjust="spacingAndGlyphs">L1</text>
<line x1="193.3" y1="263.34" x2="195.3" y2="263.34" stroke="#222" stroke-width="0.7"/>
<text x="189.9" y="265.94" font-size="6.9" text-anchor="end" fill="#111"  textLength="8.24" lengthAdjust="spacingAndGlyphs">L2</text>
<line x1="193.3" y1="273.63" x2="195.3" y2="273.63" stroke="#222" stroke-width="0.7"/>
<text x="189.9" y="276.23" font-size="6.9" text-anchor="end" fill="#111"  textLength="8.24" lengthAdjust="spacingAndGlyphs">L3</text>
<line x1="193.3" y1="283.93" x2="195.3" y2="283.93" stroke="#222" stroke-width="0.7"/>
<text x="189.9" y="286.53" font-size="6.9" text-anchor="end" fill="#111"  textLength="8.24" lengthAdjust="spacingAndGlyphs">L4</text>
<line x1="193.3" y1="294.22" x2="195.3" y2="294.22" stroke="#222" stroke-width="0.7"/>
<text x="189.9" y="296.82" font-size="6.9" text-anchor="end" fill="#111"  textLength="9.19" lengthAdjust="spacingAndGlyphs">R1</text>
<line x1="193.3" y1="304.51" x2="195.3" y2="304.51" stroke="#222" stroke-width="0.7"/>
<text x="189.9" y="307.11" font-size="6.9" text-anchor="end" fill="#111"  textLength="9.19" lengthAdjust="spacingAndGlyphs">R2</text>
<line x1="193.3" y1="314.8" x2="195.3" y2="314.8" stroke="#222" stroke-width="0.7"/>
<text x="189.9" y="317.4" font-size="6.9" text-anchor="end" fill="#111"  textLength="9.19" lengthAdjust="spacingAndGlyphs">R3</text>
<line x1="193.3" y1="325.1" x2="195.3" y2="325.1" stroke="#222" stroke-width="0.7"/>
<text x="189.9" y="327.7" font-size="6.9" text-anchor="end" fill="#111"  textLength="9.19" lengthAdjust="spacingAndGlyphs">R4</text>
<line x1="193.3" y1="335.39" x2="195.3" y2="335.39" stroke="#222" stroke-width="0.7"/>
<text x="189.9" y="337.99" font-size="6.9" text-anchor="end" fill="#111"  textLength="8.36" lengthAdjust="spacingAndGlyphs">F3</text>
<line x1="193.3" y1="345.68" x2="195.3" y2="345.68" stroke="#222" stroke-width="0.7"/>
<text x="189.9" y="348.28" font-size="6.9" text-anchor="end" fill="#111"  textLength="9.21" lengthAdjust="spacingAndGlyphs">C3</text>
<line x1="193.3" y1="355.98" x2="195.3" y2="355.98" stroke="#222" stroke-width="0.7"/>
<text x="189.9" y="358.58" font-size="6.9" text-anchor="end" fill="#111"  textLength="8.36" lengthAdjust="spacingAndGlyphs">F4</text>
<line x1="193.3" y1="366.27" x2="195.3" y2="366.27" stroke="#222" stroke-width="0.7"/>
<text x="189.9" y="368.87" font-size="6.9" text-anchor="end" fill="#111"  textLength="9.21" lengthAdjust="spacingAndGlyphs">C4</text>
<line x1="193.3" y1="376.56" x2="195.3" y2="376.56" stroke="#222" stroke-width="0.7"/>
<text x="189.9" y="379.16" font-size="6.9" text-anchor="end" fill="#111"  textLength="7.58" lengthAdjust="spacingAndGlyphs">Fz</text>
<line x1="193.3" y1="386.85" x2="195.3" y2="386.85" stroke="#222" stroke-width="0.7"/>
<text x="189.9" y="389.45" font-size="6.9" text-anchor="end" fill="#111"  textLength="8.44" lengthAdjust="spacingAndGlyphs">Cz</text>
<line x1="200.46" y1="392" x2="200.46" y2="394.6" stroke="#222" stroke-width="0.7"/>
<text transform="translate(202.86,399.7) rotate(-90)" font-size="7.4" text-anchor="end" fill="#000" textLength="8.00" lengthAdjust="spacingAndGlyphs">L1</text>
<line x1="210.79" y1="392" x2="210.79" y2="394.6" stroke="#222" stroke-width="0.7"/>
<text transform="translate(213.19,399.7) rotate(-90)" font-size="7.4" text-anchor="end" fill="#000" textLength="8.00" lengthAdjust="spacingAndGlyphs">L2</text>
<line x1="221.12" y1="392" x2="221.12" y2="394.6" stroke="#222" stroke-width="0.7"/>
<text transform="translate(223.52,399.7) rotate(-90)" font-size="7.4" text-anchor="end" fill="#000" textLength="8.00" lengthAdjust="spacingAndGlyphs">L3</text>
<line x1="231.45" y1="392" x2="231.45" y2="394.6" stroke="#222" stroke-width="0.7"/>
<text transform="translate(233.85,399.7) rotate(-90)" font-size="7.4" text-anchor="end" fill="#000" textLength="8.00" lengthAdjust="spacingAndGlyphs">L4</text>
<line x1="241.78" y1="392" x2="241.78" y2="394.6" stroke="#222" stroke-width="0.7"/>
<text transform="translate(244.18,399.7) rotate(-90)" font-size="7.4" text-anchor="end" fill="#000" textLength="8.92" lengthAdjust="spacingAndGlyphs">R1</text>
<line x1="252.11" y1="392" x2="252.11" y2="394.6" stroke="#222" stroke-width="0.7"/>
<text transform="translate(254.51,399.7) rotate(-90)" font-size="7.4" text-anchor="end" fill="#000" textLength="8.92" lengthAdjust="spacingAndGlyphs">R2</text>
<line x1="262.44" y1="392" x2="262.44" y2="394.6" stroke="#222" stroke-width="0.7"/>
<text transform="translate(264.84,399.7) rotate(-90)" font-size="7.4" text-anchor="end" fill="#000" textLength="8.92" lengthAdjust="spacingAndGlyphs">R3</text>
<line x1="272.76" y1="392" x2="272.76" y2="394.6" stroke="#222" stroke-width="0.7"/>
<text transform="translate(275.16,399.7) rotate(-90)" font-size="7.4" text-anchor="end" fill="#000" textLength="8.92" lengthAdjust="spacingAndGlyphs">R4</text>
<line x1="283.09" y1="392" x2="283.09" y2="394.6" stroke="#222" stroke-width="0.7"/>
<text transform="translate(285.49,399.7) rotate(-90)" font-size="7.4" text-anchor="end" fill="#000" textLength="8.12" lengthAdjust="spacingAndGlyphs">F3</text>
<line x1="293.42" y1="392" x2="293.42" y2="394.6" stroke="#222" stroke-width="0.7"/>
<text transform="translate(295.82,399.7) rotate(-90)" font-size="7.4" text-anchor="end" fill="#000" textLength="8.94" lengthAdjust="spacingAndGlyphs">C3</text>
<line x1="303.75" y1="392" x2="303.75" y2="394.6" stroke="#222" stroke-width="0.7"/>
<text transform="translate(306.15,399.7) rotate(-90)" font-size="7.4" text-anchor="end" fill="#000" textLength="8.12" lengthAdjust="spacingAndGlyphs">F4</text>
<line x1="314.08" y1="392" x2="314.08" y2="394.6" stroke="#222" stroke-width="0.7"/>
<text transform="translate(316.48,399.7) rotate(-90)" font-size="7.4" text-anchor="end" fill="#000" textLength="8.94" lengthAdjust="spacingAndGlyphs">C4</text>
<line x1="324.41" y1="392" x2="324.41" y2="394.6" stroke="#222" stroke-width="0.7"/>
<text transform="translate(326.81,399.7) rotate(-90)" font-size="7.4" text-anchor="end" fill="#000" textLength="7.36" lengthAdjust="spacingAndGlyphs">Fz</text>
<line x1="334.74" y1="392" x2="334.74" y2="394.6" stroke="#222" stroke-width="0.7"/>
<text transform="translate(337.14,399.7) rotate(-90)" font-size="7.4" text-anchor="end" fill="#000" textLength="8.19" lengthAdjust="spacingAndGlyphs">Cz</text>
<text x="267.6" y="243.4" font-size="10.4" text-anchor="middle" fill="#111" textLength="42.0" lengthAdjust="spacingAndGlyphs">ATM - ON</text>
<text x="267.6" y="415.7" font-size="7.9" text-anchor="middle" fill="#222"  textLength="54.00" lengthAdjust="spacingAndGlyphs">EEG channels</text>
<defs><linearGradient id="cb" x1="0" y1="0" x2="1" y2="0">
<stop offset="0.0000" stop-color="#f2ef30"/>
<stop offset="0.0742" stop-color="#cceb30"/>
<stop offset="0.1491" stop-color="#84ee32"/>
<stop offset="0.2240" stop-color="#44f052"/>
<stop offset="0.2740" stop-color="#26f080"/>
<stop offset="0.3489" stop-color="#22e092"/>
<stop offset="0.3989" stop-color="#20d09e"/>
<stop offset="0.4738" stop-color="#20b898"/>
<stop offset="0.5237" stop-color="#21a896"/>
<stop offset="0.6486" stop-color="#298690"/>
<stop offset="0.7485" stop-color="#356094"/>
<stop offset="0.7735" stop-color="#3a5290"/>
<stop offset="0.8359" stop-color="#463c88"/>
<stop offset="0.8984" stop-color="#4c2a80"/>
<stop offset="0.9483" stop-color="#4c1872"/>
<stop offset="1.0000" stop-color="#460a5e"/>
</linearGradient></defs>
<rect x="29.4" y="444.1" width="309.9" height="11.9" fill="url(#cb)" stroke="#222" stroke-width="0.7"/>
<line x1="36.9" y1="441.5" x2="36.9" y2="444.1" stroke="#222" stroke-width="0.8"/>
<text transform="translate(39.8,440.2) rotate(-90)" font-size="7.7" text-anchor="start" fill="#000" textLength="13.9" lengthAdjust="spacingAndGlyphs">0.40</text>
<line x1="75.6" y1="441.5" x2="75.6" y2="444.1" stroke="#222" stroke-width="0.8"/>
<text transform="translate(78.5,440.2) rotate(-90)" font-size="7.7" text-anchor="start" fill="#000" textLength="13.9" lengthAdjust="spacingAndGlyphs">0.35</text>
<line x1="114.3" y1="441.5" x2="114.3" y2="444.1" stroke="#222" stroke-width="0.8"/>
<text transform="translate(117.2,440.2) rotate(-90)" font-size="7.7" text-anchor="start" fill="#000" textLength="13.9" lengthAdjust="spacingAndGlyphs">0.30</text>
<line x1="153" y1="441.5" x2="153" y2="444.1" stroke="#222" stroke-width="0.8"/>
<text transform="translate(155.9,440.2) rotate(-90)" font-size="7.7" text-anchor="start" fill="#000" textLength="13.9" lengthAdjust="spacingAndGlyphs">0.25</text>
<line x1="191.7" y1="441.5" x2="191.7" y2="444.1" stroke="#222" stroke-width="0.8"/>
<text transform="translate(194.6,440.2) rotate(-90)" font-size="7.7" text-anchor="start" fill="#000" textLength="13.9" lengthAdjust="spacingAndGlyphs">0.20</text>
<line x1="230.4" y1="441.5" x2="230.4" y2="444.1" stroke="#222" stroke-width="0.8"/>
<text transform="translate(233.3,440.2) rotate(-90)" font-size="7.7" text-anchor="start" fill="#000" textLength="13.9" lengthAdjust="spacingAndGlyphs">0.15</text>
<line x1="269.1" y1="441.5" x2="269.1" y2="444.1" stroke="#222" stroke-width="0.8"/>
<text transform="translate(272,440.2) rotate(-90)" font-size="7.7" text-anchor="start" fill="#000" textLength="13.9" lengthAdjust="spacingAndGlyphs">0.10</text>
<line x1="307.8" y1="441.5" x2="307.8" y2="444.1" stroke="#222" stroke-width="0.8"/>
<text transform="translate(310.7,440.2) rotate(-90)" font-size="7.7" text-anchor="start" fill="#000" textLength="13.9" lengthAdjust="spacingAndGlyphs">0.05</text>
<text x="111" y="470.8" font-size="11.2" text-anchor="start" fill="#111" >avalanches transition probability</text>
<g transform="translate(13.8,218.4) rotate(-16.59)">
<path d="M9.81,-4.3 L0,-4.3 A4.3,4.3 0 0 0 0,4.3 L9.81,4.3 Z" fill="#ff9a3a"/>
<path d="M9.61,-4.3 L19.62,-4.3 A4.3,4.3 0 0 1 19.62,4.3 L9.61,4.3 Z" fill="#dadada"/>
</g>
<g transform="translate(23.2,230.4) rotate(-23.77)">
<path d="M9.18,-4.2 L0,-4.2 A4.2,4.2 0 0 0 0,4.2 L9.18,4.2 Z" fill="#dadada"/>
<path d="M8.98,-4.2 L18.36,-4.2 A4.2,4.2 0 0 1 18.36,4.2 L8.98,4.2 Z" fill="#ff9a3a"/>
</g>
<g transform="translate(17,238.9) rotate(-3.14)">
<path d="M9.11,-4.4 L0,-4.4 A4.4,4.4 0 0 0 0,4.4 L9.11,4.4 Z" fill="#ff9a3a"/>
<path d="M8.91,-4.4 L18.23,-4.4 A4.4,4.4 0 0 1 18.23,4.4 L8.91,4.4 Z" fill="#dadada"/>
</g>
<circle cx="28.6" cy="221.7" r="13.7" fill="none" stroke="#000" stroke-width="2.6"/>
<line x1="19.0" y1="212.0" x2="38.2" y2="231.3" stroke="#000" stroke-width="2.6"/>
<g transform="translate(196.9,221.2) rotate(-21.8)">
<path d="M8.89,-4.6 L0,-4.6 A4.6,4.6 0 0 0 0,4.6 L8.89,4.6 Z" fill="#ff9a3a"/>
<path d="M8.69,-4.6 L17.77,-4.6 A4.6,4.6 0 0 1 17.77,4.6 L8.69,4.6 Z" fill="#dadada"/>
</g>
<g transform="translate(206.9,232.4) rotate(-21.74)">
<path d="M8.77,-4.5 L0,-4.5 A4.5,4.5 0 0 0 0,4.5 L8.77,4.5 Z" fill="#dadada"/>
<path d="M8.57,-4.5 L17.55,-4.5 A4.5,4.5 0 0 1 17.55,4.5 L8.57,4.5 Z" fill="#ffb46a"/>
</g>
<g transform="translate(200.3,241.6) rotate(-7.01)">
<path d="M9.02,-4.7 L0,-4.7 A4.7,4.7 0 0 0 0,4.7 L9.02,4.7 Z" fill="#ff9a3a"/>
<path d="M8.82,-4.7 L18.03,-4.7 A4.7,4.7 0 0 1 18.03,4.7 L8.82,4.7 Z" fill="#dadada"/>
</g>
<polyline points="400.3,50.1 413.57,81.9 426.84,15.85 440.11,84 453.38,96.7 466.65,39.85 479.92,94.65 493.19,56.4 506.46,43 519.73,33.95" fill="none" stroke="#c8c8ff" stroke-width="1.1" stroke-dasharray="3.0,1.5"/>
<polyline points="400.3,66.85 413.57,91.4 426.84,59.75 440.11,94.2 453.38,98.6 466.65,68.2 479.92,98.7 493.19,66.55 506.46,70.55 519.73,77.75" fill="none" stroke="#ffc866" stroke-width="1.1" stroke-dasharray="3.0,1.5"/>
<circle cx="400.3" cy="50.1" r="2.3" fill="#0000ff"/>
<circle cx="413.57" cy="81.9" r="2.3" fill="#0000ff"/>
<circle cx="426.84" cy="15.85" r="2.3" fill="#0000ff"/>
<circle cx="440.11" cy="84" r="2.3" fill="#0000ff"/>
<circle cx="453.38" cy="96.7" r="2.3" fill="#0000ff"/>
<circle cx="466.65" cy="39.85" r="2.3" fill="#0000ff"/>
<circle cx="479.92" cy="94.65" r="2.3" fill="#0000ff"/>
<circle cx="493.19" cy="56.4" r="2.3" fill="#0000ff"/>
<circle cx="506.46" cy="43" r="2.3" fill="#0000ff"/>
<circle cx="519.73" cy="33.95" r="2.3" fill="#0000ff"/>
<polygon points="400.30,64.35 400.95,65.96 402.68,66.08 401.35,67.19 401.77,68.87 400.30,67.95 398.83,68.87 399.25,67.19 397.92,66.08 399.65,65.96" fill="#ff9f10"/>
<polygon points="413.57,88.90 414.22,90.51 415.95,90.63 414.62,91.74 415.04,93.42 413.57,92.50 412.10,93.42 412.52,91.74 411.19,90.63 412.92,90.51" fill="#ff9f10"/>
<polygon points="426.84,57.25 427.49,58.86 429.22,58.98 427.89,60.09 428.31,61.77 426.84,60.85 425.37,61.77 425.79,60.09 424.46,58.98 426.19,58.86" fill="#ff9f10"/>
<polygon points="440.11,91.70 440.76,93.31 442.49,93.43 441.16,94.54 441.58,96.22 440.11,95.30 438.64,96.22 439.06,94.54 437.73,93.43 439.46,93.31" fill="#ff9f10"/>
<polygon points="453.38,96.10 454.03,97.71 455.76,97.83 454.43,98.94 454.85,100.62 453.38,99.70 451.91,100.62 452.33,98.94 451.00,97.83 452.73,97.71" fill="#ff9f10"/>
<polygon points="466.65,65.70 467.30,67.31 469.03,67.43 467.70,68.54 468.12,70.22 466.65,69.30 465.18,70.22 465.60,68.54 464.27,67.43 466.00,67.31" fill="#ff9f10"/>
<polygon points="479.92,96.20 480.57,97.81 482.30,97.93 480.97,99.04 481.39,100.72 479.92,99.80 478.45,100.72 478.87,99.04 477.54,97.93 479.27,97.81" fill="#ff9f10"/>
<polygon points="493.19,64.05 493.84,65.66 495.57,65.78 494.24,66.89 494.66,68.57 493.19,67.65 491.72,68.57 492.14,66.89 490.81,65.78 492.54,65.66" fill="#ff9f10"/>
<polygon points="506.46,68.05 507.11,69.66 508.84,69.78 507.51,70.89 507.93,72.57 506.46,71.65 504.99,72.57 505.41,70.89 504.08,69.78 505.81,69.66" fill="#ff9f10"/>
<polygon points="519.73,75.25 520.38,76.86 522.11,76.98 520.78,78.09 521.20,79.77 519.73,78.85 518.26,79.77 518.68,78.09 517.35,76.98 519.08,76.86" fill="#ff9f10"/>
<rect x="394.55" y="11.5" width="130.95" height="91.9" fill="none" stroke="#3c3c3c" stroke-width="1"/>
<line x1="392.55" y1="91.46" x2="394.55" y2="91.46" stroke="#333" stroke-width="0.6"/>
<text x="390.15" y="94.56" font-size="6.4" text-anchor="end" fill="#1a1a1a"  textLength="12.80" lengthAdjust="spacingAndGlyphs">0.08</text>
<line x1="392.55" y1="78.33" x2="394.55" y2="78.33" stroke="#333" stroke-width="0.6"/>
<text x="390.15" y="81.43" font-size="6.4" text-anchor="end" fill="#1a1a1a"  textLength="12.80" lengthAdjust="spacingAndGlyphs">0.10</text>
<line x1="392.55" y1="65.2" x2="394.55" y2="65.2" stroke="#333" stroke-width="0.6"/>
<text x="390.15" y="68.3" font-size="6.4" text-anchor="end" fill="#1a1a1a"  textLength="12.80" lengthAdjust="spacingAndGlyphs">0.12</text>
<line x1="392.55" y1="52.06" x2="394.55" y2="52.06" stroke="#333" stroke-width="0.6"/>
<text x="390.15" y="55.16" font-size="6.4" text-anchor="end" fill="#1a1a1a"  textLength="12.80" lengthAdjust="spacingAndGlyphs">0.14</text>
<line x1="392.55" y1="38.93" x2="394.55" y2="38.93" stroke="#333" stroke-width="0.6"/>
<text x="390.15" y="42.03" font-size="6.4" text-anchor="end" fill="#1a1a1a"  textLength="12.80" lengthAdjust="spacingAndGlyphs">0.16</text>
<line x1="392.55" y1="25.79" x2="394.55" y2="25.79" stroke="#333" stroke-width="0.6"/>
<text x="390.15" y="28.89" font-size="6.4" text-anchor="end" fill="#1a1a1a"  textLength="12.80" lengthAdjust="spacingAndGlyphs">0.18</text>
<line x1="392.55" y1="12.66" x2="394.55" y2="12.66" stroke="#333" stroke-width="0.6"/>
<text x="390.15" y="15.76" font-size="6.4" text-anchor="end" fill="#1a1a1a"  textLength="12.80" lengthAdjust="spacingAndGlyphs">0.20</text>
<line x1="400.3" y1="103.4" x2="400.3" y2="105.4" stroke="#333" stroke-width="0.6"/>
<text x="400.3" y="112" font-size="6.3" text-anchor="middle" fill="#1a1a1a"  textLength="3.66" lengthAdjust="spacingAndGlyphs">1</text>
<line x1="413.57" y1="103.4" x2="413.57" y2="105.4" stroke="#333" stroke-width="0.6"/>
<text x="413.57" y="112" font-size="6.3" text-anchor="middle" fill="#1a1a1a"  textLength="3.66" lengthAdjust="spacingAndGlyphs">2</text>
<line x1="426.84" y1="103.4" x2="426.84" y2="105.4" stroke="#333" stroke-width="0.6"/>
<text x="426.84" y="112" font-size="6.3" text-anchor="middle" fill="#1a1a1a"  textLength="3.66" lengthAdjust="spacingAndGlyphs">3</text>
<line x1="440.11" y1="103.4" x2="440.11" y2="105.4" stroke="#333" stroke-width="0.6"/>
<text x="440.11" y="112" font-size="6.3" text-anchor="middle" fill="#1a1a1a"  textLength="3.66" lengthAdjust="spacingAndGlyphs">4</text>
<line x1="453.38" y1="103.4" x2="453.38" y2="105.4" stroke="#333" stroke-width="0.6"/>
<text x="453.38" y="112" font-size="6.3" text-anchor="middle" fill="#1a1a1a"  textLength="3.66" lengthAdjust="spacingAndGlyphs">5</text>
<line x1="466.65" y1="103.4" x2="466.65" y2="105.4" stroke="#333" stroke-width="0.6"/>
<text x="466.65" y="112" font-size="6.3" text-anchor="middle" fill="#1a1a1a"  textLength="3.66" lengthAdjust="spacingAndGlyphs">6</text>
<line x1="479.92" y1="103.4" x2="479.92" y2="105.4" stroke="#333" stroke-width="0.6"/>
<text x="479.92" y="112" font-size="6.3" text-anchor="middle" fill="#1a1a1a"  textLength="3.66" lengthAdjust="spacingAndGlyphs">7</text>
<line x1="493.19" y1="103.4" x2="493.19" y2="105.4" stroke="#333" stroke-width="0.6"/>
<text x="493.19" y="112" font-size="6.3" text-anchor="middle" fill="#1a1a1a"  textLength="3.66" lengthAdjust="spacingAndGlyphs">8</text>
<line x1="506.46" y1="103.4" x2="506.46" y2="105.4" stroke="#333" stroke-width="0.6"/>
<text x="506.46" y="112" font-size="6.3" text-anchor="middle" fill="#1a1a1a"  textLength="3.66" lengthAdjust="spacingAndGlyphs">9</text>
<line x1="519.73" y1="103.4" x2="519.73" y2="105.4" stroke="#333" stroke-width="0.6"/>
<text x="519.73" y="112" font-size="6.3" text-anchor="middle" fill="#1a1a1a"  textLength="7.32" lengthAdjust="spacingAndGlyphs">10</text>
<text x="460.02" y="8.1" font-size="6.9" text-anchor="middle" fill="#111"  textLength="39.31" lengthAdjust="spacingAndGlyphs">mean(ATM)</text>
<rect x="491.3" y="14.2" width="32" height="19.1" rx="1" fill="#fff" fill-opacity="0.85" stroke="#dcdcdc" stroke-width="0.6"/>
<circle cx="499.1" cy="19.2" r="2.3" fill="#0000ff"/>
<polygon points="499.00,25.20 499.62,26.75 501.28,26.86 500.00,27.92 500.41,29.54 499.00,28.65 497.59,29.54 498.00,27.92 496.72,26.86 498.38,26.75" fill="#ff9f10"/>
<text x="509.9" y="21.3" font-size="6.3" text-anchor="start" fill="#1a1a1a"  textLength="8.30" lengthAdjust="spacingAndGlyphs">ON</text>
<text x="509.9" y="29.6" font-size="6.3" text-anchor="start" fill="#1a1a1a"  textLength="10.46" lengthAdjust="spacingAndGlyphs">OFF</text>
<polyline points="558.1,50.1 571.43,81.9 584.76,15.85 598.09,84 611.42,96.7 624.75,39.85 638.08,94.65 651.41,56.4 664.74,43 678.07,33.95" fill="none" stroke="#c8c8ff" stroke-width="1.1" stroke-dasharray="3.0,1.5"/>
<polyline points="558.1,66.85 571.43,91.4 584.76,59.75 598.09,94.2 611.42,98.6 624.75,68.2 638.08,98.7 651.41,66.55 664.74,70.55 678.07,77.75" fill="none" stroke="#ffc866" stroke-width="1.1" stroke-dasharray="3.0,1.5"/>
<circle cx="558.1" cy="50.1" r="2.3" fill="#0000ff"/>
<circle cx="571.43" cy="81.9" r="2.3" fill="#0000ff"/>
<circle cx="584.76" cy="15.85" r="2.3" fill="#0000ff"/>
<circle cx="598.09" cy="84" r="2.3" fill="#0000ff"/>
<circle cx="611.42" cy="96.7" r="2.3" fill="#0000ff"/>
<circle cx="624.75" cy="39.85" r="2.3" fill="#0000ff"/>
<circle cx="638.08" cy="94.65" r="2.3" fill="#0000ff"/>
<circle cx="651.41" cy="56.4" r="2.3" fill="#0000ff"/>
<circle cx="664.74" cy="43" r="2.3" fill="#0000ff"/>
<circle cx="678.07" cy="33.95" r="2.3" fill="#0000ff"/>
<polygon points="558.10,64.35 558.75,65.96 560.48,66.08 559.15,67.19 559.57,68.87 558.10,67.95 556.63,68.87 557.05,67.19 555.72,66.08 557.45,65.96" fill="#ff9f10"/>
<polygon points="571.43,88.90 572.08,90.51 573.81,90.63 572.48,91.74 572.90,93.42 571.43,92.50 569.96,93.42 570.38,91.74 569.05,90.63 570.78,90.51" fill="#ff9f10"/>
<polygon points="584.76,57.25 585.41,58.86 587.14,58.98 585.81,60.09 586.23,61.77 584.76,60.85 583.29,61.77 583.71,60.09 582.38,58.98 584.11,58.86" fill="#ff9f10"/>
<polygon points="598.09,91.70 598.74,93.31 600.47,93.43 599.14,94.54 599.56,96.22 598.09,95.30 596.62,96.22 597.04,94.54 595.71,93.43 597.44,93.31" fill="#ff9f10"/>
<polygon points="611.42,96.10 612.07,97.71 613.80,97.83 612.47,98.94 612.89,100.62 611.42,99.70 609.95,100.62 610.37,98.94 609.04,97.83 610.77,97.71" fill="#ff9f10"/>
<polygon points="624.75,65.70 625.40,67.31 627.13,67.43 625.80,68.54 626.22,70.22 624.75,69.30 623.28,70.22 623.70,68.54 622.37,67.43 624.10,67.31" fill="#ff9f10"/>
<polygon points="638.08,96.20 638.73,97.81 640.46,97.93 639.13,99.04 639.55,100.72 638.08,99.80 636.61,100.72 637.03,99.04 635.70,97.93 637.43,97.81" fill="#ff9f10"/>
<polygon points="651.41,64.05 652.06,65.66 653.79,65.78 652.46,66.89 652.88,68.57 651.41,67.65 649.94,68.57 650.36,66.89 649.03,65.78 650.76,65.66" fill="#ff9f10"/>
<polygon points="664.74,68.05 665.39,69.66 667.12,69.78 665.79,70.89 666.21,72.57 664.74,71.65 663.27,72.57 663.69,70.89 662.36,69.78 664.09,69.66" fill="#ff9f10"/>
<polygon points="678.07,75.25 678.72,76.86 680.45,76.98 679.12,78.09 679.54,79.77 678.07,78.85 676.60,79.77 677.02,78.09 675.69,76.98 677.42,76.86" fill="#ff9f10"/>
<rect x="552.55" y="11.5" width="130.95" height="91.9" fill="none" stroke="#3c3c3c" stroke-width="1"/>
<line x1="550.55" y1="94" x2="552.55" y2="94" stroke="#333" stroke-width="0.6"/>
<text x="548.15" y="97.1" font-size="6.4" text-anchor="end" fill="#1a1a1a"  textLength="7.32" lengthAdjust="spacingAndGlyphs">15</text>
<line x1="550.55" y1="77.25" x2="552.55" y2="77.25" stroke="#333" stroke-width="0.6"/>
<text x="548.15" y="80.35" font-size="6.4" text-anchor="end" fill="#1a1a1a"  textLength="7.32" lengthAdjust="spacingAndGlyphs">20</text>
<line x1="550.55" y1="60.5" x2="552.55" y2="60.5" stroke="#333" stroke-width="0.6"/>
<text x="548.15" y="63.6" font-size="6.4" text-anchor="end" fill="#1a1a1a"  textLength="7.32" lengthAdjust="spacingAndGlyphs">25</text>
<line x1="550.55" y1="43.75" x2="552.55" y2="43.75" stroke="#333" stroke-width="0.6"/>
<text x="548.15" y="46.85" font-size="6.4" text-anchor="end" fill="#1a1a1a"  textLength="7.32" lengthAdjust="spacingAndGlyphs">30</text>
<line x1="550.55" y1="27" x2="552.55" y2="27" stroke="#333" stroke-width="0.6"/>
<text x="548.15" y="30.1" font-size="6.4" text-anchor="end" fill="#1a1a1a"  textLength="7.32" lengthAdjust="spacingAndGlyphs">35</text>
<line x1="558.1" y1="103.4" x2="558.1" y2="105.4" stroke="#333" stroke-width="0.6"/>
<text x="558.1" y="112" font-size="6.3" text-anchor="middle" fill="#1a1a1a"  textLength="3.66" lengthAdjust="spacingAndGlyphs">1</text>
<line x1="571.43" y1="103.4" x2="571.43" y2="105.4" stroke="#333" stroke-width="0.6"/>
<text x="571.43" y="112" font-size="6.3" text-anchor="middle" fill="#1a1a1a"  textLength="3.66" lengthAdjust="spacingAndGlyphs">2</text>
<line x1="584.76" y1="103.4" x2="584.76" y2="105.4" stroke="#333" stroke-width="0.6"/>
<text x="584.76" y="112" font-size="6.3" text-anchor="middle" fill="#1a1a1a"  textLength="3.66" lengthAdjust="spacingAndGlyphs">3</text>
<line x1="598.09" y1="103.4" x2="598.09" y2="105.4" stroke="#333" stroke-width="0.6"/>
<text x="598.09" y="112" font-size="6.3" text-anchor="middle" fill="#1a1a1a"  textLength="3.66" lengthAdjust="spacingAndGlyphs">4</text>
<line x1="611.42" y1="103.4" x2="611.42" y2="105.4" stroke="#333" stroke-width="0.6"/>
<text x="611.42" y="112" font-size="6.3" text-anchor="middle" fill="#1a1a1a"  textLength="3.66" lengthAdjust="spacingAndGlyphs">5</text>
<line x1="624.75" y1="103.4" x2="624.75" y2="105.4" stroke="#333" stroke-width="0.6"/>
<text x="624.75" y="112" font-size="6.3" text-anchor="middle" fill="#1a1a1a"  textLength="3.66" lengthAdjust="spacingAndGlyphs">6</text>
<line x1="638.08" y1="103.4" x2="638.08" y2="105.4" stroke="#333" stroke-width="0.6"/>
<text x="638.08" y="112" font-size="6.3" text-anchor="middle" fill="#1a1a1a"  textLength="3.66" lengthAdjust="spacingAndGlyphs">7</text>
<line x1="651.41" y1="103.4" x2="651.41" y2="105.4" stroke="#333" stroke-width="0.6"/>
<text x="651.41" y="112" font-size="6.3" text-anchor="middle" fill="#1a1a1a"  textLength="3.66" lengthAdjust="spacingAndGlyphs">8</text>
<line x1="664.74" y1="103.4" x2="664.74" y2="105.4" stroke="#333" stroke-width="0.6"/>
<text x="664.74" y="112" font-size="6.3" text-anchor="middle" fill="#1a1a1a"  textLength="3.66" lengthAdjust="spacingAndGlyphs">9</text>
<line x1="678.07" y1="103.4" x2="678.07" y2="105.4" stroke="#333" stroke-width="0.6"/>
<text x="678.07" y="112" font-size="6.3" text-anchor="middle" fill="#1a1a1a"  textLength="7.32" lengthAdjust="spacingAndGlyphs">10</text>
<text x="618.02" y="8.1" font-size="6.9" text-anchor="middle" fill="#111"  textLength="34.42" lengthAdjust="spacingAndGlyphs">sum(ATM)</text>
<rect x="649.3" y="14.2" width="32" height="19.1" rx="1" fill="#fff" fill-opacity="0.85" stroke="#dcdcdc" stroke-width="0.6"/>
<circle cx="657.1" cy="19.2" r="2.3" fill="#0000ff"/>
<polygon points="657.00,25.20 657.62,26.75 659.28,26.86 658.00,27.92 658.41,29.54 657.00,28.65 655.59,29.54 656.00,27.92 654.72,26.86 656.38,26.75" fill="#ff9f10"/>
<text x="667.9" y="21.3" font-size="6.3" text-anchor="start" fill="#1a1a1a"  textLength="8.30" lengthAdjust="spacingAndGlyphs">ON</text>
<text x="667.9" y="29.6" font-size="6.3" text-anchor="start" fill="#1a1a1a"  textLength="10.46" lengthAdjust="spacingAndGlyphs">OFF</text>
<polyline points="400.3,195.8 413.57,199 426.84,196.9 440.11,190.6 453.38,198.75 466.65,204 479.92,148.5 493.19,205.3 506.46,217.8 519.73,171.4" fill="none" stroke="#c8c8ff" stroke-width="1.1" stroke-dasharray="3.0,1.5"/>
<polyline points="400.3,187.4 413.57,187.4 426.84,169.6 440.11,175.4 453.38,196.9 466.65,198.5 479.92,134.7 493.19,189.5 506.46,188.3 519.73,168" fill="none" stroke="#ffc866" stroke-width="1.1" stroke-dasharray="3.0,1.5"/>
<circle cx="400.3" cy="195.8" r="2.3" fill="#0000ff"/>
<circle cx="413.57" cy="199" r="2.3" fill="#0000ff"/>
<circle cx="426.84" cy="196.9" r="2.3" fill="#0000ff"/>
<circle cx="440.11" cy="190.6" r="2.3" fill="#0000ff"/>
<circle cx="453.38" cy="198.75" r="2.3" fill="#0000ff"/>
<circle cx="466.65" cy="204" r="2.3" fill="#0000ff"/>
<circle cx="479.92" cy="148.5" r="2.3" fill="#0000ff"/>
<circle cx="493.19" cy="205.3" r="2.3" fill="#0000ff"/>
<circle cx="506.46" cy="217.8" r="2.3" fill="#0000ff"/>
<circle cx="519.73" cy="171.4" r="2.3" fill="#0000ff"/>
<polygon points="400.30,184.90 400.95,186.51 402.68,186.63 401.35,187.74 401.77,189.42 400.30,188.50 398.83,189.42 399.25,187.74 397.92,186.63 399.65,186.51" fill="#ff9f10"/>
<polygon points="413.57,184.90 414.22,186.51 415.95,186.63 414.62,187.74 415.04,189.42 413.57,188.50 412.10,189.42 412.52,187.74 411.19,186.63 412.92,186.51" fill="#ff9f10"/>
<polygon points="426.84,167.10 427.49,168.71 429.22,168.83 427.89,169.94 428.31,171.62 426.84,170.70 425.37,171.62 425.79,169.94 424.46,168.83 426.19,168.71" fill="#ff9f10"/>
<polygon points="440.11,172.90 440.76,174.51 442.49,174.63 441.16,175.74 441.58,177.42 440.11,176.50 438.64,177.42 439.06,175.74 437.73,174.63 439.46,174.51" fill="#ff9f10"/>
<polygon points="453.38,194.40 454.03,196.01 455.76,196.13 454.43,197.24 454.85,198.92 453.38,198.00 451.91,198.92 452.33,197.24 451.00,196.13 452.73,196.01" fill="#ff9f10"/>
<polygon points="466.65,196.00 467.30,197.61 469.03,197.73 467.70,198.84 468.12,200.52 466.65,199.60 465.18,200.52 465.60,198.84 464.27,197.73 466.00,197.61" fill="#ff9f10"/>
<polygon points="479.92,132.20 480.57,133.81 482.30,133.93 480.97,135.04 481.39,136.72 479.92,135.80 478.45,136.72 478.87,135.04 477.54,133.93 479.27,133.81" fill="#ff9f10"/>
<polygon points="493.19,187.00 493.84,188.61 495.57,188.73 494.24,189.84 494.66,191.52 493.19,190.60 491.72,191.52 492.14,189.84 490.81,188.73 492.54,188.61" fill="#ff9f10"/>
<polygon points="506.46,185.80 507.11,187.41 508.84,187.53 507.51,188.64 507.93,190.32 506.46,189.40 504.99,190.32 505.41,188.64 504.08,187.53 505.81,187.41" fill="#ff9f10"/>
<polygon points="519.73,165.50 520.38,167.11 522.11,167.23 520.78,168.34 521.20,170.02 519.73,169.10 518.26,170.02 518.68,168.34 517.35,167.23 519.08,167.11" fill="#ff9f10"/>
<rect x="394.55" y="130.5" width="130.95" height="90.9" fill="none" stroke="#3c3c3c" stroke-width="1"/>
<line x1="392.55" y1="221.4" x2="394.55" y2="221.4" stroke="#333" stroke-width="0.6"/>
<text x="390.15" y="224.5" font-size="6.4" text-anchor="end" fill="#1a1a1a"  textLength="12.80" lengthAdjust="spacingAndGlyphs">0.75</text>
<line x1="392.55" y1="205.78" x2="394.55" y2="205.78" stroke="#333" stroke-width="0.6"/>
<text x="390.15" y="208.88" font-size="6.4" text-anchor="end" fill="#1a1a1a"  textLength="12.80" lengthAdjust="spacingAndGlyphs">1.00</text>
<line x1="392.55" y1="190.16" x2="394.55" y2="190.16" stroke="#333" stroke-width="0.6"/>
<text x="390.15" y="193.26" font-size="6.4" text-anchor="end" fill="#1a1a1a"  textLength="12.80" lengthAdjust="spacingAndGlyphs">1.25</text>
<line x1="392.55" y1="174.54" x2="394.55" y2="174.54" stroke="#333" stroke-width="0.6"/>
<text x="390.15" y="177.64" font-size="6.4" text-anchor="end" fill="#1a1a1a"  textLength="12.80" lengthAdjust="spacingAndGlyphs">1.50</text>
<line x1="392.55" y1="158.92" x2="394.55" y2="158.92" stroke="#333" stroke-width="0.6"/>
<text x="390.15" y="162.02" font-size="6.4" text-anchor="end" fill="#1a1a1a"  textLength="12.80" lengthAdjust="spacingAndGlyphs">1.75</text>
<line x1="392.55" y1="143.3" x2="394.55" y2="143.3" stroke="#333" stroke-width="0.6"/>
<text x="390.15" y="146.4" font-size="6.4" text-anchor="end" fill="#1a1a1a"  textLength="12.80" lengthAdjust="spacingAndGlyphs">2.00</text>
<line x1="400.3" y1="221.4" x2="400.3" y2="223.4" stroke="#333" stroke-width="0.6"/>
<text x="400.3" y="230" font-size="6.3" text-anchor="middle" fill="#1a1a1a"  textLength="3.66" lengthAdjust="spacingAndGlyphs">1</text>
<line x1="413.57" y1="221.4" x2="413.57" y2="223.4" stroke="#333" stroke-width="0.6"/>
<text x="413.57" y="230" font-size="6.3" text-anchor="middle" fill="#1a1a1a"  textLength="3.66" lengthAdjust="spacingAndGlyphs">2</text>
<line x1="426.84" y1="221.4" x2="426.84" y2="223.4" stroke="#333" stroke-width="0.6"/>
<text x="426.84" y="230" font-size="6.3" text-anchor="middle" fill="#1a1a1a"  textLength="3.66" lengthAdjust="spacingAndGlyphs">3</text>
<line x1="440.11" y1="221.4" x2="440.11" y2="223.4" stroke="#333" stroke-width="0.6"/>
<text x="440.11" y="230" font-size="6.3" text-anchor="middle" fill="#1a1a1a"  textLength="3.66" lengthAdjust="spacingAndGlyphs">4</text>
<line x1="453.38" y1="221.4" x2="453.38" y2="223.4" stroke="#333" stroke-width="0.6"/>
<text x="453.38" y="230" font-size="6.3" text-anchor="middle" fill="#1a1a1a"  textLength="3.66" lengthAdjust="spacingAndGlyphs">5</text>
<line x1="466.65" y1="221.4" x2="466.65" y2="223.4" stroke="#333" stroke-width="0.6"/>
<text x="466.65" y="230" font-size="6.3" text-anchor="middle" fill="#1a1a1a"  textLength="3.66" lengthAdjust="spacingAndGlyphs">6</text>
<line x1="479.92" y1="221.4" x2="479.92" y2="223.4" stroke="#333" stroke-width="0.6"/>
<text x="479.92" y="230" font-size="6.3" text-anchor="middle" fill="#1a1a1a"  textLength="3.66" lengthAdjust="spacingAndGlyphs">7</text>
<line x1="493.19" y1="221.4" x2="493.19" y2="223.4" stroke="#333" stroke-width="0.6"/>
<text x="493.19" y="230" font-size="6.3" text-anchor="middle" fill="#1a1a1a"  textLength="3.66" lengthAdjust="spacingAndGlyphs">8</text>
<line x1="506.46" y1="221.4" x2="506.46" y2="223.4" stroke="#333" stroke-width="0.6"/>
<text x="506.46" y="230" font-size="6.3" text-anchor="middle" fill="#1a1a1a"  textLength="3.66" lengthAdjust="spacingAndGlyphs">9</text>
<line x1="519.73" y1="221.4" x2="519.73" y2="223.4" stroke="#333" stroke-width="0.6"/>
<text x="519.73" y="230" font-size="6.3" text-anchor="middle" fill="#1a1a1a"  textLength="7.32" lengthAdjust="spacingAndGlyphs">10</text>
<text x="460.02" y="127.1" font-size="6.9" text-anchor="middle" fill="#111"  textLength="52.75" lengthAdjust="spacingAndGlyphs">skewness(ATM)</text>
<rect x="491.3" y="133.2" width="32" height="19.1" rx="1" fill="#fff" fill-opacity="0.85" stroke="#dcdcdc" stroke-width="0.6"/>
<circle cx="499.1" cy="138.2" r="2.3" fill="#0000ff"/>
<polygon points="499.00,144.20 499.62,145.75 501.28,145.86 500.00,146.92 500.41,148.54 499.00,147.65 497.59,148.54 498.00,146.92 496.72,145.86 498.38,145.75" fill="#ff9f10"/>
<text x="509.9" y="140.3" font-size="6.3" text-anchor="start" fill="#1a1a1a"  textLength="8.30" lengthAdjust="spacingAndGlyphs">ON</text>
<text x="509.9" y="148.6" font-size="6.3" text-anchor="start" fill="#1a1a1a"  textLength="10.46" lengthAdjust="spacingAndGlyphs">OFF</text>
<polyline points="558.1,214.6 571.43,217.8 584.76,196.9 598.09,199.2 611.42,210.1 624.75,215.5 638.08,152.8 651.41,205.5 664.74,213.9 678.07,161.4" fill="none" stroke="#c8c8ff" stroke-width="1.1" stroke-dasharray="3.0,1.5"/>
<polyline points="558.1,211.2 571.43,207.35 584.76,170.9 598.09,185.6 611.42,210.5 624.75,211.2 638.08,134.7 651.41,187.4 664.74,180.6 678.07,180.2" fill="none" stroke="#ffc866" stroke-width="1.1" stroke-dasharray="3.0,1.5"/>
<circle cx="558.1" cy="214.6" r="2.3" fill="#0000ff"/>
<circle cx="571.43" cy="217.8" r="2.3" fill="#0000ff"/>
<circle cx="584.76" cy="196.9" r="2.3" fill="#0000ff"/>
<circle cx="598.09" cy="199.2" r="2.3" fill="#0000ff"/>
<circle cx="611.42" cy="210.1" r="2.3" fill="#0000ff"/>
<circle cx="624.75" cy="215.5" r="2.3" fill="#0000ff"/>
<circle cx="638.08" cy="152.8" r="2.3" fill="#0000ff"/>
<circle cx="651.41" cy="205.5" r="2.3" fill="#0000ff"/>
<circle cx="664.74" cy="213.9" r="2.3" fill="#0000ff"/>
<circle cx="678.07" cy="161.4" r="2.3" fill="#0000ff"/>
<polygon points="558.10,208.70 558.75,210.31 560.48,210.43 559.15,211.54 559.57,213.22 558.10,212.30 556.63,213.22 557.05,211.54 555.72,210.43 557.45,210.31" fill="#ff9f10"/>
<polygon points="571.43,204.85 572.08,206.46 573.81,206.58 572.48,207.69 572.90,209.37 571.43,208.45 569.96,209.37 570.38,207.69 569.05,206.58 570.78,206.46" fill="#ff9f10"/>
<polygon points="584.76,168.40 585.41,170.01 587.14,170.13 585.81,171.24 586.23,172.92 584.76,172.00 583.29,172.92 583.71,171.24 582.38,170.13 584.11,170.01" fill="#ff9f10"/>
<polygon points="598.09,183.10 598.74,184.71 600.47,184.83 599.14,185.94 599.56,187.62 598.09,186.70 596.62,187.62 597.04,185.94 595.71,184.83 597.44,184.71" fill="#ff9f10"/>
<polygon points="611.42,208.00 612.07,209.61 613.80,209.73 612.47,210.84 612.89,212.52 611.42,211.60 609.95,212.52 610.37,210.84 609.04,209.73 610.77,209.61" fill="#ff9f10"/>
<polygon points="624.75,208.70 625.40,210.31 627.13,210.43 625.80,211.54 626.22,213.22 624.75,212.30 623.28,213.22 623.70,211.54 622.37,210.43 624.10,210.31" fill="#ff9f10"/>
<polygon points="638.08,132.20 638.73,133.81 640.46,133.93 639.13,135.04 639.55,136.72 638.08,135.80 636.61,136.72 637.03,135.04 635.70,133.93 637.43,133.81" fill="#ff9f10"/>
<polygon points="651.41,184.90 652.06,186.51 653.79,186.63 652.46,187.74 652.88,189.42 651.41,188.50 649.94,189.42 650.36,187.74 649.03,186.63 650.76,186.51" fill="#ff9f10"/>
<polygon points="664.74,178.10 665.39,179.71 667.12,179.83 665.79,180.94 666.21,182.62 664.74,181.70 663.27,182.62 663.69,180.94 662.36,179.83 664.09,179.71" fill="#ff9f10"/>
<polygon points="678.07,177.70 678.72,179.31 680.45,179.43 679.12,180.54 679.54,182.22 678.07,181.30 676.60,182.22 677.02,180.54 675.69,179.43 677.42,179.31" fill="#ff9f10"/>
<rect x="552.55" y="130.5" width="130.95" height="90.9" fill="none" stroke="#3c3c3c" stroke-width="1"/>
<line x1="550.55" y1="203.02" x2="552.55" y2="203.02" stroke="#333" stroke-width="0.6"/>
<text x="548.15" y="206.12" font-size="6.4" text-anchor="end" fill="#1a1a1a"  textLength="3.66" lengthAdjust="spacingAndGlyphs">1</text>
<line x1="550.55" y1="182.44" x2="552.55" y2="182.44" stroke="#333" stroke-width="0.6"/>
<text x="548.15" y="185.54" font-size="6.4" text-anchor="end" fill="#1a1a1a"  textLength="3.66" lengthAdjust="spacingAndGlyphs">2</text>
<line x1="550.55" y1="161.86" x2="552.55" y2="161.86" stroke="#333" stroke-width="0.6"/>
<text x="548.15" y="164.96" font-size="6.4" text-anchor="end" fill="#1a1a1a"  textLength="3.66" lengthAdjust="spacingAndGlyphs">3</text>
<line x1="550.55" y1="141.28" x2="552.55" y2="141.28" stroke="#333" stroke-width="0.6"/>
<text x="548.15" y="144.38" font-size="6.4" text-anchor="end" fill="#1a1a1a"  textLength="3.66" lengthAdjust="spacingAndGlyphs">4</text>
<line x1="558.1" y1="221.4" x2="558.1" y2="223.4" stroke="#333" stroke-width="0.6"/>
<text x="558.1" y="230" font-size="6.3" text-anchor="middle" fill="#1a1a1a"  textLength="3.66" lengthAdjust="spacingAndGlyphs">1</text>
<line x1="571.43" y1="221.4" x2="571.43" y2="223.4" stroke="#333" stroke-width="0.6"/>
<text x="571.43" y="230" font-size="6.3" text-anchor="middle" fill="#1a1a1a"  textLength="3.66" lengthAdjust="spacingAndGlyphs">2</text>
<line x1="584.76" y1="221.4" x2="584.76" y2="223.4" stroke="#333" stroke-width="0.6"/>
<text x="584.76" y="230" font-size="6.3" text-anchor="middle" fill="#1a1a1a"  textLength="3.66" lengthAdjust="spacingAndGlyphs">3</text>
<line x1="598.09" y1="221.4" x2="598.09" y2="223.4" stroke="#333" stroke-width="0.6"/>
<text x="598.09" y="230" font-size="6.3" text-anchor="middle" fill="#1a1a1a"  textLength="3.66" lengthAdjust="spacingAndGlyphs">4</text>
<line x1="611.42" y1="221.4" x2="611.42" y2="223.4" stroke="#333" stroke-width="0.6"/>
<text x="611.42" y="230" font-size="6.3" text-anchor="middle" fill="#1a1a1a"  textLength="3.66" lengthAdjust="spacingAndGlyphs">5</text>
<line x1="624.75" y1="221.4" x2="624.75" y2="223.4" stroke="#333" stroke-width="0.6"/>
<text x="624.75" y="230" font-size="6.3" text-anchor="middle" fill="#1a1a1a"  textLength="3.66" lengthAdjust="spacingAndGlyphs">6</text>
<line x1="638.08" y1="221.4" x2="638.08" y2="223.4" stroke="#333" stroke-width="0.6"/>
<text x="638.08" y="230" font-size="6.3" text-anchor="middle" fill="#1a1a1a"  textLength="3.66" lengthAdjust="spacingAndGlyphs">7</text>
<line x1="651.41" y1="221.4" x2="651.41" y2="223.4" stroke="#333" stroke-width="0.6"/>
<text x="651.41" y="230" font-size="6.3" text-anchor="middle" fill="#1a1a1a"  textLength="3.66" lengthAdjust="spacingAndGlyphs">8</text>
<line x1="664.74" y1="221.4" x2="664.74" y2="223.4" stroke="#333" stroke-width="0.6"/>
<text x="664.74" y="230" font-size="6.3" text-anchor="middle" fill="#1a1a1a"  textLength="3.66" lengthAdjust="spacingAndGlyphs">9</text>
<line x1="678.07" y1="221.4" x2="678.07" y2="223.4" stroke="#333" stroke-width="0.6"/>
<text x="678.07" y="230" font-size="6.3" text-anchor="middle" fill="#1a1a1a"  textLength="7.32" lengthAdjust="spacingAndGlyphs">10</text>
<text x="618.02" y="127.1" font-size="6.9" text-anchor="middle" fill="#111"  textLength="46.75" lengthAdjust="spacingAndGlyphs">kurtosis(ATM)</text>
<rect x="649.3" y="133.2" width="32" height="19.1" rx="1" fill="#fff" fill-opacity="0.85" stroke="#dcdcdc" stroke-width="0.6"/>
<circle cx="657.1" cy="138.2" r="2.3" fill="#0000ff"/>
<polygon points="657.00,144.20 657.62,145.75 659.28,145.86 658.00,146.92 658.41,148.54 657.00,147.65 655.59,148.54 656.00,146.92 654.72,145.86 656.38,145.75" fill="#ff9f10"/>
<text x="667.9" y="140.3" font-size="6.3" text-anchor="start" fill="#1a1a1a"  textLength="8.30" lengthAdjust="spacingAndGlyphs">ON</text>
<text x="667.9" y="148.6" font-size="6.3" text-anchor="start" fill="#1a1a1a"  textLength="10.46" lengthAdjust="spacingAndGlyphs">OFF</text>
<polyline points="400.3,305 413.57,285.75 426.84,336.2 440.11,266.7 453.38,270.1 466.65,315.8 479.92,287.3 493.19,316.1 506.46,315.6 519.73,332.1" fill="none" stroke="#c8c8ff" stroke-width="1.1" stroke-dasharray="3.0,1.5"/>
<polyline points="400.3,290.7 413.57,269.7 426.84,317.2 440.11,270.4 453.38,253.2 466.65,289.6 479.92,287.8 493.19,306.8 506.46,303.85 519.73,296.4" fill="none" stroke="#ffc866" stroke-width="1.1" stroke-dasharray="3.0,1.5"/>
<circle cx="400.3" cy="305" r="2.3" fill="#0000ff"/>
<circle cx="413.57" cy="285.75" r="2.3" fill="#0000ff"/>
<circle cx="426.84" cy="336.2" r="2.3" fill="#0000ff"/>
<circle cx="440.11" cy="266.7" r="2.3" fill="#0000ff"/>
<circle cx="453.38" cy="270.1" r="2.3" fill="#0000ff"/>
<circle cx="466.65" cy="315.8" r="2.3" fill="#0000ff"/>
<circle cx="479.92" cy="287.3" r="2.3" fill="#0000ff"/>
<circle cx="493.19" cy="316.1" r="2.3" fill="#0000ff"/>
<circle cx="506.46" cy="315.6" r="2.3" fill="#0000ff"/>
<circle cx="519.73" cy="332.1" r="2.3" fill="#0000ff"/>
<polygon points="400.30,288.20 400.95,289.81 402.68,289.93 401.35,291.04 401.77,292.72 400.30,291.80 398.83,292.72 399.25,291.04 397.92,289.93 399.65,289.81" fill="#ff9f10"/>
<polygon points="413.57,267.20 414.22,268.81 415.95,268.93 414.62,270.04 415.04,271.72 413.57,270.80 412.10,271.72 412.52,270.04 411.19,268.93 412.92,268.81" fill="#ff9f10"/>
<polygon points="426.84,314.70 427.49,316.31 429.22,316.43 427.89,317.54 428.31,319.22 426.84,318.30 425.37,319.22 425.79,317.54 424.46,316.43 426.19,316.31" fill="#ff9f10"/>
<polygon points="440.11,267.90 440.76,269.51 442.49,269.63 441.16,270.74 441.58,272.42 440.11,271.50 438.64,272.42 439.06,270.74 437.73,269.63 439.46,269.51" fill="#ff9f10"/>
<polygon points="453.38,250.70 454.03,252.31 455.76,252.43 454.43,253.54 454.85,255.22 453.38,254.30 451.91,255.22 452.33,253.54 451.00,252.43 452.73,252.31" fill="#ff9f10"/>
<polygon points="466.65,287.10 467.30,288.71 469.03,288.83 467.70,289.94 468.12,291.62 466.65,290.70 465.18,291.62 465.60,289.94 464.27,288.83 466.00,288.71" fill="#ff9f10"/>
<polygon points="479.92,285.30 480.57,286.91 482.30,287.03 480.97,288.14 481.39,289.82 479.92,288.90 478.45,289.82 478.87,288.14 477.54,287.03 479.27,286.91" fill="#ff9f10"/>
<polygon points="493.19,304.30 493.84,305.91 495.57,306.03 494.24,307.14 494.66,308.82 493.19,307.90 491.72,308.82 492.14,307.14 490.81,306.03 492.54,305.91" fill="#ff9f10"/>
<polygon points="506.46,301.35 507.11,302.96 508.84,303.08 507.51,304.19 507.93,305.87 506.46,304.95 504.99,305.87 505.41,304.19 504.08,303.08 505.81,302.96" fill="#ff9f10"/>
<polygon points="519.73,293.90 520.38,295.51 522.11,295.63 520.78,296.74 521.20,298.42 519.73,297.50 518.26,298.42 518.68,296.74 517.35,295.63 519.08,295.51" fill="#ff9f10"/>
<rect x="394.55" y="249.5" width="130.95" height="91" fill="none" stroke="#3c3c3c" stroke-width="1"/>
<line x1="392.55" y1="335.5" x2="394.55" y2="335.5" stroke="#333" stroke-width="0.6"/>
<text x="390.15" y="338.6" font-size="6.4" text-anchor="end" fill="#1a1a1a"  textLength="9.14" lengthAdjust="spacingAndGlyphs">0.3</text>
<line x1="392.55" y1="318.3" x2="394.55" y2="318.3" stroke="#333" stroke-width="0.6"/>
<text x="390.15" y="321.4" font-size="6.4" text-anchor="end" fill="#1a1a1a"  textLength="9.14" lengthAdjust="spacingAndGlyphs">0.4</text>
<line x1="392.55" y1="301.1" x2="394.55" y2="301.1" stroke="#333" stroke-width="0.6"/>
<text x="390.15" y="304.2" font-size="6.4" text-anchor="end" fill="#1a1a1a"  textLength="9.14" lengthAdjust="spacingAndGlyphs">0.5</text>
<line x1="392.55" y1="283.9" x2="394.55" y2="283.9" stroke="#333" stroke-width="0.6"/>
<text x="390.15" y="287" font-size="6.4" text-anchor="end" fill="#1a1a1a"  textLength="9.14" lengthAdjust="spacingAndGlyphs">0.6</text>
<line x1="392.55" y1="266.7" x2="394.55" y2="266.7" stroke="#333" stroke-width="0.6"/>
<text x="390.15" y="269.8" font-size="6.4" text-anchor="end" fill="#1a1a1a"  textLength="9.14" lengthAdjust="spacingAndGlyphs">0.7</text>
<line x1="392.55" y1="249.5" x2="394.55" y2="249.5" stroke="#333" stroke-width="0.6"/>
<text x="390.15" y="252.6" font-size="6.4" text-anchor="end" fill="#1a1a1a"  textLength="9.14" lengthAdjust="spacingAndGlyphs">0.8</text>
<line x1="400.3" y1="340.5" x2="400.3" y2="342.5" stroke="#333" stroke-width="0.6"/>
<text x="400.3" y="349.1" font-size="6.3" text-anchor="middle" fill="#1a1a1a"  textLength="3.66" lengthAdjust="spacingAndGlyphs">1</text>
<line x1="413.57" y1="340.5" x2="413.57" y2="342.5" stroke="#333" stroke-width="0.6"/>
<text x="413.57" y="349.1" font-size="6.3" text-anchor="middle" fill="#1a1a1a"  textLength="3.66" lengthAdjust="spacingAndGlyphs">2</text>
<line x1="426.84" y1="340.5" x2="426.84" y2="342.5" stroke="#333" stroke-width="0.6"/>
<text x="426.84" y="349.1" font-size="6.3" text-anchor="middle" fill="#1a1a1a"  textLength="3.66" lengthAdjust="spacingAndGlyphs">3</text>
<line x1="440.11" y1="340.5" x2="440.11" y2="342.5" stroke="#333" stroke-width="0.6"/>
<text x="440.11" y="349.1" font-size="6.3" text-anchor="middle" fill="#1a1a1a"  textLength="3.66" lengthAdjust="spacingAndGlyphs">4</text>
<line x1="453.38" y1="340.5" x2="453.38" y2="342.5" stroke="#333" stroke-width="0.6"/>
<text x="453.38" y="349.1" font-size="6.3" text-anchor="middle" fill="#1a1a1a"  textLength="3.66" lengthAdjust="spacingAndGlyphs">5</text>
<line x1="466.65" y1="340.5" x2="466.65" y2="342.5" stroke="#333" stroke-width="0.6"/>
<text x="466.65" y="349.1" font-size="6.3" text-anchor="middle" fill="#1a1a1a"  textLength="3.66" lengthAdjust="spacingAndGlyphs">6</text>
<line x1="479.92" y1="340.5" x2="479.92" y2="342.5" stroke="#333" stroke-width="0.6"/>
<text x="479.92" y="349.1" font-size="6.3" text-anchor="middle" fill="#1a1a1a"  textLength="3.66" lengthAdjust="spacingAndGlyphs">7</text>
<line x1="493.19" y1="340.5" x2="493.19" y2="342.5" stroke="#333" stroke-width="0.6"/>
<text x="493.19" y="349.1" font-size="6.3" text-anchor="middle" fill="#1a1a1a"  textLength="3.66" lengthAdjust="spacingAndGlyphs">8</text>
<line x1="506.46" y1="340.5" x2="506.46" y2="342.5" stroke="#333" stroke-width="0.6"/>
<text x="506.46" y="349.1" font-size="6.3" text-anchor="middle" fill="#1a1a1a"  textLength="3.66" lengthAdjust="spacingAndGlyphs">9</text>
<line x1="519.73" y1="340.5" x2="519.73" y2="342.5" stroke="#333" stroke-width="0.6"/>
<text x="519.73" y="349.1" font-size="6.3" text-anchor="middle" fill="#1a1a1a"  textLength="7.32" lengthAdjust="spacingAndGlyphs">10</text>
<text x="460.02" y="246.1" font-size="6.9" text-anchor="middle" fill="#111"  textLength="29.28" lengthAdjust="spacingAndGlyphs">CV(ATM)</text>
<rect x="491.3" y="252.2" width="32" height="19.1" rx="1" fill="#fff" fill-opacity="0.85" stroke="#dcdcdc" stroke-width="0.6"/>
<circle cx="499.1" cy="257.2" r="2.3" fill="#0000ff"/>
<polygon points="499.00,263.20 499.62,264.75 501.28,264.86 500.00,265.92 500.41,267.54 499.00,266.65 497.59,267.54 498.00,265.92 496.72,264.86 498.38,264.75" fill="#ff9f10"/>
<text x="509.9" y="259.3" font-size="6.3" text-anchor="start" fill="#1a1a1a"  textLength="8.30" lengthAdjust="spacingAndGlyphs">ON</text>
<text x="509.9" y="267.6" font-size="6.3" text-anchor="start" fill="#1a1a1a"  textLength="10.46" lengthAdjust="spacingAndGlyphs">OFF</text>
<polyline points="558.1,304.3 571.43,319.9 584.76,253.4 598.09,330.8 611.42,329 624.75,291.9 638.08,318.6 651.41,291.6 664.74,292.1 678.07,263.3" fill="none" stroke="#c8c8ff" stroke-width="1.1" stroke-dasharray="3.0,1.5"/>
<polyline points="558.1,316.5 571.43,329.2 584.76,289.6 598.09,329 611.42,336 624.75,317 638.08,318.6 651.41,302.3 664.74,305.2 678.07,312.2" fill="none" stroke="#ffc866" stroke-width="1.1" stroke-dasharray="3.0,1.5"/>
<circle cx="558.1" cy="304.3" r="2.3" fill="#0000ff"/>
<circle cx="571.43" cy="319.9" r="2.3" fill="#0000ff"/>
<circle cx="584.76" cy="253.4" r="2.3" fill="#0000ff"/>
<circle cx="598.09" cy="330.8" r="2.3" fill="#0000ff"/>
<circle cx="611.42" cy="329" r="2.3" fill="#0000ff"/>
<circle cx="624.75" cy="291.9" r="2.3" fill="#0000ff"/>
<circle cx="638.08" cy="318.6" r="2.3" fill="#0000ff"/>
<circle cx="651.41" cy="291.6" r="2.3" fill="#0000ff"/>
<circle cx="664.74" cy="292.1" r="2.3" fill="#0000ff"/>
<circle cx="678.07" cy="263.3" r="2.3" fill="#0000ff"/>
<polygon points="558.10,314.00 558.75,315.61 560.48,315.73 559.15,316.84 559.57,318.52 558.10,317.60 556.63,318.52 557.05,316.84 555.72,315.73 557.45,315.61" fill="#ff9f10"/>
<polygon points="571.43,326.70 572.08,328.31 573.81,328.43 572.48,329.54 572.90,331.22 571.43,330.30 569.96,331.22 570.38,329.54 569.05,328.43 570.78,328.31" fill="#ff9f10"/>
<polygon points="584.76,287.10 585.41,288.71 587.14,288.83 585.81,289.94 586.23,291.62 584.76,290.70 583.29,291.62 583.71,289.94 582.38,288.83 584.11,288.71" fill="#ff9f10"/>
<polygon points="598.09,326.50 598.74,328.11 600.47,328.23 599.14,329.34 599.56,331.02 598.09,330.10 596.62,331.02 597.04,329.34 595.71,328.23 597.44,328.11" fill="#ff9f10"/>
<polygon points="611.42,333.50 612.07,335.11 613.80,335.23 612.47,336.34 612.89,338.02 611.42,337.10 609.95,338.02 610.37,336.34 609.04,335.23 610.77,335.11" fill="#ff9f10"/>
<polygon points="624.75,314.50 625.40,316.11 627.13,316.23 625.80,317.34 626.22,319.02 624.75,318.10 623.28,319.02 623.70,317.34 622.37,316.23 624.10,316.11" fill="#ff9f10"/>
<polygon points="638.08,316.10 638.73,317.71 640.46,317.83 639.13,318.94 639.55,320.62 638.08,319.70 636.61,320.62 637.03,318.94 635.70,317.83 637.43,317.71" fill="#ff9f10"/>
<polygon points="651.41,299.80 652.06,301.41 653.79,301.53 652.46,302.64 652.88,304.32 651.41,303.40 649.94,304.32 650.36,302.64 649.03,301.53 650.76,301.41" fill="#ff9f10"/>
<polygon points="664.74,302.70 665.39,304.31 667.12,304.43 665.79,305.54 666.21,307.22 664.74,306.30 663.27,307.22 663.69,305.54 662.36,304.43 664.09,304.31" fill="#ff9f10"/>
<polygon points="678.07,309.70 678.72,311.31 680.45,311.43 679.12,312.54 679.54,314.22 678.07,313.30 676.60,314.22 677.02,312.54 675.69,311.43 677.42,311.31" fill="#ff9f10"/>
<rect x="552.55" y="249.5" width="130.95" height="91" fill="none" stroke="#3c3c3c" stroke-width="1"/>
<line x1="550.55" y1="327.82" x2="552.55" y2="327.82" stroke="#333" stroke-width="0.6"/>
<text x="548.15" y="330.93" font-size="6.4" text-anchor="end" fill="#1a1a1a"  textLength="9.14" lengthAdjust="spacingAndGlyphs">1.5</text>
<line x1="550.55" y1="308.2" x2="552.55" y2="308.2" stroke="#333" stroke-width="0.6"/>
<text x="548.15" y="311.3" font-size="6.4" text-anchor="end" fill="#1a1a1a"  textLength="9.14" lengthAdjust="spacingAndGlyphs">2.0</text>
<line x1="550.55" y1="288.57" x2="552.55" y2="288.57" stroke="#333" stroke-width="0.6"/>
<text x="548.15" y="291.68" font-size="6.4" text-anchor="end" fill="#1a1a1a"  textLength="9.14" lengthAdjust="spacingAndGlyphs">2.5</text>
<line x1="550.55" y1="268.95" x2="552.55" y2="268.95" stroke="#333" stroke-width="0.6"/>
<text x="548.15" y="272.05" font-size="6.4" text-anchor="end" fill="#1a1a1a"  textLength="9.14" lengthAdjust="spacingAndGlyphs">3.0</text>
<line x1="550.55" y1="249.32" x2="552.55" y2="249.32" stroke="#333" stroke-width="0.6"/>
<text x="548.15" y="252.42" font-size="6.4" text-anchor="end" fill="#1a1a1a"  textLength="9.14" lengthAdjust="spacingAndGlyphs">3.5</text>
<line x1="558.1" y1="340.5" x2="558.1" y2="342.5" stroke="#333" stroke-width="0.6"/>
<text x="558.1" y="349.1" font-size="6.3" text-anchor="middle" fill="#1a1a1a"  textLength="3.66" lengthAdjust="spacingAndGlyphs">1</text>
<line x1="571.43" y1="340.5" x2="571.43" y2="342.5" stroke="#333" stroke-width="0.6"/>
<text x="571.43" y="349.1" font-size="6.3" text-anchor="middle" fill="#1a1a1a"  textLength="3.66" lengthAdjust="spacingAndGlyphs">2</text>
<line x1="584.76" y1="340.5" x2="584.76" y2="342.5" stroke="#333" stroke-width="0.6"/>
<text x="584.76" y="349.1" font-size="6.3" text-anchor="middle" fill="#1a1a1a"  textLength="3.66" lengthAdjust="spacingAndGlyphs">3</text>
<line x1="598.09" y1="340.5" x2="598.09" y2="342.5" stroke="#333" stroke-width="0.6"/>
<text x="598.09" y="349.1" font-size="6.3" text-anchor="middle" fill="#1a1a1a"  textLength="3.66" lengthAdjust="spacingAndGlyphs">4</text>
<line x1="611.42" y1="340.5" x2="611.42" y2="342.5" stroke="#333" stroke-width="0.6"/>
<text x="611.42" y="349.1" font-size="6.3" text-anchor="middle" fill="#1a1a1a"  textLength="3.66" lengthAdjust="spacingAndGlyphs">5</text>
<line x1="624.75" y1="340.5" x2="624.75" y2="342.5" stroke="#333" stroke-width="0.6"/>
<text x="624.75" y="349.1" font-size="6.3" text-anchor="middle" fill="#1a1a1a"  textLength="3.66" lengthAdjust="spacingAndGlyphs">6</text>
<line x1="638.08" y1="340.5" x2="638.08" y2="342.5" stroke="#333" stroke-width="0.6"/>
<text x="638.08" y="349.1" font-size="6.3" text-anchor="middle" fill="#1a1a1a"  textLength="3.66" lengthAdjust="spacingAndGlyphs">7</text>
<line x1="651.41" y1="340.5" x2="651.41" y2="342.5" stroke="#333" stroke-width="0.6"/>
<text x="651.41" y="349.1" font-size="6.3" text-anchor="middle" fill="#1a1a1a"  textLength="3.66" lengthAdjust="spacingAndGlyphs">8</text>
<line x1="664.74" y1="340.5" x2="664.74" y2="342.5" stroke="#333" stroke-width="0.6"/>
<text x="664.74" y="349.1" font-size="6.3" text-anchor="middle" fill="#1a1a1a"  textLength="3.66" lengthAdjust="spacingAndGlyphs">9</text>
<line x1="678.07" y1="340.5" x2="678.07" y2="342.5" stroke="#333" stroke-width="0.6"/>
<text x="678.07" y="349.1" font-size="6.3" text-anchor="middle" fill="#1a1a1a"  textLength="7.32" lengthAdjust="spacingAndGlyphs">10</text>
<text x="618.02" y="246.1" font-size="6.9" text-anchor="middle" fill="#111"  textLength="31.33" lengthAdjust="spacingAndGlyphs">ICV(ATM)</text>
<rect x="649.3" y="318.7" width="32" height="19.1" rx="1" fill="#fff" fill-opacity="0.85" stroke="#dcdcdc" stroke-width="0.6"/>
<circle cx="657.1" cy="323.7" r="2.3" fill="#0000ff"/>
<polygon points="657.00,329.70 657.62,331.25 659.28,331.36 658.00,332.42 658.41,334.04 657.00,333.15 655.59,334.04 656.00,332.42 654.72,331.36 656.38,331.25" fill="#ff9f10"/>
<text x="667.9" y="325.8" font-size="6.3" text-anchor="start" fill="#1a1a1a"  textLength="8.30" lengthAdjust="spacingAndGlyphs">ON</text>
<text x="667.9" y="334.1" font-size="6.3" text-anchor="start" fill="#1a1a1a"  textLength="10.46" lengthAdjust="spacingAndGlyphs">OFF</text>
<polyline points="400.3,401.9 413.57,434.5 426.84,372.1 440.11,433.2 453.38,449.5 466.65,393.1 479.92,449.7 493.19,411.4 506.46,396.7 519.73,390.4" fill="none" stroke="#c8c8ff" stroke-width="1.1" stroke-dasharray="3.0,1.5"/>
<polyline points="400.3,417.8 413.57,443.1 426.84,415.7 440.11,447 453.38,449.2 466.65,419.6 479.92,454.7 493.19,420.9 506.46,425 519.73,431.4" fill="none" stroke="#ffc866" stroke-width="1.1" stroke-dasharray="3.0,1.5"/>
<circle cx="400.3" cy="401.9" r="2.3" fill="#0000ff"/>
<circle cx="413.57" cy="434.5" r="2.3" fill="#0000ff"/>
<circle cx="426.84" cy="372.1" r="2.3" fill="#0000ff"/>
<circle cx="440.11" cy="433.2" r="2.3" fill="#0000ff"/>
<circle cx="453.38" cy="449.5" r="2.3" fill="#0000ff"/>
<circle cx="466.65" cy="393.1" r="2.3" fill="#0000ff"/>
<circle cx="479.92" cy="449.7" r="2.3" fill="#0000ff"/>
<circle cx="493.19" cy="411.4" r="2.3" fill="#0000ff"/>
<circle cx="506.46" cy="396.7" r="2.3" fill="#0000ff"/>
<circle cx="519.73" cy="390.4" r="2.3" fill="#0000ff"/>
<polygon points="400.30,415.30 400.95,416.91 402.68,417.03 401.35,418.14 401.77,419.82 400.30,418.90 398.83,419.82 399.25,418.14 397.92,417.03 399.65,416.91" fill="#ff9f10"/>
<polygon points="413.57,440.60 414.22,442.21 415.95,442.33 414.62,443.44 415.04,445.12 413.57,444.20 412.10,445.12 412.52,443.44 411.19,442.33 412.92,442.21" fill="#ff9f10"/>
<polygon points="426.84,413.20 427.49,414.81 429.22,414.93 427.89,416.04 428.31,417.72 426.84,416.80 425.37,417.72 425.79,416.04 424.46,414.93 426.19,414.81" fill="#ff9f10"/>
<polygon points="440.11,444.50 440.76,446.11 442.49,446.23 441.16,447.34 441.58,449.02 440.11,448.10 438.64,449.02 439.06,447.34 437.73,446.23 439.46,446.11" fill="#ff9f10"/>
<polygon points="453.38,446.70 454.03,448.31 455.76,448.43 454.43,449.54 454.85,451.22 453.38,450.30 451.91,451.22 452.33,449.54 451.00,448.43 452.73,448.31" fill="#ff9f10"/>
<polygon points="466.65,417.10 467.30,418.71 469.03,418.83 467.70,419.94 468.12,421.62 466.65,420.70 465.18,421.62 465.60,419.94 464.27,418.83 466.00,418.71" fill="#ff9f10"/>
<polygon points="479.92,452.20 480.57,453.81 482.30,453.93 480.97,455.04 481.39,456.72 479.92,455.80 478.45,456.72 478.87,455.04 477.54,453.93 479.27,453.81" fill="#ff9f10"/>
<polygon points="493.19,418.40 493.84,420.01 495.57,420.13 494.24,421.24 494.66,422.92 493.19,422.00 491.72,422.92 492.14,421.24 490.81,420.13 492.54,420.01" fill="#ff9f10"/>
<polygon points="506.46,422.50 507.11,424.11 508.84,424.23 507.51,425.34 507.93,427.02 506.46,426.10 504.99,427.02 505.41,425.34 504.08,424.23 505.81,424.11" fill="#ff9f10"/>
<polygon points="519.73,428.90 520.38,430.51 522.11,430.63 520.78,431.74 521.20,433.42 519.73,432.50 518.26,433.42 518.68,431.74 517.35,430.63 519.08,430.51" fill="#ff9f10"/>
<rect x="394.55" y="367.8" width="130.95" height="91.5" fill="none" stroke="#3c3c3c" stroke-width="1"/>
<line x1="392.55" y1="436.3" x2="394.55" y2="436.3" stroke="#333" stroke-width="0.6"/>
<text x="390.15" y="439.4" font-size="6.4" text-anchor="end" fill="#1a1a1a"  textLength="9.14" lengthAdjust="spacingAndGlyphs">1.5</text>
<line x1="392.55" y1="412.35" x2="394.55" y2="412.35" stroke="#333" stroke-width="0.6"/>
<text x="390.15" y="415.45" font-size="6.4" text-anchor="end" fill="#1a1a1a"  textLength="9.14" lengthAdjust="spacingAndGlyphs">2.0</text>
<line x1="392.55" y1="388.4" x2="394.55" y2="388.4" stroke="#333" stroke-width="0.6"/>
<text x="390.15" y="391.5" font-size="6.4" text-anchor="end" fill="#1a1a1a"  textLength="9.14" lengthAdjust="spacingAndGlyphs">2.5</text>
<line x1="400.3" y1="459.3" x2="400.3" y2="461.3" stroke="#333" stroke-width="0.6"/>
<text x="400.3" y="467.9" font-size="6.3" text-anchor="middle" fill="#1a1a1a"  textLength="3.66" lengthAdjust="spacingAndGlyphs">1</text>
<line x1="413.57" y1="459.3" x2="413.57" y2="461.3" stroke="#333" stroke-width="0.6"/>
<text x="413.57" y="467.9" font-size="6.3" text-anchor="middle" fill="#1a1a1a"  textLength="3.66" lengthAdjust="spacingAndGlyphs">2</text>
<line x1="426.84" y1="459.3" x2="426.84" y2="461.3" stroke="#333" stroke-width="0.6"/>
<text x="426.84" y="467.9" font-size="6.3" text-anchor="middle" fill="#1a1a1a"  textLength="3.66" lengthAdjust="spacingAndGlyphs">3</text>
<line x1="440.11" y1="459.3" x2="440.11" y2="461.3" stroke="#333" stroke-width="0.6"/>
<text x="440.11" y="467.9" font-size="6.3" text-anchor="middle" fill="#1a1a1a"  textLength="3.66" lengthAdjust="spacingAndGlyphs">4</text>
<line x1="453.38" y1="459.3" x2="453.38" y2="461.3" stroke="#333" stroke-width="0.6"/>
<text x="453.38" y="467.9" font-size="6.3" text-anchor="middle" fill="#1a1a1a"  textLength="3.66" lengthAdjust="spacingAndGlyphs">5</text>
<line x1="466.65" y1="459.3" x2="466.65" y2="461.3" stroke="#333" stroke-width="0.6"/>
<text x="466.65" y="467.9" font-size="6.3" text-anchor="middle" fill="#1a1a1a"  textLength="3.66" lengthAdjust="spacingAndGlyphs">6</text>
<line x1="479.92" y1="459.3" x2="479.92" y2="461.3" stroke="#333" stroke-width="0.6"/>
<text x="479.92" y="467.9" font-size="6.3" text-anchor="middle" fill="#1a1a1a"  textLength="3.66" lengthAdjust="spacingAndGlyphs">7</text>
<line x1="493.19" y1="459.3" x2="493.19" y2="461.3" stroke="#333" stroke-width="0.6"/>
<text x="493.19" y="467.9" font-size="6.3" text-anchor="middle" fill="#1a1a1a"  textLength="3.66" lengthAdjust="spacingAndGlyphs">8</text>
<line x1="506.46" y1="459.3" x2="506.46" y2="461.3" stroke="#333" stroke-width="0.6"/>
<text x="506.46" y="467.9" font-size="6.3" text-anchor="middle" fill="#1a1a1a"  textLength="3.66" lengthAdjust="spacingAndGlyphs">9</text>
<line x1="519.73" y1="459.3" x2="519.73" y2="461.3" stroke="#333" stroke-width="0.6"/>
<text x="519.73" y="467.9" font-size="6.3" text-anchor="middle" fill="#1a1a1a"  textLength="7.32" lengthAdjust="spacingAndGlyphs">10</text>
<text x="460.02" y="364.4" font-size="6.9" text-anchor="middle" fill="#111"  textLength="37.78" lengthAdjust="spacingAndGlyphs">norm(ATM)</text>
<rect x="491.3" y="370.5" width="32" height="19.1" rx="1" fill="#fff" fill-opacity="0.85" stroke="#dcdcdc" stroke-width="0.6"/>
<circle cx="499.1" cy="375.5" r="2.3" fill="#0000ff"/>
<polygon points="499.00,381.50 499.62,383.05 501.28,383.16 500.00,384.22 500.41,385.84 499.00,384.95 497.59,385.84 498.00,384.22 496.72,383.16 498.38,383.05" fill="#ff9f10"/>
<text x="509.9" y="377.6" font-size="6.3" text-anchor="start" fill="#1a1a1a"  textLength="8.30" lengthAdjust="spacingAndGlyphs">ON</text>
<text x="509.9" y="385.9" font-size="6.3" text-anchor="start" fill="#1a1a1a"  textLength="10.46" lengthAdjust="spacingAndGlyphs">OFF</text>
<polyline points="558.1,406.9 571.43,436.6 584.76,429.5 598.09,450.8 611.42,372.1 624.75,426.2 638.08,412.6 651.41,442.2 664.74,435.9 678.07,387.2" fill="none" stroke="#c8c8ff" stroke-width="1.1" stroke-dasharray="3.0,1.5"/>
<polyline points="558.1,405.8 571.43,427.7 584.76,436.3 598.09,454.9 611.42,383.6 624.75,424.8 638.08,421.6 651.41,429.5 664.74,418 678.07,407.6" fill="none" stroke="#ffc866" stroke-width="1.1" stroke-dasharray="3.0,1.5"/>
<circle cx="558.1" cy="406.9" r="2.3" fill="#0000ff"/>
<circle cx="571.43" cy="436.6" r="2.3" fill="#0000ff"/>
<circle cx="584.76" cy="429.5" r="2.3" fill="#0000ff"/>
<circle cx="598.09" cy="450.8" r="2.3" fill="#0000ff"/>
<circle cx="611.42" cy="372.1" r="2.3" fill="#0000ff"/>
<circle cx="624.75" cy="426.2" r="2.3" fill="#0000ff"/>
<circle cx="638.08" cy="412.6" r="2.3" fill="#0000ff"/>
<circle cx="651.41" cy="442.2" r="2.3" fill="#0000ff"/>
<circle cx="664.74" cy="435.9" r="2.3" fill="#0000ff"/>
<circle cx="678.07" cy="387.2" r="2.3" fill="#0000ff"/>
<polygon points="558.10,403.30 558.75,404.91 560.48,405.03 559.15,406.14 559.57,407.82 558.10,406.90 556.63,407.82 557.05,406.14 555.72,405.03 557.45,404.91" fill="#ff9f10"/>
<polygon points="571.43,425.20 572.08,426.81 573.81,426.93 572.48,428.04 572.90,429.72 571.43,428.80 569.96,429.72 570.38,428.04 569.05,426.93 570.78,426.81" fill="#ff9f10"/>
<polygon points="584.76,433.80 585.41,435.41 587.14,435.53 585.81,436.64 586.23,438.32 584.76,437.40 583.29,438.32 583.71,436.64 582.38,435.53 584.11,435.41" fill="#ff9f10"/>
<polygon points="598.09,452.40 598.74,454.01 600.47,454.13 599.14,455.24 599.56,456.92 598.09,456.00 596.62,456.92 597.04,455.24 595.71,454.13 597.44,454.01" fill="#ff9f10"/>
<polygon points="611.42,381.10 612.07,382.71 613.80,382.83 612.47,383.94 612.89,385.62 611.42,384.70 609.95,385.62 610.37,383.94 609.04,382.83 610.77,382.71" fill="#ff9f10"/>
<polygon points="624.75,422.30 625.40,423.91 627.13,424.03 625.80,425.14 626.22,426.82 624.75,425.90 623.28,426.82 623.70,425.14 622.37,424.03 624.10,423.91" fill="#ff9f10"/>
<polygon points="638.08,419.10 638.73,420.71 640.46,420.83 639.13,421.94 639.55,423.62 638.08,422.70 636.61,423.62 637.03,421.94 635.70,420.83 637.43,420.71" fill="#ff9f10"/>
<polygon points="651.41,427.00 652.06,428.61 653.79,428.73 652.46,429.84 652.88,431.52 651.41,430.60 649.94,431.52 650.36,429.84 649.03,428.73 650.76,428.61" fill="#ff9f10"/>
<polygon points="664.74,415.50 665.39,417.11 667.12,417.23 665.79,418.34 666.21,420.02 664.74,419.10 663.27,420.02 663.69,418.34 662.36,417.23 664.09,417.11" fill="#ff9f10"/>
<polygon points="678.07,405.10 678.72,406.71 680.45,406.83 679.12,407.94 679.54,409.62 678.07,408.70 676.60,409.62 677.02,407.94 675.69,406.83 677.42,406.71" fill="#ff9f10"/>
<rect x="552.55" y="367.8" width="130.95" height="91.5" fill="none" stroke="#3c3c3c" stroke-width="1"/>
<line x1="550.55" y1="457.57" x2="552.55" y2="457.57" stroke="#333" stroke-width="0.6"/>
<text x="548.15" y="460.68" font-size="6.4" text-anchor="end" fill="#1a1a1a"  textLength="16.46" lengthAdjust="spacingAndGlyphs">0.005</text>
<line x1="550.55" y1="439.35" x2="552.55" y2="439.35" stroke="#333" stroke-width="0.6"/>
<text x="548.15" y="442.45" font-size="6.4" text-anchor="end" fill="#1a1a1a"  textLength="16.46" lengthAdjust="spacingAndGlyphs">0.010</text>
<line x1="550.55" y1="421.12" x2="552.55" y2="421.12" stroke="#333" stroke-width="0.6"/>
<text x="548.15" y="424.23" font-size="6.4" text-anchor="end" fill="#1a1a1a"  textLength="16.46" lengthAdjust="spacingAndGlyphs">0.015</text>
<line x1="550.55" y1="402.9" x2="552.55" y2="402.9" stroke="#333" stroke-width="0.6"/>
<text x="548.15" y="406" font-size="6.4" text-anchor="end" fill="#1a1a1a"  textLength="16.46" lengthAdjust="spacingAndGlyphs">0.020</text>
<line x1="550.55" y1="384.68" x2="552.55" y2="384.68" stroke="#333" stroke-width="0.6"/>
<text x="548.15" y="387.78" font-size="6.4" text-anchor="end" fill="#1a1a1a"  textLength="16.46" lengthAdjust="spacingAndGlyphs">0.025</text>
<line x1="558.1" y1="459.3" x2="558.1" y2="461.3" stroke="#333" stroke-width="0.6"/>
<text x="558.1" y="467.9" font-size="6.3" text-anchor="middle" fill="#1a1a1a"  textLength="3.66" lengthAdjust="spacingAndGlyphs">1</text>
<line x1="571.43" y1="459.3" x2="571.43" y2="461.3" stroke="#333" stroke-width="0.6"/>
<text x="571.43" y="467.9" font-size="6.3" text-anchor="middle" fill="#1a1a1a"  textLength="3.66" lengthAdjust="spacingAndGlyphs">2</text>
<line x1="584.76" y1="459.3" x2="584.76" y2="461.3" stroke="#333" stroke-width="0.6"/>
<text x="584.76" y="467.9" font-size="6.3" text-anchor="middle" fill="#1a1a1a"  textLength="3.66" lengthAdjust="spacingAndGlyphs">3</text>
<line x1="598.09" y1="459.3" x2="598.09" y2="461.3" stroke="#333" stroke-width="0.6"/>
<text x="598.09" y="467.9" font-size="6.3" text-anchor="middle" fill="#1a1a1a"  textLength="3.66" lengthAdjust="spacingAndGlyphs">4</text>
<line x1="611.42" y1="459.3" x2="611.42" y2="461.3" stroke="#333" stroke-width="0.6"/>
<text x="611.42" y="467.9" font-size="6.3" text-anchor="middle" fill="#1a1a1a"  textLength="3.66" lengthAdjust="spacingAndGlyphs">5</text>
<line x1="624.75" y1="459.3" x2="624.75" y2="461.3" stroke="#333" stroke-width="0.6"/>
<text x="624.75" y="467.9" font-size="6.3" text-anchor="middle" fill="#1a1a1a"  textLength="3.66" lengthAdjust="spacingAndGlyphs">6</text>
<line x1="638.08" y1="459.3" x2="638.08" y2="461.3" stroke="#333" stroke-width="0.6"/>
<text x="638.08" y="467.9" font-size="6.3" text-anchor="middle" fill="#1a1a1a"  textLength="3.66" lengthAdjust="spacingAndGlyphs">7</text>
<line x1="651.41" y1="459.3" x2="651.41" y2="461.3" stroke="#333" stroke-width="0.6"/>
<text x="651.41" y="467.9" font-size="6.3" text-anchor="middle" fill="#1a1a1a"  textLength="3.66" lengthAdjust="spacingAndGlyphs">8</text>
<line x1="664.74" y1="459.3" x2="664.74" y2="461.3" stroke="#333" stroke-width="0.6"/>
<text x="664.74" y="467.9" font-size="6.3" text-anchor="middle" fill="#1a1a1a"  textLength="3.66" lengthAdjust="spacingAndGlyphs">9</text>
<line x1="678.07" y1="459.3" x2="678.07" y2="461.3" stroke="#333" stroke-width="0.6"/>
<text x="678.07" y="467.9" font-size="6.3" text-anchor="middle" fill="#1a1a1a"  textLength="7.32" lengthAdjust="spacingAndGlyphs">10</text>
<text x="618.02" y="364.4" font-size="6.9" text-anchor="middle" fill="#111"  textLength="46.44" lengthAdjust="spacingAndGlyphs">entropy(ATM)</text>
<rect x="555.45" y="370.5" width="32" height="19.1" rx="1" fill="#fff" fill-opacity="0.85" stroke="#dcdcdc" stroke-width="0.6"/>
<circle cx="563.25" cy="375.5" r="2.3" fill="#0000ff"/>
<polygon points="563.15,381.50 563.77,383.05 565.43,383.16 564.15,384.22 564.56,385.84 563.15,384.95 561.74,385.84 562.15,384.22 560.87,383.16 562.53,383.05" fill="#ff9f10"/>
<text x="574.05" y="377.6" font-size="6.3" text-anchor="start" fill="#1a1a1a"  textLength="8.30" lengthAdjust="spacingAndGlyphs">ON</text>
<text x="574.05" y="385.9" font-size="6.3" text-anchor="start" fill="#1a1a1a"  textLength="10.46" lengthAdjust="spacingAndGlyphs">OFF</text>
<path d="M409.3,485.8 L409.3,481.7 Q409.3,478.5 412.5,478.5 L419.3,478.5 Q422.5,478.5 422.5,481.7 L422.5,485.8 Z" fill="#000"/>
<circle cx="415.9" cy="474.1" r="4.7" fill="#fff"/>
<circle cx="415.9" cy="474.1" r="4.05" fill="#000"/>
<text x="437.3" y="483.4" font-size="11.1" text-anchor="start" fill="#111" >#subject</text>
<path d="M573.7,485.8 L573.7,481.7 Q573.7,478.5 576.9,478.5 L583.7,478.5 Q586.9,478.5 586.9,481.7 L586.9,485.8 Z" fill="#000"/>
<circle cx="580.3" cy="474.1" r="4.7" fill="#fff"/>
<circle cx="580.3" cy="474.1" r="4.05" fill="#000"/>
<text x="598.2" y="483.4" font-size="11.1" text-anchor="start" fill="#111" >#subject</text>
</svg>
</body></html>
